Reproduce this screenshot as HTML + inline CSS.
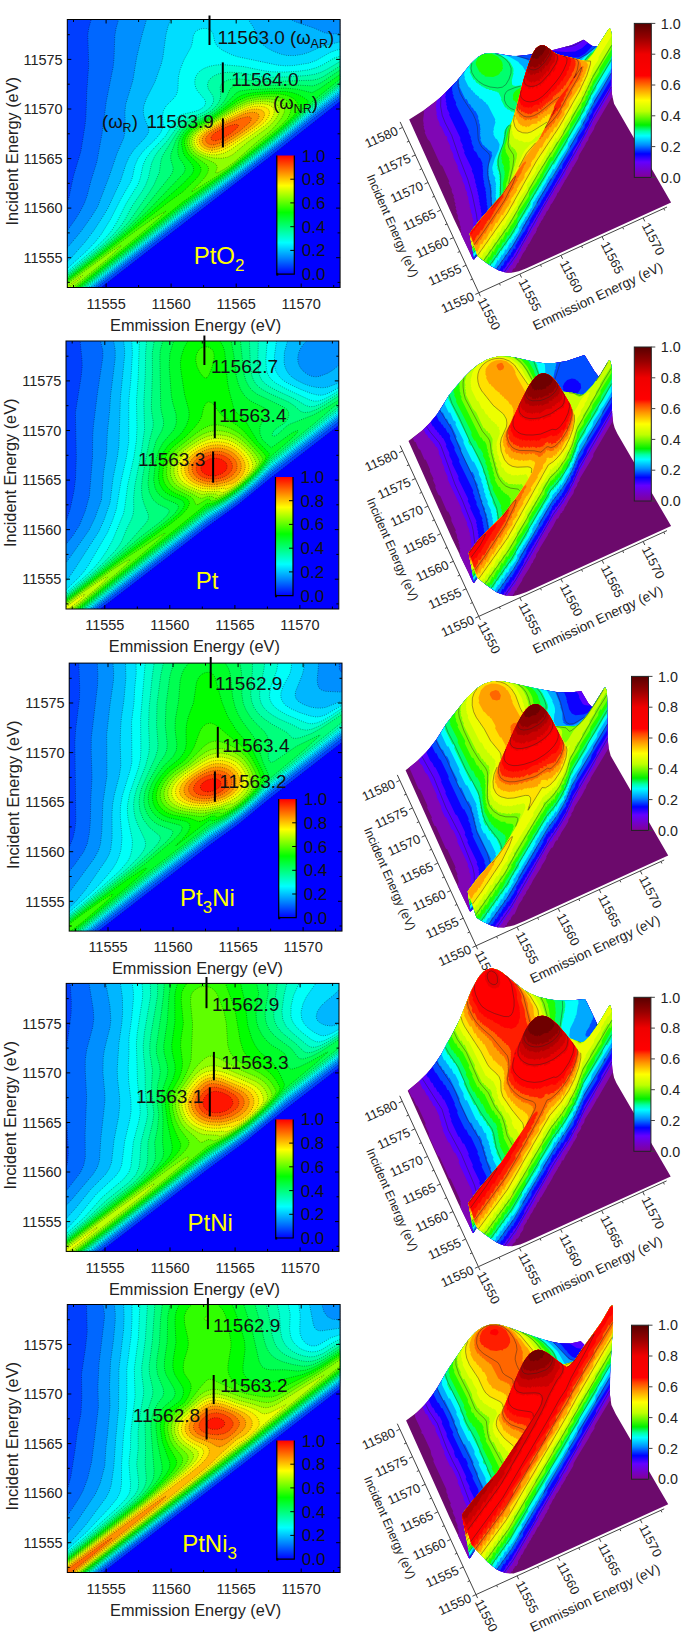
<!DOCTYPE html><html><head><meta charset="utf-8"><style>
html,body{margin:0;padding:0;background:#fff;width:685px;height:1638px;overflow:hidden}
svg{position:absolute;left:0;top:0}
text{font-family:"Liberation Sans",sans-serif}
.k{stroke:#000;stroke-opacity:.55;stroke-width:.7;stroke-dasharray:1 1.3}
</style></head><body>
<svg width="685" height="1638" viewBox="0 0 685 1638">
<clipPath id="c2_0"><rect x="67.3" y="19.5" width="272.8" height="268.0"/></clipPath>
<g clip-path="url(#c2_0)">
<rect x="67.3" y="19.5" width="272.8" height="268.0" fill="#0000ff"/>
<path class="k" fill="#003eff" d="M101 288.3l-34.5-0.1 0-269.4 274.1-0.1 0 83.1-1 0-68 53.7-126 97.3-44.2 34.4z"/>
<path class="k" fill="#0067ff" d="M97 288.3l-30.5-0.1 0.1-86.5 1 0 1.4-4.5 4.4-21 7.5-25 4.1-25.7 0.9-8.7 0.9-25.6 1.9-26-0.9-30.4 0.9-6.6 2.7-9.4 249.2-0.1 0 79.7-1 0-27.5 21.4-38.1 30.7-43.4 33.9-48 36.4-85.1 66.4 0 1z"/>
<path class="k" fill="#008fff" d="M94.6 288.3l-28.1-0.1 0.1-58 1 0 7.8-11 4.9-8 4.1-8 2.7-7.4 4-15.6 5.8-18.4 5.2-28.6 4.2-32 6.8-34 0.9-8.4 0.8-23 1.3-7.6 2.7-9.4 221.8-0.1 0 77.2-1 0-27.6 21.4-32 26.2-46 36-51.4 39-37.5 29.3-50.4 39.4z"/>
<path class="k" fill="#00b6ff" d="M92 288.3l-25.5-0.1 0.1-40.7 1 0 13.5-16.3 10-14 6.5-10.4 11.8-31 7.6-22.4 6.8-15.6 1.5-8-0.4-17.6 0.8-8 7.1-23.4 3.9-23.6 5-21 5-17.4 144.6 0 0 1 5.3 2.4 17 5.7 11 4.9 7.4 1.2 8.6-0.6 0 60.3-1 0-27.6 21.5-38 31.3-43.4 34-48 36.1-90.2 70.6 0 1z"/>
<path class="k" fill="#00ddff" d="M90 288.3l-23.5-0.1 0.1-26.7 1 0 3.6-3.7 14.1-16 8.3-11 9.4-14.4 4.9-8.2 12.7-27.4 5.3-16.6 3.3-7.4 4.7-7 10.9-11.6 3.4-5 0.6-2.4-0.3-3-3.6-8.6-1.4-5-0.2-4 0.4-4 2.6-7.4 8.7-17 6.2-17.6 1.6-6.4 3.1-23 2-8 2.9-8 77.7 0 0 1 4.9 7.4 5.1 12 3.8 5 4.5 3.6 6.4 3.4 7.4 2.9 6.4 1.4 7.6 0.1 8.6-1.4 5.8-1.9 14.6-6.6 17-3.9 0 50.1-1 0-27.6 21.5-39.4 32.6-43 33.7-47 35.2-92.2 72.3 0 1z"/>
<path class="k" fill="#00fff9" d="M88.6 288.3l-22 0 0-20 1-0.1 18.8-17 8.6-9 6.3-8 9.3-15.1 10-19.6 10-17.4 1.7-4.3 2.5-12 3.3-7.6 5.1-7 13.2-13 4.6-6 2.2-6.4-0.7-10 0.9-5 2.8-5 8.1-8 2.5-4 1.1-4.6 0.5-12 1.7-7.4 3.9-10 7-12.6 1.2-4 1.2-8 2.2-3.6 3-2 4-1.1 4 0 3.6 1.3 2.7 3.4 2 9 2.3 4 5.1 4 9.4 4.6 6.1 2 40.2 8.4 7.6 0.6 7.4-0.2 15.6-2.4 7.4-2.6 14-8.1 6.6-2.4 4-0.9 0 40.9-1 0-27.6 21.5-32 27-45 35.4-52.4 39.4-37.5 29.4-56.5 44.4z"/>
<path class="k" fill="#00ffd0" d="M86.6 288.3l-20 0 0-16.9 1 0 2-1.6 25.9-22 9.8-9.6 6.2-7.4 5.3-8.6 9.2-18.4 12.1-19.6 2.2-6 2.7-13 3.1-7 5.5-7.4 13.8-14.6 10.8-17.4 2.6-2.6 3.2-1.7 12-2.8 5-1.7 3.1-1.8 2.5-2.4 1-2.6-0.4-3-7.8-9.4-1.6-3-0.9-3.6-0.1-3.4 0.8-3.6 1.5-3 2.6-3 3.9-2.6 5.4-2.2 6.6-1.3 7-0.5 20.4 1.9 20.6 4.2 8 1.1 13 0.3 14.5-0.9 9.7-1.4 7.8-2.2 6.2-2.8 11.2-6.7 6.6-2.1 0 32.4-1 0-27.6 21.6-20.4 17.7-19.6 15.9-42 32.9-47.4 35.4-95.6 75.3 0 1z"/>
<path class="k" fill="#00ffa6" d="M85 288.3l-18.4 0 0-14.8 1 0 3.4-2.7 31.6-26 10.6-10 7.4-8.6 4.6-7 6.8-13 10.2-15 3.4-6 2.8-7.4 3.2-14.6 3.1-7 3.8-5.4 9.1-10.4 12-16.9 3-3 2.4-1.6 13.6-4.4 5.4-2.4 4.2-2.9 3.3-3.4 2-4 0.1-3.6-1.1-3-4.1-6-1-4 1-4 2.7-3.4 3.5-2.3 4.4-1.8 5-1.1 6-0.4 10.6 0.6 18.4 3.6 9 0.9 19-0.4 20-1.4 8-1.3 6.6-2.2 5.6-2.8 12.3-7.4 1.1-0.1 0 24.9-1 0-27.6 21.7-19.3 16.9-20.1 16.7-43 33.7-47 34.9-97.2 76.7z"/>
<path class="k" fill="#00ff7c" d="M83.6 288.3l-17 0 0-13.1 1 0 39-31.4 12.7-11.6 9.3-10 21.1-30.4 4.3-7 5.4-12.6 1.5-11.4 1.5-5 14.1-22.6 5-6.4 4.5-4.1 4-2.2 16-6.4 5.1-3.3 4.3-4 3.1-4 1.6-3.6 0.6-4-0.5-8 0.8-2.4 1.7-2 5.3-2.9 7-1.1 6 0.2 14.2 2.2 8.4 0.6 49-1.6 5-1.1 5.4-2.3 16.6-10.5 1 0 0 18.5-1 0-27.6 21.7-19.2 17.3-19.8 16.4-43 33.8-47.4 35.1-98.8 78.1z"/>
<path class="k" fill="#00ff52" d="M82 288.3l-15.4 0 0-11.6 1 0 44.4-35.5 14.6-13 11-11.4 32.1-40 2.7-4 0.9-4.6-2.6-9 0.1-5 4.9-13.4 4.8-8.6 4.1-4.6 4.4-3.6 18.4-8.2 9.2-6.6 4.6-4.4 3.2-4 2.3-4 2.9-6.8 2-2.6 3.4-1.8 4.6-0.7 20.4 0.9 29.6-1.1 23 1.2 4-1.2 5-2.3 18-12.1 1 0 0 12.3-1 0-27.6 21.9-18 16.7-20.8 17.6-43.2 34-47.4 34.8-100.3 79.6z"/>
<path class="k" fill="#00ff29" d="M80.6 288.3l-14 0 0-10.3 1 0 33.6-26.2 28.3-23.6 18.3-17.4 35.9-37.6 1.3-3 0.1-2.4-1.2-3-4.1-6-1.4-3-0.6-4 0.2-6 1-5 2.2-5 3.2-4.6 4.1-4 5.3-3.4 14.2-6.4 6-3.6 10.4-8.6 11.6-12.1 3.6-2 9.4-1.4 36-1.6 12.2 1.1 14.8 3.5 7.6-4 20-13.9 1 0 0 4.7-1 0-27.6 22.4-14.8 14.9-20.1 17.4-47.1 37.3-47.4 34.6-101.9 81.1z"/>
<path class="k" fill="#01ff00" d="M79 288.3l-12.4 0 0-9 1 0 29.1-22.5 32.6-26 53.3-46.8 9.4-9.8 1.6-3.4-0.1-3.6-1.7-3-7.5-9-1.3-3.4-1.4-7.6 0.4-4 1.9-4.4 2.9-4 3.6-3.6 6.2-3.9 15-7.1 10.1-7 15.9-12.7 4-2.2 5-1.6 8-1.2 15-1.2 16.4 0.2 6.6 1.2 5.4 1.9 5.2 2.6 4.9 3.6-0.2 1.4-1.5 2.6-6.7 7.4-10.4 10-13.3 11.6-46 36.4-47.4 34.1-103.5 82.9z"/>
<path class="k" fill="#30ff00" d="M77 288.3l-10.4 0 0-7.7 1 0 44.4-34.1 55.6-43.8 15-10.7 12.2-11.8 3.9-4.4 2.4-5-0.5-4-2.2-3-9.8-9.2-2-3.4-2-6.4-0.1-3.6 1.2-4 2.5-4 3.4-3.5 6.4-4.3 15.6-7.6 25-17.4 9-3.9 7-1.4 8.4-0.9 9-0.4 7.6 0.3 5.4 0.9 4.6 1.4 4 2.2 2.8 2.6 2.7 5.6 0.2 1.4-0.7 1.6-7.3 8.4-13.7 12.6-48.1 38.4-46.9 32.9-105.2 85.1z"/>
<path class="k" fill="#5fff00" d="M192.6 191.3l-1 0.3-0.1-0.4 9.5-9.4 4.3-5 2.4-4 0.9-3.6-0.5-2.4-1.4-2-13.7-9.8-2.8-3.2-1.8-3.6-1.4-4.4 0.2-4 2-4.6 3.4-4 6.4-4.7 16.3-8.3 22.7-14.8 9.6-4.3 12-2.3 13.4-0.3 9.6 1.7 3.2 1.6 2.6 2 1.7 2.4 0.8 2.6 0 3-0.8 3.4-2.3 5-7.5 8-50.9 41.6-10.9 7.4zM75 288.3l-8.4 0 0-6.3 1 0 72.4-54.3 16-10.9 10-5.8-5.5 5.8-21 18-64.1 52.4z"/>
<path class="k" fill="#8fff00" d="M217.6 172.8l-2.1 0 1.7-5-0.4-2-1.2-1.8-2.7-1.8-14.9-6.8-3.9-3.2-2.5-3.2-1.9-4.2-0.3-4 1.3-4 2.8-4 7.2-5.6 14.3-7.3 23.6-14.4 9-4 10-2.2 11-0.4 8.4 1.3 3 1.4 2.4 1.6 2.2 4-0.3 5-2.9 6-5.4 6.9-6.4 6.7-12.6 10.1-22.4 19.9-9.6 6.9zM72.6 288.3l-6 0 0-4.7 1 0 41.4-30.4 9-6 3-1.6 0.5 0.2-14.4 13.4-34.1 28 0 1z"/>
<path class="k" fill="#beff00" d="M221.6 158.3l-7.6-0.3-7-1.4-6.4-2.6-4.6-3.2-3.3-4.6-1-4.4 1-4.6 3.3-4.4 7-5.2 13-6.8 22-12.9 9-4.1 9-2.1 9-0.5 7.6 1.2 4.9 2.8 1.8 3.6-0.6 5-3 5.4-4.9 5.6-6.2 5.2-17.7 12.8-14.3 11.9-5 2.5zM68.6 288.3l-2 0 0-1.9 1 0 12.4-9.6 2.6-1.3-2.6 3.1-11.3 8.6z"/>
<path class="k" fill="#edff00" d="M217 154.8l-6 0-6-1.3-5-2.4-3.6-3.3-2-4-0.2-4 1.7-4 3.7-4 5.4-3.8 31-17.1 11-4.9 8-2 7.6-0.3 6.2 1.1 4.1 2.4 1.5 3.6-0.8 4.4-3.1 5-5 5-34.5 24.3-7 3.6z"/>
<path class="k" fill="#ffe500" d="M215.6 152.3l-5 0.1-5-1-4.6-2.4-3.1-3.2-1.3-3.6 0.3-3.4 1.8-3.6 3.3-3.3 5.6-3.7 27.4-14.7 11.6-5.2 6.4-1.7 6.6-0.4 5.4 0.9 3.4 2.1 1.2 3-0.8 4-2.9 4.6-4.8 4.4-9.1 6.6-22.4 14.9-7.6 3.8z"/>
<path class="k" fill="#ffba00" d="M212 150.3l-4-0.5-3.8-1.6-3.1-2.4-1.5-2.6-0.5-3 0.9-3 2-2.8 3-2.6 5.6-3.6 17-8.9 18-8.4 6-1.6 5.4-0.3 4.1 0.8 2.8 2 0.8 3-1.5 4-3.5 4-5.5 4.4-16.6 11.5-11 6.8-8 3.5z"/>
<path class="k" fill="#ff9000" d="M213 147.8l-3.4-0.1-3-1.1-2.6-1.8-1.6-2.6-0.3-2.4 0.7-2.6 1.8-2.4 2.8-2.6 17.2-9.5 19-8.6 5-1.4 4.4-0.5 3.4 0.6 2.1 1.4 0.6 2.6-1.8 3.4-3.4 3.6-6.3 5-12.3 8.4-9.3 5.7-7 3.3z"/>
<path class="k" fill="#ff6700" d="M214 144.8l-3 0-2.4-0.8-1.8-1.2-1.1-2-0.1-2 0.8-2 3.9-4 13.4-7.6 15.9-6.6 7.4-1.9 2.6 0.1 1.5 1 0.2 2-1.9 3-10.6 9-14.2 9.1-5.6 2.5z"/>
<path class="k" fill="#ff3e00" d="M216 140.8l-3.4-0.2-1.9-1.8 1-3 3.3-3 6.1-3.6 8.3-3.4 6.1-1.6 2.8 0.6 0 1.4-1.5 2-6.4 5.6-8.4 4.9z"/>
</g>
<rect x="67.3" y="19.5" width="272.8" height="268.0" fill="none" stroke="#000" stroke-width="1"/>
<path d="M73.5 287.5v-2.5M73.5 19.5v2.5M106.1 287.5v-4.0M106.1 19.5v4.0M138.6 287.5v-2.5M138.6 19.5v2.5M171.1 287.5v-4.0M171.1 19.5v4.0M203.6 287.5v-2.5M203.6 19.5v2.5M236.2 287.5v-4.0M236.2 19.5v4.0M268.7 287.5v-2.5M268.7 19.5v2.5M301.2 287.5v-4.0M301.2 19.5v4.0M333.7 287.5v-2.5M333.7 19.5v2.5M67.3 282.4h2.5M340.1 282.4h-2.5M67.3 257.7h4.0M340.1 257.7h-4.0M67.3 232.9h2.5M340.1 232.9h-2.5M67.3 208.1h4.0M340.1 208.1h-4.0M67.3 183.3h2.5M340.1 183.3h-2.5M67.3 158.6h4.0M340.1 158.6h-4.0M67.3 133.8h2.5M340.1 133.8h-2.5M67.3 109.0h4.0M340.1 109.0h-4.0M67.3 84.2h2.5M340.1 84.2h-2.5M67.3 59.4h4.0M340.1 59.4h-4.0M67.3 34.7h2.5M340.1 34.7h-2.5" stroke="#000" stroke-width="1" fill="none"/>
<text x="106.1" y="308.8" font-size="14.5" text-anchor="middle" fill="#222">11555</text>
<text x="171.1" y="308.8" font-size="14.5" text-anchor="middle" fill="#222">11560</text>
<text x="236.2" y="308.8" font-size="14.5" text-anchor="middle" fill="#222">11565</text>
<text x="301.2" y="308.8" font-size="14.5" text-anchor="middle" fill="#222">11570</text>
<text x="62.7" y="262.9" font-size="14.5" text-anchor="end" fill="#222">11555</text>
<text x="62.7" y="213.3" font-size="14.5" text-anchor="end" fill="#222">11560</text>
<text x="62.7" y="163.8" font-size="14.5" text-anchor="end" fill="#222">11565</text>
<text x="62.7" y="114.2" font-size="14.5" text-anchor="end" fill="#222">11570</text>
<text x="62.7" y="64.6" font-size="14.5" text-anchor="end" fill="#222">11575</text>
<text x="110.1" y="330.6" font-size="16.3" fill="#222">Emmission Energy (eV)</text>
<text transform="translate(17.5 151.3) rotate(-90)" font-size="16.3" text-anchor="middle" fill="#222">Incident Energy (eV)</text>
<linearGradient id="g2_0" x1="0" y1="0" x2="0" y2="1"><stop offset="0.000" stop-color="#ff0000"/><stop offset="0.130" stop-color="#ff8000"/><stop offset="0.255" stop-color="#ffff00"/><stop offset="0.480" stop-color="#00ff00"/><stop offset="0.735" stop-color="#00ffff"/><stop offset="0.870" stop-color="#0080ff"/><stop offset="1.000" stop-color="#0000ff"/></linearGradient>
<rect x="276.8" y="155.5" width="17.5" height="118.6" fill="url(#g2_0)"/>
<path d="M276.8 155.5V274.1H294.3V155.5" stroke="#000" stroke-width="1.2" fill="none"/>
<path d="M276.3 274.4h2" stroke="#000" stroke-width="2.5"/>
<path d="M294.3 250.4h-4M294.3 226.7h-4M294.3 202.9h-4M294.3 179.2h-4" stroke="#000" stroke-width="1"/>
<text x="301.8" y="280.1" font-size="17" fill="#111">0.0</text>
<text x="301.8" y="256.4" font-size="17" fill="#111">0.2</text>
<text x="301.8" y="232.7" font-size="17" fill="#111">0.4</text>
<text x="301.8" y="208.9" font-size="17" fill="#111">0.6</text>
<text x="301.8" y="185.2" font-size="17" fill="#111">0.8</text>
<text x="301.8" y="161.5" font-size="17" fill="#111">1.0</text>
<path d="M209.5 15.5V45.0" stroke="#000" stroke-width="2"/>
<path d="M222.8 62.4V92.6" stroke="#000" stroke-width="2"/>
<path d="M222.9 118.3V147.4" stroke="#000" stroke-width="2"/>
<text x="217.6" y="44.0" font-size="19" fill="#111">11563.0</text>
<text x="231.2" y="85.6" font-size="19" fill="#111">11564.0</text>
<text x="146.6" y="127.7" font-size="19" fill="#111">11563.9</text>
<text x="290.0" y="44.0" font-size="18.5" fill="#111">(&#969;<tspan font-size="12.5" dy="4">AR</tspan><tspan dy="-4">)</tspan></text>
<text x="273.0" y="109.0" font-size="18.5" fill="#111">(&#969;<tspan font-size="12.5" dy="4">NR</tspan><tspan dy="-4">)</tspan></text>
<text x="102.0" y="128.0" font-size="18.5" fill="#111">(&#969;<tspan font-size="12.5" dy="4">R</tspan><tspan dy="-4">)</tspan></text>
<text x="193.7" y="263.6" font-size="24" fill="#ffff00">PtO<tspan font-size="17" dy="7">2</tspan></text>
<clipPath id="c2_1"><rect x="66.0" y="341.0" width="272.8" height="268.0"/></clipPath>
<g clip-path="url(#c2_1)">
<rect x="66.0" y="341.0" width="272.8" height="268.0" fill="#0000ff"/>
<path class="k" fill="#003eff" d="M100.2 609.8l-35 0 0-269.6 274 0 0 85.5-1 0-67 51.7-33 27.1-31.7 22.7-105.9 81.6z"/>
<path class="k" fill="#0067ff" d="M96.8 609.8l-31.6 0 0-89.5 1 0 0.5-1.1 3.5-10.4 3.9-18.6 1.4-11.4 0.8-21.6-0.9-44.4 5.8-36.6 1-10-0.2-6.4-2-19.6 259.2 0 0 82-1 0-67 51.8-17 14.8-15 12.2-15 11.1-17.4 11.8-110 84.9z"/>
<path class="k" fill="#008fff" d="M93.8 609.8l-28.6 0 0-65.7 1 0 6.6-8.3 6.7-10.6 5.8-14.4 4.1-15 3.1-38.6 0.2-21 0.7-10.4 3.9-31.6 5.6-37.4-0.1-6.6-2.6-10 239 0 0 79.3-1 0-67 52-17.4 15.6-14.6 11.9-15 11-17.4 11.5-112.7 87.3z"/>
<path class="k" fill="#00b6ff" d="M91.8 609.8l-26.6 0 0-47.4 1 0 4-5.4 18.8-26.8 5.8-11.9 6.7-18.5 2-26.6 3.1-20.4 0.7-19 2.3-22.6 1-16 4.6-37 0-8-1.7-10 192.9 0 0 1-3.7 4-2.8 4.6-1.5 4-0.6 4 0.2 4 1.3 4 2.1 3.4 3.4 3.3 3.4 2.3 4 1.6 3.6 0.4 3.4-0.4 8.6-3.2 5.5-3.4 4.9-4.2 1 0 0 51.7-1 0-67 52.2-17 15.5-15 12.3-15 11-17.4 11.3-115 89.2z"/>
<path class="k" fill="#00ddff" d="M89.8 609.8l-24.6 0 0-28.6 1 0 6.6-9.2 26.2-40.8 5.2-11.8 5.8-16.6 3.1-25 4.4-21.6 1.4-11 1.5-47 4.3-43.4-0.1-5.6-1.1-9 164.3 0-3.4 12-0.3 10 0.7 4 1.6 4 2.3 3.6 2.9 3 5.1 3.4 7.1 3.6 6.4 2.3 6.6 1.3 5.4 0.4 5-0.6 12-4.4 0 32.5-1 0-67 52.3-17 15.8-15 12.5-15 11-17.4 11-116.9 90.9z"/>
<path class="k" fill="#00fff9" d="M87.8 609.8l-22.6 0 0-20.2 1 0 11.9-11.4 5.7-6.4 4.6-6.6 19.3-33 5.3-13 3.3-10 4.6-27.4 5.6-25 2.2-14.6 0.1-41.4 2-20.6 1.6-26.4-0.6-13.6 144.8 0-2.2 16 0.3 10.6 1.1 4 1.8 3.4 2.7 3.6 3.4 3 5.8 3.4 10.7 5 11 4.3 6.6 1.6 4 0.1 4-1 5.4-2.3 7-4.1 1 0 0 25.5-1 0-67 52.6-17 16.2-15.4 12.9-15 10.9-17 10.4-63 48.8-55.7 43.7z"/>
<path class="k" fill="#00ffd0" d="M86.2 609.8l-21 0 0-17.1 1 0 20.7-17.9 8-8 6.2-7.6 6-9 5.5-10 10.9-26.4 1.2-6 3-22.6 6.3-28.4 2.4-16 0.6-12.6-0.5-27.4 1.7-23 1.2-37.6 127.8 0-1.4 20 0.6 9.6 1.2 4 1.9 3.4 2.6 3 3.7 3 10.9 6 22.5 10.5 5 1.5 4-0.2 5-1.5 6.6-3.3 8.4-5.3 1 0 0 20.5-1 0-67 52.8-16.4 16-15.6 13.3-15.4 11.1-17 10.2-120.3 94z"/>
<path class="k" fill="#00ffa6" d="M84.8 609.8l-19.6 0 0-15.1 1 0 27.6-22.9 11.8-11 9.6-10 3.8-5 2.9-5 4.8-12 4.8-9.6 1.6-5 0.7-5.4-0.2-11 1.2-12 6.6-34 3.2-22.6-0.8-26.4 1.4-26 0.5-25 0.9-11.6 111.7 0-0.5 23 1 9.6 1.2 4 1.9 3.4 2.3 2.6 3.9 3 7.7 4.3 18.7 8.7 11.3 6.7 4 1.2 4.4-0.3 6-2.1 8-4.3 10-6.4 1 0 0 15.8-1 0-67 53.1-16.1 16.3-15.3 13.2-16 11.5-17 9.8-63 49-58.8 46.5z"/>
<path class="k" fill="#00ff7c" d="M83.2 609.8l-18 0 0-13.6 1 0 25.5-20.4 28.3-24.6 8.5-8.4 16.4-18.6 2.3-3 1.1-2.4 0.2-2.6-0.5-2.4-4-10-1.6-5.6-0.7-5.4-0.1-6.6 0.8-8.4 3.6-19.6 3.4-17 3.8-15 0-4.4-1.6-10.6-0.2-6 1-32.4-0.1-20 2-12.6 95.1 0 1 25.6 1.5 10 1.7 4.4 2.1 3.6 3.1 3.1 4 2.9 7 3.8 19.2 8.6 5.3 3.6 6 5.4 3.9 1.4 5.6-0.6 7-2.7 9.4-5.2 12-7.9 1 0 0 10.8-1 0-67 53.7-13.7 14.5-13.7 12.5-18.6 13.7-18.4 10.5-63 49-60.3 47.9z"/>
<path class="k" fill="#00ff52" d="M81.8 609.8l-16.6 0 0-12.2 1 0 27-21.4 47-39 20.2-15.4 6-5.6 2.6-4 0-2-1.2-1.4-10-4.8-5-4.6-3.5-7.2-1.3-8.4 0.8-10 2.2-13.6 2.1-9 3-10.4 5.7-10 1.8-6-0.2-5-2.2-9-0.5-4.6-0.8-49 0.4-7 2.7-10 77.4 0 3.4 33 1.9 7 3 6 3.5 4.3 4.9 3.7 26 12.6 3.6 2.4 1.8 2.6 0.3 4-1.6 4.2-3 3.4-7.4 4.7-3 2.7-1.7 3.4 0.1 1.1 1 0.9 2-0.3 2.6-1.6 8.4-7.9 3-2 24-9.4 9-4.9 16-9.8 1 0 0 2.6-1 0-23.4 20.3-43.6 35.6-14.4 16-15.6 13.9-17 12.2-17.4 9.4-63 49.3-61.8 49.2z"/>
<path class="k" fill="#00ff29" d="M80.2 609.8l-15 0 0-11 1 0 71.6-56.2 28.4-21.4 8.4-7.4 3.7-5.6 0-2.4-1.5-1.9-12.6-5.3-5.4-4.3-2.2-3.1-1.6-3.4-1.4-8 1.8-17.6 3.3-11.4 4.2-8 10.6-12.6 1.9-4 1-4-0.3-8-3.4-11.4-1.4-7.6-2.1-29 0.7-13 4-13 57.1 0 2.8 14.6 2.5 21.4 2 7.6 2.5 6 3.4 5.4 4 4.1 4.6 2.9 11.4 5.5 2.5 2.1 1.3 2 0.2 1.4-0.5 2-6 7.6-1.9 4.4 0.2 6.6 2.4 6 8.8 8 21-15.1 5-2.2 0.9 0.3-0.3 1-1.8 2.4-4.6 4.6-20.2 17.3-5.7 7.7-7 8-8.2 8-8.6 7.4-8.9 7-9 6-8.6 4.7-8.4 3.8-63 49.5-63.2 50.6z"/>
<path class="k" fill="#01ff00" d="M78.8 609.8l-13.6 0 0-9.9 1 0 67-51.4 35.7-26.3 9.8-8.4 4.8-6 1-3.6-1.4-3-2.3-1.5-12-5.1-3.5-2.4-2.5-2.6-3.3-5.8-1.1-7 1.4-14.6 1.4-5 2.2-5 4.8-6.9 9.8-8.5 4.5-5 4-6.6 2.2-6.4 0.4-4-0.3-4.6-4.3-16-3.7-24.4-0.4-7 0.8-6 2.8-9 3.7-6.6 0-1 32.5 0 0 1 3.1 5.6 1.5 5.4 2.7 30 1.9 9.6 4.5 17 1.9 3 6.6 6 3.4 3.8 11.7 19.6 11.7 12.2 0.1 1.4-1 2.4-4.3 6.6-6.8 8-8 8-9.3 8-9.1 6.8-9 5.6-8 4.1-7 2.4-63 49.9-64.6 52.2 0 1z"/>
<path class="k" fill="#30ff00" d="M206.8 377.8l-1.6 0.3-1.4-0.8-3.6-4.3-3.1-6.2-1.4-6.6 0.5-5 1.9-4.4 3.1-3 4-1.1 3.6 0.5 3 1.9 1.7 2.7 0.7 3.4-0.4 5.3-2 7.3-3 7.4zM77.2 609.8l-12 0 0-8.7 1 0 54-40.9 51-36.8 10.6-8.6 5.8-6.6 1.8-4.4-0.2-2-1.1-2-3.3-2.5-9-3.9-4.6-2.6-3.5-3-2.9-4-1.5-4-0.6-4.6 1-12 2.4-7 4.1-6.4 4-3.9 10.8-8.7 9.2-9.4 4.8-6 2.5-4.6 2.1-9.4 2.2-4.2 2.4-1.8 3 0.7 3 2.8 4.9 6.9 3.3 3.6 14.8 9.7 6 4.9 11.2 12.8 8.1 8.6 3.4 4.4-0.5 2.6-1.9 3.4-4.5 6-5.9 6.6-14.3 12.8-10 7.3-9 5.2-7.6 3.1-5.4 0.5-129.1 105.1 0 1z"/>
<path class="k" fill="#5fff00" d="M198.2 504.4l-1.4 0.3-1-0.4-2.5-5.1-2.5-2.4-14.6-7.3-3.6-2.7-3-3.6-2.3-5-0.8-5.4 0.5-7 1.7-6 3.3-6 4.6-5 20.2-16 8-5.1 5.4-2.2 5.6-0.7 6.4 0.8 7.6 2.5 9 4.8 8 7 13.5 14.9 2.5 4-0.7 2.4-4.1 6.6-7.6 8.4-9.3 8.6-10.3 7.7-7.6 4.6-6.4 2.9-5 1.1-1.6-0.6-0.5-1.3-2.5-0.2zM75.8 609.8l-10.6 0 0-7.6 1 0 32.6-24.5 30-21.5 28.9-19 5.8-3.4 1.7-0.6-5.5 5.6-29 25-54.7 45z"/>
<path class="k" fill="#8fff00" d="M216.2 498.3l-2-0.1-1.4-1.6-5.6-0.3-4.4 1.8-3 0-7.6-4.3-11.6-5.6-4.7-3.4-3.2-4-2-5-0.5-5.6 0.8-6 2.1-5.4 3.4-5 4.6-4.6 13.7-10.1 7.4-4.7 7.6-2.9 8-0.9 5.4 0.6 5.6 1.4 5.4 2.3 5 3.1 6 5.1 8 8.1 4.2 5.6 2.2 4.4-1.2 3.6-3.8 5.4-5.5 6-7 6.6-6.9 5.4-7.4 5.1-6.6 3.4zM73.8 609.8l-8.6 0 0-6.4 1 0 12.6-9.6 34.5-24.6 11.9-7.5 4-1.9 1 0-3.6 4.4-9.8 9-42.6 35.6 0 1z"/>
<path class="k" fill="#beff00" d="M220.2 495.3l-2.4 0.2-1.6-1.5-9-0.2-3.4 0.7-2.6-0.1-14.4-6.2-5.6-3.3-3.7-3.7-2.3-4-1.3-5 0.2-5.4 1.4-5 2.7-5 4-4.6 8-6.3 10-6.4 7-3.1 6.6-1.4 6-0.1 6 0.9 6 1.9 5.4 3 6.6 5.1 6.7 7 3.8 5.4 2.1 5.6-1.1 3-3.1 4.4-10.3 10.6-12 9-5.4 3zM71.8 609.8l-6.6 0 0-5 1 0 12.6-9.6 18.9-13 7.5-4.5 2.3-0.5-2.8 3.6-6.4 6-19.1 16.4-7.2 5.6z"/>
<path class="k" fill="#edff00" d="M223.8 492.3l-2.6 0.2-1.4-1.2-16.6 0.3-6.4-2-7.6-3.2-5-3.2-3.8-4-2.2-4.4-0.7-5 0.6-5 1.8-4.6 3.1-4.4 4.8-4.6 7-5 7-4 6.4-2.6 6-1.1 6.6 0.1 6.4 1.2 6 2.3 6 3.9 6.4 5.8 4.3 5.4 2.3 5 0.6 3.6-0.3 2-2 3.4-3.8 4.6-5.7 5.4-6.2 5-6.4 4zM68.2 609.8l-3 0 0-2.9 1 0 12.6-9.5 6.1-3.2-1.3 2-4.5 4.6-10.4 8 0 1z"/>
<path class="k" fill="#ffe500" d="M214.8 489.3l-13-0.8-7.6-2.7-5.5-3-4-3.6-2.5-4-1.1-4.4 0.3-5 1.9-5 3.7-5 5.2-4.6 7-4.5 6.6-3 6-1.6 6-0.4 6.4 0.7 5 1.4 5 2.4 5 3.6 4.1 4 3 4 1.9 4 0.9 4-0.4 4-1.8 3.4-4.4 5-5.8 5-5.9 4-4.6 1.9-1.4-0.2-0.6-0.7z"/>
<path class="k" fill="#ffba00" d="M216.8 486.8l-6 0.1-7-0.6-5.6-1.7-5-2.3-4-2.9-2.5-3.2-1.6-3.4-0.5-4.6 0.9-4.4 2.1-4 3.5-4 4.4-3.6 5.7-3.4 6-2.5 5.6-1.2 5.4-0.3 5 0.6 5 1.4 4.6 2.1 4 2.8 3.6 3.5 2.9 4 1.6 4 0.4 3.6-0.8 4-2.1 4.4-2.5 3-4.1 3.6-4.6 2.4-1.4-0.3-6.6 1.9z"/>
<path class="k" fill="#ff9000" d="M217.2 484.3l-5.4 0.2-6-0.5-8.6-2.8-3.9-2.4-2.5-2.7-1.9-3.3-0.7-3.6 0.3-3.4 1.4-3.6 2.3-3.4 3.3-3 4.3-3 5-2.5 5-1.6 5-0.8 4.4 0 4.9 0.9 4.1 1.4 4 2.1 3.7 2.9 2.9 3.6 1.8 3.4 0.7 3.6-0.3 3.4-1.3 3-2.1 3-2.7 2.6-3.9 2.4-4.2 1.9z"/>
<path class="k" fill="#ff6700" d="M216.8 481.8l-9-0.1-4-0.9-4.1-1.6-3.1-2-2.5-2.4-1.4-2.6-0.7-3 0.2-3 1-3 2-3 2.6-2.4 7.4-4.6 8.6-2.1 8 0.4 7.4 2.9 5.5 4.8 1.7 3 0.7 3-0.1 3-0.8 2.6-4.1 5-6.9 3.9z"/>
<path class="k" fill="#ff3e00" d="M213.8 479.3l-8.4-1.1-3.6-1.4-2.6-1.8-2-2.4-1-2.8 0-3 0.8-2.6 2-3 2.8-2.4 3.4-2.1 4-1.5 4.6-0.9 4 0 4 0.7 3.4 1.4 4.1 2.8 2.5 3.6 0.8 4-1 3.4-2.7 3.6-4.1 2.7-5 1.9z"/>
<path class="k" fill="#ff1500" d="M215.8 475.8l-4 0.2-4-0.6-3-1.3-2.6-2.1-1.2-2.2-0.1-3 1.1-2.6 2.3-2.4 5.5-2.9 6-0.8 5.5 1.1 4.2 3 1.2 2 0.4 2-0.2 2-1.1 2.3-4 3.3z"/>
</g>
<rect x="66.0" y="341.0" width="272.8" height="268.0" fill="none" stroke="#000" stroke-width="1"/>
<path d="M72.2 609.0v-2.5M72.2 341.0v2.5M104.8 609.0v-4.0M104.8 341.0v4.0M137.3 609.0v-2.5M137.3 341.0v2.5M169.8 609.0v-4.0M169.8 341.0v4.0M202.3 609.0v-2.5M202.3 341.0v2.5M234.9 609.0v-4.0M234.9 341.0v4.0M267.4 609.0v-2.5M267.4 341.0v2.5M299.9 609.0v-4.0M299.9 341.0v4.0M332.4 609.0v-2.5M332.4 341.0v2.5M66.0 603.9h2.5M338.8 603.9h-2.5M66.0 579.2h4.0M338.8 579.2h-4.0M66.0 554.4h2.5M338.8 554.4h-2.5M66.0 529.6h4.0M338.8 529.6h-4.0M66.0 504.8h2.5M338.8 504.8h-2.5M66.0 480.1h4.0M338.8 480.1h-4.0M66.0 455.3h2.5M338.8 455.3h-2.5M66.0 430.5h4.0M338.8 430.5h-4.0M66.0 405.7h2.5M338.8 405.7h-2.5M66.0 380.9h4.0M338.8 380.9h-4.0M66.0 356.2h2.5M338.8 356.2h-2.5" stroke="#000" stroke-width="1" fill="none"/>
<text x="104.8" y="630.3" font-size="14.5" text-anchor="middle" fill="#222">11555</text>
<text x="169.8" y="630.3" font-size="14.5" text-anchor="middle" fill="#222">11560</text>
<text x="234.9" y="630.3" font-size="14.5" text-anchor="middle" fill="#222">11565</text>
<text x="299.9" y="630.3" font-size="14.5" text-anchor="middle" fill="#222">11570</text>
<text x="61.4" y="584.4" font-size="14.5" text-anchor="end" fill="#222">11555</text>
<text x="61.4" y="534.8" font-size="14.5" text-anchor="end" fill="#222">11560</text>
<text x="61.4" y="485.3" font-size="14.5" text-anchor="end" fill="#222">11565</text>
<text x="61.4" y="435.7" font-size="14.5" text-anchor="end" fill="#222">11570</text>
<text x="61.4" y="386.1" font-size="14.5" text-anchor="end" fill="#222">11575</text>
<text x="108.8" y="652.1" font-size="16.3" fill="#222">Emmission Energy (eV)</text>
<text transform="translate(16.2 472.8) rotate(-90)" font-size="16.3" text-anchor="middle" fill="#222">Incident Energy (eV)</text>
<linearGradient id="g2_1" x1="0" y1="0" x2="0" y2="1"><stop offset="0.000" stop-color="#ff0000"/><stop offset="0.130" stop-color="#ff8000"/><stop offset="0.255" stop-color="#ffff00"/><stop offset="0.480" stop-color="#00ff00"/><stop offset="0.735" stop-color="#00ffff"/><stop offset="0.870" stop-color="#0080ff"/><stop offset="1.000" stop-color="#0000ff"/></linearGradient>
<rect x="275.5" y="477.0" width="17.5" height="118.6" fill="url(#g2_1)"/>
<path d="M275.5 477.0V595.6H293.0V477.0" stroke="#000" stroke-width="1.2" fill="none"/>
<path d="M275.0 595.9h2" stroke="#000" stroke-width="2.5"/>
<path d="M293.0 571.9h-4M293.0 548.2h-4M293.0 524.4h-4M293.0 500.7h-4" stroke="#000" stroke-width="1"/>
<text x="300.5" y="601.6" font-size="17" fill="#111">0.0</text>
<text x="300.5" y="577.9" font-size="17" fill="#111">0.2</text>
<text x="300.5" y="554.2" font-size="17" fill="#111">0.4</text>
<text x="300.5" y="530.4" font-size="17" fill="#111">0.6</text>
<text x="300.5" y="506.7" font-size="17" fill="#111">0.8</text>
<text x="300.5" y="483.0" font-size="17" fill="#111">1.0</text>
<path d="M204.4 335.5V365.0" stroke="#000" stroke-width="2"/>
<path d="M214.8 401.6V438.2" stroke="#000" stroke-width="2"/>
<path d="M213.1 451.5V482.7" stroke="#000" stroke-width="2"/>
<text x="210.9" y="373.3" font-size="19" fill="#111">11562.7</text>
<text x="219.2" y="421.5" font-size="19" fill="#111">11563.4</text>
<text x="138.0" y="466.0" font-size="19" fill="#111">11563.3</text>
<text x="195.8" y="588.8" font-size="24" fill="#ffff00">Pt</text>
<clipPath id="c2_2"><rect x="69.2" y="663.1" width="272.8" height="268.0"/></clipPath>
<g clip-path="url(#c2_2)">
<rect x="69.2" y="663.1" width="272.8" height="268.0" fill="#0000ff"/>
<path class="k" fill="#003eff" d="M98.4 931.9l-30-0.1 0-269.4 274-0.1 0 80.4-1 0-72.4 56.3-30.6 25.2-28.4 20.6-63.1 48.6-48.1 37.4z"/>
<path class="k" fill="#0067ff" d="M94.4 931.9l-26-0.1 0-85.1 1.2-0.3 3.5-9 1.8-8 0.9-8.6-0.9-78.4 0.7-12.6 3.9-31.4 0.2-10.6-0.9-25.4 263.6-0.1 0 76.7-1 0-72.4 56.6-28.6 24.1-30.9 22.1-113.5 88-1.3 1z"/>
<path class="k" fill="#008fff" d="M91.4 931.9l-23-0.1 0-60.7 1 0 5.1-6.3 9.2-13 3.6-8.4 2-10 1-10.6 0.5-24 1.2-21-0.8-26.4 0.1-13.6 6.2-52 0.4-11-0.7-12.4 241.8 0 0.5 7 1.5 2.5 1.4 0.5 0 63.9-1 0-72.4 56.7-15 13.5-13.6 11-13.4 10.1-17.4 11.8-63 48.4-54.9 43z"/>
<path class="k" fill="#00b6ff" d="M89 931.9l-20.6-0.1 0-39.5 1 0 24.8-33.9 4.2-7.6 2.1-7 1.3-12.4 1.1-28.6 4.1-27.4-0.3-41 3.1-28 3.6-25.5 0.3-8.1-0.8-10.4 205.8 0-1.5 18 0.7 5 1.5 3 2.6 1.9 3.4 1 17 0.8 0 41.9-1 0-72.4 56.9-15 13.7-14 11.6-13.6 9.9-16.4 10.9-63 48.5-57.7 45.3z"/>
<path class="k" fill="#00ddff" d="M87 931.9l-18.6-0.1 0-24 1 0 6.5-6.4 9.6-11.6 20.3-29.4 3.2-5.7 1.7-4.9 1.4-12-0.1-24.4 0.6-9 1.7-9.6 5.1-19.4 1.4-9.6-0.6-23.4 0.4-14 0.8-11 2.5-17 2-22.6-0.4-15.4 179.1 0-0.8 6.4-1.5 6-6.7 16.6-0.4 4 0.8 3 2.4 3 5 3 7 2.6 6.6 1.1 4.4 0 4.6-0.8 15.4-6.3 1 0 0 30.9-1 0-72.4 57.1-14.9 13.8-13.7 11.5-13.4 9.9-17 11-63 48.5-59.9 47.1z"/>
<path class="k" fill="#00fff9" d="M85 931.9l-16.6-0.1 0-19.8 1.2-0.2 20.4-18 8.5-8.4 9.3-10.6 5-6.4 3.7-6 2.8-6.6 1.7-6.4 1-11.6-1.7-21 0.1-10 1.9-11 7.7-25 1.9-8.4-0.3-40.6 2.4-19.4 0.6-13 1.6-16-0.2-11 155.7 0-0.5 6-1.1 5-7.1 13-2 6.4-0.2 3.6 0.9 3.4 1.7 3 2.3 2.6 5.3 3.4 8.2 3.6 10.8 3.5 6.4 1.1 4.6-0.6 4.4-1.5 16-9.3 1 0 0 24.3-1 0-72.4 57.3-14.6 13.9-13.4 11.4-14 10.2-17 10.8-63 48.5-61.8 48.8z"/>
<path class="k" fill="#00ffd0" d="M83 931.9l-14.6-0.1 0-17.4 1 0 22.5-18.6 27.3-24.4 8.2-9.6 2.4-4.4 1.4-4.6 1.1-7 0-6-4.3-21.4-0.6-7 0.1-6 2.1-11.6 8.9-26 1.9-8.4 0.5-9.6-0.3-31.4 4.7-56 132.8 0-1.5 8.4-6.1 17-1.1 7.6 0.5 4 1.5 3.4 2.6 3.6 4.1 3.4 8.3 4.9 17 7.1 4.6 1.6 4 0.4 5-0.9 5.4-2.2 7.6-4.3 11.4-7.7 1 0 0 19.2-1 0-72.4 57.5-14.6 14.3-14 11.9-14 10.1-16.4 10.2-63 48.5-63.6 50.4 0 1z"/>
<path class="k" fill="#00ffa6" d="M81.4 931.9l-13-0.1 0-15.5 1 0 20.5-16.5 37.2-31 12.3-12.4 4.1-5.6 1.8-4 0.3-3.4-0.9-4-7.3-15.6-2.2-6-1.3-7-0.3-7 0.8-6.4 2.2-8.6 9-23 3.3-13 0.5-7-0.8-21.4 0.5-16 3-30.6 2.1-15.4 110.5 0-0.7 6.4-4 20-0.4 5.6 0.3 4.4 1.3 4.6 2.4 4 3.8 4 5.6 4.1 6 3.4 13.4 5.9 8.6 4.5 5.4 0.9 5.6-1.1 7-3 9-5.3 13.4-9.2 1 0 0 14-1 0-72.4 58-14 14.2-14 12.1-14.6 10.5-16.4 9.9-63 48.5-65.4 52z"/>
<path class="k" fill="#00ff7c" d="M79.4 931.9l-11-0.1 0-14 1 0 64.6-51.4 18.7-17 4.9-5.6 2.4-4 0.3-2-0.8-2-10.1-8.4-6.1-8-3.3-8.5-1-8.5 0.8-7.6 2.4-8.4 13.1-29 2.3-7.6 0.4-6-1.4-18.4 0.4-21.6 3.8-29 2.8-12.4 88.8 0 0 8.4-1.7 23.6 1 7 2.3 6 4.2 6 5.8 5.4 8 5.4 14.9 8.2 4.5 4.8 1.6 0.9 3 0.3 4.4-0.8 11-4 10-5.5 20-13.4 1 0 0 8-1 0-72.4 58.9-12.3 13.2-12.7 11.5-16 11.9-18 10.4-63 48.5-67.3 53.7z"/>
<path class="k" fill="#00ff52" d="M77.4 931.9l-9-0.1 0-12.5 1 0 77.6-60.5 18.7-16.4 4.6-5 2.2-3.6 0.2-2.4-1.3-1.5-13.4-5.2-4-2.7-3.6-3.5-2.9-4.1-2.1-4.6-1.2-4.4-0.4-5 1.1-8.6 3.2-9 10.9-19.5 5.9-8.5 1.9-5 0.4-6-1.9-18.4 0.7-20.6 3.8-28 1.5-6 3-8.4 65.7 0 1.6 11 0.3 21.4 1.4 8.6 2.6 6.4 4.1 6.6 5 6 9.6 9.4 2.9 4.6 1.1 5.4-0.4 15 1.2 4.8 2 0.8 3-1.1 22-15 22.2-10.9 1.4-0.6 0 0.6-15.1 14-35.9 29.9-12.2 14.1-14.4 13-16 11.5-16.4 8.9-63 48.5-69.1 55.5 0 1z"/>
<path class="k" fill="#00ff29" d="M75.4 931.9l-7-0.1 0-11 1 0 77.6-58.6 25-20.8 5.7-5.6 3.5-4.4 1-3.6-0.5-1.4-1.2-1-18.1-5-5-3-4.4-4.6-3-5-1.5-5-0.3-6 1-6 2.8-7.4 5-8.5 6.4-8.6 9.8-9.9 3.1-6 0.6-6-1.8-15 0.2-9.6 3.2-18.4 1.7-21 1.7-6.6 2.3-5 4.2-5.4 0-1 37.1 0 0 1 3.2 5.4 1.5 5 2.4 23 2.4 10 2.7 6.6 3.9 7 11.8 16 3.3 6 6.1 19.4 5.7 12.6-1.5 4.4-4.5 6.6-6.2 7-7.1 7-8.2 7-16 11.1-7.6 4-7.4 3.1-63 48.4-71.1 57.8 0 1z"/>
<path class="k" fill="#01ff00" d="M176.4 845.4l-0.6 0 7.2-6.9 4.8-6.1 2.1-4.6-0.2-3.4-1.3-1.7-2.4-1.3-17.6-3.8-5-2.2-4-2.7-3.8-4.3-2.4-5-0.9-5.6 0.5-5.4 3-8.6 5.4-8.4 6.2-6.9 12.4-10.1 4.2-6 1.5-4 0.8-4.6-0.3-13.4 0.7-7 1.6-6.6 5.2-14 3.1-21 2.1-4.4 2.8-3 3.9-1.9 4-0.2 3.3 1.5 2.3 3.6 7.2 25.4 5.5 13.6 8.9 14.4 10.4 11.6 5.3 7.4 10.4 21.6 1.6 4.4 0.2 2.6-2.7 5.4-6 7.6-8 8-9.6 8-9.8 6.6-9 4.8-6.4 2.1-1.6-0.1-1.5-1zM73.4 931.9l-5-0.1 0-9.5 1 0 32.5-24.5 26.6-19 13.8-9 3.1-1.5 1.4 0.1-4.9 5.4-13.4 12-34.1 28.6-20.7 16.4z"/>
<path class="k" fill="#30ff00" d="M200 821.4l-2.6-0.3-8-3-16-3-4.4-1.6-4-2.1-4-3.3-3-4.3-1.6-5-0.1-5 2.1-7.4 4.8-8 6.8-7.2 13-9.4 4-4 3.8-5 3.4-6 5.5-15 2.1-4 4.2-3.8 4.4-0.9 3.6 1 4.4 2.8 10.4 8.9 11.6 9.2 6 5.8 5.2 7 6.2 11.6 2.3 6 0.7 5.4-2.6 5.6-6.8 8-8.6 8-9.8 7.4-6.7 4-5.9 2.7-3.4 0.7-1.5-0.4-0.5-1-4.6 0.7-6.4 3.6zM71 931.9l-2.6-0.1 0-7.7 1 0 12.6-9.6 19.4-13.7 8.6-5.4 3-1.1-2.4 3.1-8.1 7.4-20.5 17.7-11 8.3z"/>
<path class="k" fill="#5fff00" d="M204 816.4l-4.6 0.1-19-3-6.4-1.8-5-2.3-4.6-3.6-3-4.4-1.3-5 0.5-5.6 3-7.4 5.5-7 5.9-5.2 12.8-8.8 16.6-16.5 4-2.8 3.6-1.5 4-0.5 4.4 0.6 7.6 2.5 7.4 3.9 6 4.2 5 5 4.9 7.1 4.1 8 1.5 6-0.1 6-2.8 5-6.2 7-7.9 7-8.5 5.9-8.4 4-2.6 0.1-1-1.1-9 1.6z"/>
<path class="k" fill="#8fff00" d="M206 812.9l-6 0.3-15-1.7-7.6-1.9-6-2.7-4.1-3.5-2.7-4.6-0.7-5.4 1.2-5.6 3.7-6.4 5.6-6 15.6-11 10.4-8.7 5.6-3.8 5.4-2.4 6-1.1 6 0.4 6.6 1.9 6 2.8 5 3.5 4 4 3.8 5.4 3 6 1.5 5 0.2 5-1.2 5.4-2.7 4.6-5.2 5.4-6.6 5.6-6.4 4.1-4.4 1.9-1.6 0-1.4-0.8z"/>
<path class="k" fill="#beff00" d="M206 810.4l-8 0-11.6-1.3-7-1.9-5.6-2.8-4-4-1.9-4.6 0-5 2-5.4 3.9-5.6 5.5-5 22.7-15.9 6.4-3.6 6.6-1.9 6.4-0.3 7 1.4 6.6 2.8 4.6 3.1 3.8 3.9 3.6 5.3 2.2 5.2 0.9 4.6-0.2 4.4-1.1 3.6-2.7 5.4-5.5 6-7.2 4.9-1.4 0.4-1.6-0.4-10 3.6z"/>
<path class="k" fill="#edff00" d="M207 807.9l-8 0.2-10-1.1-7-1.9-5.2-2.7-3.4-3.6-1.8-4.4 0.3-5 2.2-5 4.1-5 6-5 18.2-12.2 7-3.6 6.6-1.6 6.4 0.1 7 1.6 6 2.8 3.2 2.3 3.1 3.6 2.5 4 1.8 4 0.7 4 0 3.4-0.9 3.6-1.8 3.4-5.6 6.2-8.4 5.4-10 3.8z"/>
<path class="k" fill="#ffe500" d="M203.4 805.9l-8-0.4-7-1.2-5.4-2.1-4.3-2.8-2.5-3.6-0.8-4.4 1.1-4.6 2.9-4.4 5-5 7-5 12.6-7.9 7.4-3.3 6-0.9 6.6 0.5 6.4 1.9 5 3 5 5.7 1.8 3.4 1 3.6 0.2 3.4-0.5 3-1.5 3.4-2 3-6.2 5.6-8.2 4.4-10 3.1z"/>
<path class="k" fill="#ffba00" d="M207 803.4l-7 0.1-6.6-0.8-5.4-1.6-4.6-2.5-2.8-3.2-1.1-3.6 0.6-4 2-4 4.1-4.4 6.8-5.2 10.4-6.3 7.6-3.4 5-0.9 6 0.2 5.4 1.4 5 2.6 4.6 4.6 2.6 6 0 5.4-2.5 5.6-4.8 5-6.9 4.1-8.4 3.1z"/>
<path class="k" fill="#ff9000" d="M209 800.9l-6 0.3-6-0.5-5.3-1.3-3.9-2-2.5-2.6-1.4-3.4 0.3-3.6 1.9-4 3.7-4 5.9-4.4 7.7-4.5 7-3 5-1 5 0.1 5 1.2 4.4 2.2 4.1 4 2 4.4 0 5-1.9 4.6-4 4.4-5.6 3.6-7.4 2.8z"/>
<path class="k" fill="#ff6700" d="M209.4 798.4l-5 0.3-5-0.4-4.4-1.2-3.3-1.7-2.3-2.6-1-3 0.4-3 1.6-3 3.3-3.4 4.7-3.6 6-3.3 6-2.3 4.6-0.9 4.4 0.1 4.1 1 3.9 2 3 3.1 1.6 3.9-0.2 4-1.9 4-3.5 3.4-4.9 3-5.5 2.2z"/>
<path class="k" fill="#ff3e00" d="M210.4 795.4l-8 0.1-3.4-0.8-2.7-1.3-1.9-1.9-0.8-2.1 0.2-2.6 1.2-2.4 2.4-2.8 3.6-2.8 4.4-2.4 4.6-1.6 7.4-0.8 3.6 0.8 3 1.5 2 2.1 1.3 3-0.1 3-1.4 3-2.4 2.5-3.6 2.5-4.4 1.8z"/>
<path class="k" fill="#ff1500" d="M208 791.9l-4.6-0.7-2.9-2.4 0-3 2.2-3 4.3-2.7 5-1.4 4.6 0.1 3.4 1.9 0.9 1.7 0.1 2-2.1 3.4-4.9 3z"/>
</g>
<rect x="69.2" y="663.1" width="272.8" height="268.0" fill="none" stroke="#000" stroke-width="1"/>
<path d="M75.4 931.1v-2.5M75.4 663.1v2.5M108.0 931.1v-4.0M108.0 663.1v4.0M140.5 931.1v-2.5M140.5 663.1v2.5M173.0 931.1v-4.0M173.0 663.1v4.0M205.5 931.1v-2.5M205.5 663.1v2.5M238.1 931.1v-4.0M238.1 663.1v4.0M270.6 931.1v-2.5M270.6 663.1v2.5M303.1 931.1v-4.0M303.1 663.1v4.0M335.6 931.1v-2.5M335.6 663.1v2.5M69.2 926.0h2.5M342.0 926.0h-2.5M69.2 901.3h4.0M342.0 901.3h-4.0M69.2 876.5h2.5M342.0 876.5h-2.5M69.2 851.7h4.0M342.0 851.7h-4.0M69.2 826.9h2.5M342.0 826.9h-2.5M69.2 802.2h4.0M342.0 802.2h-4.0M69.2 777.4h2.5M342.0 777.4h-2.5M69.2 752.6h4.0M342.0 752.6h-4.0M69.2 727.8h2.5M342.0 727.8h-2.5M69.2 703.0h4.0M342.0 703.0h-4.0M69.2 678.3h2.5M342.0 678.3h-2.5" stroke="#000" stroke-width="1" fill="none"/>
<text x="108.0" y="952.4" font-size="14.5" text-anchor="middle" fill="#222">11555</text>
<text x="173.0" y="952.4" font-size="14.5" text-anchor="middle" fill="#222">11560</text>
<text x="238.1" y="952.4" font-size="14.5" text-anchor="middle" fill="#222">11565</text>
<text x="303.1" y="952.4" font-size="14.5" text-anchor="middle" fill="#222">11570</text>
<text x="64.6" y="906.5" font-size="14.5" text-anchor="end" fill="#222">11555</text>
<text x="64.6" y="856.9" font-size="14.5" text-anchor="end" fill="#222">11560</text>
<text x="64.6" y="807.4" font-size="14.5" text-anchor="end" fill="#222">11565</text>
<text x="64.6" y="757.8" font-size="14.5" text-anchor="end" fill="#222">11570</text>
<text x="64.6" y="708.2" font-size="14.5" text-anchor="end" fill="#222">11575</text>
<text x="112.0" y="974.2" font-size="16.3" fill="#222">Emmission Energy (eV)</text>
<text transform="translate(19.4 794.9) rotate(-90)" font-size="16.3" text-anchor="middle" fill="#222">Incident Energy (eV)</text>
<linearGradient id="g2_2" x1="0" y1="0" x2="0" y2="1"><stop offset="0.000" stop-color="#ff0000"/><stop offset="0.130" stop-color="#ff8000"/><stop offset="0.255" stop-color="#ffff00"/><stop offset="0.480" stop-color="#00ff00"/><stop offset="0.735" stop-color="#00ffff"/><stop offset="0.870" stop-color="#0080ff"/><stop offset="1.000" stop-color="#0000ff"/></linearGradient>
<rect x="278.7" y="799.1" width="17.5" height="118.6" fill="url(#g2_2)"/>
<path d="M278.7 799.1V917.7H296.2V799.1" stroke="#000" stroke-width="1.2" fill="none"/>
<path d="M278.2 918.0h2" stroke="#000" stroke-width="2.5"/>
<path d="M296.2 894.0h-4M296.2 870.3h-4M296.2 846.5h-4M296.2 822.8h-4" stroke="#000" stroke-width="1"/>
<text x="303.7" y="923.7" font-size="17" fill="#111">0.0</text>
<text x="303.7" y="900.0" font-size="17" fill="#111">0.2</text>
<text x="303.7" y="876.3" font-size="17" fill="#111">0.4</text>
<text x="303.7" y="852.5" font-size="17" fill="#111">0.6</text>
<text x="303.7" y="828.8" font-size="17" fill="#111">0.8</text>
<text x="303.7" y="805.1" font-size="17" fill="#111">1.0</text>
<path d="M210.7 657.0V688.2" stroke="#000" stroke-width="2"/>
<path d="M217.8 726.9V757.7" stroke="#000" stroke-width="2"/>
<path d="M214.9 771.4V801.8" stroke="#000" stroke-width="2"/>
<text x="215.1" y="690.3" font-size="19" fill="#111">11562.9</text>
<text x="222.2" y="751.9" font-size="19" fill="#111">11563.4</text>
<text x="219.3" y="788.0" font-size="19" fill="#111">11563.2</text>
<text x="180.1" y="906.0" font-size="24" fill="#ffff00">Pt<tspan font-size="17" dy="7">3</tspan><tspan dy="-7">Ni</tspan></text>
<clipPath id="c2_3"><rect x="66.2" y="983.4" width="272.8" height="268.0"/></clipPath>
<g clip-path="url(#c2_3)">
<rect x="66.2" y="983.4" width="272.8" height="268.0" fill="#0000ff"/>
<path class="k" fill="#003eff" d="M101 1252.2l-35.6 0 0-269.6 274 0 0 85.8-1 0-52.4 40.4-39 31.6-39.2 28.8-106.8 82z"/>
<path class="k" fill="#0067ff" d="M97 1252.2l-31.6 0 0-85.8 1 0 1-3.2 0.9-9.6-1.5-33-0.4-26.5-1 0 0-43.8 1 0 4.8-38.1 0.1-11-1.2-18.6 269.3 0 0 82.4-1 0-52.4 40.5-38 31.4-40.6 29.5-110.2 84.8z"/>
<path class="k" fill="#008fff" d="M94.4 1252.2l-29 0 0-61.9 1 0 1.6-1.7 12.4-16 3.2-7 1.7-8-0.2-24 1.5-37-1.4-26 0.1-11 1.4-10 6-22.4 1.1-8.6-0.6-9.4-4.3-26.6 250.5 0 0 79.8-1 0-52.4 40.6-20 17.3-18 14.6-40.6 29.2-112.9 87.1z"/>
<path class="k" fill="#00b6ff" d="M92 1252.2l-26.6 0 0-47 1 0 5-5.3 21.7-25.7 4.3-7 2.1-7 1.3-21.6 4.2-38.4-0.2-7-1.9-20.6 0.3-15 1.3-8.4 5.5-22 0.8-7-0.8-13.6-4.3-24 233.7 0 0 77.7-1 0-52.4 40.6-21 18.5-18 14.6-39.6 28.2-115.2 89z"/>
<path class="k" fill="#00ddff" d="M90 1252.2l-24.6 0 0-33.8 1 0 9.6-10.7 14.4-17.9 15.3-15.6 3.6-5.6 2.3-6.4 2.4-22 4.5-23 1.2-11-0.1-9-2-18-0.4-10 1.7-25.6 3-21 0.7-10-0.2-15.2-2.1-14.8 219.1 0 0 7.7-1 0-4 4.2-9 7.3-4.4 4.3-3.7 5.5-1.1 5 0.7 3 1.5 2 3 2 3.8 1.6 6.2 0.8 8-1.9 0 34.2-1 0-52.4 40.8-20.6 18.3-17.4 14.4-15.6 11.5-25 17.3-117.1 90.6z"/>
<path class="k" fill="#00fff9" d="M88.4 1252.2l-23 0 0-23 1.1 0 11-11.6 18.7-23.4 19.3-18 4-5.6 2.2-5.4 3-24 5.2-22 1.2-8.6-0.2-10.4-2.3-19.6-0.4-13 0.7-14 0-15 2.7-20 1.8-19.4 0-7-1.3-9.6 183.6 0 0 1-9.3 13.1-3.4 7.1-2 8.4 0.8 7 2.3 4.4 3.9 4.4 6.5 4.6 5.9 2.8 3.6 0.4 3.4-0.7 4.7-1.9 6.3-3.7 1 0 0 27-1 0-52.4 40.9-20.6 18.7-18 14.8-15.4 11.5-24.6 16.7-118.9 92.1z"/>
<path class="k" fill="#00ffd0" d="M86.4 1252.2l-21 0 0-18.6 1 0 17.8-16 18.2-20.5 21-17.8 5.3-6.7 2.2-6 2.4-24.4 5.7-21.6 1.2-7.4-0.2-7-2.5-24.6-1.1-38 0.8-10.4 5.3-35 0.2-6.6-0.7-9 156.9 0 0 1-5.4 12-2.4 10.6-0.2 9.4 0.8 3.6 1.5 3.4 3.7 5 5.3 5 9.2 7 4.6 2.1 3.4 0.2 4.6-1.2 6.4-3.2 8-5 1 0 0 22.2-1 0-52.4 41-19.8 18.5-18.2 15.1-15.6 11.5-25 16.9-120.6 93.5 0 1z"/>
<path class="k" fill="#00ffa6" d="M85 1252.2l-19.6 0 0-16.1 1 0 19-15.9 21-19.9 22.8-18.1 6.7-7.6 3-7 0.9-6 1.2-19.4 5.5-21 1.2-7-2.4-24-0.2-19-1.6-16.6-0.3-9 1.2-13 6.2-36.4-0.3-13.6 136.8 0-3.2 13-2 15.6 0.9 8.4 3.2 6.6 5.6 6 14.8 12.3 3 2 2.6 0.8 4-0.3 5.4-1.8 7.6-4.1 9.4-6.1 1 0 0 17.9-1 0-52.4 41.2-19.6 18.5-18.4 15.6-16 11.8-24.6 16.3-122.1 94.9z"/>
<path class="k" fill="#00ff7c" d="M83.4 1252.2l-18 0 0-14.3 1 0 6-4.7 35.6-30.2 26.4-20.8 8.2-8.6 2.5-4 1.6-4 0.9-6 0.4-17.4 4.5-19 1.4-9.6-2.3-20 0-9 0.9-14.4-2.6-16.6-0.1-9 1.2-10.4 6.6-39 0-12.6 119.8 0-3.6 26 0 8.6 1 4.4 2.1 4.6 2.9 4 4 4 11.9 9.4 7.7 7.5 2 1.2 2.6 0.5 4.4-0.7 6-2.4 8.6-4.8 11.4-7.7 1 0 0 13.7-1 0-52.4 41.5-19.2 18.8-18.8 15.9-16 11.8-24.6 16.1-123.6 96.2z"/>
<path class="k" fill="#00ff52" d="M82 1252.2l-16.6 0 0-12.8 1.4-0.2 42.2-34.4 29.6-23.2 10.9-11 3.2-4.4 2-4.6 0.8-5.4-0.8-14 2.8-14 1.3-13-1.8-14.6 0-8 0.8-8.4 1.9-8 0.5-4.6-0.6-6-3.1-12-0.2-7 4.9-33 2.2-18.4 0.9-12.6 103.6 0 0.3 11-2.6 14-0.5 6 0.4 6 1.5 5.6 2.7 5 3.7 4.4 4.6 4.1 13 9.5 7.4 9.6 2 1 3 0.1 8-2.5 9.6-5 17.4-11.6 1 0 0 8.6-1 0-52.4 42.1-15.7 16.1-17.3 15.5-19 14.4-26.6 17.1-63.4 50-61.7 47.6z"/>
<path class="k" fill="#00ff29" d="M80.4 1252.2l-15 0 0-11.4 1 0 43-34.4 32.6-25.2 8.3-7.6 6.2-6.4 4.2-5.6 2.2-4.4 0.8-4.6-1.1-10.4 0.4-23.6-1.6-21 1.2-8 4.4-13 0.9-6-0.7-6-3.2-12-0.3-7 3.6-24.4 1.7-25.2 1.8-13.4 85.7 0 2.2 10.6-2.1 13-0.6 7.4 0.5 7.6 1.8 6.4 3.7 7.3 5 6.2 4.4 3.8 10.6 6.5 3 2.7 1.3 3.1 1.6 8.4 1.4 2.6 1.1 0.7 2 0.1 6.6-2 11.4-5.5 16.6-9.4 0.8 0.1-12.4 11.4-29.4 24.5-15.5 17.1-20.1 18-18 13.2-25 15.8-63.4 50.2-63.1 48.8 0 1z"/>
<path class="k" fill="#01ff00" d="M79 1252.2l-13.6 0 0-10.2 1 0 80.5-62.8 17.1-16 5-6 2.7-5 0.6-5.6-4.6-23.4-2.2-16.6-0.2-6 1.6-9 6.4-13.4 1.8-7-0.1-6.6-2.9-13-0.4-7 3.2-22.4-0.1-27 0.8-5 2.2-7.6 62.6 0 4.6 19.6 2.7 23 4.1 13.4 3.2 6.6 3.7 5.4 3 3 9.7 7.8 5 6.4 3.8 6.8 4.4 10-1.5 4-5.2 7-8.2 9-10 9.6-10.7 9.1-17.6 12.7-24 14.7-63.4 50.5-64.6 50 0 1z"/>
<path class="k" fill="#30ff00" d="M77.4 1252.2l-12 0 0-9 1 0 82.9-64 20.6-18 6.2-6.6 3.3-4.4 1.3-3.6 0-3-6-13.4-2.5-7-2.6-12-0.8-8.6 0.5-5 1.3-4.4 8.4-15 2.2-6 1.1-5.6 0.1-5.4-1.8-15 0.4-7 2.4-16-2.2-22.6 0.5-8 2-4.4 3.1-4.6 0-1 38.3 0 9.7 26 5.5 32.6 2.9 9.4 2.6 4 3.9 4 15.7 10.4 6.6 5.9 4 5.3 4.1 7.4-0.9 3.6-4.6 6.4-7.3 8-9.4 9-9.9 8.5-17.6 12.5-23 13.3-63.2 50.7-66.3 51.6 0 1z"/>
<path class="k" fill="#5fff00" d="M76 1252.2l-10.6 0 0-7.8 1 0 87.9-67.2 25.4-21 5.5-5.6 2.8-4 1.1-3.4-0.7-3-8.8-11.6-4.5-9.4-2.5-10.6-0.1-8.4 0.9-4 1.6-4 7.1-10.6 4.2-8.4 3.2-7.6 1.6-6 1.5-35.4-2.1-22.6 0.6-6.4 1.3-2.6 2-2.4 5-3.1 6-0.9 5.6 1.5 3.4 2.6 2.8 3.9 6.7 17 2.4 12 1.5 22 1.2 4.4 1.6 3.6 4.2 5 5.6 4.4 20 10.7 6.8 4.9 4.1 4.4 3.2 5 1.6 3.6-0.7 2.4-3.7 5.6-6.7 7.4-8.3 8-9.3 7.8-9 6.8-10 6.5-10.4 5.8-10.6 4.9-52.5 43.2-78.7 61.6z"/>
<path class="k" fill="#8fff00" d="M202.4 1142.2l-1.4 0.2-1.6-0.7-3.9-4.5-9.5-7.9-4.2-5.1-2.9-5.6-2.2-6.4-1.1-6 0.1-5 1.2-5 2.1-4.6 16-23.2 5-5.7 5-4.4 3.4-1.9 3.6-0.4 7 2.5 20 10.7 16 7 5.5 3 4 3 3.5 3.9 2.7 4.5 1.4 4-1 2.6-2.4 3.4-8.6 9.6-11.1 9.9-11.6 8.6-10.2 6.5-9.2 4.4-4.6 1.3-1.4-0.8-4-0.6zM74 1252.2l-8.6 0 0-6.5 1 0 44-33.5 60-44.5 13.6-9.1 3.4-1.6 1.3 0.2-0.9 2-4.6 4.4-23.3 20-16.5 13.6-69 54 0 1z"/>
<path class="k" fill="#beff00" d="M220.4 1136.2l-1.4 0-1-0.9-15-0.8-5-2.1-6-3.6-4.6-3.7-3.8-4.9-2.8-6-1.9-7 0-6 1.7-6 2.9-5 8.5-11.6 4.4-5.2 4.6-3.7 4.4-2.5 5-1.3 6 0 7 1.7 32.6 14 4.4 3 3.4 3.6 2.7 4.4 1.4 4.6-0.9 3-4.1 5.4-6.3 6.6-7.9 7-7.8 6-8.4 5.4-6.5 3.6zM72 1252.2l-6.6 0 0-5 1 0 42.6-32 34.7-25 7.7-5 3-1.4-2.1 2.8-8.3 7.6-71.8 57z"/>
<path class="k" fill="#edff00" d="M226.4 1131.7l-2 0.1-1-0.7-8.4 0.4-9-0.8-8-2.7-5.6-3.3-4-3.8-3-4.4-2.4-5.9-1-4.4 0-4.6 1.1-4.4 2.1-4.6 6.2-8.6 5-5.8 5-4.1 5-2.4 7-1.2 7.6 1 6 2 21.4 8.9 5.4 2.8 4 3 2.9 3.4 2 4 0.8 4-0.4 2.6-2.6 4-5 5.4-7.2 6.6-7.9 6-8 5zM97 1228.1l-0.3-0.5 0.6 0zM68.4 1252.2l-3 0 0-2.8 1 0 25.6-18.8 4-2.5 0.9 0.1-14.5 12.4-13.5 10.6 0 1z"/>
<path class="k" fill="#ffe500" d="M219.4 1128.2l-6.4 0-7-1-5-1.6-4.6-2.2-4-3.1-3.1-3.7-2.4-4.4-1.6-5-0.3-4.6 0.9-4.4 2-4.6 3.3-5 4.9-6 4.3-3.9 4.6-2.7 4.4-1.4 6-0.3 6.6 1.2 25.4 10.6 4.4 2.5 3.3 3 2.3 3.6 1.2 3.4 0 5-1.7 4-5.4 6-7.7 6.6-5.8 4-5.6 2.7-2 0.4-1-0.7z"/>
<path class="k" fill="#ffba00" d="M219.4 1125.2l-5.4 0-5.6-0.6-5-1.3-4.4-2.1-4-2.9-2.9-3.1-2.3-4-1.3-4-0.4-4 0.6-4 1.6-4 2.4-4 4.3-5.4 4-3.9 4-2.6 4-1.4 5.4-0.5 6.6 1.1 21.7 9.1 4.3 2.4 3.2 2.6 2.3 3 1.4 3.6 0 4.4-1.6 4.6-2.8 4.4-5.5 5-5 3-1.6-0.1-10 3.5z"/>
<path class="k" fill="#ff9000" d="M220.4 1122.2l-10-0.2-4.4-1-4-1.6-3.6-2.2-3-2.9-2.1-3.1-1.4-3.6-0.6-3.4 0.3-3.6 2.8-7 3.3-4.4 3.7-4 3.6-2.6 3.4-1.6 4-0.6 4.6 0.3 5 1.3 6 2.4 15 7.4 3.7 3.4 2.2 4 0.4 3.4-1.1 4-2.2 3.6-3.5 3.4-4.5 3.1-5.6 2.6-6 1.9z"/>
<path class="k" fill="#ff6700" d="M221.4 1119.2l-9 0.1-7.4-1.9-3.3-1.8-2.7-2.3-2.1-2.7-1.5-2.9-0.6-6.1 2.3-6.4 5.7-7 3.2-2.6 3-1.5 3.4-0.6 4.6 0.4 5 1.3 6 2.3 11.2 6.1 3.1 3 1.6 3 0.4 3-0.6 3-1.7 3-2.8 3-7.8 4.8z"/>
<path class="k" fill="#ff3e00" d="M220.4 1116.2l-7.4 0.1-6-1.5-4.8-3.2-3-4.4-0.7-5 1.7-5.6 4.2-5.4 5-3.3 3-0.7 3.6-0.1 9 2.5 9.2 5 2.7 2.6 1.5 2.4 0.6 2.6-0.3 2.4-1.2 2.6-2.1 2.4-6.4 4.2z"/>
<path class="k" fill="#ff1500" d="M220 1112.7l-5.6 0.2-4.4-0.9-4-2.4-2.2-3-0.9-4 1-4 2.5-3.6 3.6-2.6 5.4-1.3 6.6 1.3 6.5 3.2 2.3 2 1.6 2.4 0.6 3.6-2.2 4-4.8 3.3z"/>
</g>
<rect x="66.2" y="983.4" width="272.8" height="268.0" fill="none" stroke="#000" stroke-width="1"/>
<path d="M72.4 1251.4v-2.5M72.4 983.4v2.5M105.0 1251.4v-4.0M105.0 983.4v4.0M137.5 1251.4v-2.5M137.5 983.4v2.5M170.0 1251.4v-4.0M170.0 983.4v4.0M202.5 1251.4v-2.5M202.5 983.4v2.5M235.1 1251.4v-4.0M235.1 983.4v4.0M267.6 1251.4v-2.5M267.6 983.4v2.5M300.1 1251.4v-4.0M300.1 983.4v4.0M332.6 1251.4v-2.5M332.6 983.4v2.5M66.2 1246.3h2.5M339.0 1246.3h-2.5M66.2 1221.6h4.0M339.0 1221.6h-4.0M66.2 1196.8h2.5M339.0 1196.8h-2.5M66.2 1172.0h4.0M339.0 1172.0h-4.0M66.2 1147.2h2.5M339.0 1147.2h-2.5M66.2 1122.5h4.0M339.0 1122.5h-4.0M66.2 1097.7h2.5M339.0 1097.7h-2.5M66.2 1072.9h4.0M339.0 1072.9h-4.0M66.2 1048.1h2.5M339.0 1048.1h-2.5M66.2 1023.3h4.0M339.0 1023.3h-4.0M66.2 998.6h2.5M339.0 998.6h-2.5" stroke="#000" stroke-width="1" fill="none"/>
<text x="105.0" y="1272.7" font-size="14.5" text-anchor="middle" fill="#222">11555</text>
<text x="170.0" y="1272.7" font-size="14.5" text-anchor="middle" fill="#222">11560</text>
<text x="235.1" y="1272.7" font-size="14.5" text-anchor="middle" fill="#222">11565</text>
<text x="300.1" y="1272.7" font-size="14.5" text-anchor="middle" fill="#222">11570</text>
<text x="61.6" y="1226.8" font-size="14.5" text-anchor="end" fill="#222">11555</text>
<text x="61.6" y="1177.2" font-size="14.5" text-anchor="end" fill="#222">11560</text>
<text x="61.6" y="1127.7" font-size="14.5" text-anchor="end" fill="#222">11565</text>
<text x="61.6" y="1078.1" font-size="14.5" text-anchor="end" fill="#222">11570</text>
<text x="61.6" y="1028.5" font-size="14.5" text-anchor="end" fill="#222">11575</text>
<text x="109.0" y="1294.5" font-size="16.3" fill="#222">Emmission Energy (eV)</text>
<text transform="translate(16.4 1115.2) rotate(-90)" font-size="16.3" text-anchor="middle" fill="#222">Incident Energy (eV)</text>
<linearGradient id="g2_3" x1="0" y1="0" x2="0" y2="1"><stop offset="0.000" stop-color="#ff0000"/><stop offset="0.130" stop-color="#ff8000"/><stop offset="0.255" stop-color="#ffff00"/><stop offset="0.480" stop-color="#00ff00"/><stop offset="0.735" stop-color="#00ffff"/><stop offset="0.870" stop-color="#0080ff"/><stop offset="1.000" stop-color="#0000ff"/></linearGradient>
<rect x="275.7" y="1119.4" width="17.5" height="118.6" fill="url(#g2_3)"/>
<path d="M275.7 1119.4V1238.0H293.2V1119.4" stroke="#000" stroke-width="1.2" fill="none"/>
<path d="M275.2 1238.3h2" stroke="#000" stroke-width="2.5"/>
<path d="M293.2 1214.3h-4M293.2 1190.6h-4M293.2 1166.8h-4M293.2 1143.1h-4" stroke="#000" stroke-width="1"/>
<text x="300.7" y="1244.0" font-size="17" fill="#111">0.0</text>
<text x="300.7" y="1220.3" font-size="17" fill="#111">0.2</text>
<text x="300.7" y="1196.6" font-size="17" fill="#111">0.4</text>
<text x="300.7" y="1172.8" font-size="17" fill="#111">0.6</text>
<text x="300.7" y="1149.1" font-size="17" fill="#111">0.8</text>
<text x="300.7" y="1125.4" font-size="17" fill="#111">1.0</text>
<path d="M206.5 977.0V1008.2" stroke="#000" stroke-width="2"/>
<path d="M213.9 1051.9V1080.2" stroke="#000" stroke-width="2"/>
<path d="M209.8 1087.3V1116.4" stroke="#000" stroke-width="2"/>
<text x="212.1" y="1011.1" font-size="19" fill="#111">11562.9</text>
<text x="221.3" y="1069.4" font-size="19" fill="#111">11563.3</text>
<text x="136.0" y="1102.6" font-size="19" fill="#111">11563.1</text>
<text x="187.5" y="1230.8" font-size="24" fill="#ffff00">PtNi</text>
<clipPath id="c2_4"><rect x="67.3" y="1304.5" width="272.8" height="268.0"/></clipPath>
<g clip-path="url(#c2_4)">
<rect x="67.3" y="1304.5" width="272.8" height="268.0" fill="#0000ff"/>
<path class="k" fill="#003eff" d="M102.6 1573.3l-36.1-0.1 0.1-236.1 1 0 0.1-6.3-0.1-6.9-1 0 0-11.9 1 0 0.6-8.2 272.4-0.1 0 85.7-1.6 0.4-236 182.4 0 1z"/>
<path class="k" fill="#0067ff" d="M99 1573.3l-32.5-0.1 0.1-85.1 1 0 0.5-1.3 2.8-10.6 4.3-27.4 1.8-15 4-20.6 0.8-15.4-0.3-23.6 4-26.4 1.7-16-0.7-28 254.1-0.1 0 82.7-1.6 0.4-239.5 185.4 0 1z"/>
<path class="k" fill="#008fff" d="M96.6 1573.3l-30.1-0.1 0.1-57.9 1 0 5-7.2 6.6-10.3 3.8-7 4.7-12.6 3.9-16.4 6.8-54.6-0.5-21 1.1-22.4 5.5-46.6-0.1-4-1.7-9.4 237.9-0.1 0 80.5-1.1 0-242.5 188 0 1z"/>
<path class="k" fill="#00b6ff" d="M94.6 1573.3l-28.1-0.1 0.1-39.8 1 0 8.8-11.2 18.9-28 4.9-11 4.6-17.4 1.1-18.6 1.7-13.4 2.4-27.6-0.5-20 1-24 3-22.4 1.7-18.6 0.1-7.4-1-10 207.4 0 2.3 8 3.6 5 5 2.5 8 0.4 0 62.7-1 0-91 71.1-153.6 118.7 0 1z"/>
<path class="k" fill="#00ddff" d="M93 1573.3l-26.5-0.1 0.1-28.5 1 0 7.4-7.5 11.3-13 19.6-26.4 3.2-6 2.1-6.6 2.6-18.4 1.9-28 2.8-28.6 0.4-41 4.7-39.4 0.5-13-0.5-13 185.8 0 3.9 20.4 1.4 3.6 1.8 2 2.5 1 3 0 18.6-2.7 0 52.7-1 0-91 71.3-155.4 120.1z"/>
<path class="k" fill="#00fff9" d="M91.6 1573.3l-25 0 0-24.1 1 0 18.3-16.4 23.2-24.6 7.7-9.4 2.2-4 1.5-4 1-7 0.1-19.6 2-30.4 2.4-20 0.9-14-0.1-31 4.3-32.6 0.9-16.4 0-16 166.6 0 1.6 11-0.4 14 0.3 5 2 5.4 3.9 4.4 5 2.3 5 0 4-1.7 10.7-6.4 9.9-3.2 0 44.8-1 0-90.6 71-157.4 121.8z"/>
<path class="k" fill="#00ffd0" d="M90 1573.3l-23.4 0 0-21.5 1 0 17.3-14.6 33.1-30 7.9-8.4 2.7-4 1.3-3 0.7-7-1.7-22 1.6-14.6 0.3-16 4.3-36-0.8-27.4 4.1-31 1.5-34 148.2 0 2.1 10.4-0.6 14.6 0.9 7 1.2 3.4 1.9 3.3 5.4 5.3 4 2.1 4.6 1.5 4.4 0.5 4.6-0.4 5.4-1.9 11.6-7.4 6-2.8 1 0 0 38.6-1 0-91 71.6-158.4 122.6z"/>
<path class="k" fill="#00ffa6" d="M88.6 1573.3l-22 0 0-19.6 1 0 16.5-13.5 41.5-35.4 9-9.6 2.5-4 1.2-3.4 0.3-6.6-1.9-17 1.5-16-0.1-17 1.3-12.4 4.2-24.6 0-5.4-1.7-13.6-0.2-8 3.7-28 2.1-35.4 129.7 0 2.3 10.4 0.9 16 1.4 7.6 1.7 4 2.1 3.4 3 3.2 4 3 5.4 2.8 6 1.9 5.6 0.8 5-0.3 8.4-3 13-8.5 3.6-2 1 0 0 33.7-1 0-91 71.6-159.8 123.8z"/>
<path class="k" fill="#00ff7c" d="M87.6 1573.2l-21 0.1 0-18 1 0 15-12.1 48.7-40.4 5.7-5.6 4.3-5 2.8-4.4 1.7-4.6 0.5-5-1.1-14 0.4-15.4-0.5-23.6 1.8-12 5.3-16.4 0.7-4-0.3-5-3.1-13.6-0.4-8 3.2-25 2.6-37.4 111.1 0 3 12.4 2.9 18 2 7 2.1 4.6 2.6 3.5 3.4 3.3 4 2.6 6.5 3 7.5 2.4 6 0.9 5.6-0.2 5.4-1.5 5.6-2.5 16.7-11.1 1.3-0.1 0 29.4-1 0-91 71.8-161 124.9z"/>
<path class="k" fill="#00ff52" d="M86 1573.3l-19.4 0 0-16.6 1 0 15-11.9 53.2-43.6 6.7-6.4 5.2-6 3.6-5.6 2.2-5 0.6-7-3.2-43 0.2-6.4 1.2-6 2.4-6.6 2.8-5.4 5.2-7 1.1-4-0.7-4.6-5.5-13.4-1.1-8 0.4-7.6 2.6-16.4 1-23.6 1.9-15.4 92.4 0 4.8 17 5 21 1.8 5.4 2.4 4.6 3.7 4.4 4.3 3 6 2.6 9.8 2.7 10.4 1.7 4.6-0.3 5-1.2 10.4-4.8 16.6-11.2 1 0 0 25.6-1 0-91 72-162.3 125.9z"/>
<path class="k" fill="#00ff29" d="M85 1573.3l-18.4 0 0-15.4 1 0 13.4-10.7 58.3-47 7.8-7.4 6.8-7.6 4.8-6.4 2.7-5.6 0.7-3.4 0-4-4.6-24-1.6-14.6 0.4-6 1.6-5.4 2.7-5 3.4-4.1 8.7-7.5 1.6-2.4 0.8-3-0.3-2.6-1-3-7.7-13.4-1.2-4-0.6-4.6 0.3-6.4 2.6-18 0.5-25 2.5-13 73.3 0 8.5 26 7.1 31.4 2.9 5.5 4 2.4 4.6 0.7 14.4 0 12.6 1.3 8-1 7-2.4 7-3.4 8.2-5.1 11.8-8.3 1 0 0 22.1-1 0-91 72.3-163.5 126.9z"/>
<path class="k" fill="#01ff00" d="M83.6 1573.3l-17 0 0-14.3 1 0 10.5-8.2 63.8-51 10.2-9.6 8.5-9 5.6-7 3-5.4 0.7-3-0.2-3.6-7.3-20-1.9-12.4-0.2-4.6 1.2-6 3-5.4 4.5-4.8 10.7-7.8 2.4-3.4 1.3-4 0-3.6-0.7-3-7.8-12.4-1.4-4-0.7-4.6 0.3-6 2.9-18-1-19.4 0.2-6 1-5.6 2.9-6.4 0-1 52.9 0 0 1 2.4 5 6.1 16.4 4.1 15 0.5 8.6-2.2 17 0.4 6 1.5 3 2.3 2.4 3.1 2 3.8 1.6 7.6 1.3 8.4-0.5 32-7.9 7.6-2.9 8-4 9.4-5.9 12.6-8.9 1 0 0 18.7-1 0-90.6 72.1-165 128.4 0 1z"/>
<path class="k" fill="#30ff00" d="M82.6 1573.3l-16 0 0-13.2 1 0 5.5-4.3 70.7-56 12.2-11 10.5-10.6 6.1-7 3.4-5.4 0.8-3.6-0.8-3.4-7.1-12-2.9-7-1.7-8.6-0.1-6 1.2-5 2.6-4.4 4.6-4.6 11.7-8.4 4-6 2.5-6.6 0.4-3.4-0.5-3-1.7-3.4-4.6-6.6-0.9-3-0.3-4 0.7-5.6 3.8-12.4 0.7-5-0.5-5.6-3.3-14.5-0.3-7.5 2-5.4 2.3-3.1 3.1-2.9 0-1 26.5 0 0 1 4.5 5 2.5 5 2 6.4 3.8 21-0.1 5-2.9 17.6-0.1 5 0.7 4 1.9 4 3.8 4 5.3 3.4 6 2.6 8.4 2.1 10.6 1.2 7.4-0.1 6-1.4 35-17 12-7.3 14.6-10.2 1 0 0 15.2-1 0-77.6 61.6-13.5 11.3-165.7 129z"/>
<path class="k" fill="#5fff00" d="M206.6 1320.3l-1.6-0.2-0.8-1.3 0.4-1.2 1.4-0.8 1.4 0.4 0.5 1-0.3 1.3zM81.6 1573.3l-15 0 0-12.2 1 0 75.7-59.3 26.1-23.6 6.9-7 4.3-5.4 1.9-4 0.1-3.6-1.5-3-7.9-9.4-3.2-6-2.2-9-0.1-4 0.8-4 1.5-3.6 2.6-3.4 3.8-3.6 11.2-8.4 13.4-17.3 5.6-6.1 2.4-1.2 3 0.4 23.7 10.6 10.3 3.6 17 3.2 8.6 0.1 5.4-1.6 6.6-3.3 33-19.2 23-15.7 1 0 0 11.3-1 0-77.6 62.1-13.6 11.5-11.4 8.4-155.3 121.6z"/>
<path class="k" fill="#8fff00" d="M80 1573.3l-13.4 0 0-11.2 1 0 77.4-60.3 30.3-26.6 6.6-6.4 4.4-5.6 1.9-4-0.2-3.4-2-2.9-8.4-7.9-3.7-5.2-2.6-7.6 0.1-7 1.6-4.4 3.4-4.6 12.3-10 11.3-11.2 4-2.8 4-1.8 4.6-1 4.4 0.1 7.6 1.6 18 6.3 19.4 4.6 5 0.6 4.6-0.6 5-1.9 6-3.3 37.4-23.4 19.6-13.3 1 0 0 6.4-1 0-77.6 62.9-13.1 11.4-11.9 8.6-156.5 122.8 0 1z"/>
<path class="k" fill="#beff00" d="M79 1573.3l-12.4 0 0-10.2 1 0 78.5-60.9 33-28 7.4-7 4.7-5.4 2.3-4.6-0.3-3.4-2.2-2.7-9-6.9-4.1-4.4-3-6.6-0.4-6.4 1.7-5 3.2-4.6 20.2-17.6 4.4-3 4.6-1.9 4.4-0.8 5 0 7.6 1.7 13 4.6 15.4 4.2 8 2.8 3.6 0.5 3-0.3 4.4-1.4 5.6-2.8 24.8-16 20-12 0.8 0-14.7 13.6-47.5 39.1-12.2 10.9-12.8 9.3-157.7 124.1z"/>
<path class="k" fill="#edff00" d="M77.6 1573.3l-11 0 0-9.2 1 0 79.7-61.3 36.3-30 7.6-7 4.8-5.6 2.5-5-0.5-3.6-2.1-2.4-9.3-5.7-4.8-4.3-3.2-5.4-0.8-5.6 1.2-5 3.3-5 16.7-14.7 5-3.5 4.6-1.9 5.4-0.9 5.6 0.3 6.4 1.6 10.9 4.1 13.7 4.3 6.4 2.7 5 3.2 2.6 0.4 3-0.4 4-1.4 14.1-7.2-5.5 5.4-18.2 15.7-12.7 11.9-12.3 8.8-37.4 30.2-121.6 95.4 0 1z"/>
<path class="k" fill="#ffe500" d="M76.6 1573.3l-10 0 0-8.1 1 0 82-62.7 38.9-31.3 7.7-7 4.8-5.4 2.6-5.6 0-2-0.8-2-2.8-2.3-8.4-4.3-4.6-3-3.6-3.8-1.8-4-0.2-4.6 1.4-4.4 2.7-4 5.1-5 9.4-7.9 5-3.4 5-1.9 5.6-0.5 9 1.7 20.4 7.4 7 3.5 4.4 3.5 2.6 4.6 0.2 4.4-2.9 4-5.6 5.6-7 5.4-6.7 4.1-37.5 30.9-122.9 97z"/>
<path class="k" fill="#ffba00" d="M75 1573.3l-8.4 0 0-6.9 1 0 121-91.9 11.4-9.3 6.1-6.4 2.2-3.6 1-3-0.1-2.4-1.2-2.5-3.3-2.5-9.5-4-4.3-2.6-3.8-3.4-1.8-3.6-0.3-4 1.2-4 2.6-4 5-5 7.2-5.9 5.6-3.5 4-1.6 5-0.3 8.4 1.6 13.6 5.3 7.4 3.5 4.9 3.9 2.2 4 0.1 4-1.8 4-3.5 4-4.3 3.2-5.6 2.9-17.4 15.5-8.9 9-10.2 8.4-52 42-73.4 58z"/>
<path class="k" fill="#ff9000" d="M219.6 1446.8l-2.6-0.4-6.4-3.6-15-5.8-4.6-3.6-1.9-4.2 0-3 1-3 4.4-6 9.5-7.8 4-2.2 3.6-1.1 4.4-0.2 5 0.8 13 4.8 5.2 2.7 3.3 2.6 2.1 2.4 1.2 3-0.6 4.6-3.3 4.4-14.9 12-4.4 2.7zM73 1573.3l-6.4 0 0-5.6 1 0 42.5-31.9 41.9-30.6 10.9-7.4 2.7-1.6 0.8 0-6.3 6-13.1 11-73.7 59z"/>
<path class="k" fill="#ff6700" d="M221.6 1439.8l-7.6-0.7-11.4-2.8-5.6-2.9-2.9-3.6-0.6-2 0.2-2.6 2.4-5 5.5-5.4 6.4-4.1 3.6-1.2 3.4-0.5 8.6 1.5 5.4 2.2 4.7 2.5 3.1 2.6 2.2 3 0.5 2.4-0.4 2.6-4.1 6-7 5.7-3.4 1.6zM111.6 1538.7l-0.5-0.5 0.5-0.1 0.4 0.1zM70.6 1573.3l-4 0 0-3.7 1 0 35.9-26.4 7.5-4.9 0.5 0.5-17.9 15.4-22.7 18z"/>
<path class="k" fill="#ff3e00" d="M217.6 1434.8l-7-0.5-5.6-1.4-3.7-2.1-2.3-3.1 0.1-3.9 2.4-4 4.5-4 5-2.4 6-0.7 7 1.8 6.4 3.7 2.6 4 0.2 2-0.7 2.6-3.5 4.2-5 2.7z"/>
<path class="k" fill="#ff1500" d="M217.6 1429.3l-5.6 0-4.2-1.5-1.7-2.6 0-1.4 0.9-2 3-2.7 4-1.4 4.6 0.2 4 1.8 2 2.5-0.2 3-2.5 2.6z"/>
</g>
<rect x="67.3" y="1304.5" width="272.8" height="268.0" fill="none" stroke="#000" stroke-width="1"/>
<path d="M73.5 1572.5v-2.5M73.5 1304.5v2.5M106.1 1572.5v-4.0M106.1 1304.5v4.0M138.6 1572.5v-2.5M138.6 1304.5v2.5M171.1 1572.5v-4.0M171.1 1304.5v4.0M203.6 1572.5v-2.5M203.6 1304.5v2.5M236.2 1572.5v-4.0M236.2 1304.5v4.0M268.7 1572.5v-2.5M268.7 1304.5v2.5M301.2 1572.5v-4.0M301.2 1304.5v4.0M333.7 1572.5v-2.5M333.7 1304.5v2.5M67.3 1567.4h2.5M340.1 1567.4h-2.5M67.3 1542.7h4.0M340.1 1542.7h-4.0M67.3 1517.9h2.5M340.1 1517.9h-2.5M67.3 1493.1h4.0M340.1 1493.1h-4.0M67.3 1468.3h2.5M340.1 1468.3h-2.5M67.3 1443.6h4.0M340.1 1443.6h-4.0M67.3 1418.8h2.5M340.1 1418.8h-2.5M67.3 1394.0h4.0M340.1 1394.0h-4.0M67.3 1369.2h2.5M340.1 1369.2h-2.5M67.3 1344.4h4.0M340.1 1344.4h-4.0M67.3 1319.7h2.5M340.1 1319.7h-2.5" stroke="#000" stroke-width="1" fill="none"/>
<text x="106.1" y="1593.8" font-size="14.5" text-anchor="middle" fill="#222">11555</text>
<text x="171.1" y="1593.8" font-size="14.5" text-anchor="middle" fill="#222">11560</text>
<text x="236.2" y="1593.8" font-size="14.5" text-anchor="middle" fill="#222">11565</text>
<text x="301.2" y="1593.8" font-size="14.5" text-anchor="middle" fill="#222">11570</text>
<text x="62.7" y="1547.9" font-size="14.5" text-anchor="end" fill="#222">11555</text>
<text x="62.7" y="1498.3" font-size="14.5" text-anchor="end" fill="#222">11560</text>
<text x="62.7" y="1448.8" font-size="14.5" text-anchor="end" fill="#222">11565</text>
<text x="62.7" y="1399.2" font-size="14.5" text-anchor="end" fill="#222">11570</text>
<text x="62.7" y="1349.6" font-size="14.5" text-anchor="end" fill="#222">11575</text>
<text x="110.1" y="1615.6" font-size="16.3" fill="#222">Emmission Energy (eV)</text>
<text transform="translate(17.5 1436.3) rotate(-90)" font-size="16.3" text-anchor="middle" fill="#222">Incident Energy (eV)</text>
<linearGradient id="g2_4" x1="0" y1="0" x2="0" y2="1"><stop offset="0.000" stop-color="#ff0000"/><stop offset="0.130" stop-color="#ff8000"/><stop offset="0.255" stop-color="#ffff00"/><stop offset="0.480" stop-color="#00ff00"/><stop offset="0.735" stop-color="#00ffff"/><stop offset="0.870" stop-color="#0080ff"/><stop offset="1.000" stop-color="#0000ff"/></linearGradient>
<rect x="276.8" y="1440.5" width="17.5" height="118.6" fill="url(#g2_4)"/>
<path d="M276.8 1440.5V1559.1H294.3V1440.5" stroke="#000" stroke-width="1.2" fill="none"/>
<path d="M276.3 1559.4h2" stroke="#000" stroke-width="2.5"/>
<path d="M294.3 1535.4h-4M294.3 1511.7h-4M294.3 1487.9h-4M294.3 1464.2h-4" stroke="#000" stroke-width="1"/>
<text x="301.8" y="1565.1" font-size="17" fill="#111">0.0</text>
<text x="301.8" y="1541.4" font-size="17" fill="#111">0.2</text>
<text x="301.8" y="1517.7" font-size="17" fill="#111">0.4</text>
<text x="301.8" y="1493.9" font-size="17" fill="#111">0.6</text>
<text x="301.8" y="1470.2" font-size="17" fill="#111">0.8</text>
<text x="301.8" y="1446.5" font-size="17" fill="#111">1.0</text>
<path d="M207.9 1298.0V1329.2" stroke="#000" stroke-width="2"/>
<path d="M213.7 1375.0V1404.1" stroke="#000" stroke-width="2"/>
<path d="M206.6 1408.3V1439.5" stroke="#000" stroke-width="2"/>
<text x="213.1" y="1332.1" font-size="19" fill="#111">11562.9</text>
<text x="220.2" y="1391.6" font-size="19" fill="#111">11563.2</text>
<text x="132.8" y="1422.0" font-size="19" fill="#111">11562.8</text>
<text x="182.2" y="1552.0" font-size="24" fill="#ffff00">PtNi<tspan font-size="17" dy="7">3</tspan></text>
<path fill="#6c0a6c" d="M512.8 272.6l-6 0.1-8.3-2.4-12-7.4-9.3-7.4-3 4.1-1.1-0.4-19.4-40.7-44.5-99 14.6-9.2 16.4-12.6 16.8-16.9 13.5-16.8 7.2-6.8 3.5-2.1 3.3-1.4 5-0.7 6 0.3 16.7 2.7 5.3 0 11.7-1.3 3.4-0.9 3.1-5 4.8-3.4 4.3 0.3 6.4 4.6 1 0 19.3-5 12.3-5.6 7.7 5.9 2.7 1.1 3.3-0.1 10.9-17.1 1.4-1.3 1.1 2 0.8 5.6-0.4 50.7 0.7 8 2.1 9.3 57 98.7-144.6 65.8-7.7 3z"/>
<path fill="#8006b4" d="M511.8 272.5l-7-0.2-6.3-2-12-7.4-9.3-7.4-3.4 4.3-1.4-1.6-11.3-24 0.2-2-0.7-1.7 0.7-0.7-1-1.6 0.6-1-1.2-2.7-0.1-3-1.9-3.3 0.2-2.7-1.7-3.3 0.7-1-1.3-2.7 0.6-1-1.3-2.7 0.7-1-1.3-2.6 0.3-1.7-1.3-2.7 0.6-1-1.8-3.3-0.5-1.7 0.3-1.3-3.3-7 0.7-1-6.7-14.7-0.8-1.4-1-0.2-1.7-3.4-9.2-20.3-2.2-2.3-3-6.7 0.5-1.3-1.6-3.4 0.6-1-1-2 0.6-0.6-0.7-3.7 1.1-10.3 13.1-10 6.5-5.9 13.2-13.5 13.5-16.8 7.2-6.8 3.5-2.1 3.3-1.4 5-0.7 6 0.3 16.7 2.7 5.3 0 11.7-1.3 3.4-0.9 3.1-5 4.8-3.4 4.3 0.3 6.4 4.6 1 0 19.3-5 12.3-5.6 7.7 5.9 2.7 1.1 3.3-0.1 10.9-17.1 1.4-1.3 1.1 2 0.8 5.6-0.4 50.4 1 10.3-17.5 29.7-1 3.3-5 8-0.6 2.7-2.4 3.1-0.3 1.4-0.7 0.1 0 1-5.8 9.4-0.8 3.3-5 8.5-0.7 0.2-0.3 1.6-6.7 11.2-0.7 0.2 0 0.8-6.6 11.7-0.7 0.1-0.9 2.7-4.8 8.2-0.7 0.1-1.9 4.5-1.7 2.7-0.7 0.2-2 4.5-0.7 0.1-0.9 2.7-2.3 3-0.4 1.5-0.7 0.2-0.9 2.6-2.2 3 0.2 1.7-0.6 0.3-0.4 1.7-2.3 3-4.4 8.3-1.4 1-0.2 1.7-1.3 1.3-0.4 1.7-3 4-2.7 5.5-0.7 0.2-0.9 3.6-1.3 0.4-2.4 5-1.3 0.3-0.8 1z"/>
<path fill="#5800ff" d="M506.2 272.3l-1.7 0-6-2-4.3-2.4-13.8-9.4-3.2-3-3.4 4.3-1.4-1.6-1.2-3 1.1-1.7 0.4-4-3-15.7 4.2-6.3-1-4.7 0.7-1-0.9-1.6 0.6-1-1.4-3 0.6-0.7-1.8-3.7 0.5-1.3-1.7-4 0.5-1-1.2-3 0.1-1.7-0.8-1.3 0.2-2-1.5-3.3 0.5-1.4-2.2-4.3-0.2-2.7-2.7-5.6 0.7-1-3.8-7.7-1.6-3.7 0.4-1.3-4.5-9.3-0.1-3-3.4-6.7 0.7-1-3.5-7 0.2-2.3-0.8-1.1-1.1-0.3-3.8-8.6-0.8-1.1-1.1-0.3-0.1-2.6-2.7-5.7 0.6-0.7-1.3-2.6 0.6-0.7-0.8-4 0.6-1-0.8-1.3 1-6.7 7-6.2 13.2-13.5 13.5-16.8 7.2-6.8 3.5-2.1 3.3-1.4 5-0.7 6 0.3 16.7 2.7 5.3 0 11.7-1.3 3.4-0.9 3.1-5 4.8-3.4 4.3 0.3 6.4 4.6 1 0 19.3-5 12.3-5.6 7.7 5.9 2.7 1.1 3.3-0.1 10.9-17.1 1.4-1.3 1.1 2 0.8 5.6 0 54-0.5 1.5-19 31.6 0 2.1-3.9 5.8-0.8 3.3-6.5 9.7 0.2 1.9-3 4.3-5 9.4-1 1.6-0.7 0-4 7.8-1 1.5-0.7 0.1-0.3 2.8-1 2.2-2 3.3-0.7 0.1-2.6 5.6-1-0.5-0.7 1.7-0.7 0.1 0 1.1-1 0.7-3.6 7.5-0.7 0 0 1.1-1.7 1.7-0.3 1.8-0.7 0.1-2.6 5.3-0.7 0.2-0.3 1.8-0.7 0.2-1 2.5-0.7 0.1-1 2.8-0.6 0.1-1 2.6-0.7 0.2-0.3 1.5-1.4 1.2-0.3 3.3-1 0.7-1 2.8-1.7 2.6-0.7 0.2-2.6 5.5-0.7 0.2-1 2.5-1.3 1.2-0.3 1.8-0.7 0.2-1 2.4-2 2.2-0.3 1.8-0.7 0.2-1 2.5-0.7 0.2 0.4 2-1.4 1.3-0.2 1.7-1.5 1-0.9 2.8-1.4 1.2 0.1 1-1.4 0 0 0.8-0.7 0.2 0.1 1-0.8 0.3-0.9 3-1.4 0.2-1.3 3-0.7 0.2-0.3 2-1.7 0z"/>
<path fill="#0d00ff" d="M502.5 271.3l-4-1-7.7-4.4-10.4-7.4-3.2-3-3.1 3.7-4.4-25.4 2.5-4.1 9.7-12.2-0.7-3 0.7-1-0.8-1.3-0.1-2.7-0.7-1.3 0.5-1-1.3-3 0.5-1-0.9-1.7 0.4-1.3-1-2.4 0.5-1-1.2-3 0.1-1.6-0.9-1.7 0.5-1-1.4-3 0.4-1.3-1.4-3 0.2-2-1.2-2.4-0.2-2.6-2.2-4.4 0.6-1.3-8.2-16.7 0.5-1.6-2.3-4.4 0.6-1.3-2.5-4.7-0.1-3-11.2-23 0.5-1.3-2.2-4-0.6-1.7 0.5-1-1.2-2.3 0.5-1.3-1-2 0.6-0.7-1-4 0.6-0.7-0.3-3 11.5-12 15.5-18.8 5.3-4.9 6.7-3.4 7.3-0.7 20.4 3 5.3 0 11.7-1.3 3.4-0.9 3.1-5 1.8-1.7 3.3-1.8 2.7 0 2 0.8 6.7 4.8 13.6 1.1 9.4-0.4 6.6-3.4 5.7-5 5.3 3.1 4.7 0.3 10.9-17.1 1.4-1.3 1.1 2 0.8 5.6-0.7 49.4-17.5 28.7-0.9 3.6-3.2 4.7-0.4 2.6-4.3 6.4-0.1 2.3-11.6 18.3-0.8 4-1 0.8-7 12.1-1 0.4-0.6 2.1-4.1 7.2-0.7 0 0.2 0.8-2.2 3.9-0.6 0 0.1 0.7-1.1 2.3-0.7 0 0.1 0.7-2.1 3.9-0.7 0 0.2 0.8-1.2 1.9-0.6 0-1 3-0.7 0-0.3 1.7-0.7 0-1 3-0.7-0.1-1 2.6-0.6 0.1-1 3-0.7 0-1 2.7-0.7 0-1 2.7-0.6 0-0.7 2.1-1 0.5-1 3-0.7 0-1 2.7-0.6 0 0.1 0.8-1.1 1.8-0.7 0 0 1.1-0.7 0-0.3 2-1.4 0.7-0.9 2.9-0.7 0.1 0.4 2-0.7 0.2-0.4 2.1-0.6 0 0 1-0.7-0.1-1 2.6-0.7 0.1 0 1-0.6 0-0.4 2-1.3 0.8-1 2.9-0.7 0 0 1-0.6 0-1 2.6-0.7 0.2-0.7 1.8-0.6 0-0.2 1.8-0.8 0.3 0 1-0.7 0.1-1 2 0 1.2-0.7 0.1 0 0.8-1.4-0.1 0.1 1.1-1.4 1.2 0.2 1-0.8 0.3-0.3 1.8-1.7-0.1 0.1 1-0.8 0.3-0.3 2.3-1.4 1.1 0.1 1.2-1.5-0.2z"/>
<path fill="#004dff" d="M499.5 270.4l-8.7-4.5-10.4-7.4-3.6-3.5-2 3.3-0.6 0.6-0.2-0.4-4.3-24.7 7.1-10.1 10.7-12.4-0.3-1.1 0.6-1-0.6-2 0.4-1-1.1-2 0.7-1-0.8-1.4 0.4-1.3-0.9-4.7 0.6-0.6-0.9-2 0.6-0.7-1-2.3 0.5-1.4-1.5-3 0.3-1-0.9-2.3 0.7-1-1.1-2 0.3-1-0.7-1.7 0.5-1.3-0.7-1.3 0.7-1-0.6-0.7 0.5-1.3-0.7-3.7 0.5-1-0.9-1.7 0.5-1.3-2.3-5-0.5-0.7-1 0-2.5-5.6-2.2-1.7-0.9-2.3 0.6-0.7-1.7-3.3-0.6-1.7 0.4-1.3-1.4-2.7 0.4-1.3-2.4-5 0.4-1.4-13.2-26.6 0.5-1.4-3-6 0.6-1-1.4-2.3 0.4-1.3-0.7-1.7 0.1-4 20.3-24.5 5.3-4.9 6.7-3.4 7.3-0.7 20.4 3 9.3-0.3 8.3-1.2 1.7 0.4 0.9-0.4 3-5.3 2-2 3.1-1.8 3-0.1 2.7 1.1 6.3 5.2 5 3 14.3 3 7-0.3 6.5-3.8 6.9-7.2 5.4 0.2 10.8-17 1.4-1.3 1.1 2 0.8 5.6-0.5 43-17 28.8-1.4 1.4-0.6 3.5-3.1 4-0.2 2.7-4.1 5.6-0.2 2.7-6.8 9.9-0.6 3.9-14.5 22.9-0.9 4.2-0.6 1-1-1-1.7 3.7-0.7 0 0.2 0.7-1.2 2.3-0.6 0-1 3-1 0.8-1.7 3.8-0.7 0 0.2 0.8-1.2 2.2-0.6 0-1 2.7-0.7 0 0.1 0.8-1.1 2.2-0.7 0-1 2.7-0.6 0 0.1 0.7-1.1 2.3-0.7 0-0.7 2.2-1 0.4-1 3-0.6 0 0 1.1-1 1.6-0.7 0-1 2.7-0.7 0-0.6 2.2-1 0.4 0 1-0.7 0-0.3 2-0.7 0 0 1.1-1 0.8-0.7 1.8-0.6 0-1 2.7-0.7 0 0.3 2.6-0.6 0-0.7 2.3-1 0.4 0 1-0.7 0-0.2 1.8-0.8 0.2 0 1-0.6 0 0.1 0.8-1.1 1.9-0.7 0 0 1-0.7 0 0 1-0.6 0 0 1.2-1 0.4-0.7 2-0.7 0-1 3.1-1.3 0.6-0.3 2-0.7 0 0 1-0.7 0 0 1-0.6 0 0.4 2.4-0.4 1.3-1.7-0.9 0.1 1-0.8 0.2-0.3 2.2-1.4 1.2-0.6 2.6-1.3-0.4 0 1.1-0.7 0 0 1-0.7 0.1-0.3 2.1-0.7 0.2 0 1.2-1.7-0.5 0.2 1-0.8 0.2-1 3.7-0.7 0 0 1-1.6-0.4-0.4 2.3-1.3 1.2z"/>
<path fill="#00a9ff" d="M496.5 268.9l-5.7-3-10.4-7.4-2.9-2.5-0.7-1.7-0.7 0.2-1.9 3.1-0.5-0.8-4-23 2.4-4 7-9 13.4-15.3-0.9-4.3 0.7-1-0.8-1 0.7-1-0.8-1.4 0.4-5.6-0.6-1.7 0.4-1.3-0.8-1.4 0.7-1-1.7-3.3 0.5-1.3-1.2-2 0.1-2-1-2.4 0.7-1-0.7-1 0.6-1-0.6-1.3 0.9-6.7 3.2-8.3-0.8-1.7 0.5-1-0.5-1.1-3-1.7-2.3-2.5-1-0.2-1-1.9-1.4-0.4-2.5-5.2 0.6-1.3-1-4 0.7-0.7-0.7-1.3 0.6-0.7-0.6-1.3 0.6-0.7-0.6-4 0.4-0.6-1.2-2.4 0.2-2-1.2-2 0.2-2.3-2.7-5.3-1.4-0.6-1.4-2.8-1 0-1.5-3.3-1.6-0.7-1.4-3.6-0.8-1.1-1.1 0.1-1.7-3.4-4.5-9.6 0.5-1-0.9-1.7 0.4-5.3 11.3-14.2 4.7-4.7 6-4.2 5.3-1.8 9 0 10 2 10 0.7 9.7 3.1 4.3 2 6.2-12.3 4.8-3.4 3-0.1 2.7 1.1 6.3 5.2 5 3 21.3 4.7 7.4-4.4 9.2-7.4 2.4-1.2 10.6-16.8 1.4-1.3 1.1 2 0.8 5.6-0.5 36.7-7.9 14-9.2 14.3-0.5 3.4-2.8 3.6-0.5 3.4-2.9 3-0.5 3.6-3.8 4.7-0.5 3.7-3.4 4.5-8.4 14.3-1 0.7 0.1 2.8-0.7 1.4-7.7 11.5-5 9.7-0.7 0-1 3-0.6 0-1 3-0.7 0 0 1-0.7 0.8-1-1-0.6 1.8-0.7 0 0.1 0.8-1.1 2.2-0.7 0-1 3.1-1.6 2.6-0.7 0 0.1 0.8-1.1 2.2-0.7 0 0 1-0.6 0-0.4 2-0.6 0 0 1-0.7 0-1 2.7-0.7-0.1-1 2.7-0.6 0 0 1-0.7 0 0.5 2.5-1.2 2.2-0.6 0-1 2.7-0.7 0 0.1 0.7-0.8 0.3-1 2.6-0.6 0 0 1-0.7 0 0 1.3-1 0.4-0.7 2-0.6 0-0.4 2-1.3 0.7 0 1-0.7 0-1 3-1.3 0.6-0.3 2-0.7 0 0 1-0.7 0.1 0.5 2.4-0.8 0.2-0.3 2-0.7 0 0.1 0.8-0.8 0.2 0.2 0.8-1.2 1 0 0.8-0.6 0 0 1.1-0.7 0 0 1-0.7 0 0 1-0.6 0 0 1.2-1 0.4 0.1 0.8-0.8 0.2 0 1-0.7 0 0 1-0.6 0-0.2 1.8-1 0.3 0.3 1-0.9 0.4 0.1 1.2-1.3-0.5 0 0.7-0.7 0 0.1 1.2-0.9 0.4 0.3 1-0.8 0.2-1 3.3-1.7-0.3 0 1-0.7-0.1-0.3 2.7-0.7 0 0 1.1-0.6-0.2 0 1.5-1.7-0.8 0.1 1.2-0.4 1.2-0.9 0.2 0.2 1-0.7 0.1 0.2 1.2-0.8 0.2 0 1-1.7-0.3-0.3 2.2-0.8 0.2z"/>
<path fill="#00fffc" d="M494.2 267.7l-13.8-9.2-3-2.7-0.9-2.7-2.7 3.2-4.1-22.5 7.1-10.1 17.4-20.1 2.1-3.4-0.8-4 0.4-1-0.4-1 0.8-1-0.8-1.4 0.7-1-0.7-1 0.7-1-0.7-1 0.7-1.3-0.7-1 0.7-1-1.4-5 0.8-1.3-2.8-4.7 0.8-1.3-0.9-1-0.5-3.7 2.7-9.3 3.9-8.7 0.8-5-2-4.3-0.8-1.1-1.1-0.3-2.4-4.6 0.5-1-0.7-1.4 0.8-2.3-0.3-1 1.9-6.3-0.6-1.4 0.4-1.3-7.7-15-1.1-0.2-0.9-2.1-1.1-0.2-2.7-2.9-2.4-0.9-0.9-2.1-1-0.1-0.7-1.2-1 0.1-1.3-2.3-0.7 0.1-1.2-2.2-1.4-0.5-1-2.5-1 0.1-0.8-1.1-3.9-8 0.5-1.3-0.8-1.7 0-1.7 0.5-2.3 5.8-7.5 7.3-6.9 6.7-3.4 7-0.7 13.3 2.1 6 2.3 7.7 4.7 0.7 1.2 3.6 3.1 3 5.3 4.3-11.9 3.6-8 3.5-4.5 3.6-2 3 0.1 2.4 1 6.3 5.2 5 3 24 5.5 3.3-3.3 11.5-8.3 12.1-19 1.4-1.3 1.1 2 0.8 5.6-0.4 32.7-18.8 30.2-0.6 3.5-2.1 2.2-0.6 3.2-2.8 3.6-0.6 3.4-4.6 6.1-0.7 3.9-3 3.8-2.7 5.2-1 0.8-1.6 3.6-1 0.7-3 5-0.7 3.9-8 12.1-4.7 8.9-0.6 1-0.7-0.6-1 0.4 0 1.2-3.1 5.6-0.9 0.2-0.9 2.8-0.8 0.2-0.8 2.8-3.5 5.2-0.7 2-1.6 2.7-0.7-0.1 0.1 0.8-1.6 2.7-0.8 0.2-0.6 2.1-1.1 0.6 0.1 0.8-1.6 2.6-0.8 0.2-1.2 5.8-1.5 0.9-1 3.1-1.3 0.6-1 3-1.4 1.7-0.6 0-0.4 2-0.6-0.1 0.1 0.8-1.8 2.9-0.7 0 0.2 0.8-0.8 0.2 0.1 0.8-1.8 2.9-0.7 0 0.5 2.8-0.8 0.2 0 1-0.7 0-0.3 1.9-1.3 0.8-0.7 2-0.7 0-1 3-1.3 0.6 0 1-0.7-0.1-0.3 2.7-1.7-1 0.2 1.2-0.8 0.1 0.1 1.2-0.8 0.3-0.3 2.2-0.8 0.2 0.2 1-0.9 0.3 0.1 1.3-1.6-1.2 0.1 1.3-0.9 0.3 0.2 1-0.4 1.5-0.7 0 0 1.1-0.8 0.1 0.1 1.2-1.6-0.8 0.1 1.2-0.5 1.2-0.7 0.2 0.1 1.1-0.8 0.2 0.1 1.2-0.8 0.1 0.1 1.3-1.6-1.2-0.4 2.7-0.7 0.2 0.1 1-0.8 0.4 0.1 0.7-0.7 0 0.2 1.3-1 0.3z"/>
<path fill="#00ff6e" d="M490.8 265.7l-13.1-9.5-1.9-5.2-1.3 0.7-1 1.9-3.8-19.8 2.4-4 7-9 20.2-23.3-0.1-3 0.6-1-0.6-1 0.6-1.3-0.6-0.7 0.6-1.3-0.6-1 0.6-1-0.3-0.7 0.6-1.3-0.6-0.7 0.7-1.3-0.7-1 0.7-1-0.9-1.4 0.5-1.3-0.6-1.7 0.4-1.6-1.1-1.7 0.7-1-2-4 0.4-1.7-1.1-1.3 0.7-1.3-0.4-2.7 1.4-5.7 4.6-11.6 1-6.7 0.7-1-0.7-1 0.7-1-0.7-1 0.8-3 2.4-4 4.6-4 3.3-9.7-1.1-0.1-0.3-1.2-2 0.3-2-2-1 0.3-0.3-1-1 0.3-0.9-1.9-1.2 0-4-7.7 0.3-1.6-2.9-5.7-1 0-0.3-0.7-2-0.2-0.7-0.7-1.7 0.2-1-1.1-2.6 0.1-0.7-1.2-2 0.2-2-1.5-0.7 0.2-0.6-1.2-0.7 0.2-0.7-0.8-0.6 0.4-0.7-1.4-1 0.1-1-1.7-0.7 0.4-0.6-1.1-1 0-1.3-2.9-1.1 0.1-0.7-1.1-3.4-6.6 0.5-1.4-0.7-3.3 0.9-3.3 7.3-7 6.8-3.5 7.3-0.7 6.7 1.1 8.8 5.1 3 3.3 3 5.7 0.3 3-0.5 1 0.5 1-1.8 7.3 0.3 4 1.1 1.1 2.3 0.3 6.3-0.6 0.8-0.8 3.1-12 6-16.7 3.7-6.6 3.1-2.8 2.3-1.1 3 0.1 2.4 1 6.3 5.2 5 3 24 5.7 2.3 0 4.4-4.9 8.3-7.1 11.9-18.8 1.4-1.3 1.1 2 0.8 5.6-0.4 25.7-14.8 23.9-0.2 3.1-3.1 5.1-2.1 2.2-0.2 3-2.1 1.9-0.2 3.1-3.2 3.7-0.1 3-3.9 4.7-0.6 3.8-4 5.4-8 13.6-1 0.7 0 3.3-1 0.7-1.3 2.9-1.3 1.1-1.7 3.6-1 0.7-0.7 2-2.6 3.7-0.7 2-0.7-0.3 0.1 1.4-2.4 4.2-0.7 0.9-1-1.2-0.6 2-0.7-0.3 0.1 1.4-1 2-1.8 2.2-4 8.1-2.3 3.6-0.7 0 0.2 1.1-1.2 2.3-1.6 1.6-0.7 2.1-1.7 1.6-0.6 2-1.7 1.6-0.7 2.1-3.3 4.4 0.1 3-0.8 1.4-2.6 4.2-0.7-0.1 0.1 0.8-2.2 3.7-0.9 0.2 0 1-5.5 7.8-0.2 3.9-1.3 0.7 0.1 0.7-0.8 0.3-1 3-1.3 1.6-0.7 0-0.3 1.9-0.7 0 0 1-0.6 0.1 0.1 1.1-0.8 0.3 0 1-1.7-0.7 0.2 1.1-0.5 1.1-0.8 0.2 0.1 1.1-0.8 0.3 0.3 1-0.8 0.2 0 1.3-0.7 0 0.2 1.1-1.5-0.5 0 1-0.8 0.2 0.1 1.1-0.6 0.1 0 1-0.8 0.1 0.1 1.3-0.8 0.1 0.1 1.2-1.6-1.1-0.4 2.7-0.7 0.2-0.6 2.5-0.7 0-0.3 2.3-2-0.6-0.3 2.5-0.7 0 0 1-0.7 0 0.2 1.3-1 0.3 0.2 1.2-1.7-0.6z"/>
<path fill="#1eff00" d="M488.8 264l-2.3-1.1-9-6.9-2-6.4-0.7-0.4-1.6 2.4-3.5-17.8 2.4-4 7-9 23.7-27.6 0.5-1.7-0.6-1 0.6-1.3-0.5-5.4 1.7-7.3-0.3-0.7 0.6-1-0.4-1.3 0.4-1-1.3-5 0.7-1-2.4-4.3 0.5-1.4-1.1-2 0.6-1.3-0.7-1 0.1-2 0.6-1-0.3-0.7 1.1-4.3 2.2-5.7 3.3-14.3 3.8-6.7 5.4-17.3-0.6-2-0.9-0.1-1-1.6-1-0.1-1.1-1.9 0.6-1-0.4-2.6 1.1-2.7 2.2-2.2 4.8-2.8 1.3-1.7 1.4-6.6 5.4-16.7 4.6-10.7 3.8-4.7 3-1.7 3-0.1 2.7 1.1 6.3 5.2 5 3 24 5.7 4.7 0.3 10.3-12.3 11.9-18.8 1.4-1.3 1.1 2 0.8 5.6 0 19.7-0.8 2-18.1 28.9-0.5 3.8-0.8 0.2-0.8 1.4-0.1 2.4-1.4 0.9-0.8 1.4-0.2 2.8-2.4 2.2-0.5 4-0.8 0.2-3 4-0.7 3.9-3 3.8-1.3 2.9-7.7 11.4-0.2 3.8-4.1 5.2-5 8-5.7 10.3-0.6 2.4-1-1-2 2.6-2.4 5.1-4 5.9-0.6 2.4-4 6-0.7 2-1 0.8-0.7 1.9-2.3 2.6-4.7 7.5 0.2 2.3-1.2 2.6-1.7 1.7-0.6 2-9 13 0 3.4-4 6.2-0.7-0.1 0 1-2 3.1-0.6 0 0.1 1.1-0.5 1.1-0.8 0.2 0.2 1.1-1.7-1 0 1.4-0.7 0.1 0 1.3-0.6 0 0 1.4-0.7 0 0.1 1.1-0.4 1.4-0.8 0.2 0.1 0.8-1.7-0.7 0 1-0.6 0 0.1 1.3-0.9 0.3 0.2 1-0.4 1.4-0.8 0.3 0.1 1.1-1.7-0.7 0 1-0.6 0 0 1.3-0.7 0 0 1.4-0.7 0.2 0.2 1-0.8 0.2-0.4 2.6-2-0.9-0.3 2.5-0.7 0 0 1.4-0.6 0 0 1-0.7 0 0 1.4-1.7-0.8zM493.2 76.9l-8.4-0.5-0.6-1.6-1 0.3-0.7-0.9-0.7 0.2-0.9-2.2-1.1 0.2-1.4-2.6-2.5-5-0.1-2.3 1.8-4.3 3.6-3.1 3.6-1.4 6.7 0 6.7 3.1 1.2 2 1.5 1 1.4 2.7 0.6 3.3-0.5 1 0.7 1.7-1 1 0.1 1.3-2 1.4-0.5 1.3-1.5 1.4z"/>
<path fill="#77ff00" d="M486.2 262.4l-8.7-6.4-3-9-1.7 2.6-3.1-15.8 2.4-4 7-9 22.4-25.5 4.8-7.1-0.6-1 0.5-3.7 1.6-3.7-0.3-0.6 0.7-1-0.4-0.7 1-2.3-0.3-0.7 1.3-5.7-0.3-5.6 0.4-1.4-1-2 0.7-1-3.9-7 0.1-2-0.6-1.3 0.3-3.7 1.6-5 2.3-12.3 5.5-14.7 10.8-40.3 4.4-12.7 3.6-8 3.8-4.7 3-1.7 3-0.1 2.7 1.1 6.3 5.2 5 3 24 5.7 5.3 0.3 6.8-8.1 14.8-23 1.4-1.3 1.1 2 0.8 5.6-0.1 13.4-12.1 19.5-0.2 3.1-6.5 9.9-1 3.6-1.7 1.9-0.2 2.6-2.1 1.7-0.2 3.3-1.8 1.4-0.6 3.8-3.4 3.5-0.6 4.1-4 5.1-1.3 2.8-5.7 8.5-0.7 4.3-8 11.1-7 13.3-0.7-0.3 0.1 1.4-1.1 1.4-0.6 2.2-1-1-2 2.6-7.7 14.4-0.7 1-0.6-0.3 0 1.4-1 2.3-1.7 1.6-0.7 2-7.6 11.2-0.4 3.8-11.3 16.8 0.1 3-2.4 3.8-0.7-0.1-0.7 2.2-3.6 4.7-0.7 2.2-0.7 0 0 1.4-0.6 0 0 1.3-0.7 0 0 1-1.7-1 0.2 1.1-0.8 0.3-0.4 2.5-0.8 0.2 0.2 1-0.7 0.2 0 1.4-0.7 0 0 1.3-1.6-1 0.1 1.1-0.8 0.3 0 1.3-0.7 0 0.2 1.1-0.5 1.1-0.8 0.2 0.1 1.1-1.6-0.6 0 1-0.8 0.2 0.1 1.1-0.7 0 0 1.4-0.7 0.2 0.2 1-0.8 0.2-0.3 2.5-2-0.8-0.4 2.5-0.8 0.2 0.2 1-0.7 0.1 0 1.4-0.8 0.2 0.1 1.1-1.7-0.8 0.1 1.5-0.7 0 0 1.3-0.8 0.2z"/>
<path fill="#c7ff00" d="M483.8 260.6l-6.4-4.8-3.2-10.4-1.7 2.2-0.4-0.4-2.4-13.4 2.4-4 7-9 22.4-25.5 8.4-13.1 3.6-11.7 0.4-3.3 1.3-2.4-0.4-0.6 1-2.4-0.3-0.6 1-2.4 0.7-5-2.4-4.8-1-0.2-1-1.7-1 0.3-2.7-5.2 0.5-1.4-0.5-1 0.4-3.3-0.4-1 1.4-9.3 5.8-18 9.4-35.7 4.4-12.7 3.6-8 3.8-4.7 3-1.7 3-0.1 2.7 1.1 6.3 5.2 5 3 24 5.7 5.3 0.3 6.1-6.8 15.5-24.3 1.4-1.3 1.1 2 0.8 5.6-0.1 8.7-19.4 31.2 0 2.1-1.4 1 0.1 2.4-1.2 1.3-0.2 2.5-1.4 0.8-0.5 3.7-2.2 2-0.1 2.3-0.7 1.4-2.8 2.6-0.2 3.7-3.4 3.9-1.4 2.9-4.6 6.4-1.2 2.5-0.1 3.3-4.1 5.2-0.3 1.3-1.3 1-0.4 1.3-1.3 1.1-0.6 4.4-2.1 2.6-0.6 1.9-2 3-0.7-0.8-0.7 0.3-2 3.4-0.6 2.2-0.7-0.3 0.1 1.4-2.4 4.6-1-0.8-0.4 0.4-0.6-0.3 0 1.6-2.4 4.1-0.6-0.3 0 1.4-3.4 6.2-0.6 1-0.7-0.3 0.1 1.4-2.4 4.2-0.7 0 0 1.4-9 13.7-1 0.7-0.3 4.3-10.4 15.1 0.2 2.6-1.2 2.1-0.6 0-0.7 2.2-1 0.7-3.3 5.5-0.7-0.1-0.7 2-0.6 0-0.7 2.5-0.7-0.3 0.2 1.4-0.9 0 0.2 1.3-1.3 1.7 0.2 0.8-1.7-0.7 0 1-0.8 0.2 0.1 1.1-0.8 0.3 0.2 1.1-0.7 0.1 0.1 1.1-0.8 0.2 0.2 1.1-0.8 0.3 0 1.3-1.7-1.3 0.1 1.4-1.2 1.7 0.1 0.7-0.8 0.3 0.1 1.1-0.8 0.2 0.2 1.1-0.8 0.2 0.1 1.1-1.7-1 0 1.4-0.6 0 0 1.3-0.7 0 0 1.3-0.7 0 0 1.4-0.6 0.1-0.4 2.5-2-1-0.5 2.6-0.8 0.3-0.3 2.5-0.8 0.2 0.1 1.4-1.7-0.6 0 1-0.8 0.2 0.2 1.1-0.8 0.2 0.1 1.5-0.8 0.2z"/>
<path fill="#ecff00" d="M480.2 257.9l-3.1-2.7-3.5-11.7-0.8-0.4-1 1.9-0.4-0.8-1.4-7.4 0.1-3.6 9-12.4 22.4-25.5 8.8-13.1 3-5 9.3-23 2.7-4.4 3.9-4 0.1-0.6 8.2-4.9 4.7-7.1-0.4-0.4-2.6 1 0 1-1.4 0.6-0.3 1.2-2.3 0.2 0 1-3.7 3.1-3.7 1.5-0.6-0.6-2.7 0.6-3-1.6-2.3 0.3-2-2.2-1 0.5-0.7-1-0.7 0.4-2.6-5.3 0.4-1.7-1.1-1.3 0.6-1.7-0.7-0.6 0.6-1.4-0.5-0.6 0.2-3.4 6.2-20.6 5.2-20.7 6-19 4.6-10.7 3.8-4.7 3-1.7 3-0.1 2.7 1.1 6.3 5.2 5 3 24 5.7 5.3 0.3 2.4-1.6 3.4-4.2 15.8-25.3 1.4-1.3 1.1 2 0.7 5.6-13.1 21.4 0.1 2-0.7 1.3-5.1 7.4-0.9 3.9-0.8 0.4-0.2 2.3-1.1 0.7 0.1 2-1.5 1 0.2 2.3-1.5 1.3-0.2 2.7-2.1 2-0.3 3.1-2.7 2.6-0.2 3.6-3.4 3.9-0.4 1.3-1.3 1-0.7 2-2.6 3.4-1.3 5.8-7.5 10-0.6 4.4-2.6 3.1-4.4 8.2-1-1.4-0.6 0.9-1.4 3.7-0.7-0.3 0.2 1.4-1.1 1.2-1.4 3.7-1.3-1.7-0.7 2.3-0.6-0.3 0.1 1.4-1.1 1.2-0.7 2.1-0.7-0.3 0.2 1.4-1.8 2.2-0.7 2-0.7 1-0.6-0.3 0.1 1.4-1.1 1.2-0.7 2-0.7 0 0 1.4-1.3-1.2-0.7 2.2-1.8 2.1 0.2 2.9-1.1 0.7-0.6 2-1.7 1.7-4 6.6-1 0.7-1.1 2.4 0.1 2.9-7.3 10.1-1.3 2.8-0.8 0.2-0.2 3.9-3 3.7-0.7 1.8-0.7 0 0 1-0.6 0 0 1-1.4 0.7 0 1-3.3 5.1-0.7 0 0.2 1.1-0.8 0.2 0.1 1.1-0.5 1.5-0.8 0.2 0.2 1.1-0.8 0.2 0.1 1.1-1.7-1 0 1.4-0.8 0.2 0.2 1.1-0.7-0.1 0 1.4-0.7-0.2 0.2 1.5-0.8 1.2-0.7 0 0 1.3-1.7-1 0.2 1.1-0.8 0.3 0 1.3-0.7 0 0.1 1.1-0.4 1.4-0.8 0.3 0.1 1.1-0.8 0.2 0.1 1.1-2-0.9-0.3 2.6-0.8 0.2 0.1 1.1-0.8 0.2 0.2 1-0.7 0.1 0 1.4-0.8 0.2 0.1 1.1-1.6-1-0.7 2.7-0.8 0.2 0.1 1.1-0.8 0.2 0.2 1.1-0.8 0.3 0.1 1.5-1.7-1.1 0 1.4-0.7 0.2 0.1 1.4-0.8 0.2-0.2 2.5-2-0.7z"/>
<path fill="#ffe000" d="M480.2 254.3l-2-1 0 1-1.5-0.8-4.2-12.5-1 1.5-1.5-5.7-0.3-3 0.7-1.3 12.4-16.1 18.8-21.2 12.7-19.4 11.1-21.6 3.4-4.7 9.8-10 9-17-3.8 0.3 0.1 2-2.4 0-0.3 1.9-2.4-0.2 0 1.9-2.3 0 0 1.8-3.3 0.2-3.4 1.3-2 1.6-1-0.8-1.6 1.2-0.4-0.6-2 0-0.3-0.6-2 0.3-0.7-1.3-1 0.6-0.6-1.3-1 0.6-1.9-4.6-1.9-2.6 0.5-2-0.8-1 0.3-3.4 9.7-36.3 6-19 4.6-10.7 3.8-4.7 3-1.7 3-0.1 2.7 1.1 6.3 5.2 5 3 24.3 5.7 8.4 0.5 0.8 1.7-0.4 4.3-0.8 0.4-0.2 3.6-1.2 1.4-1.1 4.6-1.2 1-0.2 2.7-1.8 1.3 0.1 2.7-2 1.6-0.6 4.1-3.4 3.8-5.7 8.7-0.7 4.6-7 9.4-0.2 3.8-3.8 4.5-5 9.3-1-1.2-0.6 0.9-1.4 4.1-0.6 1-0.7-0.3-0.7 2.8-1-1.1-0.3 0.9-0.7 0-0.8 3.4-1.5 2.3-0.7 0 0.1 1.1-1.7 3.2-0.7 0 0.1 1.1-0.8 1.2-1-0.8-0.3 0.8-0.7 0 0 1-0.6 0 0 1-0.7 0 0.1 1.1-0.8 0.3-1 3.3-0.6 0 0 1-0.7 0 0 1-0.7 0 0 1-1.6 2.7-0.7-0.1-0.7 2.1-1.3 0.6 0 1-0.7 0 0.5 2.8-0.5 1.3-1.3 1.6-0.7 0 0 1-2.3 3.6-0.7 0 0.2 0.8-1.5 2.3-1.3 0.6 0 1-0.7 0 0.3 3.4-8 11.1 0.4 3-0.7 1.2-4.4 5.4-2.9 4.9-0.7 0 0 1-0.7 0-0.3 2.6-0.7 0 0 1.3-0.8 0.2-0.5 2.6-1.7-1.1 0 1.3-0.6 0 0 1-0.8 0.2 0.1 1.2-0.7 0 0 1.4-0.6 0 0 1.3-0.7 0 0 1.4-0.7 0 0 1.3-1.6-1.1-0.6 2.5-0.8 0.3-0.6 2.6-0.7 0-0.3 2.6-2-1 0 1.3-0.7 0 0 1.4-0.7 0.2 0.2 1-0.8 0.2-0.4 2.5-0.6 0 0 1.4-0.8 0.2 0.1 1.1-2-1-1 4.3-0.8 0.3 0.1 1.1-2.1-0.8 0.2 1.3-0.9 0.4-0.2 2.4-0.7 0.2z"/>
<path fill="#ffa200" d="M477.5 251.9l-1.8-1.4-3.5-11.1-0.7 0-0.3 0.9-0.4-0.5-1.1-5.6 0.7-1.7 12.4-16.1 18.8-21.2 13.3-20.4 9.8-17 13.9-18.3 7.3-13 5.6-12.3-0.2-1.4-0.8-0.3 0 1.7-3.4 0.3 0.1 1.9-2.4-0.6 0 2.3-2.3-0.5-0.3 2.1-1.5-0.2 0.1 2.2-3.3-0.6 0 2.3-5.3 0.7-3.7 2.9-1-0.9-1.3 1.3-1.7-1.3-2 0.5-0.7-1.7-1 0.8-1-2.3-0.6 0.6-0.5-0.5-1.9-4.6-1 1.3-0.4-0.4 0.6-2.3-1.2-1.3 0.3-4.4 8-30.3 6-19 4.6-10.7 2-3 2.8-2.4 2.3-1.1 3 0.1 2.4 1 6.3 5.2 5 3 21.3 4.8 4.7 1.3 3.3 1.7 1.1 2.4-0.6 3.7-0.9 0.3 0.2 1.7-0.9 1-0.1 2-1.2 1.3-0.1 2-1.9 1.7 0.2 2.3-2.2 2 0.2 3-2.8 2.9-0.3 1.3-8 11.7-0.7 4.3-4.4 5.5 0.1 3.1-6.3 8.8-1.4 3.3-0.6-0.3 0 1.5-1.4-1.5 0.2 1.1-0.8 0.2 0 1.4-0.7-0.3 0.1 1.4-1.4 2.5-1.4-1 0.2 1.1-1.8 2.9 0 1-0.7 0 0 1.4-0.7 0 0 1-1.3-0.8-0.7 2.1-0.8 0.1 0.2 1.2-0.7 0-0.7 2-0.8 0.1 0.3 1-1.1 2.3-0.8 0.1 0.1 1.2-1.7-1.1 0.2 1.2-0.8 0.2-0.2 2.1-0.8 0.3 0 1-0.7-0.2 0.1 1.3-0.8 0.2 0 1-0.7 0.1 0.1 1.2-0.7 0 0.1 0.8-1.1 1.9-0.7 0 0 1-1.3 0.7-0.7 2-0.6 0-0.2 3.4-0.7 1.3-1.1 0.6 0.1 0.8-0.8 0.2 0 1-0.7 0 0 1-0.6 0 0 1-1.4 0.7 0 1-0.6 0-0.8 2.4 0.1 2.2-0.7 0 0 1-0.6 0 0 1-0.7 0 0 1.1-1.3 0.6 0 1-0.7 0 0 1-0.7 0 0 1-0.6 0 0 1-0.7 0 0.1 0.8-1.1 1.8-0.7-0.1 0.4 3.2-0.7-0.1-0.7 2.1-1.3 0.6 0.1 0.8-0.8 0.2 0 1-0.6 0 0 1-1.4 0.7 0 1-0.6 0 0 1-0.7 0 0.5 2.8-0.8 0.2 0 1-0.7 0-1 2.9-1.3 0.6 0 1-0.7 0 0 1-0.7 0 0 1.4-0.6 0 0 1.3-0.7 0 0 1-0.8 0.2-0.5 2.6-1.7-1 0 1.2-0.8 0.2 0.1 1.1-0.8 0.3 0.2 1.1-0.8 0.2 0.1 1.1-0.7 0 0 1-0.8 0.2 0.2 1.3-0.7 0 0 1.3-1.8-0.9 0.1 1.1-0.6 0-0.7 2.7-0.8 0.2 0.1 1.1-0.8 0.2 0.2 1.1-0.8 0.3-0.6 2.5-1.6-1.1-0.7 2.7-0.8 0.2 0.1 1.1-0.8 0.2 0.2 1.1-0.8 0.3 0.1 1.1-0.8 0.2 0.1 1.1-0.8 0.2 0.2 1.1-1.7-0.6 0 1-0.8 0.2 0.1 1.1-0.7 0.2 0.1 1.5-0.8 0.2 0.1 1.1-2.1-0.8 0.1 1.5-0.8 0.2-0.2 2.5-0.8 0.2 0.2 1.3-0.7 0.1z"/>
<path fill="#ff6600" d="M540.5 139.2l-1 0.1-0.4-0.8 1.5-1.3-0.1-1 0.7-0.4 0.2-1.3 7.2-13.3 0.5-2.4 4.5-9 0.5-3 2.1-4.3-2.4 0.6 0 1.5-2.3 0-0.3 1.8-1.4-0.5 0 2.2-1.6-0.8 0.1 2.2-1.5-0.2-0.3 2.1-2-1.5-0.3 2.5-1.5-0.6 0.1 2.3-2.6-1.2 0.1 2.6-2.5-0.4 0 2.8-5.3 0.8-2 1.7-0.7-1.5-1.6 1.2-0.7-1.2-1.3 1.7-0.7-0.5-0.7 0.6-0.6-2.2-1 0.8-0.7-2-1 1-0.7-1.6-1 0.6-2-4.9-0.6 1.5-0.5-0.1 0.6-2.3-1.3-1 0-1.7 7.7-29.6 8-23.4 3.7-6.6 1.8-1.9 3.3-1.9 3-0.1 2.7 1.1 9.6 7.5 21.7 5.2 2 1.6 1.4 2.8 0.3 3.8 1.6-1.5 1.2 1.4-1.2 0.5 0.1 3.8-1.5 1.3 0.1 2.2-1.4 1.2 0.1 2.4-3.4 4.5-0.6 0-1 3-1.7 1.8-0.7 1.8-0.6 0-0.2 3.8-5.2 7-1.3 4.5-3.7 4 0.1 3.2-1.7 2.9-2.7 4.2-1.3-1.2-1.6 4.7-0.8 0.3 0 1.3-1.6-1.1 0.1 1.2-1.5 2.9-1.3-0.6-0.7 2.6-1.3 0-0.7 1.9-0.7 0.2 0.1 1.2-1.6 0.1-1.8 4.2-1.7 0.2 0.1 1zM475.5 245.6l-1.8-1.4-2.2-6.9-1 0.5-0.4-0.6-0.4-3.4 0.7-1.3 12.4-16.1 18.7-21.1 17.9-27.1 1.5-1.4 2-3.3 2.6-2.3 0.7 1.6-2.6 3.4 0.2 1.4-0.7 0.2-0.9 2.7-0.6 0.3 0.2 1.8-0.7 0.2 0.1 0.8-0.7 0.2 0 0.8-0.7 0.2-1.3 2.8-1.4 0.9 0.5 2.3-1.5 1-0.6 1.8-0.7 0.1 0 1-0.6 0 0 1-0.7 0 0.3 2.4-0.6 0 0.1 0.7-0.8 0.3 0 1-0.7 0 0 1-0.6-0.1-0.7 1.7-0.7 0 0 1-0.6 0 0.6 2.6-0.7 0.2-0.6 1.8-0.7 0-0.6 2-1.5 0.9-0.5 1.8-0.8 0.2 0.1 1.1-1.4 1.2 0.1 1-0.8 0.3 0.1 0.8-0.8 0.2 0.1 1.2-0.7 0.2 0.1 1.1-0.8 0.2-0.6 2.1-0.7 0.2 0.1 1.2-1.7-0.4 0 0.7-0.8 0.2 0.2 1-0.8 0.3 0.1 1.2-0.8 0.2 0.1 1.1-0.7 0 0 1-0.7 0.2 0.1 1.1-0.8 0.2 0.1 1.2-0.8 0.2 0.1 1.1-0.8 0.2 0.2 1.1-2-1 0.1 1.2-0.9 0.4 0.2 1-0.8 0.2 0.2 1.1-0.8 0.2 0 1-0.7-0.1 0.1 1.2-0.9 0.4 0.3 1-1 0.3 0.3 1-0.9 0.3 0.1 1.3-1.8-0.9-0.5 2.7-0.7 0 0 1.4-0.8 0.2 0.1 1.1-0.7 0.2 0.1 1.2-1.7-0.5 0 1.1-0.8 0.2 0.1 1.5-0.7 0.2 0.1 1.1-0.8 0.2 0.1 1.2-2-0.7z"/>
<path fill="#ff1e00" d="M528.8 114.6l-1-1-0.6 0.5-0.7-1.2-1.7 0.7-0.6-2-1 1-0.7-1.5-1 1.2-1.3-3.2-0.7 1.5-0.3-0.3-1.5-3.1 0.6-2.4-0.9-0.6 8.3-31.7 5-14.3 4.8-9.2 2-1.9 3-1.7 3.3 0 2.4 1 9.6 7.5 17.8 4.3 2.1 3.3-0.4 1 0.6 1.7-0.6 0.3 0.2 1.5-0.8 0.8 0.2 1.4-0.7 0.2-0.4 2.3-2.1 2.8 0.1 1.8-1.7 1.9 0.1 0.8-0.7 0-1.7 3.6-0.7 0.2-1.6 3.8-1.3 0-1.4 3.4-1.7-0.2-0.5 2.7-1.4 0 0 1.2-1.7-0.2 0 1.6-1.4-0.3 0.1 1.6-1.7-0.5 0 1.8-1.3-0.4-1 3.8-1.5-0.6 0.1 1.9-1.3-0.8-0.3 1.8-1.4-1.1 0 2.4-1.6-1.3 0 2.7-1.4-1.2-0.3 2.5-1.5-0.9 0.2 2.6-1.7-1.2 0 3.2-2.3-1.7-1 0 0 3.2-2-0.3-2.4 0.8-3.3 2.3-0.7-1.2zM551.8 116.5l-1 0.3-0.3-1 0.8-0.3-0.2-1 1.4-1.7 0.6-2.6 0.8-0.4 0.1-2.6 1.8-4 3.6-6 9.5-11.7 1.6-3.7 1.9-2.3 1.1-2.7 1.3-1 1-2.5 1 0.1 0.4 0.9-0.7 0.2 0 0.8-1 1.7-0.7 0.2 0 0.8-0.7 0.2 0.1 0.8-0.7 0.2-0.3 1.8-0.7 0.2 0 0.8-4.1 5.8-0.2 2.5-0.7 0.2 0 0.8-0.7 0.1-1 1.6 0 2.2-1 0.5 0 1.1-1.1 1 0.1 2-2.8 3.4 0.3 2-1.1 2.2-1.4 0.7 0.2 0.7-0.8 0.3-0.7 2.3-1.4-0.9 0.2 1-0.8 0.3 0.1 1-0.8 0.3 0 1-1.3 0 0 1.1-1.8 0.3zM474.2 241.7l-1.4-0.5-1.5-4.7-0.5-0.7-0.6 0.3-0.5-2.3 1.7-3 11.4-14.4 16-18.4 3.6-3.5 1.1-0.3 0.4 0.6-0.6 0.7 0.2 1.7-2 2.3 0 0.8-0.9 0.2-0.5 2-0.8 0.3-0.7 1.7-0.8 0.3 0.1 1-2.1 2.4 0 1.2-0.7 0.1-0.6 1.8-0.7 0.2-0.6 2.6-0.7 0 0 1-0.7 0.1 0 1.2-0.6 0 0 1-0.7 0.1 0 1.2-0.8 0.1 0.1 1.3-1.9-0.6 0.3 1.1-1.6 1.2 0.3 1-0.8 0.4 0.1 0.8-1.1 0.2 0.2 1-0.8 0.3 0 1.2-0.7-0.1 0.2 1.2-0.8 0.3 0 1-0.7 0.1 0 1.2-1.8-0.2-0.5 2.4-0.9 0.2 0.2 1.2-0.9 0.2 0.2 1.1-2-0.1 0.2 1-0.9 0.3 0.2 1-0.8 0.3-0.5 2.4-1 0.3z"/>
<path fill="#ff0000" d="M528.8 108.3l-0.6-1.1-0.7 0.5-0.3-0.9-1 0.8-0.7-0.5-0.7 0.8-0.6-2-1 1.4-1-2.9-0.7 1.2-0.3-0.3-1.3-3.5-1.1-1 0.2-3.3 4.7-18.3 5.4-16.7 2.6-6.7 3.8-6.8 2-1.9 3-1.7 3.3 0 2.4 1 9.6 7.5 14 3.5 1.4 2.4-0.5 0.7 0.5 1.3-0.5 0.4-0.5 3.8-1.4 0.8 0.4 1.9-1 1.7-1.4 0.6-0.2 3.2-1.1 1.9-0.7 0 0 1-0.6 0 0 1-0.7 0 0.1 0.7-1.4 2.6-1.4-1.1 0.2 1.2-2.2 4.2-1.3-1.1 0.1 1.6-0.8 0.2-0.6 3-1.4-1.1 0.2 1.5-1 0.4 0.3 1.3-1.5-0.6-0.3 1.7-1.3-1.5 0.1 2.1-0.9 0.3 0.2 1.7-1.8-1.5 0.2 2.1-0.9 0 0.1 2.3-1.4-1.4-0.3 2.2-1.3-1.5 0 2.7-1.7-1.7 0.1 2.8-1.4-0.8-0.4 3-2.3-1.9 0 3.6-3.3-0.7-2.2 0.8-2.8 2.8-1-1.7zM471.5 234.3l-1 0.1-0.4-1.2 2.2-3.7 1.6-1 1.9-3.5 2.1-1.5 1.3-2.7 1-0.6 0.7 1.6-1.4 1.4-0.6 2.3-2 0.3 0.2 1-1.6 1.4-0.6 2.3-1.8 0.3 0.1 1-0.7 0.4 0 1z"/>
<path fill="#ff0000" d="M530.5 102.6l-1-1.6-0.7 0.6-0.3-0.9-0.7 0.6-0.3-0.8-1 0.8-0.7-0.6-0.6 1.2-1-3.8-1 1.5-2-5.1-1-0.2 0.2-2.5 5.3-19.3 4.4-12.7 3.6-8 2-3 2.8-2.4 2.3-1.1 3 0.1 2.4 1 9.6 7.5 8.8 2.3 2.3 4-0.7 3.3-0.7 0.3-0.2 2.7-2.3 2.3 0.2 2.3-1.7 2.3-0.7 0 0.2 0.8-2.5 3.4-0.7 2.5-0.6-0.3 0 1.6-1.4-1.3-1.6 4.2-1.4-1.5 0.2 1.7-0.8-0.1 0.1 1.8-0.9 0.3 0.1 1.9-1.3-1.7-1 3.6-1.4-1.9 0.2 2.4-0.9 0 0.1 2.3-1.4-1.7-0.3 2.2-1.3-1.9-1 5.6-2.4-2.4 0 3.2-3.3-1.3-0.3 3.8-2.4 0.5-1.3 1-1-2.4z"/>
<path fill="#ff0000" d="M533.2 95.3l-1-2-1.7 2.1-0.3-1.4-0.4-0.3-0.6 0.6-0.4-0.8-1 0.8-0.6-0.8-0.7 1.1-0.7-2.2-0.6 1.1-0.5-0.7-0.5-2.3-0.7 1.8-0.7 0-1.1-1.8 1-7.7 6.4-20.3 4.6-10.7 2-3 2.8-2.4 2.3-1.1 3 0.1 2.4 1 9.6 7.5 5 1.8 1.7 3.5-0.8 2 0.2 1.3-0.8 1 0.1 1.6-1.2 1.1 0.2 1.9-1.7 1.6-3.3 6-0.7-0.3-0.7 3.2-1.3-2.2 0.1 1.8-0.8 0 0 1.7-0.7-0.4 0.1 2.1-0.7-0.4 0 2.1-1.3-1.9-1.7 5.5-1.3-2.2 0 2.7-1.7-2 0.1 2.4-0.9 0.4 0.1 2.5-1.6-2 0 3-2.4-1.8-0.3 3.2-3.3-0.4z"/>
<path fill="#e80000" d="M529.8 89.6l-0.3-1.1-1 0.8-0.7-3-1 1.3-0.6-1.9-1 1.6-0.9-2.5-1.2-1 0.3-3.3 2.3-8 5-14.3 4.7-9 2-2 3.1-1.8 3.3 0 2.4 1 11.8 8.8 0.9 4-0.5 0.6 0.2 1.4-1.1 0.5 0 2.3-2 1.8 0.1 3-2.1 3.6-1.3-1.7-2 5.6-0.7-0.5 0 1.9-1.7-2.3 0.1 2.1-0.7-0.4 0 2.1-0.7-0.5-0.1 0.5 0.1 2.1-1.3-1.9-0.4 2.2-0.7-0.4 0.1 2.7-1.4-1.8-0.3 2.5-1.4-1.4 0.1 3.2-2.4-1.7-1.4 0.1 0.1 3.8-0.7-0.1-1-3.4-3.3 3.8-1-1.9z"/>
<path fill="#ca0000" d="M531.5 82.9l-0.7-1.3-0.6 0.7-0.7-0.8-0.7 0.8-0.6-2.6-1 1.6-1.3-3.8-1.1-0.7 4.3-14.3 2.6-6.7 4-7 4.8-3.4 4.3 0.3 9.5 7.1 1 2.4-0.7 6.6-2.1 1.8-1.7 3-0.6-0.5 0 1.7-2 4.5-1.4-2.5 0.1 2-0.7-0.4 0 2.1-0.7-0.4-0.1 0.4 0.1 2.1-1.7-2.2 0.2 2.1-1 0.3 0.2 2.3-1.7-2 0 3-1.8-0.9 0.1 2.9-2.6-0.7-3.4 2.3-0.6-2z"/>
<path fill="#ad0000" d="M531.8 75.6l-0.3-1.1-1 0.8-0.7-2.7-1 1.3-2.1-3.7 5-14.4 3.7-6.6 2-2 3.4-1.9 4 0.4 5.7 4 2.1 3.1-0.3 3.4-1.3 1.3 0.2 2.3-1.7 1.8-1 2.3-0.7-0.5 0.2 1.4-0.2 0.5-0.7-0.5 0.1 1.8-1.7-2.2 0 1.9-0.7-0.5 0.2 2-0.9 0 0.1 2.1-1.7-2.2 0.1 2.5-0.8 0 0 2.5-2.6-2.4 0 2.8-2.7 0-2.3 2-0.7-1.8z"/>
<path fill="#8e0000" d="M534.8 68l-1-1.3-0.6 0.4-0.4-1-1 0.8-0.6-0.5-0.7 0.9-1.7-2.8 2.9-8.7 3.7-6.6 2-2 3.4-1.9 4 0.4 3.8 2.5 0.7 1-0.4 4.6-1.7 1.6-1.4 3-0.6-0.3-1.7 4.5-1.3-1.5-1 4.3-2.7-1.6 0 2.6-1.7 0z"/>
<path fill="#6f0000" d="M535.8 59l-1-1.1-2 0.9-1-2 0.6-2.3 3-5.3 2-2 3.1-1.8 4.3 0.3 1.1 2.1-0.5 0.7 0.2 1.3-1.4 0.9-0.7 2-0.7 0 0.2 1.1-1 0.4 0.2 1.5-1.7-1.1 0 1.8-1.7-0.2 0 2z"/>
<path fill="none" stroke="#222" stroke-opacity="0.6" stroke-width="0.7" d="M504.3 272.0l11.5-16.4 27.1-48.2 21.4-36.1 17.6-31.3 11.6-22.3 17.8-30.8M440.9 97.1l-0.3 9.1 1.6 9 2.9 7.4 6.6 12.8 7.8 22.7 8.1 20.8 4.7 16 4.2 19.9 0.9 7.3M582.6 40.3l-4.2 3-3.6 1.9-3.9 1.2-5.5 0.8M496.5 269.0l16.9-24 27.8-49.2 22.2-36.9 17.9-31.7 11.6-22.8 18.2-31.2M458.1 79.5l0 6.7 2.1 7.1 3.6 6.5 9.3 14.3 2.6 6 1.7 6.9 0.8 12 1.3 4 2.4 4.3 6.4 5.8 1.4 2.2 0.2 2.5-1.9 8.9-0.4 6.2 0.6 5.3 2.2 10 1 17.8M475.9 254.9l-1.9 3.1M595.6 46.9l-8.4 7-8.6 5M529.4 59.4l-12.3-3.4M490.0 265.1l21.3-30.2 28.5-50.4 23-37.3 18.2-32.3 11.7-23.6 18.6-31.7M591.5 53.0l-3.2 3-3.2 4.1M520.8 86.0l-6.1 1.7-6.7 2.7-2.1 1.9-1.4 3.1-0.1 4.6 1.8 4.4 3.8 3.7 4.7 2M509.4 125.0l-2 2.1-1.4 2.4-2.3 13.1-4.2 11.3-1.3 5.4 0 5.6 2.5 10.9-0.3 19.4M475.3 250.4l-2 3M471.9 62.8l-0.9 5.3 0.9 4.6 2.6 4.5 4.4 4.5 4.9 3.1 6.2 2.2 7.6 0.9 4.7-0.7 3.6-2.7 3.2-5.5 1.9-5.9 0.1-4.9-2-4.8-3.5-4.2-4.3-3.1-6-2.5M483.7 260.6l25.7-36.1 29.1-51.6 23.8-37.6 19.2-34.3 11-23.4 19.1-32.2M510.9 124.9l-1.6 6.9-1.3 12.4 1 3.8 4.4 6.7 0.5 4.1-1.1 8.4-4.2 16.6M473.7 245.9l-1.3 2.2M477.4 255.7l29.8-42.2 29.3-52.6 22.9-34.3 19.5-34.3 7.9-16.8 3.7-11.7 0.1-2.7-6.1-0.3M514.5 114.7l-1 6.4 1.5 5.8 2.8 3.8 4.9 2.1 4.6 0.2 3.9-1.1 16-9.9M535.6 142.8l-9.1 10.4-7.6 13.9M472.2 240.9l-0.9 1.4M474.1 244.8l9-12.4 21.3-31.7 8.4-16.8 2.9-7.6-0.6 0.1-2.3 2.6-11 16.4-10.4 13.2M544.9 128.0l0.5-0.3-0.5 0.3M517.5 104.1l-0.3 4.5 0.9 2.6 1.3 1.6 4.4 3.4 2.7 0.7 3.4-0.1 3.9-1.1 5.3-2.9 15-12.3 4.9-3.4M556.2 107.8l-2.9 4.8 0.3 0.6-8.1 13.8 0.3 0.5 7.4-7.6 5.3-7.1 11.5-21.6 7-11.9 3.1-6.5 1.5-4.8-0.9 0.2-6.7 9.9 3.4-8.4 1.1-6.7-0.5-1.9-1.2-1.6-4-1.2M581.3 67.3l0.3 0.6 0.1-0.6-0.4 0M521.5 89.9l-1.1 3.6 0.5 3.5 2.3 2.8 3.2 1.6 3.8 0.5 4.2-0.8 3.8-1.7 4.2-3 6.1-6 7.3-8.4 4.6-6.3 3.2-5.6 3-7 0.5-3.8-1.1-2.4-3.3-0.8M525.2 76.3l-1.1 2.7 0 3 1.4 2.4 2.1 1.4 3.1 0.7 3.5-0.3 3-1.1 3.6-2.2 8.2-8.8 6.7-10.2 1.6-4.3 0.3-3.1-0.8-1.9-1.7-0.8M530.8 60.3l-2.4 4.6 0.2 2.3 0.7 1.2 1.5 1.1 2.8 0.4 2.2-0.4 3-1.4 5.6-5.5 5-7.6 0.9-2.7 0-2.2-1-1.2-1.6-0.3"/>
<path d="M400.1 121.9L478.8 292.8L667.0 207.0" stroke="#444" stroke-width="1" fill="none"/>
<path d="M478.8 292.8L475.3 294.4M472.4 279.0L470.4 279.9M466.1 265.2L462.6 266.8M459.8 251.5L457.7 252.4M453.4 237.7L449.9 239.2M447.1 223.9L445.0 224.8M440.7 210.1L437.2 211.7M434.4 196.3L432.3 197.2M428.0 182.5L424.5 184.1M421.7 168.8L419.6 169.7M415.3 155.0L411.8 156.6M409.0 141.2L406.9 142.1M402.6 127.4L399.1 129.0M478.8 292.8L480.4 296.3M499.4 283.4L500.3 285.4M519.9 274.1L521.5 277.5M540.5 264.7L541.4 266.7M561.0 255.4L562.6 258.8M581.6 246.0L582.5 248.0M602.1 236.6L603.7 240.1M622.7 227.3L623.6 229.3M643.2 217.9L644.8 221.4M663.8 208.5L664.7 210.5" stroke="#444" stroke-width="1" fill="none"/>
<text transform="translate(473.3 295.3) rotate(-24)" font-size="12.8" text-anchor="end" fill="#222" dy="0.36em">11550</text>
<text transform="translate(460.6 267.7) rotate(-24)" font-size="12.8" text-anchor="end" fill="#222" dy="0.36em">11555</text>
<text transform="translate(447.9 240.2) rotate(-24)" font-size="12.8" text-anchor="end" fill="#222" dy="0.36em">11560</text>
<text transform="translate(435.2 212.6) rotate(-24)" font-size="12.8" text-anchor="end" fill="#222" dy="0.36em">11565</text>
<text transform="translate(422.5 185.0) rotate(-24)" font-size="12.8" text-anchor="end" fill="#222" dy="0.36em">11570</text>
<text transform="translate(409.8 157.5) rotate(-24)" font-size="12.8" text-anchor="end" fill="#222" dy="0.36em">11575</text>
<text transform="translate(397.1 129.9) rotate(-24)" font-size="12.8" text-anchor="end" fill="#222" dy="0.36em">11580</text>
<text transform="translate(481.3 298.2) rotate(63)" font-size="12.8" fill="#222" dy="0.36em">11550</text>
<text transform="translate(522.4 279.5) rotate(63)" font-size="12.8" fill="#222" dy="0.36em">11555</text>
<text transform="translate(563.5 260.8) rotate(63)" font-size="12.8" fill="#222" dy="0.36em">11560</text>
<text transform="translate(604.6 242.1) rotate(63)" font-size="12.8" fill="#222" dy="0.36em">11565</text>
<text transform="translate(645.7 223.3) rotate(63)" font-size="12.8" fill="#222" dy="0.36em">11570</text>
<text transform="translate(366.5 176.5) rotate(66.3)" font-size="12.2" fill="#222">Incident Energy (eV)</text>
<text transform="translate(535.5 330.5) rotate(-25.2)" font-size="13.5" fill="#222">Emmission Energy (eV)</text>
<linearGradient id="g3_0" x1="0" y1="0" x2="0" y2="1"><stop offset="0.000" stop-color="#580000"/><stop offset="0.093" stop-color="#960000"/><stop offset="0.200" stop-color="#f00000"/><stop offset="0.340" stop-color="#ff0000"/><stop offset="0.370" stop-color="#ff4000"/><stop offset="0.425" stop-color="#ff9600"/><stop offset="0.500" stop-color="#ffff00"/><stop offset="0.570" stop-color="#beff00"/><stop offset="0.660" stop-color="#00f000"/><stop offset="0.700" stop-color="#00ffaa"/><stop offset="0.730" stop-color="#00ffff"/><stop offset="0.790" stop-color="#008cff"/><stop offset="0.847" stop-color="#0000ff"/><stop offset="0.900" stop-color="#6400ff"/><stop offset="1.000" stop-color="#820096"/></linearGradient>
<rect x="634.3" y="23.4" width="17.0" height="154.0" fill="url(#g3_0)" stroke="#222" stroke-width="1"/>
<path d="M651.3 177.4h4M651.3 146.6h4M651.3 115.8h4M651.3 85.0h4M651.3 54.2h4M651.3 23.4h4" stroke="#444" stroke-width="1"/>
<text x="660.8" y="182.6" font-size="14.3" fill="#222">0.0</text>
<text x="660.8" y="151.8" font-size="14.3" fill="#222">0.2</text>
<text x="660.8" y="121.0" font-size="14.3" fill="#222">0.4</text>
<text x="660.8" y="90.2" font-size="14.3" fill="#222">0.6</text>
<text x="660.8" y="59.4" font-size="14.3" fill="#222">0.8</text>
<text x="660.8" y="28.6" font-size="14.3" fill="#222">1.0</text>
<path fill="#6c0a6c" d="M513.5 595.9l-8-0.4-9.3-3.6-10.2-7.1-8.5-7.1-3.3 5.2-0.8 0.2-21.7-45.3-43.2-96.7 13.7-10.5 8.5-8.5 6.6-8 12.2-19.5 15-17.6 6.5-6.6 6.7-5.3 8.5-5.1 5.3-2 6.3-1.4 8-0.3 11.7 1.7 18.7 4.3 8 1 9.3 0 13.3-2.4 17.7-6 9.6 15.9 4.4 5.7 2.1-2.1 7.8-13.3 1.4-1.1 1.1 3.1 0.8 6 0.3 43.7 1.3 10.3 1.4 5 2.7 5.7 53.7 92.3-144.6 65.8-7 2.6z"/>
<path fill="#8006b4" d="M512.5 595.8l-7-0.3-9.3-3.6-10.2-7.1-8.5-7.1-3.3 5.2-0.8 0.2-13.7-28 0.6-3.7-0.7-1.6 0.6-0.7-1-2.7 0.4-1.3-1.3-2.7 0.6-1-1.8-3.6-0.2-3-1.7-3.4 0.7-1-4.5-9.3-0.1-3-3.1-6.7-1 0.1-0.8-1.4-6.1-14-1.9-1.3-2-4.4-1.1-3 0.3-1.6-2.7-5.7 0.7-1-3.9-8 0.4-1.3-3.8-8.7-0.8-1.4-1.1-0.3-4.1-9.3-1.9-1.7-2.8-6.3-1.2-0.3-1.6-3.7 9.4-7.5 8.6-8.7 6.5-7.8 12.2-19.5 15-17.6 6.5-6.6 6.7-5.3 8.5-5.1 3.3-1.3 8.3-2.1 8-0.3 11.7 1.7 18.7 4.3 8 1 9.3 0 13.3-2.4 17.7-6 9.6 15.9 4.4 5.7 2.1-2.1 7.8-13.3 1.4-1.1 1.1 3.1 0.8 6 0 37.3 1.1 14.7-19.3 32.7-0.3 2.6-13.5 22.4-0.2 2-2 2.5-0.3 2.3-3 4.3-0.7 3.4-4.7 7-3 5.9-0.7 0.2-0.9 2.7-1 1.8-0.7 0.2-0.3 1.7-1.3 0.3-2.7 5.5-1.3 0.2-0.6 1-3.1 6.3-4.4 7.2-0.7 0.1-0.2 1.7-8.3 13.3-0.4 1.7-2.9 4-0.4 2.7-2.6 4-0.4 1.6-1.2 1-2.2 4.7-6.9 10.7-0.4 1.6-5.3 8.4-0.4 1.6-1.6 0.4-0.4 2z"/>
<path fill="#5800ff" d="M507.2 595.6l-7.7-2.1-3.3-1.6-10.2-7.1-8.5-7.1-3.5 5.4-1.6-1.7-2.8-6 0.6-0.6-0.3-1.4 0.6-0.3-0.3-1 0.7-0.7-0.6-1.6 0.6-0.4-0.5-1.3 0.5-3.3-2.2-11.4 2.9-4.6-0.4-1.7 0.7-1-0.8-1.3 0.5-1.4-0.8-1.6 0.5-1.4-1-1.6 0.5-1-1.2-3 0.7-1-1.4-2.7 0.5-1.3-2.6-5.4 0.5-1.3-6.2-13 0.4-1.3-0.6-1.7-13.2-27.7-0.1-3-3.2-6.6-0.1-2.7-2.2-4.3-0.2-2.7-3.2-6.7 0.2-1.6-1-2.7-1-2-1.4-0.5-1.3-3.2-1-0.2-1-2.2-1.4-0.4-1-2.3-1.4-0.5-1.2-3-1.4-0.6-1.5-3.8-1.2-0.6 4.9-4.7 9.2-10.9 12.3-19.6 15-17.6 6.5-6.6 6.7-5.3 8.5-5.1 3.3-1.3 8.3-2.1 8-0.3 11.7 1.7 18.7 4.3 8 1 9.3 0 13.3-2.4 17.7-6 9.6 15.9 4.4 5.7 2.1-2.1 7.8-13.3 1.4-1.1 1.1 3.1 0.8 6 0 37 0.6 8-0.5 1.8-26.6 44.6-1.4 4.4-0.6 0.1-0.4 1.6-0.6 0-0.4 1.6-0.6 0.1-2.8 5.1 0.1 1.5-1.5 1.9-0.5 2.3-2.1 3.3 0.1 1.5-3.5 5.2 0.2 1.3-0.7 1.4-1 0.5 0 1.1-2 2.5-2 4.3-0.7 0.1 0.2 0.8-1.8 2.9-1-0.1-3 5.8-1-0.2-0.7 2.2-0.7 0.1-0.3 1.8-1.3 0 0 1.1-0.7 0.1-0.7 2-1 0.6-1 2.9-1.7 1.8-0.9 2.5-0.7 0.2-0.3 1.8-0.7 0-1 2.6-0.7 0.2-1 2.5-0.7 0.2-0.3 1.8-0.7 0.2-2.3 4.7-1 0.6-1 2.8-0.7 0.2 0.4 1.8-0.7 0.2-0.3 1.8-1.4 1.2-0.3 1.6-1.3 1.1-0.3 1.8-1.4 1.2-0.3 1.5-1.4 1.2-0.3 1.8-1.3 1.2-0.3 1.8-1.4 0.8-1 2.8-0.7 0.2-0.9 2.6-1.4 1.1-0.3 1.8-0.7 0.2-1.6 3.5-1.4 1.2-0.3 1.8-2 2.2-0.3 1.8-1.4 1.2-0.3 2-2 2.3 0 1-1.4 0-1.6 4.1-0.7 0.2 0.1 1-1.4 0.2z"/>
<path fill="#0d00ff" d="M503.5 594.6l-4-1.1-3.3-1.6-10.2-7.1-8.5-7.1-3.8 5.4 0-3.7-5-26.3 9.9-13.3 0.2-2-0.6-1.7 0.5-1.3-1-1.7 0.6-1.3-1.1-2.4 0.5-1-1-1.6 0.2-2.4-1-2 0.7-1-6.5-13.3 0.5-1.7-2.9-5.3 0.6-1.7-0.7-1.6-8.9-18-0.5-1.7 0.4-1.3-6.5-13.4 0.3-1.6-3-6-0.1-3-3.5-6.7 0.7-1-1.6-3.7-1.7-3.1-1.1-0.5-1.2-2.7-1.1 0.1-1.2-2.8-1.1-0.1-1-2.3-1.4-0.6-1.2-3-1.1 0-1.7-3.3 0-1.7 6.2-7.3 12.1-19.3 10.4-12.8 11.2-11.6 6.7-5.3 8.5-5.1 3.3-1.3 8.3-2.1 8-0.3 11.7 1.7 18.7 4.3 8 1 9.3 0 13.3-2.4 17.7-6 9.6 15.9 4.4 5.7 2.1-2.1 7.8-13.3 1.4-1.1 1.1 3.1 0.8 6 0.3 40-24.8 41.1-0.9 3.9-7.3 11.3-0.7 3.4-1.9 2 0.2 1.6-1.2 1.7-0.1 2-1.9 2-0.5 3-2.7 3.5-0.6 2.8-3.1 5.6-1 0.8-1.7 3.9-1.3-0.7 0.1 0.8-1.1 2.2-0.7 0-1 3-1.3-0.3 0.1 0.7-1.1 2.6-0.7 0 0 1-1.3-0.3-1 3.2-1.3 0 0 0.7-0.7 0-1 3.1-1.1 1.1 0.1 2.3-1 0.5-1 3.1-0.7-0.1-1 2.7-0.6 0-1 2.7-0.7 0-0.3 2-0.7 0-1 2.7-0.7 0 0 1-1 1.5-0.6 0.1-0.9 2.8-0.8 0.2-1 2.7-0.7 0 0 1-0.6 0-0.4 1.6-1.3 1-0.2 1.8-0.8 0.3 0 1-0.7-0.1-1 2.7-0.6 0-1 3-1.4 0.8-0.3 1.8-0.7 0.1 0 1-0.6 0-0.4 2-0.6 0 0 1-1.4 0.8-0.2 1.6-0.8 0.4 0.4 2-0.7 0.3-1 2.9-0.7 0-1 2.6-0.6 0.1-0.7 1.9-0.7 0-0.3 2.1-0.7 0 0 1-0.6 0 0 1-0.7-0.1-0.3 1.6-1.4 1.2 0.2 1-0.9 0.4-0.3 1.8-1.7-0.2 0.2 1-1.2 1.4 0.1 1.2-1.4 1.1 0 1.2-1.3-0.2 0 0.8-0.7 0.2 0.2 1-0.9 0.3-1 2 0.1 1.3-1.7-0.3z"/>
<path fill="#004dff" d="M500.5 593.7l-6.3-3.2-8.2-5.7-8.5-7.1-3.7 4.7-5.1-29.3 8.5-11.8 7.1-7.2 0.4-1.7-1.1-2.3 0.7-1-1.1-2 0.4-1.7-1.1-1.6 0.7-1-1.4-2.7 0.8-1.3-3-5.7 0.3-2-3.5-6.7 0.2-2.3-2.4-4.7 0.6-1-2.1-4 0.6-1.6-14.2-29 0.3-2-5-10 0.2-2.4-4.2-8-0.6-1.6 0.5-1.7-1.5-2.8-0.6-0.7-0.7 0.2-2.3-5-1 0.1-1.7-3.5-1 0.1-1.3-2.9-1.1-0.2-2.7-6.3 7.5-11 5.6-9.5 15-17.6 6.5-6.6 6.8-5.4 8.4-5 5.3-2 9-1.7 5.3 0 11.7 1.7 18.7 4.3 8 1 9.3 0 13.3-2.4 17.7-6 9.6 15.9 4.4 5.7 2.1-2.1 7.8-13.3 1.4-1.1 1.1 3.1 0.8 6-0.1 33.3-10.4 17.1-0.7 3.5-16.7 27-0.5 3.1-5.5 8.3 0.1 2-1.2 1.7-0.1 2-1.8 1.3 0.1 2-1.5 1.7 0.1 2.1-2.3 2.4-0.6 3.5-4.4 6.2-3.4 6.7-0.6 0-1 3.3-1.4-0.6 0.2 0.7-1.8 3.6-1.4-0.4-1.3 3.7-1-0.4-0.7 2.1-0.7 0.1 0.1 1.2-1.4-0.6 0.4 2.6-0.7 0-1 2.7-0.7 0-1 3-1 1.7-0.6 0-1 2.6-0.7 0-0.7 2.3-1 0.4-0.8 2.8-1.8 2.9-0.7 0-0.7 2.2-1 0.4 0 1-0.6 0-0.2 1.8-0.8 0.2 0.1 0.8-1.1 1.9-0.7 0 0 1-0.7 0-0.6 2.3-1 0.4 0 1-0.7 0-0.3 2-0.7 0 0 1-0.7 0 0 1.2-1 0.4-0.6 2-0.7 0-0.2 1.8-0.8 0.2 0 1.1-1.1 1-0.1 3-0.8 0.3 0 1-0.7 0-0.3 2-0.7 0 0.2 0.7-0.8 0.9-0.7 0-0.2 1.8-0.8 0.2 0 1-0.7 0 0.2 0.8-1.2 1.9-0.6 0 0 1-0.7 0 0 1-0.7 0-1 3-1.3 0.7 0 1-0.7 0-0.2 1.7-0.9 0.4 0.1 1.2-0.6 0 0 1-0.8 0.1-0.2 2.2-1.7-0.3-0.9 3.1-0.8 0.3 0 1.3-0.6 0 0 1-1.4-0.2 0 0.7-0.7 0.2 0.1 1.3-0.7-0.2 0.1 1.3-0.8 0.2-1 3.3-1.6-0.3zM576.7 393.8l1.6-1.4 2.9-4.3-0.6-4.7-1.4-0.6-1.3-2-1.1-0.2-1.6-1.7-3.4-0.5-4.6 1.6-2.8 3.1-1.7 3.7 0.6 1.3-0.2 1.3 1 2z"/>
<path fill="#00a9ff" d="M497.5 592.2l-1.3-0.3-10.2-7.1-6.5-5.2-2.3-2.6-3.4 4.4-5.1-28.3 10.1-13.8 10.5-10.2-0.8-1.7 0.7-1-1-2.3 0.4-1-1.1-2 0.8-1.3-1.8-3.4 0.4-1.6-2.4-4.4 0.8-1.3-3.5-6.3 0.8-1.4-2.2-3.6 0.2-2.4-1.6-3 0.5-1.3-2-4.3 0.4-1.7-3.5-6.3 0.4-1.7-0.9-2.3-1.4-2.7-1 0.1-0.8-1.1-9.6-20 0.2-2.3-5.2-10.4 0.5-1.6-6-12.7-1.5-0.3-2.2-5-1.1 0.3-2.9-6.7-1.1 0.4-1.4-3.4 9.1-14.8 10.3-12.6 6.7-7.1 11.3-9.9 8.4-5 5.3-2 9-1.7 5.3 0 11.4 1.6 23.6 5 15.7 0.2-1.1 4.3 0.4 1.4-0.9 1-1.7 8.6 4.1 4.7 5.5 8.7 7.4 0.5 10.3 2.6 4.5-1.5 7.8-8.2 7.8-10.8 7.8-13.3 1.4-1.1 1.1 3.1 0.8 6-0.1 27.3-9.1 14.9-0.7 3.6-14.3 22.6-1 4.4-8.1 12.5-0.5 3.4-1.2 1-0.1 2-1.2 0.6-0.1 2.7-1.2 0.7 0.1 2.3-1.4 0.9-0.5 3.4-1.9 1.7-0.5 3.7-2.4 2.5-1.7 3.6-1 0.7-3 6.4-1-1-2 4.7-1-0.8-1.3 3.8-1.3-0.4 0 1-0.7-0.1 0.1 1.2-0.8 1.6-1.3-0.8 0.1 1.2-1.1 2.6-1 0.8-2.3 4.5-0.7 0 0.1 1.1-1.1 0.6 0 1-0.7 0-0.8 2.4-0.8 0.3-1 3-1 0.8-0.7 1.8-0.7 0-1 2.7-0.6 0 0 1-0.7 0 0.5 2.4-1.2 2.3-0.6 0 0.1 0.7-0.8 0.3 0.1 1.1-1.1 0.5 0 1-0.7 0-1 3-0.6 0-1 2.7-0.7 0 0 1-0.7 0-1 3-1.3 0.7-0.2 1.7-0.8 0.3 0 1-0.7 0 0 1-0.6 0-0.4 2-1.3 0.6 0 1-0.7 0-0.3 2-0.7 0 0 1.1-1.3 0.6 0 1-0.7 0-0.2 1.8-0.8 0.2-0.4 1.4 0.2 2-0.8 0.3-0.3 2-1.3 0.6 0 1-0.7 0-0.3 1.9-0.7 0.1 0 1-0.7 0 0 1-0.6 0-1 3-0.8 0.1 0.1 1.3-1.7-0.7-0.3 2.2-0.8 0.2 0.3 1-0.8 0.3 0 1-0.8 0.1 0.1 1.2-1.3-0.5-0.7 2.2-0.8 0.1 0.1 1.2-0.8 0.1-0.2 2.1-0.8 0.2 0.2 1.3-1.7-0.8 0.1 1.2-0.8 0.2-0.3 2.3-0.8 0.2-0.5 2.2-1.7-0.3 0 1-0.7-0.2z"/>
<path fill="#00fffc" d="M495.2 591l-15.5-11.2-3.2-3.7-1.4 1-1.3 2.3-0.4-0.6-4.7-25.7 10.1-13.8 14.5-14.2-0.5-2 0.5-1.7-1.1-1.6 0.7-1.4-1.1-2 0.1-2.3-1.2-1.7 0.2-2.3-3.5-6.7 0.5-2-2.7-5.3 0.4-1.7-1.8-3 0.5-2-1.5-2.6 0.1-2-1.7-3.4 0.4-1.6-2.8-5.4 0.1-2.3-4.6-9.7-0.8-0.9-0.7 0.2-1.1-1.6-5.6-11.7-2.6-5.6 0.1-2.4-8.1-16 0.4-2-1.1-1.7-1.1 0.1-3.5-8.2-1.4 0.2-4.1-8.7 0-1.7 4.8-7.8 10.3-12.6 11.2-11.6 9.5-7.1 5.7-3.3 5.3-2 9-1.7 9 0.3 26.7 5.7 7.3 0.7 1.4 1.4 0.5 9 3.8 1.6 3.6 3 4.5 5.1 5.5 8.7 7.4 0.5 10.3 2.6 4.5-1.5 7.8-8.2 7.8-10.8 7.8-13.3 1.4-1.1 1.1 3.1 0.8 6-0.1 23-8.1 13.8-2.7 3.4-1 2.6-6.3 9.4-1.2 4.8-13.1 20.2-0.6 4.1-1.1 1.4-0.7-0.1 0.1 2.1-0.8 1-0.2 2-1.1 0.6 0.2 1.7-0.9 1.3-0.2 2.4-1.7 1.2 0 2.6-2.4 2.2-0.2 3.3-3.4 4.2-3.4 6.7-0.6-0.3 0 1.4-0.7 1.1-1-1.2-0.7 2.7-0.7-0.3-0.6 2.8-1-1-1.3 4.1-1.4-0.6 0.2 1.1-1 0.3 0.2 1.2-1.4-0.3 0.2 1.1-1 0.3 0.3 1-1.1 2.3-0.7-0.1-1 3.1-1.7 1.6-0.6 1.7-0.7 0-1 3-1 0.8-3.8 7-0.9 0.2 0 1-0.6 0-1 3-1.4 0.6-0.3 2.1-1.3 1.6-0.7 0-0.2 1.8-0.8 0.2 0 1-1.1 1.1-0.2 4-1.4 0.6-1 3-0.6 0 0.1 0.8-1.8 2.9-0.7 0 0 1-0.6 0 0 1-0.7 0-0.3 2-0.7-0.1 0 1.1-1.3 0.6-0.4 1.9-0.6 0.1-0.7 2.1-1.3 0.6-0.4 1.9-1.3 2.1-1.3 0.7 0 4-0.7 0 0.1 0.7-0.8 0.2 0.2 0.8-1.2 1.8-0.6 0.1 0 1-0.7 0 0 1-0.7 0 0 1-0.6 0 0 1.4-1.4-0.9-0.6 2.5-0.7 0 0 1-0.8 0.1 0.3 1-0.5 1.5-0.8 0.2 0.1 0.8-1.6-0.7 0.1 1.2-0.8 0.3 0 1.3-0.7 0-0.3 2.2-0.8 0.2 0.1 1.3-1.6-0.7 0 1-0.7-0.1-0.3 2.7-0.8 0.2-0.6 2.2-0.6-0.1 0 1.4-1.7-0.8 0.1 1.3-0.4 1.1-0.8 0.2 0.1 1.1-0.8 0.2 0.1 1.1-0.8 0.3z"/>
<path fill="#00ff6e" d="M491.8 588.5l-12.3-8.9-2.1-2.2-1.6-3.1-2.3 3.4-0.3-0.5-4.5-24.1 10.1-13.8 18.8-18.5-0.8-3 0.7-1-1-1.7 0.8-1.3-1.2-1.7 0.5-1.7-3.9-7.3-0.4-4.3-2.9-4.7 0.5-2-2.2-3.7 0.2-2.3-1.5-2.7 0.5-2-1.8-3 0.5-1.6-2.7-5 0-2.7-10.3-21.3-1.4-2.6-1.1 0.2-2-3.6 0.5-2-1-2.4-19.4-39 0.5-2.6 15.8-18.8 6.5-6.6 6.7-5.3 8.5-5.1 3.3-1.3 11.3-2.4 11 0.6 23.7 5.1 2.1 3.8-0.3 1 2.4 7.3 4.8-0.8 5.8 2.5 6.9 7.2 5.6 8.8 7.4 0.5 11.3 2.6 3.5-1.5 7.8-8.2 7.8-10.8 7.8-13.3 1.4-1.1 1.1 3.1 0.8 6-0.1 16.7-1.8 2.2-6.2 11.4-4.8 6.9-0.6 3.6-12 18.4-0.7 3.9-8 12.4 0.1 2.2-0.9 1-0.8 4.3-1.1 0.7-0.2 2.3-0.8 0 0 2.8-1.4 0.5 0.1 2.8-2.4 1.9-0.2 3-4.4 5.5-4.7 9.6-1.3-1.5 0.1 1.4-2.1 4.6-1-0.8-0.7 2.8-1.3-0.8-0.7 3.1-1.3-0.7 0 1.4-1.3-0.5-0.7 2.2-1.1 0.7 0.2 2.7-0.7 1.6-5.4 7.9-0.7 2.1-1.6 1.6-0.7 2-1 0.8-7.7 13.2-1.3 0.6 0.1 0.8-1.6 2.7 0.2 2.6-0.7 0 0 1-0.7-0.1-1 3.1-2.3 3.6-0.7 0 0 1-3.6 5.7-1.4 0.7-0.3 1.9-2.5 3.2 0.2 3-1 0.5 0 1-0.7 0 0 1-2.3 3.7-0.7-0.1 0.1 1.2-0.8 0.2 0 1.4-1.6-1 0.1 1.1-0.8 0.2-0.3 2.6-0.7 0 0 1.1-0.8 0.1 0.1 1.2-1.6-1.1 0.1 1.2-0.9 0.3 0.2 1-0.4 1.5-0.8 0.2 0.1 1.1-0.7 0.1 0 1.4-0.6 0 0 1-1.7-0.7 0.1 1.1-0.4 1.1-0.8 0.2 0.1 1.1-0.8 0.3 0.3 1-0.8 0.2 0 1.3-1.7-1.1 0.1 1.2-0.9 0.4 0.3 1-0.5 1.4-0.8 0.2 0.1 1.1-0.8 0.3 0.2 1.1-0.7 0.1 0 1-1.7-0.8z"/>
<path fill="#1eff00" d="M489.5 586.9l-3.5-2.1-8.2-6.9-2.3-5.1-2.3 3.1-4.5-22.8 10.1-13.8 22.8-22.5 0.7-1.7-0.8-1.7 0.7-1-1-1.6 0.6-1-1.1-2 0.6-1.7-8.6-16.7 0.2-2.6-2.7-5 0.4-2-1.2-1.7 0.2-2.3-1.4-2.4 0.6-1.3-2-3.7 0.7-1.3-2.3-4.3 0.7-1.4-3.1-5.6 0.5-1.7-3.1-5.7-1.1 0-3.2-7-0.7-0.9-0.7 0.2-1.4-2.3-1.7-3.3 0.2-2.3-0.7-1.7-14.8-29.3 0.2-2.4-2.1-4 0.4-1.3-1.1-2 0.2-2.7 12.8-14.5 11.3-9.9 8.4-5 5.3-2 9-1.7 5.3 0 11.7 1.7 10.7 2.7 5.7 9.7 0.5 2.7 1.8 3.3 3-2.1 3-1 5 0.7 3.1 1.8 5.4 5.3 7.1 10.7 7.4 0.5 11 2.6 3.8-1.5 7.8-8.2 7.8-10.8 7.8-13.3 1.4-1.1 1.1 3.1 0.8 6-0.1 10-10.4 16.9-0.7 3.9-9.3 13.7-0.3 3.2-11.1 16.8-0.6 3.8-1.7 2.8-0.7 0.2 0.1 2-0.8 0.7-0.9 4.3-0.7-0.3 0 2.7-0.8 0.6-0.1 2.4-1.2 0.6-0.2 2.7-0.7 0-0.4 1-0.2 2.7-2.4 1.6-0.6 4.4-3.1 3.8-2 4.3-0.6-0.8-0.7 0.3-2.3 5.1-1-1.2-0.7 3-1.5-0.5-0.5 2.9-1.3-0.8-0.7 3.1-1.3-0.5-0.4 1.5-1-0.5-3 5.9-1 0.7 0 3.3-18.3 28.7 0 3.3-2.3 3.6-0.7 0 0 1-4.7 6.8-0.6 1.8-3.7 5.3-0.7 0 0.4 3.5-1.7 1.7-0.7 1.8-0.6 0 0 1-2 2.8-0.7 0-0.7 2.6-1.3-0.8 0 1-0.7 0-0.6 2.5-0.7 0 0.1 1.1-0.8 0.2-0.3 2.6-1.7-0.7 0 1-0.6 0 0 1.4-0.7 0 0 1.1-0.7 0 0 1.3-0.6 0-0.4 2.5-1.6-0.6 0 1-0.7 0 0 1.3-0.7 0 0 1.4-0.7 0.2 0.2 1-0.8 0.2-0.3 2.5-2-0.8-0.4 2.5-0.6 0 0 1.3-0.7 0 0 1-0.7 0 0 1.5-1.6-0.8z"/>
<path fill="#77ff00" d="M487.2 585.2l-9.5-7.4-1.3-2-1.2-4.3-0.7-0.4-1.7 2.8-4.1-20.8 10.1-13.8 24.7-24.7 5.1-6.8 1.6-3.7 0.1-2.7 0.6-0.6-0.7-1.4 0.7-1-1.4-0.8-1.3-2.5-1 0.1-0.7-1.5-1 0.2-1-1.4-0.7 0.2-1.3-2.3-1 0-1.6-3.3-1.2 0-3.9-7.3 0.7-1.4-2-3.6 0.7-1.4-1.7-3.3 0.4-1.7-1.7-3 0.4-1.6-1.9-3 0.6-1.7-1.9-3.3 0.5-1.7-1.4-2.7 0.5-1.3-0.9-1.3-0.5-3.7-1.8-3.8-1.3-0.1-2-3.8-1.1 0-19.2-38.6 0.4-2-1.4-2.4 0.4-1.3-1.1-2 0.5-1.3-0.6-1 0.4-1.4-0.6-3 0.5-2.3 11.3-11.7 6.8-5.4 8.4-5 5.3-2 6.3-1.4 11.7 0 11.3 2.4 6.5 7.4 6.5 12.3 5.4-4.4 3.3-1 4.7 0.7 3.1 1.8 5.4 5.3 7.1 10.7 7.4 0.5 11 2.6 3.8-1.5 7.8-8.2 7.8-10.8 7.8-13.3 1.4-1.1 1.2 3.4 0.6 9.4-11.1 17.8 0 2.6-8 11.8-0.7 3.6-7.6 11.4-0.6 3.8-6.1 8.8-0.9 5.2-0.7 2.3-0.7-0.3 0 2.3-0.8 0.3-0.9 4.7-0.8 0.7-0.2 2.6-0.7-0.3-0.4 0.7-0.2 3.1-1.7 0.5-0.2 3.7-1.8 1.5-4 6-2.7 5.9-1-1.4-0.5 2.7-0.8 0 0 1.7-1.3-1.5 0.1 1.4-0.9 0.4 0.1 1.5-1.5-0.9 0.3 1.7-0.9 0.3 0.1 1.6-1.3-0.8 0 1.8-1.4-0.5-0.3 1.5-1.3-0.3 0 1.2-5.1 7.5-0.9 5-1.7 1.6-0.7 2-1.6 1.6-0.7 2.1-1.7 1.7-0.6 2-2.4 2.6-0.6 2-2.4 2.6-0.6 2.1-2.4 3.1-0.3 3.9-5.3 7.7-1.4 3-3.8 4.7-1.6 3 0.2 2.3-5.1 8-1 0.7-0.7 2.1-0.6 0-0.7 2.8-0.7-0.2 0 1.5-1.6-1.3 0.1 1.1-0.8 0.2-0.3 2.6-0.7 0 0 1.3-0.8 0.2-0.5 2.6-1.7-1.5-0.5 2.6-0.9 0.3-0.3 2.5-0.6 0 0 1.3-0.8 0.2 0.1 1.1-1.7-1 0 1.4-0.6 0 0 1.3-0.7 0 0 1.4-0.7 0 0.2 1.2-0.8 0.2-0.4 2.5-2-1.1-0.3 2.8-0.7-0.1 0 1.4-0.6 0 0 1.4-0.8 0.2 0.1 1.1-1.7-1 0 1.3-0.8-0.1z"/>
<path fill="#c7ff00" d="M484.8 583.2l-5.1-3.4-2.2-2.2-3.3-8.9-1 0.7-0.7 2.3-0.4-0.6-3.4-18 10.1-13.8 24.7-24.7 12.8-17.2 6.9-10.6-1.4-2.7-3 0.6-0.6-0.6-1.4 0.6-2-0.8-1.3 0.8-0.7-0.6-4.3-0.1-2-1.9-1 0.3-1.3-2.2-1-0.3-1.4-2.7-1.1 0.2-3-6 0.6-2-2.5-4 0.8-1.6-2.1-3.4 0.4-2-1.2-1.6 0.2-2.4-1.4-2.3 0.7-1.3-1.1-1.7 0.5-10-3.1-6-1 0.1-1-2.1-1 0.1-1.7-3-0.6 0.2-0.8-0.6-7.1-15.4-3.6-4-6.9-14 0.5-1.3-0.9-1.3 0.5-1.7-1.1-1.7 0.7-1-0.7-1 0.7-1-0.7-3.3 1.9-7.3 11-9.7 8.5-5.1 5.3-2 6.3-1.4 12 0.1 4 1.3 7.7 6.3 3.8 5.1 6.5 11.6 3.7-4.1 3.7-2.6 3.3-1 4.7 0.7 3.1 1.8 5.4 5.3 7.1 10.7 9.4 0.9 3.1 1.7 1.2 1.4 2.7 1.1 2.1-0.8 3.7-2.7 7.8-8.2 7.8-10.8 7.8-13.3 1.4-1.1 1.4 5.9-10.9 17.5-0.5 2.7-3.8 5.7-0.5 2.9-5.5 8.1-0.1 2.3-7.1 10.4 0 2.5-5.6 8.4-0.2 2.7-0.7 1-0.7 4.7-1.2 2.6-0.6 4-0.7 0.7-0.2 2.3-1.1-0.3-0.2 3.3-1.2 0.7-0.2 3-2.4 1.3-0.6 4.7-2 2.3-2 4.1-1-2-2.7 6.7-1-1.2-1 3.2-1-1.2-1 3.7-1.3-1.2 0 2.2-1.4-0.8-0.3 1.8-1.3-0.6 0 1.9-1.4 0 0 1.4-1.6 1.6-0.7 2-1.7 1.6-3.3 5.5 0 3.3-3.7 5.6-1 0.6-0.6 2.1-2.4 2.6-0.6 2.1-2.4 2.6-0.6 2-4 5.8 0 3.2-10.4 15.2 0.4 3-0.7 0.1-5.7 8.9-0.6 0-0.7 2-0.7-0.1 0 1.5-0.6 1.1-0.7 0 0 1.3-0.7 0-0.3 2.5-0.8 0.3 0.1 1.1-1.6-0.6 0 0.6-0.7 0 0 1.3-0.8 0.2 0.1 1.2-0.6 0 0 1.4-0.7 0 0 1.3-0.7 0 0 1.4-1.6-1.3 0.1 1.4-0.8 0-0.3 2.7-0.7 0 0 1.4-0.7-0.1 0 1.4-0.8 0.2 0.2 1.1-1.7-1.3 0 1.3-0.7 0 0 1.4-0.6 0 0 1.3-0.7 0 0 1.4-0.7 0-0.3 2.6-2-1 0 1.3-0.7 0 0 1.4-0.7 0.2-0.3 2.8-0.8 0.2 0.2 1.1-2-1z"/>
<path fill="#ecff00" d="M482.2 581.2l-2.7-1.6-2.8-3.2-3.2-9.4-0.7-0.3-1 2.2-3.1-15.8 10.1-13.8 24.7-24.7 18.1-24.8 5.3-8.4 1.4-3.3-1.7-3.3-1.4-0.7-1.7 0.9-0.7-0.6-1.3 0.9-0.7-0.9-3.6 1.3-0.4-0.6-1 0.2-0.6-0.6-1.4 1-0.6-0.6-1.7 0.3-1-1.6-2 0.5-0.3-1.2-1 0.3-1-1.7-0.9 0.1-2.1-4.3-1.1 0.3-1.3-2.4 0.8-1.6-3.1-5 0.7-1.7-2.1-3.3 0.5-1.7-1.1-1.7 0.7-1.3-0.7-1 0.7-1.3-0.8-1 0.4-3.7 3.1-8.7-0.4-1.3 0.4-1.3-1.3-2.4 0.7-1-0.5-0.7-1 0.2-1.6-3.2-1 0.2-1-1.8-1-0.2-0.7-1.2-1 0.1-1.3-2.7-1.1 0-1.9-3.7-1.4-0.2-2.3-4.9-1.8-0.9-3.2-7.1-1.4-0.2-5.9-12 0.4-1.3-0.9-1.4 0.5-1.3-0.7-1.3 0.4-1-0.4-1 0.7-1-0.7-1 1.7-5-0.3-0.7 2.5-5 2.9-3.7 8.9-5.4 3.3-1.3 8.3-2.1 5 0 2.7 0.4 5.7 2.3 6.6 5.3 1.7 2.6 2.1 1.9 4.1 7.7 4.5 6.3 5.3-6.2 3.7-2.6 5.3-1 5.8 2.5 6.9 7.2 7.7 11.4 5.7 10.7 2.9 7.4 3.8-5.7 3.1-6.4 3.2-4 4.2-4.1 1.7-0.3 0.2 1.4-1.2 1.4 0.3 1.5-1.5 1.8 0.2 1.5-2 3-0.7 0.2-0.3 2.8-3.7 5-0.2 2.8-3.9 5.4 0.2 1.6-1.2 3.4-0.9 8-0.7 0-1.1 6.3-0.8 0-0.3 3.3-1.1-0.3-0.2 3.3-0.8 0-0.3 0.7-0.7-0.3 0 4-2.6 1.9-0.3 1.4-0.7 0.3-4 8.1-1-1.4-1.4 4.6-1.3-1.4-1 3.7-1-0.8-0.3 1.5-1.4-0.8 0.2 1.9-1.5-0.3-0.3 2.2-2.4-0.6 0.2 1.7-1.2 2.9-1.6 1.6-3.7 6.4-2.3 2.6-0.7 2.1-2.3 2.6 0.1 3.4-3.5 4.2-0.6 2.1-2.4 2.7-0.6 2-6 8.7 0 3.3-1 0.7-1.4 2.9-4.3 6.3-0.7-0.1 0 1-0.8 0.2 0.2 0.9-1.2 1.1 0.2 3-2.4 2.7-0.6 1.8-1.4 0.6 0 1-0.6 0 0 1-0.7 0 0 1.1-0.7 0-1.3 2.7-0.7-0.3 0.2 1.4-0.8 0 0 1.6-0.7-0.2 0.1 1.3-1.2 1.7 0.1 0.7-0.8 0.3 0.1 1.1-0.8 0.2 0.2 1.1-1.7-1.1 0 1.4-0.7 0 0 1-0.6 0-0.6 2.6-0.8 0.2 0 1.4-0.6 0-0.4 2.5-2-1.1 0 1.4-0.7-0.1 0.2 1.4-0.8 0-0.3 2.7-0.7 0 0 1.4-0.7-0.1 0 1.4-0.8 0.2 0.2 1.1-1.7-1 0 1-0.8 0.3 0.1 1.1-0.8 0.2 0.2 1.1-0.8-0.1 0.1 1.7-0.7 0 0 1.4-0.6-0.1 0 1.4-1.8-1.4 0.1 1.7-0.8 0.3 0.1 1.1-0.8-0.1 0.2 1.7-0.8 0.3 0.1 1.1-1.7-1 0 1.3-0.8-0.1z"/>
<path fill="#ffe000" d="M479.5 579.2l-3.1-3.4-1.8-6.7-2.1-5-1 2.3-0.4-0.6-2.4-12.4 0.4-1 9.7-13.1 22.5-22.2 5.5-6.9 9.5-12.8 12-18 3.7-9.3-1.5-2.7-1 0.6-1.3-0.9-1 0.2-0.7-0.9-1.7 1.3-0.6-0.7-1.4 0.7-0.6-0.9-1 1.1-1-0.8-1.7 1.2-0.3-0.6-1 0.3-1.4-1-1 0.3-0.3-0.6-3.3 0.3-0.7-1.3-1.2 0.1-0.5-1.9-1 0.8-1-2.4-0.3-0.4-0.7 0.7-0.4-0.5-3.3-6.3 0.5-2-2.2-3.4 0.5-2-1.1-1.6 0.5-1.4-0.6-1 0.9-2.6-0.4-0.7 2.3-6.3 3.3-6.4 0.9-4.6-0.5-1 0.6-1-0.5-3.7-2.4-4.3-1.1 0.1-2.6-3.2-1 0.3-0.7-1.6-1 0.3-3-3.6-1 0.1-1.3-2.4-1.1 0-1.9-4-1.4 0-1.6-3.7-1.1 0-1.9-4-1.4 0.1-3.4-6.8 0.4-1.3-1.6-3 0.6-1-0.6-3.7 1-4.3 1.2-3 3.1-4.4 4-3 6-2.7 4-0.7 5.7 0 6.3 2 5.7 4 3.7 4.8 2.9 5.5 1.8 1.5 3.5 6.3 2.7 3.1 6.2-8.1 4.2-3.1 5.3-1 5.8 2.5 7 7.3 11 17.7 6 13.6 0.9 6-1.1 4-0.6 6-0.7-0.6 0 2.6-0.7 0.4-0.2 2.3-0.7-0.3-0.2 0.6 0.2 2.4-1.4 0-0.2 3.6-1.8 0.7-0.2 4.3-1.4 1-3 5.8-1-1.8-2.4 5.5-1.3-1.5-0.7 3.6-1.3-1.3 0 2.3-1.3-0.8-0.4 1.8-1.3-0.6 0 2.3-2.3-0.3-0.4 2.1-2.3 0.3 0.1 1.3-1.1 1.9-0.7 0 0.2 0.8-0.8 0.9-0.7 0-1 3-1.3 0.6 0 1-0.7 0-0.3 3.8-1 1.9-0.7 0 0 1-1.3 0.7-1 3-1.4 1.6-0.6 0 0.1 0.8-0.8 0.2-0.8 2.5-0.9 0.2-0.6 2-0.7 0-0.3 4-1.7 2.7-0.7 0 0 1-0.6 0 0 1-0.7-0.1 0 1.1-2.3 3.7-0.7-0.1 0 1-0.7 0 0 1-0.6 0 0.1 0.8-2.1 3.3-1.4 0.6 0.7 3.2-6.4 8.2 0.4 3.1-0.7 0 0 1.1-6.3 8.2 0.3 3.1-0.6 0-0.4 1-1.6-1.2 0.1 1.1-0.8 0.2-0.3 2.5-0.7 0 0 1.4-0.7 0 0 1-0.8 0.2 0.2 1-0.8 0.3-0.6 2.6-1.6-1.1 0 1-0.8 0.2 0.1 1.1-0.8 0.2 0.1 1.1-0.8 0.3 0.2 1.1-0.7 0.1 0.1 1.1-0.8 0.2 0.2 1.1-0.8 0.3 0 1.3-1.7-1.2 0 1.4-0.7-0.1 0 1.4-0.8 0.3 0.2 1.1-0.7-0.1 0.1 1.3-0.8 0 0.2 1.3-0.5 1.5-0.8 0.2 0.1 1.1-2-1.3-0.6 2.6-0.8 0.3 0.1 1.1-0.8 0.2-0.2 2.8-2-1.1 0 1.4-0.8-0.1 0.1 1.8-0.8 0.2-0.2 2.4-2.1-1.1 0.1 1.8-0.8 0.2 0.2 1.1-0.8-0.1z"/>
<path fill="#ffa200" d="M477.5 575.2l-1.8-1.8-3.1-11-0.8-0.9-1 1.9-0.4-0.6-1.7-9.4 0.7-1.6 9.4-12.5 22.5-22.2 9.5-12.2 11.5-16.1 10.3-16.7 2.6-9-1.4-2.3-1 0.9-0.6-1.5-0.7 0.3-0.7-0.7-0.6 0.5-0.7-0.9-1.7 1.6-0.3-0.9-1.7 0.9-0.6-0.9-1.7 1.2-1.7-1.5-1.6 1.2-0.4-0.6-1 0.3-1.3-1-1 0.3-0.3-0.6-2 0.5-0.7-1.8-2.3 0.9-1-2-0.7 0.6-0.3-0.4-1.4-3.5-1.3 0.8-1.9-3.7 0.7-2.4-2.2-3.3 0.5-1.7-0.9-1 0.7-5.6 1.8-4.7 3.7-5.7 2-4.3 2.6-8.3-0.4-3.4 0.4-1-2.2-4.6-1.5-0.6-1.9-3.4-1.1-0.2-1-1.9-1 0.3-1.2-2.6-1.2 0-0.8-1.6-1.4-0.2-1-2.5-1 0.1-1.4-1.7-0.8-0.1-3.2-4-1 0.1-1.3-2.4-1 0.1-3.4-6.1 0.5-1.7-1.4-2.3 0.6-1-0.6-1.3 0.6-0.7-0.4-1 0.9-2.3 3.2-4.1 2.3-1.7 4.4-1.7 5-0.4 5.3 1.4 5.7 4.8 2.4 4 1 2.3-0.2 1.4 2 4 8.1 14.2 7.3-12 2.7-3.1 3.7-2.6 5.3-1 5.8 2.5 5.4 5.3 3.2 4.3 11.4 19 3.6 9.4 0.1 7.6-0.9 2-0.9 5.9-0.7-0.5 0 2.6-1.3-0.3 0 3.3-1.4 0.4-0.2 4-1.4 0.3-0.4 1.1-1.3 0.9-3.7 6.7-0.6 2.7-1.4-1.8-1 3.5-1-1.1-1 3.6-1.3-1.2 0 2.5-2.3-0.8-0.4 2.3-3.6 0.8-0.4-0.8-2.3 0.6 0.3 2.1-0.6 0.1-0.4 1.6-2.7 2.9-0.5 4-1.5 1-0.6 1.9-0.7 0 0 1-0.6-0.1-0.4 1.6-0.6 0.1 0 1-0.7 0 0.3 2.7-1.3 0.7 0 1-0.7 0 0 1-0.6 0 0 1.2-1 0.4 0.1 0.8-0.8 0.2 0 1-0.7 0 0 1-0.6 0 0 1.1-1.4 0.6 0.4 3-1 1.7-0.7 0 0 1-0.7 0 0 1-0.6 0 0 1-0.7 0 0 1-1.3 0.6-0.7 2-0.7 0-0.3 2-0.7 0 0 1-0.7 0.1 0.4 2.6-0.7 0 0 1-0.6 0 0 1-0.7 0 0 1-0.7 0 0 1-0.6 0 0 1-0.7 0 0 1-0.7 0 0 1-1 1.6-0.6 0 0.3 3.1-1.3 0.6 0.1 0.8-0.8 0.9-0.7 0-0.6 2-1.4 0.6-0.3 4.1-1.3 1.6-0.7 0 0 1-3.7 4.8 0.4 2.8-2-0.9-0.4 2.5-0.6 0 0 1-0.7 0-0.7 2.7-0.8 0.2 0.2 1.1-0.7 0 0 1-0.8 0.3-0.5 2.5-1.7-1.1-0.7 2.7-0.6 0 0 1-0.7 0-0.7 2.6-0.8 0.3 0.2 1.1-0.8 0.2-0.6 2.6-1.6-1.2-0.7 2.7-0.7 0 0 1-0.6 0 0 1.3-0.8-0.1 0.1 1.7-0.7 0 0 1.4-0.6 0 0 1.4-2-1.5 0.1 1.4-0.5 1.4-0.8-0.1 0.2 1.7-0.7 0-0.7 2.7-2.1-1.1 0.2 1.7-0.9 0.3-0.8 4.1-2.2-1.1 0.2 1.7-0.7 0.1z"/>
<path fill="#ff6600" d="M500.2 370.5l-1.8-0.4-2-4 1.2-2 3.6-1.3 1.3 0.5 1.7 3.5-1 2.4zM540.8 456.8l-2.3 0.2-1-1.8-0.7 0.4-0.6-1.2-1 0.6-0.7-1.7-1 0.4-0.7-0.9-1.3 1.7-0.7-0.7-0.6 0.2-0.7-1.2-1.3 1.4-1-0.5-1.4 1-2-1.6-1.6 1.6-1.4-1.4-1 0.4-0.6-0.9-0.7 0.5-0.3-0.6-2 0.5-0.7-1.8-2.3 1-1-2.1-0.7 0.6-0.3-0.3-1.4-3.3-1.2 0.8-2.2-4.3 0.5-2-1.4-2 0.8-1.7-0.8-1 0.1-1.7 0.6-3.3 1.5-3.7 5.2-9.6 7.2-16 9.6-18.4 6-7.6 3.5-2.5 5.3-1 5.8 2.5 5.4 5.3 3.2 4.3 11.4 19 2.3 5.7 0.7 4-0.8 7-0.7 0-0.6 4.3-0.7-0.3 0.1 2-0.9 1.3-0.2 2.7-1.3 0.3-0.7 4.1-2.7 2.6-2 4.4-1-1.7-1.6 4.4-1.4-1.9 0.2 2.1-0.9 0 0.1 2.3-1.4-0.8-0.3 1.8-2.3-0.7 0 2.2-3.7 1.1-0.7-0.8-0.6 0.5-0.7-1.1-1 0.8-0.7-0.9-1-0.1 0.2 1.7-0.8 0.3 0 1-0.7 0 0 1-1.3-0.5-0.7 2.2-1.7 0.3zM476.8 572.9l-1.7-1.8-3.5-11.3-0.4-0.7-1 1.4-0.5-1.1-1-6 0.7-1.6 9.4-12.5 23.4-23.2 14.6-19.2 7-10.3 2.7-2.1-0.5 0.9 0.5 1.7-2.6 3.3 0.3 1.5-2.1 2.2-0.2 1.7-0.6 0.3 0.2 1.8-0.7 0.2 0 0.8-0.7 0.2 0.1 0.8-0.7 0.2 0 0.8-0.7 0.2-1.3 2.8-0.7 0.1 0.5 2.1-1.5 0.9 0 1-0.6 0-0.4 3.3-0.6 0 0.1 0.8-0.8 0.9-0.7 0 0 1-0.6 0-0.5 1.8 0.5 1.8-1.4 0.6-0.6 2-0.8-0.1-0.2 0.9-0.7 0 0 1-0.7 0 0.7 2.9-1.3 0.6-0.7 2.1-1.4 0.8 0.1 1.1-0.7 0 0 1.1-0.8 0.2 0.1 1.1-0.6 0-0.7 2.3-0.7 0 0 1.3-0.6 0-0.7 2.4-2-1 0.1 1.2-0.8 0.2-0.3 2.6-0.7 0 0 1-0.6 0-0.7 2.6-0.8 0.3 0.1 1.1-0.8 0.2 0.2 1.1-0.7 0 0 1-0.8 0.2 0.1 1.1-2-1-0.6 2.7-0.8 0.2 0.1 1.1-0.8 0.3 0.1 1.1-0.8 0.2 0.2 1.1-0.8 0.2 0.1 1.2-0.7 1.1-0.6 0-0.4 2.5-2-1 0 1.4-0.7 0.2 0.1 1.4-0.7 0 0 1.4-0.8 0.2 0.1 1.4-2-1 0 1.4-0.7 0.2 0.4 1.4-0.7 0 0 1.4-0.7 0.2 0.1 1.3-0.8 0.3 0.1 1.1-0.7 0z"/>
<path fill="#ff1e00" d="M536.5 448.2l-2.3-1.4-0.7 0.5-0.7-1.1-1.3 1.5-0.7-1.2-1.6 1.8-0.4-1-1 0-0.6-1.1-1.7 1.8-1.7-1.8-1.6 1.8-0.7-0.8-0.7 0.5-0.6-0.6-0.7 0.6-0.7-2.2-2 0.8-0.6-1.8-1 0.8-0.7-1.4-1 0.8-1.3-2.9-0.7 0.8-0.3-0.3-2.7-4.9 0.8-2-1.2-1.3 0-2.7 1.3-5.6 10.3-22.4 10-19 6-7.6 3.5-2.5 5.3-1 5.8 2.5 5.4 5.3 3.2 4.3 11.7 19.7 1.3 4 0.4 3.7-1.3 5 0.2 1.6-0.8 0.4-0.2 2-0.7-0.3 0 2.9-1.3 0.1-0.3 3.9-2.1 1-3 5-0.6 2.6-0.7-0.2 0 1.9-1.3-1.7-1 3.3-1.4-1.1 0.2 1.9-1.5-0.2-0.3 2.1-2.4 0-2.3 1.7-0.7-2.2-2 1.2-1-2-3 1.7 0 1.6-1.3-0.2 0 1.4-2.7 0.5-1.3 1-0.3-0.7-1 0.3-0.4-0.6zM475.5 567.9l-1.7-0.8-2.5-8.3-1.1-1.7-0.4 0.8-0.4-0.8-0.7-3.7 0.7-1.6 9.4-12.5 22.5-22.2 5.9-7.2 1.6-0.7 0.7 1.6-1.2 1.3 0.2 1.3-1.2 1.4 0.2 1.8-1.4 1.2 0.1 0.8-0.8 0.2 0.4 2.2-0.6 0 0 1-1.6 0.8 0.2 1.1-1.4 1.2 0.1 0.8-0.9 0.2 0.2 1.1-1.4 1.2 0.1 0.8-0.8 0.2 0.1 1.2-1.4 1.2 0.1 1.1-1 0.1 0 1-0.7-0.1 0.2 1.2-0.8 0.1 0.1 1.2-0.8 0.3 0 1-0.7-0.2 0.2 1.3-0.8 0.2 0 1-0.7-0.1 0 1.4-1.8-0.9 0.1 1.2-0.7 0.2 0.1 1.1-0.8 0.2 0.1 1.1-0.7 0 0 1-0.7 0.2-0.6 2.5-0.8 0.2 0.1 1.1-0.6 0 0 1-0.7 0-0.7 2.7-0.8 0.2 0.2 1.1-0.8 0.2 0.1 1.1-2-1 0 1.4-0.8 0.2 0.1 1.4-0.6 0 0 1.4-0.8 0.2 0.1 1.1-2.1-0.4-0.9 4.1-0.8 0.2 0.1 1.1-0.7 0.2 0.1 1.4-0.7 0.1z"/>
<path fill="#ff0000" d="M536.5 441.5l-1-1.2-0.7 0.4-0.6-1.2-1.7 1.5-0.7-1.2-1.3 1.7-0.7-1.2-0.6 0.4-0.7-1.2-1.7 1.8-0.3-1-1 0.4-0.7-1-0.6 0.6-0.7-0.9-1.3 1.8-0.7-2.1-1 0.6-0.7-0.6-0.6 0.6-0.7-1.8-1 0.8-0.7-1.5-1 0.8-1-1.9-0.6 0.8-0.5-0.5-1.4-3.6-1.8-2.4 0.8-1.6-1.1-1 1-5 1.9-4.7 7-15.3 9.6-18.4 6-7.6 3.5-2.5 5.3-1 5.8 2.5 7 7.3 13 21.3 0.7 5.7-0.8 5.7-0.8 0.3-0.2 2.3-0.7-0.3-0.3 3.3-1.4 0.3-0.4 1.1-0.2 3.3-3 4.8-1.4-2.5 0.2 1.7-0.9 0 0.2 1.7-0.8 0 0 1.9-1.3-1.2-0.4 1.8-1.3-0.9 0 2.3-2.3-0.1-1.7 0.7-1 0-1-1.3-6.3 3.2-3.7 0.1-3 2.7-0.7-1.2zM473.5 561.5l-1.4-0.7-1.9-5.5-0.4-0.3-0.3 0.7-0.4-0.6-0.4-2 0.7-1.3 9.4-12.5 12.4-12.3 5-4.2 0.7 1.3-1.3 1.7 0.3 1.6-4.3 5.4 0.2 1.1-1 0.1 0.2 0.8-1.5 1.3 0.1 1-0.8 0.2 0 1-0.6 0 0 1-0.9 0.1 0.2 1.2-1.6 1.2 0.3 1-0.8 0.3 0.1 0.8-0.9 0.2 0.2 1.1-1 0 0.2 1.2-0.8 0.3 0 1-0.7-0.2 0.1 1.3-0.9 0.3 0.3 1-1 0.3 0.3 1-0.9 0.4 0.1 1.2-1.9-0.6 0.3 1.4-0.8 0.3 0.1 1.1-0.8 0.2 0.1 1.2-0.8 0.2 0.1 1.1-2.1-0.1 0.2 1-0.8 0.3 0.1 1.1-0.8 0.2z"/>
<path fill="#ff0000" d="M529.5 434.9l-0.7-1.1-0.6 0.5-0.4-1-1 0.4-0.3-1-1.7 2.2-0.6-0.8-1 0.6-0.7-2.3-2.3 0.9-0.7-1.6-0.7 0.6-0.3-0.4-0.7-1.9-1 0.9-0.3-0.3-1.9-4.8-1.8-2 0.8-1.7-0.7-0.7 0.9-4.6 9.9-21.4 6-11 3.1-4.4 2.7-3.1 3.7-2.6 3.3-1 3.7 0.4 4.1 2.1 5.5 5.5 11.1 17.1 2.7 5 0.4 3.4-1 5.6-0.8-0.3 0 3-1 0-0.7 3.7-2 2.2-1.7 3.2-1.3-2.2 0.1 1.8-0.8 0 0.2 1.6-1 0.4 0.2 1.5-2-1-0.5 0.5 0.1 1.7-2 0.2-0.3-0.7-1 0.3-0.3-0.4-1 1-0.7-1.5-1-0.1-1.1 0.5-0.2 2.3-1.7 1.1-0.7-0.1-0.6-2-0.7-0.1-2.3 1.5-2 0.5-3.4 2.9-1-1.4-1.6 1.5-0.7-1.4-1.3 1.6-1-1.3-1.4 1.6-1-1.2zM471.2 554.8l-1.2 0-1.1-1.7 0.5-1.3 9.4-12.5 3.4-2.1 0.7 1.9-3.1 3.3-0.6 2.4-0.9 0.3 0.1 1-1.5 1.3 0.3 1.2-2.1 0.2-0.6 2.3-0.9 0.3 0.1 1-0.8 0.4 0.2 1-1.6 0.2z"/>
<path fill="#ff0000" d="M532.2 428.5l-1-1.2-0.7 0.4-0.7-1.2-1.3 2-0.7-1-0.6 0.5-0.7-0.6-0.7 0.6-0.6-0.9-0.7 0.6-0.7-2.3-1 0.8-0.6-0.5-0.7 0.8-1-3-1 1.1-0.3-0.4-2.3-5.4-1.7-1.7 0.6-1.7-0.2-2.3 8.1-17.7 8.1-14.1 3.7-4.4 3.7-2.6 3.3-1 2.3 0 5.7 2.6 5.2 5.2 3.2 4.3 8.7 14.4 0.1 7.3-0.9 0.3 0 2.5-1.7 0.9 0.1 3.1-1.7 1.7-0.3 1.3-1.4-1.6 0.2 1.1-1 0.4 0.2 1.5-1.7-0.5 0 1.9-1.7 0-1.3 1-0.3-1.7-2.7 0.4 0 2.4-5.3 0.9-8 4.5-1-1.4-2.4 2.1-1-1.3-1.6 1.7-0.7-1.4z"/>
<path fill="#e80000" d="M531.2 421.5l-0.7-0.8-1 0.6-0.7-1.1-0.6 0.5-0.7-0.6-0.7 0.6-0.3-1-1 0.8-0.7-2.1-1 0.8-0.6-1.7-1 1-1-2.1-0.7 0.9-0.3-0.4-2.1-3.8 0.6-7.3 8.4-16.7 5.9-9.3 2.5-2.9 3.7-2.6 3.3-1 3.7 0.4 3 1.3 3.4 2.8 7.7 9.6 5 9 0.6 2.7-0.5 0.7 0.2 3.6-1.3 1-0.3 2.7-0.8 1.2-1.4-0.6 0 1.1-1.6 0.2-1.4 1.2-1.6-0.1 0 1.9-2.4-0.3-0.3 2.3-3.3 0 0 2.5-4.7 1.2-3.3 2-1-2.4-4 3.6-1-1.6-1.7 1.7-0.7-1.7-1.3 1.9-1-1.3z"/>
<path fill="#ca0000" d="M532.5 414.2l-1-1-0.7 0.5-0.3-1-1 0.6-0.3-0.9-2.4 0.9-0.6-2.1-1 1-1-2.7-1 1.1-0.4-0.4-2.4-4.1 1.3-6.7 8-15 5.5-7.1 4-3 3-1 5 0.7 5.6 4 7.5 9.4 2.6 5-0.9 4.4 0.3 1.3-1.1 1.9-0.7-0.1 0.1 1.2-0.8 0.2 0 1.4-1.6-1.2 0 1.8-1.7-0.5 0 1.9-1.7-0.5 0 2.1-2.7-0.2 0.1 2.4-5.7 0.5-7.3 4.7-0.7-1.5-1.7 1.1-0.6-1.4-1.7 1.8-0.7-1.4z"/>
<path fill="#ad0000" d="M533.8 406.5l-0.6-0.8-1 0.6-0.4-0.9-1 0.6-0.6-0.6-0.7 0.6-0.6-2.2-1.1 0.7-0.6-1.5-1 1.3-0.4-0.4-1.2-3.5-1.1-1 0.5-1.6-0.5-0.7 0.9-2.7 5.3-10 5.8-7.5 3.7-2.6 3-1 5 0.7 5.4 3.8 6 7.3 1.3 4.3-0.6 4.4-1.1 0.5 0 1-0.7-0.1 0 1.5-1.7-0.8 0 1.8-1.6-0.8 0 2.1-1.7-0.6 0 2.3-3.7 0 0 2.5-3.6 0.8-3.4 2-0.6-1.8-3 2.1-0.4-1.8-2 1.8-0.6-1.4z"/>
<path fill="#8e0000" d="M535.2 399.5l-1-1-0.7 0.5-0.7-0.6-0.6 0.6-0.7-2.5-1 0.8-0.7-1.4-1 1-0.4-0.5-1.6-3.3 0.8-1.7-0.5-0.6 0.3-2 1-2 6.6-9.4 4.2-3.1 5.3-1 4.7 1.7 6.1 5.8 1.2 3-0.5 0.6 0.5 2.2-2.3 2.6-1 2.8-1.4-0.5-0.3 1.8-2.7-0.2 0 2.1-3.6 0.5-4.4 2.6-1-1.7-2.3 2.4-0.7-1.5z"/>
<path fill="#6f0000" d="M536.5 390.5l-1-0.7-1 0.9-0.7-2.2-1 0.9-1.2-3.3-1-1 1.5-4 3.4-4.2 3.7-2.6 5-1 5 1.7 2.5 2.1 1.2 2.7-1.1 2.9-0.6 0 0 1-0.8 0.1 0.1 1.2-1.7-0.3 0 1.6-2.6 0.1 0 2.1-3 0.5-2.4 1.3-0.6-1.2-1.7 1.2-0.7-1.2z"/>
<path fill="none" stroke="#222" stroke-opacity="0.6" stroke-width="0.7" d="M504.9 595.3l11.1-15.7 37.5-65.8 7.6-10.5 5.5-8.7 6.4-12.1 6.2-14.1 32.7-57M426.5 426.5l4.2 6.1 8.4 9.9 2.1 4.1 14 38.2 7.5 16.4 9 22.9 1.5 6.6 1.6 12.6M497.3 592.2l16.3-23.1 38.3-67.2 8.1-10.3 5.7-8.7 6.3-12.2 6.2-15.3 33.3-57.9M439.8 410.4l12 19.1 10 24.4 12.8 26.6 11 34.7 2.7 14.3M476.4 577.3l-2.5 4M554.8 379.6l5.5-17.2M491.1 588.2l20.5-29.2 39.2-68.8 7.9-9.1 6.5-9.6 6.5-12.8 5.9-16 34-59.1M449.2 395.4l2.8 8.2 6.5 12.4 11.5 25.5 8.7 16.3 3.3 7.3 3.9 11.3 4.6 16 6.2 15.7 1.8 10.7M475.1 573.6l-1.9 3.1M538.5 374.0l-4.5-12.1M485.1 583.6l24.6-34.9 40.1-70.6 8.4-8.6 7.3-10.6 6.6-13.8 4.8-15.9 26.6-48 7.8-12.7M464.0 377.8l-0.9 4.7 0 4.4 0.7 6 1.5 5.8 17.1 32.4 5.4 6.5 1.7 2.7 0.8 3.1 1 9.1 5.1 19.5 2.1 5.5 3.3 5 4 3.6 4.7 2 7.7 1.1 1.5 1.6M473.7 568.8l-1.5 2.5M607.7 362.6l-11.5 18.4M583.5 394.4l-3.6 1.1-6.4-2.2-4.6-0.6M532.0 379.7l-4.7-8.8-3.7-5.4-4-4.6-4.5-3.2M478.9 578.6l28.7-40.7 40.7-73 5-3.3 3.7-3.5 4.1-4.8 4.2-6.5 4.3-8.4 3.3-9.2 1.7-8.4-0.3-6.2M528.4 385.2l-14.1-20.4-4.9-3.8-5.7-2.2-4.4-0.5-4.1 0.3-3.7 0.9-4.2 1.9-3.6 2.6-2.6 3-1.9 3.1-1.2 3.8-0.4 4.1 0.5 4.3 1.2 4.1 2.3 4.3 11.6 14.7 10.3 8.7 2.8 4.9 0.6 4-0.5 3.9-5.1 11.4-1 5.5 0.9 7.4 3.4 8.6 3.6 4.3 4.6 2.4 4.3 0.7 10.7-0.4 2.3 0.5 1.2 0.9 0.4 1.3-0.4 3.5M472.1 563.8l-1 1.6M474.9 570.0l9.2-12.7 20.9-31.7 9-18.6 1.9-5.6 0-1.6-2.4 1.8-2.2 2.8-8.5 12.2M509.6 425.5l-2.3 5.8-0.4 5.2 2 6.4 3.4 4.5 2.9 1.7 4 1.3 15 0.4 6.4 1.4 1.8-1.1 3.7-3.8 1.9-0.7 2.9 1.2 3.8-1.5 3.9-3.4 3.4-4.1 4.8-7.9 3.5-8.3 1.9-8-0.4-5.6M471.0 557.5l9.3-12.6 3.6-6.7 1.6-4-2 0.8-5.2 5.6-9.3 12.6M514.5 415.6l-1.5 4.6 0.1 5.1 1.6 3.8 3.2 3.2 3.3 1.6 4.9 1 6.7 0.1 7.8-0.9 11.5-4.8 3.8 0.4 2.7-1.6 2.2-2.3 4-5.6 3.3-7.1 1.5-6.5-0.7-4.2M521.0 401.6l-1.6 3.6-0.5 4 0.9 3.5 2.2 2.9 2.9 1.8 4.2 1.1 5 0.1 5.6-0.7 11.1-4.2 11.4-7.7 1.7-3.3 0.8-5.3-0.5-2.9-1.8-2.9M528.7 386.8l-2 3.2-0.9 3.5 0.1 2.2 1.4 2.6 2 1.5 3.2 1 7.4-0.2 4.3-1.3 4.9-2.3 3.6-2.6 2.7-2.9 1.7-3 0.5-2.9-0.6-2.4-2.1-2.3"/>
<path d="M400.1 445.5L478.8 616.4L667.0 530.6" stroke="#444" stroke-width="1" fill="none"/>
<path d="M478.8 616.4L475.3 618.0M472.4 602.6L470.4 603.5M466.1 588.8L462.6 590.4M459.8 575.1L457.7 576.0M453.4 561.3L449.9 562.8M447.1 547.5L445.0 548.4M440.7 533.7L437.2 535.3M434.4 519.9L432.3 520.8M428.0 506.1L424.5 507.7M421.7 492.4L419.6 493.3M415.3 478.6L411.8 480.2M409.0 464.8L406.9 465.7M402.6 451.0L399.1 452.6M478.8 616.4L480.4 619.9M499.4 607.0L500.3 609.0M519.9 597.7L521.5 601.1M540.5 588.3L541.4 590.3M561.0 579.0L562.6 582.4M581.6 569.6L582.5 571.6M602.1 560.2L603.7 563.7M622.7 550.9L623.6 552.9M643.2 541.5L644.8 545.0M663.8 532.1L664.7 534.1" stroke="#444" stroke-width="1" fill="none"/>
<text transform="translate(473.3 618.9) rotate(-24)" font-size="12.8" text-anchor="end" fill="#222" dy="0.36em">11550</text>
<text transform="translate(460.6 591.3) rotate(-24)" font-size="12.8" text-anchor="end" fill="#222" dy="0.36em">11555</text>
<text transform="translate(447.9 563.8) rotate(-24)" font-size="12.8" text-anchor="end" fill="#222" dy="0.36em">11560</text>
<text transform="translate(435.2 536.2) rotate(-24)" font-size="12.8" text-anchor="end" fill="#222" dy="0.36em">11565</text>
<text transform="translate(422.5 508.6) rotate(-24)" font-size="12.8" text-anchor="end" fill="#222" dy="0.36em">11570</text>
<text transform="translate(409.8 481.1) rotate(-24)" font-size="12.8" text-anchor="end" fill="#222" dy="0.36em">11575</text>
<text transform="translate(397.1 453.5) rotate(-24)" font-size="12.8" text-anchor="end" fill="#222" dy="0.36em">11580</text>
<text transform="translate(481.3 621.8) rotate(63)" font-size="12.8" fill="#222" dy="0.36em">11550</text>
<text transform="translate(522.4 603.1) rotate(63)" font-size="12.8" fill="#222" dy="0.36em">11555</text>
<text transform="translate(563.5 584.4) rotate(63)" font-size="12.8" fill="#222" dy="0.36em">11560</text>
<text transform="translate(604.6 565.7) rotate(63)" font-size="12.8" fill="#222" dy="0.36em">11565</text>
<text transform="translate(645.7 546.9) rotate(63)" font-size="12.8" fill="#222" dy="0.36em">11570</text>
<text transform="translate(366.5 500.1) rotate(66.3)" font-size="12.2" fill="#222">Incident Energy (eV)</text>
<text transform="translate(535.5 654.1) rotate(-25.2)" font-size="13.5" fill="#222">Emmission Energy (eV)</text>
<linearGradient id="g3_1" x1="0" y1="0" x2="0" y2="1"><stop offset="0.000" stop-color="#580000"/><stop offset="0.093" stop-color="#960000"/><stop offset="0.200" stop-color="#f00000"/><stop offset="0.340" stop-color="#ff0000"/><stop offset="0.370" stop-color="#ff4000"/><stop offset="0.425" stop-color="#ff9600"/><stop offset="0.500" stop-color="#ffff00"/><stop offset="0.570" stop-color="#beff00"/><stop offset="0.660" stop-color="#00f000"/><stop offset="0.700" stop-color="#00ffaa"/><stop offset="0.730" stop-color="#00ffff"/><stop offset="0.790" stop-color="#008cff"/><stop offset="0.847" stop-color="#0000ff"/><stop offset="0.900" stop-color="#6400ff"/><stop offset="1.000" stop-color="#820096"/></linearGradient>
<rect x="634.3" y="347.0" width="17.0" height="154.0" fill="url(#g3_1)" stroke="#222" stroke-width="1"/>
<path d="M651.3 501.0h4M651.3 470.2h4M651.3 439.4h4M651.3 408.6h4M651.3 377.8h4M651.3 347.0h4" stroke="#444" stroke-width="1"/>
<text x="660.8" y="506.2" font-size="14.3" fill="#222">0.0</text>
<text x="660.8" y="475.4" font-size="14.3" fill="#222">0.2</text>
<text x="660.8" y="444.6" font-size="14.3" fill="#222">0.4</text>
<text x="660.8" y="413.8" font-size="14.3" fill="#222">0.6</text>
<text x="660.8" y="383.0" font-size="14.3" fill="#222">0.8</text>
<text x="660.8" y="352.2" font-size="14.3" fill="#222">1.0</text>
<path fill="#6c0a6c" d="M503.8 927.6l-6.3-0.3-6.3-1.7-12-6-2.8-2.1-2.9-9.4-2.7 3.5-1.1-0.4-15-31.4-49.1-109.6 10.2-7.9 10.5-10.1 10-12.4 10.2-16.4 18-22.7 11.3-11.4 8-5.2 7-2.4 8.4-0.7 16 2.7 23 5.3 17.6 3 16.7 0.3 8.7-1.2 7.2 12.1 3.8 4 12.2-19.4 0.8-0.4 1.5 3.4 0.6 9.4 0.4 39.6 1 8.4 2 7.6 57.5 99.7-143.7 65.4-10.3 4.4z"/>
<path fill="#8006b4" d="M503.8 927.6l-6.3-0.3-6.3-1.7-12-6-2.8-2.1-2.9-9.4-2.7 3.5-1.1-0.4-12-25 1-5-1.8-6 0.7-1-2.7-5.7 0.7-0.7-0.7-2-7.7-16.6-1-0.2-0.8-1.2-9.1-20.6-0.8-1.1-1.1-0.3-3.1-7.3 0.6-1-4.8-10 0.4-1.3-0.6-1.7-6.3-14-0.8-1-1.1-0.3-9.5-21.7 10-8.2 10.6-11.3 6.5-8.2 10.2-16.4 20.3-25.4 9.2-8.8 7.8-5.1 7-2.4 8.4-0.7 16 2.7 23 5.3 17.6 3 16.7 0.3 8.7-1.2 7.2 12.1 3.8 4 12.2-19.4 0.8-0.4 1.4 3.1 0.4 3 0.3 38.3 1.3 16.4-18.1 30.1 0 0.9-3.8 6-0.9 3.3-1 0.7 0 1-1 0.6 0 1-2.2 4-7.1 11.2-1.3 4-1.9 2.5 0.2 1.5-3 4.3-0.3 2.4-3 5.1-3.7 5.5-2 4.3-0.7 0.2-0.9 2.7-0.7 1.1-1 0-1.3 1.9-2 4.7-1.8 1-1.2 2-3.6 6.3 0.2 1.3-1.6 3-3.2 4.7-0.5 1.7-8.3 13.3-2 4.3-1.3 1.4-0.4 1.6-2.9 4-0.4 1.7-3 4-0.4 1.7-3.6 5-4 9.3-0.7 1-1.3 0.3-0.7 1.7-0.7 0.3-1 3-1.4 0.4-0.6 1.6-1.4 1.4-0.2 2-1.6 0.3-0.4 1.7z"/>
<path fill="#5800ff" d="M499.2 927.2l-2 0.1-6-1.7-8.7-4-6.1-4.1-2.9-9.4-3 3.7-1.8-2.6 1-4.7-2-13 2.6-3.7 0.4-4-0.5-1.3 0.6-0.7-0.6-1.3 0.6-0.7-0.4-1.3 0.5-1-0.7-2 0.4-1.3-1.3-2 0.3-2.4-2-4 0.7-1-10.2-21.3-0.9-2.3 0.5-1-2.8-6.4-2-4-1.1 0-5.6-12.6-1.1 0-3.7-7.7-0.1-3-4.7-9.7 0.3-1.6-9.3-20.4-2.5-2.6-2.8-6.7-2.2-2-1.5-3.7 7.7-7.6 7.9-9.6 12.2-19.1 20.4-25.5 10.9-10.2 6.1-3.7 3.4-1.4 8.3-1.7 7.3 0.3 35 7.6 21 3.4 13.7 0 8.7-1.2 7.2 12.1 3.8 4 12.2-19.4 0.8-0.4 1.4 3.1 0.4 3 0.8 47.2-11.3 18.9-2 5.6-16.7 27.1 0 2.2-5.8 9.3 0.2 1.4-1.8 2.6 0.1 1.5-2.5 3.2 0.2 1.8-4 6.4-0.7 0-3 5.9-0.7 0.2-0.8 2.7-1.9 2-1.6 3.9-1-0.1-3 6.1-1-0.1-0.7 1.7-0.7 0.2-0.9 2.4-0.7 0.2-0.3 1.8-0.7 0.1-3.3 6.5-1.1 0.6-0.9 2.9-1.7 1.8 0 0.8-0.7 0.2-0.3 1.8-0.7 0.1-1 2.6-0.7 0.2 0.4 1.6-0.7 0.4-0.3 1.8-0.7 0.2-1 2.5-1.3 1.1-0.3 1.8-0.7 0.2-1 2.5-1.4 1.2-0.3 1.8-0.7 0.2-0.9 2.5-1.4 1.2-0.3 1.8-1.4 1.2-0.9 2.4-1.4 1.2-0.3 1.9-1.3 1.1-0.4 1.5-0.7 0.2 0.1 0.8-0.7 0.2-1 2.8-1.4 0.9-0.3 1.8-2 2.2 0 2.8-0.7 0.2 0.1 0.8-1.4 0.2-2.3 5.1-0.7 0.2 0.1 1-1.4 0.2 0 0.6-0.7 0.2 0.1 1-1.4 1.3-0.3 2.1-1.7-0.1-1 3-1.4 1.4 0.1 1-1.4 0z"/>
<path fill="#0d00ff" d="M495.2 926.6l-4-1-8.7-4-5.8-3.8-3.2-9.7-2.7 3.2-3.1-19.8 11.6-15.3-0.5-1.4 0.5-1-0.7-1.6 0.6-0.7-0.9-1.7 0.6-1.3-2.3-4.7 0.7-1.3-9.9-20.3 0.5-1.7-3.2-6 0.6-1.3-0.4-1.4-7.6-16-1.9-1.6-10-21 0.3-1.7-4.6-9.7 0.4-1.3-2.2-5.3-3.8-7.7-1.3-0.5-1.6-3.8-2.5-2.7-3.7-8.3 9.9-12.4 10.2-16.4 20.3-25.4 10.9-10.2 6.1-3.7 3.4-1.4 8.3-1.7 7.3 0.3 31.7 7 21.3 3.7 16.4 0.3 4.3-0.6 1.8 2.5 1 2-0.2 1.3 3.7 6.5 1.7 0.9 4 0.7 1.7-0.4 2 2 12.2-19.4 0.8-0.4 1.4 3.1 0.4 3 0.6 41-11.1 18.4 0.1 1.9-0.7 1.4-17.1 27.7-0.5 3.3-5.9 9.3-0.5 2.7-1.9 2 0.2 1.5-1.8 2.5 0.2 1.6-2.6 3.4 0.2 1.9-2 2.5-5.4 9.5-0.6 0 0.1 0.7-1.8 3.3-1-0.5-2.3 5.1-2.1 0.8-0.9 3.2-1.4-0.3-0.6 2.1-1 0.5-0.4 3.3-1 2.1-0.6 0-0.4 1.6-0.7 0.2-0.9 2.9-0.7-0.1-1 2.7-0.7 0 0 1.1-1 1.5-0.6 0.1-0.4 2-1.3 0.8-0.3 1.8-0.7 0-1 2.7-1.3 1-0.2 1.8-0.8 0.2 0 1-0.7 0-0.3 1.6-1.4 1.1-0.3 2-1.4 0.8-0.3 1.8-1.3 1-1 3.1-1.4 0.7-0.3 1.8-1.3 1.1-0.3 2-0.7 0 0 1-1.4 0.8-0.3 1.8-0.6 0.1 0 1-0.7 0 0 1.1-1 0.7-0.7 1.8-0.6 0 0 3.3-0.7 0.1 0 1-0.7 0 0 1-0.6 0-0.4 1.6-2 2.2-0.2 1.6-0.8 0.3 0 1-0.6 0 0 0.7-0.7 0.4-0.3 1.8-1.7-0.2 0.1 1-1.1 1.4 0 1-1.4 1.3 0.1 0.8-1.4-0.1 0.2 1-1.5 1.3-1 3.1-1.7 0.2-1 3.3-1.3 1.1 0 1-1.3 0.2 0 0.6-0.7 0.2 0.1 1-0.8 0.3z"/>
<path fill="#004dff" d="M491.2 925.4l-8.7-3.8-5.8-3.8-3.5-10.2-2.4 3.2-2.8-15.3-0.2-4.3 9.6-13 8.6-9.4-0.8-2 0.7-1-1.7-3.3 0.6-1-1.2-3-11.1-22.7 0.8-1.3-1.9-3.3 0.2-2-1.4-3.4 0.4-1-2.4-4.6 0.6-1-0.9-2.4-3.7-7.6-1 0-1.5-2.4-13.3-28.3 0.3-1.7-0.8-2-7-14.6-2.2-2-2.2-5-1.1 0-3.6-7.7 0.3-0.7 4.2-5 10.2-16.4 20.3-25.4 10.9-10.2 6.1-3.7 4.4-1.7 7.3-1.4 7.3 0.3 42.4 9 10.6 1.7 8.4 0.4 2.4 5.8-0.3 1 0.9 1.6-0.4 1 1.1 2.4 1.2 5 2.7 4.4 3.7 1.7 7.7-0.7 5.6-2 15.6-24.8 0.8-0.4 1.5 3.4 0.6 9.4-0.3 30-15.2 24.7-1 4.2-15.3 24.8-0.5 2.9-3.5 4.9-0.6 2.8-1.2 1.3-0.1 2-1.2 1 0.1 2.2-2.4 2.5 0.1 2.5-3 3.7-2.7 5-0.7 0-1 3.1-3.3 5.2 0 1.1-1.3-1.2 0.1 1.3-1.1 1.5 0 1-0.7 0-0.7 2.4-1-0.5-1.3 3.1-1.3-0.3-0.7 2.3-1 0.4-1 3-1 0.8-0.7 1.8-0.6 0 0.3 2.7-0.7 0-1 2.7-0.6 0-0.4 2-1.3 0.6-0.3 2-0.7 0-0.7 2.3-1 0.4 0 1-0.6 0-0.2 1.8-0.8 0.2 0.1 0.8-1.8 2.9-0.7 0-0.6 2.2-1 0.4-1 3-0.7 0 0 1-0.7 0 0 1.3-1 0.4 0 1-0.6 0-1 3-0.7 0 0 1-0.7 0 0 1.3-1 0.4 0 1-0.6 0-1 3-0.7 0 0 1-0.7 0 0 1.2-1 0.4-0.6 2-0.7 0-0.3 2.1-1.4 0.6 0 1-0.6 0 0.1 3.4-1.5 0.9-1 3-0.6 0 0.1 0.8-0.8 0.2 0 1-0.7 0-1 2.7-0.6 0 0 1-0.7 0.1-0.3 2.1-1.7-0.2 0 1-0.7 0.1-0.5 1 0.2 1.1-1.4 1.2 0.1 1.3-1.7-0.4-0.3 2.3-0.7 0-0.7 2.4-0.6 0 0.1 0.8-0.6 0.3 0.1 1.1-1.7-0.4 0.2 1-0.8 0.2-0.3 2.2-1.4 1.2 0 1.3-1.6-0.4-0.4 2.3-1.3 1.2 0 1.2-0.7 0.1 0 0.8-1.6-0.2z"/>
<path fill="#00a9ff" d="M488.2 924.1l-5.7-2.5-6-4-3.7-10.9-2 2.9-0.3-0.3-2.8-17.8 9.7-13.3 13.8-15.4 0.3-0.6-1.2-2 0.5-1.4-14.4-30 0.2-2.3-1.2-2 0.1-2-1.1-2.3 0.5-1.7-1.7-3 0.6-1-1.7-3.3-0.2-3.4-3.4-6.6-0.7 0.2-0.7-0.6-5.8-13-1.5-0.2-0.4-0.8-2.3-4.6 0.4-1.7-0.6-1.7-6.8-13.3-0.5-4-2.3-4.7-1.9-1.3-2.1-5-2.2-2-4.4-9 0.4-1 9.3-15 20.4-25.5 10.9-10.2 6.1-3.7 4.4-1.7 7.3-1.4 7.3 0.3 35 7.6 17.4 2.9 4.7 11.4-0.3 1 1 1.6-0.2 1.4 1.9 5.3 0.3 7.3 1 1.7-0.5 1 3.4 2.4 2.3 0.4 3.4 0 4.6-2 9.2-6.8 9.6-14 8.8-14.7 0.8-0.4 1.4 3.1 0.4 3 0.3 30.3-14.1 22.8-0.3 2.9-15.7 25.2-0.6 3.5-5.1 7.5-0.6 2.8-1.1 1 0 2.1-1.4 0.9 0.2 2-1.6 1.7 0.2 2.1-2.4 2.5 0 2.5-4 5.4-4 8.1-0.6 0.9-1-0.8-1.4 3.5-0.6 1-1-0.5-1.4 3.5-1.3-0.4 0 1.1-0.7-0.2 0.2 1.3-1 2.3-0.8 0.2-1 2.7-0.7 0-1 3-1 0.8-0.7 1.9-0.6 0-1 2.6-0.7 0-1 3.1-1.3 0.6-0.2 1.8-0.8 0.2 0 1-0.7 0-1 2.7-0.7 0-1 3-1.3 0.6-0.3 2-0.7 0 0.1 0.8-0.8 0.2-0.6 2.3-1 0.4 0 1-0.7 0-0.2 1.8-0.8 0.2 0 1-0.7 0 0.2 0.8-1.2 1.9-0.6 0 0 1-0.7 0-0.3 2-0.7 0 0 1-0.7 0 0 1-0.6 0-0.4 2-0.6 0 0.1 0.7-0.8 0.9-0.7 0-0.3 2-0.7 0 0 1-0.7 0.1 0.5 2.4-0.8 0.2 0.1 1.1-1.1 0.6 0.2 0.7-0.8 0.3 0 1-0.7 0 0 1-0.7 0 0.1 1.1-1.1 0.5-0.6 2-0.7 0-1 3.1-1.3 0.6 0 1-0.7 0-0.3 1.9-0.7 0.1-0.7 2.3-0.6 0 0.1 0.8-0.6 0.3 0.1 1.1-0.8 0.3 0.2 1.2-1.7-0.7-1 3.6-0.7 0.1 0 1-0.8 0.1 0.2 1.2-1.7-0.8 0.1 1.3-0.4 1.1-0.8 0.2 0.2 1-0.8 0.2 0 1-0.7 0.1-0.3 2.2-1.6-0.3-0.7 2.4-0.8 0.1-0.2 2.1-0.9 0.2 0.2 1.1-1.7-0.4 0.2 1-0.8 0.1 0.1 1.2-0.8 0.2 0.2 0.8-0.7 0.3 0.2 1.2-0.7 0 0 1.1-1.6-0.3z"/>
<path fill="#00fffc" d="M486.2 923l-3.7-1.4-6-4-4-12.5-2 3.5-2.8-17.1 9.7-13.3 18.4-20.6 0.5-1.4-1.1-1.7 0.7-1.3-6-12.4-0.7-1-1.1 0-2.8-6.3-1.6-0.3-3-6.4 0.6-1.6-2.2-4 0.5-1.7-1.4-2.3 0.6-1.4-1.3-2.3 0.5-1.7-1.2-2.3 0.5-1.3-1.2-2 0.5-1.7-9.4-19.3-1 0.3-1.1-1.7-6-12.6 0.5-1.7-11-22.7-0.4-0.6-1.1 0.3-6-12.7 0-1.6 5.4-8.8 20.3-25.4 10.9-10.2 6.1-3.7 4.4-1.7 7.3-1.4 7.3 0.3 44 9.1 5.8 10.1-0.3 1 1.8 3.7 0.8 3 0.2 4-0.8 2-0.5 7 2 4.1 1.7 0.7 15.7 0.3 4.3-1 2-1.4 9.1-10.7 15.8-25.4 0.8-0.4 1.4 3.1 0.4 3 0.3 24-9.8 15.9-0.7 3.6-14.3 22.4-1.2 4.8-10.1 15.5 0 2.5-0.8 0.6-0.1 2-1.2 0.7 0.1 2-1.4 1 0 2.5-1.4 0.8 0.2 2.4-2.5 2.6 0.1 2.8-3.7 4.4-4 8.3-1.3-1.2 0 1.1-1.2 1.6-0.5 2.3-1-0.6-0.3 0.9-0.7 0 0.1 1.1-0.8 1.6-1-0.5-1.3 3.8-1-0.3-1 0.6-1 3.1-1 0.8-0.7 1.8-0.6 0 0.1 0.8-1.1 1.9-0.7 0 0 1-0.7 0-0.8 2.4-0.8 0.2 0.1 0.8-1.1 2.2-0.7 0-0.8 2.5-0.9 0.2 0 1-0.6 0 0.4 2.8-0.8 0.2-1 2.7-0.6 0-1 3-0.7 0 0.1 0.7-0.8 0.3-1 2.6-0.6 0 0 1-0.7 0-0.2 1.8-0.8 0.2 0 1-0.7 0 0 1-0.6 0 0 1.3-1 0.4-0.7 2-0.7 0-0.2 1.8-0.8 0.2 0 1-0.6 0 0 1-0.7 0-0.3 2-0.7 0 0.1 0.8-0.8 0.9-0.6 0-1 3-1.4 0.6 0 1-0.6 0-0.4 2-0.6 0 0 1.1-1.4 0.6 0 1-0.6 0 0.6 2.9-1.3 0.8 0 1-0.7 0 0 1-0.6 0-0.4 1.9-1.3 0.7-0.7 2-0.6 0-1 3.4-1.7-0.8 0.1 1.2-0.8 0.2-0.3 2.3-0.8 0.2-0.5 2.2-0.8 0.1 0.1 1.2-1.7-0.6-0.3 2.2-0.8 0.2 0.3 1-0.8 0.2 0 1-0.8 0.1-0.2 2.5-1.7-0.4 0 0.7-0.8 0.2 0.2 1-0.9 0.4 0.3 1-0.8 0.2-0.3 2.2-1.7-0.4 0 1.1-1.4 1.2 0.1 1.2-0.8 0.1 0.2 1-0.4 1.5-0.8 0.2 0.1 0.8-1.8-0.5 0.1 1.2-0.7 0.2 0.1 1.1-0.8 0.2z"/>
<path fill="#00ff6e" d="M482.5 921.4l-6.1-3.9-4.2-14.1-0.4-0.3-1.6 2.7-0.5-0.6-2-13.7 9.7-13.3 21.8-24.6 1.7-3.1-1.1-2.3 0.7-1-4.6-9.7-1.1 0.1-2-3.7-1 0.1-1.3-3.4-1.2 0.6-2.5-5.8-1.3 0.1-0.4-0.7-1.7-3.6 0.2-2.4-1.5-2.6 0.2-2.4-1.5-2.3 0.7-1.7-1.4-2 0.6-1.6-1-1.4 0.6-1.6-1.1-2 0.4-1.4-1.2-2 0.5-1.6-7-14.7-0.4-0.4-1 0.4-0.4-0.7-15-30.6-0.9-2 0.5-1.7-0.8-1.7-0.7-0.6-0.7 0.3-7.1-14.3-0.6-1.4 0.3-3.3 19.4-24.8 8-8.4 5.2-4.5 6.1-3.7 7-2.4 4.7-0.7 7.3 0.3 36.4 7.8 3.4 4.1 5 11 0.5 3.3-0.8 2.7 0.1 2.6 2.5 3.4 5.6 9.8 18.7 0.3 3.8-1.1 5.7-5.7 4.9-6.3 15.8-25.4 0.8-0.4 1.4 3.1 0.4 3 0.3 19.7-3.5 4.8-7.3 13-6.7 9.7-2 3.5-1.2 4.6-13.1 20.6-0.3 2.8-2.8 4 0.2 1.6-0.9 1-0.7 4.4-1.3 1-0.1 2.3-1.2 1-0.1 2.3-1.9 1.4-0.1 3-5.1 6.8-3 6.3-1.4-1.5 0.1 1.4-1.7 4.2-1-0.5-0.4 0.8-0.6 0-0.7 3-1.3-1.1 0.1 1.6-0.8 1.5-1.3-0.8 0.1 1.3-1.1 2.6-3.4 4.4-0.6 1.9-0.7-0.1-0.8 2.5-0.9 0.2 0 1-0.6 0-0.4 2.1-2.3 3.6-0.7 0 0 1-0.6 0-1 3-1.4 0.7-0.2 1.7-0.8 0.3 0 1-0.6 0 0 1-0.7-0.1-0.3 2.1-1.4 1.6-0.6 0-0.2 1.8-0.8 0.2 0 1-0.7 0 0 1-0.7 0-0.3 2-0.7 0-0.6 2.1-1.4 0.6-0.3 2-0.7 0 0 1-0.6 0 0 1-0.7 0-0.3 2-0.7 0 0 1-0.7 0 0.4 3-0.7 0 0.1 0.8-1.1 1.9-0.7 0 0 1-0.6-0.1 0 1.1-1.4 0.6-1 3-1.3 0.7 0 1-0.7 0-1 3-1.3 0.7 0.5 2.7-0.8 0.3-0.4 1.9-0.6-0.1-0.7 1.8-0.7-0.1 0 1.5-1.6-0.7-0.4 2.2-0.7 0.2 0.1 1.2-0.7 0 0 1.1-0.7-0.2 0 1.5-0.8 0.1 0.2 1.2-1.7-1.1-0.3 2.7-0.8 0.2 0.2 1-0.8 0.2 0 1-0.8 0.1-0.2 2.5-1.6-0.8 0 1.1-0.8 0.2 0.1 1.1-0.8 0.3 0.1 1.2-0.6 0 0 1-0.8 0.1 0.1 1.2-1.7-0.8 0.2 1.3-0.5 1.1-0.8 0.2 0.1 1.1-0.8 0.2 0.3 1-0.8 0.3-0.3 2.2-2-0.7-0.4 2.7-0.7 0.2 0.1 1.1-0.8 0.2 0.1 1.1-0.8 0.3 0.1 1.2-1.6-0.8 0.1 1.2-0.9 0.4z"/>
<path fill="#1eff00" d="M479.2 919.3l-2.8-1.8-4.9-15.7-1.7 2.3-0.4-0.6-1.6-12.3 9.6-13 18.3-20.4 6.9-9 2.2-4 0-2.3 1-2.7-0.6-1.3 0.7-1-1.4-3-1.1 0-1.2-1.9-0.7 0.2-2.3-2.3-1 0.3-1-2.5-1 0.5-1-1.7-0.7 0.6-1.7-3.3-0.6 0.6-0.4-0.3-1.3-3-1.3 0-0.9-2.9-4.2-7.6 0.5-1.7-1.3-2.3 0.6-1.7-1.1-1.7 0.5-1.3-1-1.7 0.6-1.6-0.7-1.4 0.4-3.3-0.8-1.3 0.5-1.4-0.9-1.3 0.5-1.7-1.7-3 0.5-1.6-3.5-7-0.7 0.2-0.8-0.6-2.5-6.1-1.5-0.2-14-28 0.2-2.3-0.6-1.7-7.2-14 0.4-1.3-1-2 0.6-2.4 16.7-20.8 10.9-10.2 6.1-3.7 4.4-1.7 4.6-1.1 6.4-0.3 16 2.7 16 3.7 4 4 2.7 4.4 0.8 3.4 1.2 2 0.5 4.3 6.5 6.3 8.3 14.1 19.6 0.4 3-1 1.7-1.4 5.7-6.3 7.4-10.4 9.5-15.7 3.1-4.1 1.4 3.1 0.4 3 0.2 12.7-10.7 18.4-5.3 7.4-1 4.6-1 0.8-5.4 9.2-5 7.1-1 4.6-1 0.7-5.6 9.4-0.7 3.4-0.7-0.1 0.1 1.8-0.8 0.7-0.9 4.6-0.8 0-0.1 2.7-1.2 0.3-0.2 3-1.8 1 0.1 3.2-4.7 5.7-4.3 8.9-1-1.2-1.4 4-1.3-0.7-0.7 2.7-1.3-0.7 0.1 1.1-0.9 0.4 0.1 1.5-1.3-0.3 0 1-0.7-0.1 0.2 1.5-0.8 0.3 0 1.1-1 1.9-0.7 0 0 1-0.7-0.1-1 3.1-1 0.8-2.8 5.3-0.8 0.2 0 1-0.7 0-0.3 2-2.4 3.7-0.6 0 0 1-0.7 0 0 1-0.7-0.1-0.3 2.1-2.3 3.6-0.7 0 0 1-0.7 0 0 1-0.6 0 0.1 0.8-1.1 2.2-0.7 0 0.1 0.8-1.6 2.7-0.8 0.2 0.1 0.8-0.8 0.2 0 1-0.7 0 0 1-0.6 0-0.2 1.8-0.8 0.2 0 1-0.7 0 0 1-0.7 0 0 1-0.6 0-0.4 2-0.6 0 0 1-0.7 0 0 1-1.3 0.7-0.8 2.4 0.1 2.6-1.3 0.6-1 2.9-1.4 0.8 0.2 0.8-0.8 0.2 0 1-0.7 0 0 1-1.3 0.7 0.1 0.7-0.5 1.2-0.6-0.1 0 1.1-0.7 0 0 1.1-1.3 0.6 0 1-0.7-0.1-0.3 2.7-0.7 0 0 1-0.8 0.2 0.3 1-0.8 0.2 0 1.4-0.7 0-0.3 2.2-1.7-0.3 0 0.6-0.8 0.2-0.5 2.6-0.7 0 0 1-0.8 0.1-0.2 2.5-1.7-0.3 0 0.6-0.7 0.2-0.6 2.5-0.7 0 0 1.1-0.6-0.2 0 1.5-0.8 0.1 0.1 1.2-1.7-0.6-0.3 2.2-0.8 0.2 0.1 1.1-0.7 0.2 0.1 1.2-0.7 0 0.1 1.2-0.8 0.2 0 1-1.7-0.6-0.9 3.8-0.8 0.2 0.1 1.2-1.7-0.5 0 1.1-0.7 0.2 0.1 1.2-0.8 0.2 0.1 1.1-0.8 0.2 0.1 1.2-1.6-0.6z"/>
<path fill="#77ff00" d="M477.2 916.4l-1.5-1.6-4.1-13.3-1.1-1.1-1 1.8-0.4-0.7-1.3-10.3 9.6-13 18.3-20.4 6.9-9 7.3-11.6 1.9-5.7 1.4-2-0.4-0.7 1-2.6-1.3-2.3-5.7-0.5-1-0.3-0.6-1.3-4.7-0.1-0.3-1.2-1 0.3-0.7-0.9-0.7 0.2-0.6-1.3-1 0.3-0.7-0.9-0.7 0.2-1-1.8-1 0.5-1.3-3.2-1.1 0.6-4-8 0.5-2.3-1.4-2 0.5-1.4-0.8-1.3 0.6-1.3-0.7-1 0.5-1.4-0.5-3.3 0.5-7.7-0.8-1.3 0.7-1-0.6-3.7-0.7-1 0.7-1.3-3.4-6.7-1.3 0.2-2-4.3-1.5-0.5-3.1-7-1.9-0.7-7-14.3 0.6-1.7-0.7-1.7-7.1-13.3 0.7-1.3-2.4-4.4 0.5-1.3-1.1-2.3 0.2-5 11.4-14.2 11-10.3 6-3.6 4.4-1.7 7.3-1.4 7.3 0.3 21 4.5 4 3.6 2.8 4.4 1.7 3.4 1.4 6.6 2.8 0.3 3.7 1.3 5.5 4.8 4.2 6 5.3 9.7 12 0.1 6.6 1 4.2-1.8 7.2-7.6 7.4-10.4 9.5-15.7 3.1-4.1 1.5 3.4 0.6 9.4-5.8 9.9-1-0.8-2 3.3-0.2 2.6-7.8 11.8-0.7 3.4-7.6 11.5-2.5 4.3-0.2 2.4-9.3 14.4-0.2 4.2-0.8-0.1-0.5 2.4 0.2 1.7-0.8 0.6-0.9 4.4-1.1 0.6-0.3 2.4-1.4 0.6 0.1 3.2-3.1 2.8 0.1 3.5-1 0.7-2 3.6-1-1.5-0.7 2.2-1.7 2.5-0.6 2.9-1-0.8-0.3 0.8-0.7-0.1 0 1.8-1.3-0.8-0.7 2.8-1.3-0.5-0.4 1.5-1.3-0.8 0.1 1.6-0.8 1.9-1.3-0.8 0.1 1.2-1.1 2.3-2.3 3.6-0.7 0 0 1-0.7 0-1 3-1.6 1.8-0.7 1.9-0.7 0 0 1-0.6-0.1-1 3.1-1.4 0.6-1 3-0.6 0 0 1-0.7 0 0 1-0.7 0 0 1-0.6 0-0.4 2.1-2.3 2.8 0 3.3-1 0.5 0.1 0.8-0.8 0.2 0 1-0.6 0 0 1-0.7 0-0.3 2-0.7 0 0 1-0.7 0 0 1-0.6 0 0 1-0.7 0-0.2 1.8-0.8 0.2 0 1-0.7 0 0 1-0.6 0 0 1-0.7 0-1 3-1.3 0.7 0 1-0.7 0 0 1-0.7-0.1 0.2 0.8-1.2 1.8-0.6 0.1-0.7 2.1-1.3 0.6 0.4 2.8-0.8 0.2-0.3 1.9-1.3 0.8-0.7 2-0.7-0.1-0.6 2.1-1.4 0.6-0.3 1.9-0.8 0.2 0.1 1.2-0.6 0 0 1.1-0.7-0.2 0 1.5-0.7 0 0 1.3-0.6 0 0 1-1.7-0.6-0.3 2.2-0.8 0.2 0.1 1.1-0.7 0.1 0.2 1.1-0.8 0.3 0 1-0.7-0.2 0 1.5-0.8 0.1 0.1 1.2-1.6-1.1-0.4 2.7-0.6 0 0 1.3-0.7 0 0 1-0.7 0 0.2 1.2-1 0.4 0.2 1.2-1.8-0.9 0.1 1-0.8 0.3 0.1 1.3-0.6 0-0.4 2.5-0.6 0 0 1-0.8 0.2 0.1 1.2-0.8 0.2 0.1 1.1-1.6-0.7 0 1-0.8 0.2 0.1 1.2-0.8 0.2 0.1 1.1-0.8 0.2 0.2 1.6-1.8-0.9-0.9 4.1-0.8 0.2 0.1 1.1-2-0.7 0.2 1.3-0.8 0.2z"/>
<path fill="#c7ff00" d="M476.2 912.3l-1.8-1.5-3.8-12-0.4-0.4-1 1.8-0.5-0.7-0.9-8.3 9.6-13 18.3-20.4 6.9-9 11.3-18.3 4.4-8.7 2.3-7.6-0.8-1-2 0.2-0.6-0.7-1.4 0.7-0.6-0.6-1.7 0.9-0.7-0.6-2.3 1.3-1.7-1.2-1.6 0.9-3.7-1-2.3 0.3-0.7-1.1-2 0.1-0.7-1.1-0.6 0.1-1-1.9-1 0.6-1-1.8-0.7 0.5-0.3-0.5-1.7-3.6-1.1 0.5-1-2.4 0.5-1.6-1.8-3 0.5-2-0.9-1 0.6-1.4-0.6-1 0.6-3.3-0.6-1 1.3-8.3-0.5-1 0.3-3.7 1-2.7-0.6-1 0.6-1-1-2 0.5-1.6-1.1-2.1-1.1 0.1-1.9-3.4-1.1 0-1.2-3-1.1 0.3-3-6.2-1.1 0.3-14.3-28.4 0.5-1.6-1.8-3 0.2-2.4-1.4-2.3 0.3-1.3-0.7-1.7 0.7-1-0.8-1 0.7-5.3 5.7-7.2 9-8.7 8-5.2 3.4-1.4 5.6-1.4 6.4-0.3 16 2.7 4.8 3.1 3.9 5 2.7 5.4-0.4 0.6 1.4 2.7 1.2 5.9 5.4-2.3 2.3 0 4.7 2 4.6 4.3 4.1 5.8 5.9 11 3.4 0.9 2.4 1.7 0.6 3-0.5 3 0.6 1-0.6 1 3.1 4.8 1.2-0.4 2.2-2.7 5.6-9.3 9.4-10 5.3-6.9 7.8-11.5 8.1-14 0.8-0.4 1.4 3.1 0.2 2.8-1.3-0.3-2 4.3-1.7 1.9-2 4.5-5.1 7.5 0.1 1.8-5 7.2-0.6 3.3-7 10.4 0 2.5-3.7 5.7-0.7-0.1-2 4-0.6 0-1.2 5.2-4 5.6-0.8 5.7-0.8 0.3-0.3 1.4-0.3 4.3-0.7 0.7-0.2 2-0.7-0.3 0 2.6-1.4 0.3 0 3.1-2.3 1.6-0.2 3.7-1.5 1.2-4.3 7.9-1-1.4-1.3 4.2-1.4-1 0.2 1.1-1 0.3 0.2 1.6-1.5-0.6-0.5 2.9-1.4-0.5-0.3 1.5-1.4-0.2 0.1 1.5-1.4-0.1-0.3 1.5-1-0.2-0.7 0.7-1 4.8-0.6 0 0.1 0.8-0.8 0.2-0.8 2.4-0.9 0.3-0.6 2-0.7 0-0.3 2-0.7 0 0.1 0.7-0.8 0.3 0 1-0.6 0-1 2.6-0.7 0 0 1-0.7 0 0 1-0.6 0-0.2 1.8-0.8 0.2 0 1-0.7 0 0 1-0.7 0 0 1-0.6 0-0.4 2-0.6 0 0 1.1-1.4 0.6 0 1-0.6 0-0.4 2-0.6 0 0 1-0.7 0 0 1-0.7 0 0 1-0.6 0 0 1-0.7 0-0.3 2-0.7 0 0 1-0.7 0 0 1-0.6 0 0 1-0.7 0-1 3-0.7 0 0 1-0.6 0 0 1-0.7 0 0 1-0.7 0 0 1-0.6 0-0.4 2-1.3 0.7 0 1-0.7 0 0.4 3-1.4 0.6-1 2.9-1.3 0.8 0.1 0.8-0.8 0.2 0 1-0.6 0 0 1-1.4 0.7 0 1-0.6 0 0.6 2.8-0.6 0 0 1.1-1.4 0.7 0.2 0.8-0.8 0.2 0 1-0.7 0 0 1-0.7 0 0 1-0.6-0.1 0.1 1.2-0.9 0.4 0.1 1.2-1.7-1.1-0.3 2.3-0.8 0.2 0.1 1.2-0.7 0.2-0.6 2.5-0.7 0 0 1-0.8 0.1 0.2 1.3-1.7-1.2 0.1 1.3-0.9 0.3 0.3 1-0.8 0.2 0.1 1.1-0.5 1.2-0.7 0.2 0.1 1.1-0.8 0.2 0.1 1.1-0.8 0.2 0.1 1.1-1.7-0.7-0.6 2.4-0.7 0 0 1-0.6 0 0.1 1.2-0.9 0.4 0.1 1.2-0.8 0.1-0.2 2.4-2-1 0.1 1.3-0.8 0.2-0.3 2.4-0.8 0.4 0.1 1.1-0.7 0.2 0.1 1.1-1.7-0.4 0 1.1-0.8 0.2 0.1 1.1-0.7 0.2 0.1 1.2-0.8 0.2 0.1 1.1-1.7-0.6z"/>
<path fill="#ecff00" d="M474.8 908l-1.7-1.2-2.8-9.3-0.5-0.6-1 1.4-0.4-0.8-0.6-6.3 9.6-13 18.3-20.4 6.9-9 14-22.6 6.3-12 2.6-6.7-0.6-3.3-1.7-1-4.7 1.5-0.7-0.6-3 1.6-0.6-0.9-2.7 1.6-0.3-0.6-1.7 0.6-0.3-0.6-1 0.3-0.4-0.5-1.6 0.8-0.7-0.6-1.7 0.3-0.3-0.6-1 0.6-0.7-1.6-2 0.4-0.6-1.4-1 0.6-1-2.2-0.7 0.4-1-1.6-0.7 0.6-0.3-0.3-4-7.8 0.7-1.7-1-1 0.7-3.7-0.5-3 2.4-12.3 2.7-6 0.1-2-0.8-1 0.8-1.3-1.8-2.7-1.1 0-1.2-3-1.3 0.1-1-2.8-1.4 0.2-1.6-3.8-1.1 0.3-2.8-6-0.8-1-1 0.1-0.8-1.1-12-24 0.5-1.7-1.7-3 0.4-1.3-0.8-1.3 0.4-1.4-0.7-1.3 0.5-1-0.5-1 0.7-1-0.7-1 1.7-5-0.3-0.7 8.6-8.5 8-5.2 4.4-1.7 7.3-1.4 7.3 0.3 6 1.4 4.8 2.8 1.1 1.7 1.2 0.6 5.7 10 1 2.4-0.2 1.3 1.5 2.7-0.3 1 1.9 4.1 6-4.2 4.7-1.1 4 1.4 5.6 5 4.1 5.8 16.5 30.3 1.4 0.4 1.4-1.9 0.4 0.2 0.1 1.6-1.1 1.7 0.3 1.3-0.5 0.7 0.5 2.3-0.8 2.4 0.2 3-1 2.3-0.1 3-0.8 0.3-0.2 2-0.7-0.3 0 2.7-0.8 0.6-0.1 2.7-1.2 0.7-0.2 2.6-3.7 4.2-2.4 4.2-1.3 3.9-1-1.1-0.3 1.1-0.7-0.3 0 1.6-1.3-0.8-0.7 3.1-1.3-0.4-0.3 1.4-1.4-0.6 0 2-1.3-0.2-0.3 1.7-2.4 0.2 0 1.6-1.3-0.3 0 1-1.3 0.6-1 3-0.7 0 0 1-0.7 0 0 1-0.6 0-0.4 2-0.6 0 0 1-0.7 0 0 1-0.7 0 0 1.1-1 1.5-0.6 0.1 0 1-0.7 0 0 1-0.7 0 0 1-0.6 0 0.4 2.4-1.1 2.3-0.7 0 0.2 0.7-0.8 0.3 0 1-0.7 0-1 3-0.7 0 0 1-0.6 0 0 1-0.7 0 0 1-0.7 0-0.3 2-0.7 0 0 1-0.6 0 0 1-0.7 0 0 1-0.7 0 0 1-0.6 0 0 1-0.7 0-0.3 2-0.7 0 0 1-0.7 0 0 1-0.6 0 0 1-0.7 0 0 1-0.7 0-0.3 2-0.7 0 0 1-0.6 0 0 1-0.7 0 0 1-0.7 0 0 1-0.6 0 0 1-0.7 0 0 1-0.7-0.1-0.3 1.6-0.7 0.1 0 1-0.6 0 0.3 2.7-1.3 0.7-0.7 2-1.3 0.6 0 1-0.7 0 0 1-0.7 0 0.2 3.5-0.8 0.2 0.1 0.8-0.8 0.9-0.7 0 0 1-0.6 0 0 1-0.7 0 0 1-1.3 0.6 0 1-0.7-0.1 0.1 1.2-0.8 0.3 0 1-0.8 0.1 0.3 1-0.5 1.1-0.7 0.2 0.1 1.1-0.8 0.2-0.6 2.3-0.8 0.1 0.2 1.2-1.7-0.7 0 1-0.7-0.1 0.2 1.2-0.8 0.3 0 1-0.8 0.1 0.2 1-0.9 0.3 0.3 1-0.8 0.2-0.4 2.3-0.7 0.2 0.1 1.1-2-0.6 0 1-0.8 0.1-0.2 2.5-0.7 0 0 1-0.8 0.2 0.1 1.1-0.7 0.2 0.1 1.1-0.7 0-0.7 2.5-1.7-0.6 0.1 1.1-0.7 0 0 1.1-0.8 0.2 0.1 1.1-0.7 0.2 0.1 1.1-0.8 0.2 0.1 1.3-1.9-0.6 0.3 1.3-0.8 0.4 0.1 1.1-0.8 0.2 0.1 1.1-0.8 0.2 0.1 1.3-1.6-0.7 0 1.2-0.8 0.2 0.1 1-0.8 0.4z"/>
<path fill="#ffe000" d="M528.8 808.6l-0.5-0.4 0.7-0.4-0.1-2 1.3-2 0-2.3 0.7-0.7-0.7-1.3 0.7-1.3-1.4-2.3-1 0.5-0.7-1.1-1.6 0.8-0.7-0.9-1.3 0.9-0.7-0.9-4 2.4-1.3-0.9-3 2-0.7-1.1-1.7 0.8-0.6-0.6-1.4 0.9-0.6-0.9-1.7 1.3-1.7-1.3-1.6 1.6-0.7-1.8-0.7 0.1-0.3-0.6-2.3 0.7-0.7-1.2-1 0-0.3-1-1 0.8-1.4-3-0.6 0.6-0.5-0.5-2.9-5.7 0.7-1.6-0.9-1 0.6-1.7-0.6-0.7 0.9-7 2.7-7.6 4.6-8.7 0.5-3.3-1.1-2 0.6-1-1-2-1.1 0.3-1.8-3.7-1.1 0.1-1.3-2.7-1 0.1-2-4.1-1.4 0-7.2-14.7-0.7-1-1 0.1-2.7-5.6-0.3-0.4-1 0.3-1.1-1.7-3-6 0.5-1.7-1.8-3 0.7-1-0.7-1.3 0.5-1.4-0.8-1.3 0.7-1-0.6-0.7 1.3-6 3.3-5.6 7.6-5.1 4.4-1.7 7.3-1.4 6.3 1.1 4 1.6 5.5 4.5 5.6 9.6 0.8 3.7 1.6 2.7 0 2.3 3.5 6.4 6.2-6.4 5.2-2.4 4.6 0.6 3.8 2.5 3.2 3.2 4.1 5.8 17.4 32.3-0.1 5-2 9.7-0.7-0.3-0.3 2.9-0.7-0.3-0.4 1-0.2 2.7-3.1 2.8-2.3 3.7-2 5.2-1.3-1.5 0.1 1.8-0.9 0.3 0.2 1.3-1.4-0.5-1 3.1-2-0.6-0.4 1.8-2.3 0.1-3 2-0.7-0.9-1 0.6-3.1 5.8-2.6 3.3-0.4 1.7-2.6 3.3-0.4 1.7-1.3 2-1.7 0.3zM473.5 904.4l-1.8-2.2-2.4-7.4-0.5-0.6-0.6 0.6-0.4-3.6 9.6-13 20.4-22.9 11.9-16.8 2.1-1.6 0.6 0.9-0.5 0.7 0.3 1.7-1.3 1 0.3 1.6-1.7 2.2 0.3 1.6-1.3 1.2 0 0.8-1.4 0.9 0.1 0.8-0.7 0.2 0.4 2-1.4 1.2 0 1-1.4 0.8 0.1 0.8-0.7 0.2 0.3 2.1-0.7 0.2-0.6 1.9-0.7 0 0 1-0.6 0 0 1-1.3 1.1 0.3 1.2-1.4 1.2 0.2 1-0.8 0.2 0 1-0.7 0.1 0.1 1-0.8 0.2 0 1-0.6 0 0 1-1.7-0.3 0 1-0.7 0.1 0 1.2-0.6 0 0 1-0.7 0.1 0.1 1-0.8 0.3 0 1-0.7 0.1 0.2 1-0.8 0.2 0 1-0.7 0.1 0 1.2-0.8 0.1 0.3 1-0.8 0.3-0.3 2.2-2-0.7 0 1.5-0.7 0 0 1-0.7-0.2 0.2 1.3-0.8 0.2 0 1-0.7 0.1 0 1.2-0.8 0.1 0.3 1-0.5 1.5-0.8 0.2 0.1 0.8-2-0.4 0.2 1.3-1 0.3 0.3 1-0.9 0.3-0.2 2.5-2.3-0.5 0.3 1.2-0.7 0.2 0 1.2-0.7 0.1 0 1.2-0.7 0.1 0.1 1.3-0.8 0.1z"/>
<path fill="#ffa200" d="M509.8 792.3l-5.6-1.5-1 0.6-0.7-1.6-1 0.6-0.7-1.3-0.6 0.6-1-2.1-1 0.8-1.9-4.6-1.5-1.6 0.8-1.7-0.8-1 0-2.3 1.3-6.7 9.8-21.7-0.5-1.3 0.5-1.3-4.7-9-1 0.2-5.1-9.2 0.5-1.4-0.3-1.3-4.1-7.3-1-0.2-1-1.9-1 0.2-3.3-4.1-1.4-0.6-5-9.4 0.7-1-0.7-3.4 2.4-7.6 4.3-4.5 6-2.2 5.3 0.2 2.7 0.7 4.3 2 2 1.6 1 1.9 1.1 0.3 3.3 6 0.2 2.3 1.5 2.7-0.3 1 1.1 2.6 6.4 11.1 1.5 0.3 4.4-6.4 3.3-3.3 3.2-1.8 4.3-0.6 3.7 1.3 2.4 1.8 3.2 3.2 4.1 5.8 16.1 31 0.2 3.3-1.2 7-0.8 0-0.2 0.7 0.2 2-1.4 0.3 0.1 2.7-2.1 1.5-0.2 3.8-1.4 1.2-1.4 3.2-1-1.2-0.3 0.7-0.7-0.3 0.2 1.7-0.8 0 0 1.6-1.4-1 0.2 1.1-1 0.3 0.2 1.9-1.4-0.8-0.3 1.8-1.7-0.4-1.6 0.5-0.4 1.9-2.3-0.9-4.3 0.3 0.1 1.4-0.9 0.3 0.2 1-0.6 1.4-1.5-0.4-0.7 2.8-2.3 0.1-2.3 1.1-0.7-0.6-1.3 1.2-0.7-0.9-1.7 1.2-0.6-1.1-2.4 1.5-0.6-1.2-4 2.7-1-1.4-3 2.1-1-1.1-2 1.8-1-0.8-1.7 0.9-0.7-0.9zM471.8 899.1l-1.4-1.3-2.7-5.3 0.1-1.3 9.6-13 14.4-16 2.7-2 0.6 1.3-1.2 1.3 0.3 1.7-2.1 2.3 0.1 0.8-0.7 0.2 0 1-2 2.4 0 0.8-0.7 0.2 0 0.8-0.7 0.2 0.1 1-2.1 2.3 0.1 1-0.9 0.3-1.4 2 0.3 1.2-1.6 1.2 0.2 1.1-1.5 1.2 0.2 1-0.8 0.3 0.1 0.8-0.9 0.2 0.3 1.2-2-0.2-0.4 2.5-0.9 0.2 0.3 1.1-0.9 0.2-0.1 0.8-1.7 0.2 0 1-1.4 1.4 0.1 1.2-0.7 0.1 0 1.2-0.7 0.1z"/>
<path fill="#ff6600" d="M496.8 700.6l-4.4-1.1-2.7-4.7 0.4-2 1.3-1.3 4.4-1.6 2.7 1 2.4 4.3-1 4.3zM510.2 785.6l-2-1.4-0.7 0.5-0.3-0.6-2 0.5-0.7-1.8-1 0.6-0.7-1.5-1 0.9-1-2.1-0.6 0.6-0.4-0.3-2.4-4.5 0.4-2-0.7-1 0-2.3 2-7.4 12.4-28-0.7-1 0.7-1-1-1.6 0.7-1-1-1.7 0.7-0.7-0.7-1.6 0.6-0.7-0.2-0.7 2.9-2.7 4.1-0.3 5.8-10 5.6-6.3 5.5-2.5 4.3 0.7 3.8 2.5 3.1 3 4.2 6 14 26.3 0.8 3-0.6 2.3 0.5 3-0.9 0.4-0.5 4-0.8 0 0.2 2.6-2.1 1.2 0.1 3.2-1.8 1.8-0.6 2.1-1-1.1-0.4 0.7-0.6-0.3 0.1 1.4-0.8 0 0 1.6-1.3-0.8-1 3.1-2.4-0.2 0 1.7-1.6 0.5-0.4-0.6-1.6 0-0.7 0.6-0.7-1.2-0.3 1.9-3.3 0 0 2.2-2.4-0.7 0.2 1.6-1.8 0 0 1.6-3 0.3-4 2.6-1-1.1-4 2.7-1-1.4-4 2.8-1-1.4-3.4 2.5-0.6-1.2-1.7 1.2-0.7-1.3-1.6 1.3-0.7-0.9z"/>
<path fill="#ff1e00" d="M512.2 778.6l-0.7-1-0.7 0.5-0.6-0.9-0.7 0.5-0.3-0.6-1 0.3-0.4-0.6-2 0.5-0.6-1.4-1 0.8-0.7-1.4-1 0.8-0.4-0.6-2.6-5.7 0.7-1.6-0.9-0.7 1.8-8 13-29.7 9.3-17 2.3-3 4.5-4.1 4.3-1.7 4.3 0.7 3.8 2.5 3.1 3 4.2 6 12 22.6 1.3 5-0.8 1.7-0.4 5-1 0.7 0.3 2-1.8 1.2-3 4.8-1 2.9-1.3-1 0 1.6-2 0-1.7 1.1-0.7-0.4-1.6 1.1-1.4-0.4 0 2.3-3.3-0.5-0.3 2.3-3.4-0.1 0 2.3-1.7-0.6 0.1 2.1-4.4 0.8-5 3-1-1.7-5 3.4-0.6-1.5-3 2.4-1-1.4-1.7 1.2-0.7-1.3-1.6 1.3-0.7-0.9z"/>
<path fill="#ff0000" d="M513.5 772.3l-0.7-0.9-1 0.3-0.6-0.8-0.7 0.5-0.3-0.6-2 0.5-0.7-1.6-1 0.6-0.7-1.7-1 1.1-0.4-0.5-0.8-2.7-1.9-3 1.4-8.3 11-25.4 9.3-17 2.3-3 4.5-4.1 4.3-1.7 4.3 0.7 4 2.6 4.1 4.5 3 4.4 9.7 18.3 1.1 5.7-0.7 1.6 0.5 1.7-1.2 2.7 0 2-1.1 0.5 0.1 0.8-0.8 0.9-0.7 0.1 0.2 1-0.8 0.2 0 1-5 1.6-0.4 1.8-1.3-0.8 0.1 1.9-1.8-0.3 0 2.2-2.3-0.5-0.3 2.1-3.4-0.3 0 2.5-3.3-0.4 0 2.2-2.3 0-3.4 1-7.3 4.9-1-1.7-3.3 2.4-1-1.4-2.4 2.1-1-1.2-1.3 1.3-0.7-1.3z"/>
<path fill="#ff0000" d="M519.2 765.3l-1-1.3-1.7 1.4-0.3-1-1 0.3-0.7-1.1-1.7 1.8-1.6-1.1-0.7 0.6-0.7-2-1 0.8-0.6-1.4-1 0.8-1.6-3.9-1.8-2 1.3-6.7 9-20.7 9.3-17 2.3-3 4.5-4.1 4.3-1.7 3.3 0.4 5 2.9 3 3.1 4.1 5.8 7.7 14.3 1 4.3-0.9 1.7-0.1 3.3-2.8 3.2-1.6 3.7-1.4-1.1 0.2 1.6-1 0.3 0.2 1.6-1.4-0.5-0.3 1.5-1.3-0.6-0.4 2.2-1.3-0.5 0 2.2-2.7-0.9 0 2.6-2.3-0.3-0.3 2.4-4.4-0.4 0 2.8-2.6 0.1-7 3.7-1-1.7-3.7 2.9-1-1.4z"/>
<path fill="#ff0000" d="M516.5 757.9l-0.3-0.8-1 0.3-0.4-0.7-1 0.4-0.3-0.6-2.3 0.9-0.7-1.8-1 0.8-0.3-0.4-1.3-3.5-1.4-1.7 0.9-5.6 10.3-22.7 7.8-12.5 3.5-3.5 3.2-1.8 3-0.7 3.6 0.7 3.8 2.5 3.2 3.2 4.1 5.8 3.7 6.6 2.4 6 0.3 4.4-1.3 1 0.3 1.6-1.8 1.6-2 3.6 0 1.4-1.7-1.1 0 1.8-1.6-0.8 0.1 1.5-1.5-0.2-0.3 2.1-1.3-0.8-0.4 2.5-2.3-0.9 0 2.6-2.7-0.3 0 2.6-5.3 0-0.3 2.8-2.7 1.4-1 0.1-0.7-2.1-5.3 3.7-1-1.7-2.3 2-1-1.4-1.7 1.5-0.7-1.4z"/>
<path fill="#e80000" d="M517.8 751.3l-0.6-0.8-1 0.6-0.4-1-1 0.6-0.6-2.1-1 0.8-0.7-1.5-1 0.9-2.3-4.3 1.2-6.3 3.7-8.4 7-13.3 4.7-6.8 3.2-3.2 3.2-1.8 3-0.7 3.6 0.7 3.8 2.5 3.1 3 5.9 9 2.3 5.6-0.3 4-1.2 1 0.2 2-1.4 0.9-0.7 2.4-1.3-1 0.1 1.1-0.9 0.3 0.1 1.6-1.7-1.2 0.2 1.9-1 0.4 0.2 1.9-2.7-1.3 0 2.3-1.7-0.3 0 2.4-3.3-0.4-0.3 2.6-6.4 1-6 3.9-1-1.7-2.6 2.1-0.7-1.4-1.7 1.4-0.6-1.1z"/>
<path fill="#ca0000" d="M523.8 744l-1-1.4-1.6 1.5-0.4-1-1 0.3-0.6-1.2-0.7 0.5-0.3-0.6-1 0.6-0.4-0.4-1 0.8-1-2.7-1.3 0.3-1.4-2.2 1.3-7 6.3-12.7 6-9 3.3-3.3 3.2-1.8 3-0.7 3.6 0.7 3.8 2.5 3.1 3 4.2 6 1.7 5.3-0.9 2 0.3 1.3-2.2 1.3 0.2 0.7-2.2 4.3-1.3-0.8 0.1 1.5-0.9 0.4-0.2 1.9-1.3-0.8 0 2.1-2.7-0.6 0 2.3-3.7-0.3 0 2.8-4.6 0.8-4.4 2.3-0.2-1.2-0.8-0.5z"/>
<path fill="#ad0000" d="M523.8 736l-1-1.2-1 0.6-0.6-0.8-0.7 0.5-0.7-0.6-0.6 0.6-0.7-0.6-0.7 0.6-1.5-3.9-1.1-1 0.6-3.4 1.9-4.3 5.7-9.7 5.6-6.3 5.5-2.5 2 0.1 3.7 1.3 5.5 4.8 1.9 3 1.3 4-0.4 1.9-1.1 0.7 0.1 1.9-0.7 0 0 1-0.6 0 0 1.4-1.7-1 0.1 1.1-0.9 0.3 0.1 1.6-1.7-0.6 0.1 1.9-1.7-0.5 0 2.2-2.7-0.3 0 2.4-5.3 0.5-5.3 3.6-1.4-1.3z"/>
<path fill="#8e0000" d="M527.2 727.6l-1-1.1-1 0.2-0.7-0.9-1.7 1.6-0.6-1.9-1 0.6-0.9-2.3-1.4-1.3 2.2-6 4.4-6.5 4.7-4.3 4.3-1.7 2 0.1 3.7 1.3 3.5 2.8 1.2 2.3 0.3 3.3-1.2 1 0.2 2.3-0.7 0 0 1-1.7-1.2 0.2 1.6-1 0.3 0.2 1.3-1.7-0.3 0 1.6-1.7 0.1 0 2.1-2.3-0.3-3.3 0.8z"/>
<path fill="#6f0000" d="M528.8 717.7l-1-0.9-2.3 0.3-1.7-2.9 2.4-4.8 2.8-2.9 3.2-1.8 3.6-0.7 3 0.8 1.6 2.7 0.1 2.3-1.4 1 0.1 1.3-1.1 0.1 0.1 1.2-1.7-0.3 0 1.8-4.3 0.5z"/>
<path fill="none" stroke="#222" stroke-opacity="0.6" stroke-width="0.7" d="M497.0 927.0l14.7-21 37.6-65.5 11.8-17.7 5.9-10.8 6-13.4 34.6-60.3M422.0 756.6l11.9 21.2 12.1 30.1 13.6 26.2 13.1 32.8 1.5 7 0.1 7.6M488.6 924.3l20.6-29.2 38.4-66.8 7.9-10.5 5.1-7.9 5.9-11.3 5.3-13 35.4-61.3M435.9 740.3l2.6 5.6 8.1 13.4 11.7 26.8 11.8 21.9 2.3 6.3 4.6 18.4 10.2 20.5 3 10M472.5 906.8l-1.8 3M584.6 717.2l-10.8 6.4-4.1 0.5-2.9-1.3-1.6-2.4-4.6-18-3.9-10.3M481.4 920.7l25.6-36.2 11.7-21 27.7-47.1 7.7-9.4 5.9-8.7 5.9-11.7 5.1-13.9 36.2-62.4M445.4 725.2l2.5 7 6.8 13 10.9 23.8 12.4 22.7 1.6 5.4 3.1 17.1 2.1 6.1 3.9 6.8 9.9 12.7 2.2 4.8 1 4.3M471.3 903.2l-1.3 2.1M546.0 709.4l0.1-4-1.7-5.5-3.7-7-3.3-4.1M475.8 914.8l28.9-41.2 11.9-21.8 28.4-47.9 8.4-8.8 6.1-8.7 6.4-13.3 4.2-14.2 28.8-51.3 7.9-12.5M458.9 708.1l-0.2 5.1 0.6 4.1 4.4 12.9 8.1 17.5 7.1 11.7 6.7 8.7 1.6 3.4 0.5 3.9-0.4 21.6 0.7 4.6 1.5 4.3 4.1 5.4 6.1 3.9 6.1 1.6 8.8 0.1 2.5 0.5 0.6 0.9 0 2.2-2.1 6M470.0 898.6l-0.9 1.5M603.6 689.7l-8.3 13.5-8.8 13-5.6 6.4-6.9 6-2.9 2.2-1.8 0.5-3.3-3.5-9.8-1.2M530.3 704.9l-1.7-6.9-2.3-5.3-3.1-4.3-4.8-3.7M472.5 904.1l8.9-12.3 20.4-30.8 7.5-15.3 3.3-9.1-1.6 0.7-2.2 2.7-10 14.8-6.6 8.2M523.8 817.4l0 0M524.4 816.4l0 0M525.0 815.4l0 0M525.6 814.4l0 0M526.2 813.3l0 0M526.8 812.3l0 0M527.4 811.3l0 0M527.7 809.7l0.4 0.6 0.6-0.9-1 0.3M528.3 808.5l0.4 0.8 0.6-0.9-1 0.1M528.8 807.3l-0.2 0.6 0.7 0.4 0.6-1-1.1 0M477.1 688.6l-3 4.4-1.7 5-0.2 7.2 1.4 6.5 2.6 5.5 8.2 12 6.2 11.6 9.2 11.2 1.2 3 0 3.5M497.0 767.0l-2.9 7.3-1.1 7.1 0.4 6.3 2.6 5.4 2.1 2 2.9 1.7 6.4 1.6 6.5-0.4 11.3-2.6 3.2 0.1 1.7 1.4 0.6 2-0.4 3.9-1.4 4.2 1 0.3 12.1-19.7 3.5 0.2 4.2-2.6 5-5.1 4.9-7.2 3.7-7.4 2.7-8 1-7.5-0.8-3.8M522.5 712.6l-2.5-5-4.5-12.4-3.9-6.2-3.3-3.1-3.6-2.4-4.3-1.5-4.6-0.7M500.2 762.0l-1.6 5.4 0 5.8 1.9 4.4 3.7 2.9 5 1.3 5.7-0.1 6.3-1.2 13-3.7 2.7-1.3 10-7 0.9-0.4 1.5 0.7 2-0.6 5.2-5.1 4.1-6.9 2.7-7.5 0.3-4.5-1.4-4.4M506.0 749.1l-1.8 5.1-0.1 4.5 1.3 3.2 3.1 2.5 4.5 1.2 4.7-0.1 6.4-1.2 8.1-2.6 4.7-2.2 7.8-5 5-4.1 4.3-4.6 2.7-4.2 1.5-4.3 0.1-3.7-1.3-3.9M512.6 734.0l-1.9 4.5-0.5 4 0.8 2.7 2.3 2.2 3.7 1.1 4.8 0 5.4-1.2 5.1-1.8 4.8-2.3 6.2-4.1 4.1-3.6 2.9-3.5 1.9-3.5 0.7-3.4-0.4-3.5-1.7-3.1M521.7 716.4l-3.5 6-0.4 3.3 0.7 2.1 1.9 1.5 3 0.7 3.6-0.3 4.3-1.2 7.7-4.2 3.3-2.9 2.2-2.7 1.4-2.8 0.3-2.4-0.7-2.8-2-2.2"/>
<path d="M397.3 774.9L476.0 945.8L664.2 860.0" stroke="#444" stroke-width="1" fill="none"/>
<path d="M476.0 945.8L472.5 947.4M469.6 932.0L467.6 932.9M463.3 918.2L459.8 919.8M456.9 904.5L454.9 905.4M450.6 890.7L447.1 892.2M444.2 876.9L442.2 877.8M437.9 863.1L434.4 864.7M431.6 849.3L429.5 850.2M425.2 835.5L421.7 837.1M418.9 821.8L416.8 822.7M412.5 808.0L409.0 809.6M406.1 794.2L404.1 795.1M399.8 780.4L396.3 782.0M476.0 945.8L477.6 949.3M496.6 936.4L497.5 938.4M517.1 927.1L518.7 930.5M537.6 917.7L538.6 919.7M558.2 908.3L559.8 911.8M578.8 899.0L579.7 901.0M599.3 889.6L600.9 893.1M619.9 880.3L620.8 882.3M640.4 870.9L642.0 874.4M661.0 861.5L661.9 863.5" stroke="#444" stroke-width="1" fill="none"/>
<text transform="translate(470.5 948.3) rotate(-24)" font-size="12.8" text-anchor="end" fill="#222" dy="0.36em">11550</text>
<text transform="translate(457.8 920.7) rotate(-24)" font-size="12.8" text-anchor="end" fill="#222" dy="0.36em">11555</text>
<text transform="translate(445.1 893.2) rotate(-24)" font-size="12.8" text-anchor="end" fill="#222" dy="0.36em">11560</text>
<text transform="translate(432.4 865.6) rotate(-24)" font-size="12.8" text-anchor="end" fill="#222" dy="0.36em">11565</text>
<text transform="translate(419.7 838.0) rotate(-24)" font-size="12.8" text-anchor="end" fill="#222" dy="0.36em">11570</text>
<text transform="translate(407.0 810.5) rotate(-24)" font-size="12.8" text-anchor="end" fill="#222" dy="0.36em">11575</text>
<text transform="translate(394.3 782.9) rotate(-24)" font-size="12.8" text-anchor="end" fill="#222" dy="0.36em">11580</text>
<text transform="translate(478.5 951.2) rotate(63)" font-size="12.8" fill="#222" dy="0.36em">11550</text>
<text transform="translate(519.6 932.5) rotate(63)" font-size="12.8" fill="#222" dy="0.36em">11555</text>
<text transform="translate(560.7 913.8) rotate(63)" font-size="12.8" fill="#222" dy="0.36em">11560</text>
<text transform="translate(601.8 895.1) rotate(63)" font-size="12.8" fill="#222" dy="0.36em">11565</text>
<text transform="translate(642.9 876.3) rotate(63)" font-size="12.8" fill="#222" dy="0.36em">11570</text>
<text transform="translate(363.7 829.5) rotate(66.3)" font-size="12.2" fill="#222">Incident Energy (eV)</text>
<text transform="translate(532.7 983.5) rotate(-25.2)" font-size="13.5" fill="#222">Emmission Energy (eV)</text>
<linearGradient id="g3_2" x1="0" y1="0" x2="0" y2="1"><stop offset="0.000" stop-color="#580000"/><stop offset="0.093" stop-color="#960000"/><stop offset="0.200" stop-color="#f00000"/><stop offset="0.340" stop-color="#ff0000"/><stop offset="0.370" stop-color="#ff4000"/><stop offset="0.425" stop-color="#ff9600"/><stop offset="0.500" stop-color="#ffff00"/><stop offset="0.570" stop-color="#beff00"/><stop offset="0.660" stop-color="#00f000"/><stop offset="0.700" stop-color="#00ffaa"/><stop offset="0.730" stop-color="#00ffff"/><stop offset="0.790" stop-color="#008cff"/><stop offset="0.847" stop-color="#0000ff"/><stop offset="0.900" stop-color="#6400ff"/><stop offset="1.000" stop-color="#820096"/></linearGradient>
<rect x="631.5" y="676.4" width="17.0" height="154.0" fill="url(#g3_2)" stroke="#222" stroke-width="1"/>
<path d="M648.5 830.4h4M648.5 799.6h4M648.5 768.8h4M648.5 738.0h4M648.5 707.2h4M648.5 676.4h4" stroke="#444" stroke-width="1"/>
<text x="658.0" y="835.6" font-size="14.3" fill="#222">0.0</text>
<text x="658.0" y="804.8" font-size="14.3" fill="#222">0.2</text>
<text x="658.0" y="774.0" font-size="14.3" fill="#222">0.4</text>
<text x="658.0" y="743.2" font-size="14.3" fill="#222">0.6</text>
<text x="658.0" y="712.4" font-size="14.3" fill="#222">0.8</text>
<text x="658.0" y="681.6" font-size="14.3" fill="#222">1.0</text>
<path fill="#6c0a6c" d="M512.2 1246.2l-8.4-0.7-7-3-12.4-8.4-7.6-6.6-3.3 5.4-0.8-0.2-14.3-29.3-50.7-112.7 11.6-9.6 7.7-7.7 8.6-10.3 7.3-11.4 16.4-31 11.4-28.6 5.4-10.7 3.1-4.8 4.3-4.7 4-2.6 3.3-0.7 6 1 5 2.7 21.7 17.5 7 4 7.3 3 11.7 2.8 8.7 1 13.3 0 13.3-1.5 1.8 2.6 10.9 23 4.1-5.6 7.5-13 1.1-0.6 1.5 4.9 0.3 4.7-0.3 45.6 0.6 8.4 1.8 8.6 2.3 5.4 54.3 93.3-143.9 65.4-6.6 2.7z"/>
<path fill="#8006b4" d="M512.2 1246.1l-4 0.1-4.4-0.7-7-3-12.4-8.4-7.6-6.6-3.3 5.4-0.7 0-0.7-1.2-11.7-24 0.6-3.6-0.8-1.7 0.6-0.7-1.9-4.6-8-17.7-0.7-1-1.1-0.3-9.5-21.4-1.9-1.3-9-20 0.2-2.3-3.8-8 0.5-1-0.3-1.4-6.4-14-1.1-2.1-1.7-1.5-2.8-6.7-1.9-1.7-2.9-6.6 10.8-9 7.7-7.7 8.6-10.3 7.3-11.4 16.4-31 11.4-28.6 5.4-10.7 3.1-4.8 4.3-4.7 4-2.6 3.3-0.7 6 1 5 2.7 21.7 17.5 7 4 7.3 3 11.7 2.8 8.7 1 13.3 0 13.3-1.5 1.8 2.6 10.9 23 1.8-2 8.1-14 2.4-3.1 1.1 1.1 0.8 3.7 0 50.3 1.1 11.2-15.3 26.5-1 0.7 0 1-5.7 9.8-6 9.3-0.6 3.2-3 4.2 0 1.8-4.4 6.5 0.4 1.6-3 5.1-0.7 0.1 0 0.9-5 8.6-0.7 0.2-0.2 1.7-1.8 2.1-2 4.4-0.6 0.8-1.4 0-0.3 1.8-2.7 4.7-0.7 0.2 0.1 0.8-5.2 8.5-0.5 1.7-4.3 7.1-0.7 0.2-0.3 1.7-6 10.1-0.7 0.2-1 2.7-1 1.8-0.7 0.2-2.6 5.5-0.7 0.1-2.7 5.5-0.7 0.2-2.6 5.7-1.4 1-0.2 1.6-3 4.4-0.7 3.6-2.9 4-0.4 1.7-2 3-1.3 0.3-0.8 1-0.3 2-2.7 2.4z"/>
<path fill="#5800ff" d="M506.8 1245.8l-3-0.3-7-3-12.4-8.4-7.6-6.6-3.3 5.4-0.7 0-0.7-1.2-2.8-6 1-2 0.4-1.6-0.5-1.4 0.8-2.3-2.7-15 4.9-7.3-1.4-3.4 0.5-1.3-11.9-25-1.8-4.3 0.7-1-2-4.4-2-4-1.1-0.3-0.8-1.3-3.9-8.7-1 0-5.1-10.7-0.7-1.6 0.4-1.4-2-4.3 0.2-2-2-4.3 0.3-1.4-3.3-7.3-1.7-3.3-1.1 0-2.3-5.4-1.5-0.6-1.8-4.7-1.1 0-2.6-5.7-1.5-0.6-2.8-6.7-1.3-0.7 8.4-8.3 6.5-7.5 9.4-14.2 16.7-31.6 11.1-28 7-13.4 6-7 3.8-2.4 3.3-0.7 6 1 5 2.7 21.7 17.5 7 4 7.3 3 11.7 2.8 8.7 1 13.3 0 13.3-1.5 1.8 2.6 10.9 23 4.1-5.6 7.5-13 1.1-0.6 1.5 4.9 0.3 4.7 0 49-0.5 1.5-14.3 23.9-2.5 4.6 0.2 1.3-0.7 1.3-11 18.1 0 1.8-2.5 3.1 0.3 1.7-2.8 3.7 0 2.1-4.4 6.6 0 1.8-3 5.4-0.6-0.1-1 2.8-2 3.2-0.7 0.2-1 2.8-1-0.4-0.7 1.7-0.7 0.2-3.6 7.8-1 0.1-1.3 2.7-0.7 0-1 3-0.7-0.1-1.6 3.9-1.1 0.6-0.3 1.8-0.7 0.2-0.9 2.5-0.7 0.2-1 2.4-0.7 0.2-0.3 1.8-0.7 0.1-1 2.6-0.7 0.2-0.9 2.5-0.7 0.2-0.3 1.8-0.7 0-1 2.6-0.7 0.2-1 2.5-0.7 0.2-0.9 2.8-0.7 0.1-1 2.6-0.7 0.2-0.6 3.8-1.4 1.2-0.3 1.8-0.7 0.2-1 2.4-1.3 1.2-0.3 1.8-0.7 0.2-1 2.5-1.4 1.2-2.6 5.5-1.4 1.2-0.3 1.8-2 2.2-0.3 1.8-1.4 1.2-0.3 1.8-2 1.8-0.3 2-1.4 1.4 0.1 0.8-1.4 0.2-1.6 4.1-1.7 0.2-0.3 2-1.4 1.3 0 0.8-1.3 0.2z"/>
<path fill="#0d00ff" d="M503.2 1244.9l-3-0.7-7.7-4.4-8.1-5.7-7.6-6.6-3.2 5.2-0.7 0 0.4-1-0.3-2.6-4.7-25.7 3.9-5.8 8.4-10.5 0.2-0.7-1.6-3.7 0.7-1-7.5-15.3 0.5-1.3-4.7-10 0.7-1-4.6-10-0.5-0.7-1 0-3.2-6.7-1.1 0-7.4-15.6 0.4-1.4-1.9-4.3 0.7-1-1.6-2.7 0.2-2-4.3-9.3-0.4-0.8-1.1-0.2-1.8-4-1.3-0.7-1.5-3-1.1 0-1.9-4.3-1.1 0-1.8-4.3-1.5-0.7-2.2-5-1.1 0-1.5-3 7.2-8.5 7.4-10.8 6.2-12 5.2-8.4 7.3-14.6 11.1-28 5.4-10.7 3.1-4.8 4.3-4.7 4-2.6 3.3-0.7 6 1 5 2.7 21.7 17.5 7 4 7.3 3 11.7 2.8 8.7 1 13.3 0 13.3-1.5 1.8 2.6 10.9 23 4.1-5.6 7.5-13 1.1-0.6 1.5 4.9 0.3 4.7-0.4 43.6-10.4 17.4 0 2.2-17.7 29 0.1 1.8-1.6 2-0.7 3.3-1.9 2 0.1 1.9-2.5 3.1-0.4 3-4.9 7 0.1 2.3-2 2.4-2.6 5.5-0.7 0 0 1-1-0.8-3.3 6.8-0.7 0-1 3-1.3-0.8 0.1 1.3-1.1 2.2-0.7 0-1 3-0.7 0.1 0 0.8-1 0-2 4-1 0.4-0.6 2.3-1 0.4-0.4 2-0.6 0-1 2.7-0.7 0 0.4 2.1-0.7 0.2-1 3-0.7 0-0.2 1.4-0.8 0.3 0 1-0.7 0-0.3 1.7-0.7-0.1-1 3.1-1 0.8-0.6 1.8-0.7 0 0 1-1 1.7-0.7 0 0.2 0.7-1.2 1.9-0.6 0 0 1-0.7 0-0.3 2-0.7 0 0 1-0.7 0-0.3 1.7-0.7 0 0 1-0.6 0-0.4 2-1.3 0.8-1 2.9-0.7 0-1 2.6-1.3 1-1 3-0.7 0 0 1-0.6 0 0 3.3-1.4 1 0 1.1-0.6 0-0.2 1.7-0.8 0.3 0 1-0.7 0-0.3 2-0.7-0.1-0.7 1.6-0.7 0.2-0.3 1.8-2 2.2-0.3 1.8-1.7-0.1 0.2 1-0.8 0.2-1 3.4-1.7-0.3-0.2 2-0.8 0.4 0.1 1-0.8 0.3-0.4 2-1.6 0 0 0.8-0.7 0.2 0.2 1-1.2 1.3 0.1 1.3-1.7-0.3z"/>
<path fill="#004dff" d="M500.2 1243.8l-3.4-1.3-8.6-5.7-11.4-9.3-3.3 4.9-5.1-29.3 9.4-12.8 8.4-9.9 0.4-4-5-10 0.7-1.3-2.6-4.7-0.1-3-2.2-4 0.5-1.7-7-15-2.2-1.6-2.5-5.7-1.1 0-6.4-13-1.5-3.7 0.4-1.6-3.1-6.4 0.4-1.3-6-12.7-0.4-0.7-1.1 0.1-1.8-4.4-0.8-1-1 0-1.6-3.6-1.4-0.6-4.3-7.3-1.3-0.6-2.6-5.9 8.3-11.6 6.2-12 5.2-8.4 7.3-14.6 11.1-28 5.4-10.7 3.1-4.8 4.3-4.7 4-2.6 3.3-0.7 6 1 5 2.7 21.7 17.5 7 4 7.3 3 11.7 2.8 8.7 1 13.3 0 13.3-1.5 1.8 2.6 10.9 23 4.1-5.6 7.5-13 1.1-0.6 1.5 4.9 0.3 4.7-0.4 37.6-14.1 23.6 0 2.7-14.3 22.9 0 2.2-1.4 1.3-0.5 3-1.6 2-0.1 2-2.2 2.7-0.2 2.3-2.8 3.3-0.9 4.2-5.7 8.2-5 9.9-1-0.8-3 6.4-1.3-1.1 0.1 1.2-1.1 2.3-0.8 0.1 0.3 1-1.2 2.2-0.6 0 0 1-1.4-0.7-1 3.1-1.1 1 0.1 2.6-1 1.7-0.6 0 0.1 1.1-1.1 0.5-0.8 2.5-0.9 0.2-1 3-1 0.8-0.7 1.9-0.6 0 0.1 0.7-1.1 1.9-0.7 0-1 2.7-0.7 0-1 3-1.3 0.7-0.2 1.7-0.8 0.3 0.1 0.7-1.1 1.9-0.7 0 0 1-0.6 0-0.7 2.3-1 0.4 0 1-0.7 0-0.5 4.4-0.8 0.3 0.1 0.7-1.1 1.9-0.7 0 0 1-0.6 0-0.4 2-0.6 0 0.1 0.8-0.8 0.9-0.7 0-0.2 1.8-0.8 0.2 0 1-0.6 0 0 1-0.7 0-0.3 2-0.7 0 0 1-0.7 0 0 1-0.6 0 0 1.3-1 0.4-0.7 2-0.7 0-0.2 1.7-0.8 0.3 0 1-0.6 0 0 1-0.7 0-0.2 1.7-0.8 0.3 0 1-0.7 0 0 1-0.6 0-1 3.3-1.7-0.3-0.2 2.1-0.8 0.2 0 1-0.7 0.1 0 1.2-1.3-0.1 0 0.7-0.7 0.2 0.2 1-0.8 0.1 0.1 1.2-0.8 0.3 0.1 0.7-0.6 0.4 0.2 1.1-1.7-0.5 0.1 1-0.8 0.4 0.2 1-0.5 1.1-0.7 0.2 0 1.2-1.6-0.3 0 1-0.7 0.1z"/>
<path fill="#00a9ff" d="M496.8 1242.3l-12.4-8.2-7.9-7.1-2.3 3.4-0.7 0.8-0.4-0.5-4.7-27.6 9.4-12.8 13-15.4 1.1-1.5 0-1-1.4-2.7 0.4-1.6-4.1-8.4 0.5-1.6-2.1-4 0.6-1-1.9-3.7 0.7-1.3-2.5-4.4-0.2-3.3-2.4-4.7-0.7 0.3-0.7-0.6-2.6-6-0.7 0.3-0.7-0.6-2.2-5.4-0.7-1-1 0.1-0.8-1.1-9.9-21 0.1-2.3-9.7-20-0.4-0.7-1.1 0-1.5-3.6-1.2 0-1.8-4-1.2-0.4-1.8-4-1.1 0.4-2.3-5.7 5.4-8.7 4.2-8.6 3.2-4.7 9.3-18.3 11.1-28 5.4-10.7 3.1-4.8 4.3-4.7 4-2.6 3.3-0.7 6 1 5 2.7 21.7 17.5 7 4 7.3 3 11.7 2.8 8.7 1 13.3 0 13.3-1.5 1.8 2.6 7 15-0.9 1.4 0.2 1-1.4 2 0.1 1-1.8 2.6-0.2 1.7-3.5 5.3 0.2 1-0.9 1.4 0.4 2.3 2.7 0.4 1.3-0.9 9.5-13.2 9.8-16.6 1.1-0.6 1.5 4.9 0.3 4.7-0.3 33-0.8 2-4.7 8.1-0.7 0.5-0.7-0.7-1 1.6-0.2 3.1-19.8 31.9-0.5 3.5-1.2 1.3-0.2 2-1.5 1.7-0.1 2.3-1.9 1.3 0.2 2.7-2.5 2.3 0.1 2.7-2.4 2.5-0.6 3.6-6.7 10.1-1.7 4.1-0.6 0.9-1-1-0.7 1-2.3 5.7-0.7 1-1-0.8-0.7 2.1-0.6 0 0.1 1.1-1.8 3.6-1.3-1 0.1 1.1-1.8 2.5 0 1.1-1 0.8-1.7 3.5-0.6 0-0.8 2.4-0.9 0.2-0.8 2.5-0.9 0.2-0.8 2.5-0.8 0.2 0 1-0.7 0-0.8 2.8 0.1 1.9-0.6 0 0 1-0.7-0.1 0.1 1.2-1.1 0.5 0 1-0.7 0-1 2.7-0.6 0-1 3-1.7 2.7-0.7 0 0 1-0.6-0.1-1 2.7-0.7 0 0 1-0.7 0-0.3 2.1-1.3 0.6 0 1-0.7 0-0.3 2-0.7 0 0 1-1.3 0.7-0.2 1.7-0.8 0.3 0 1-0.7 0 0 1-0.7-0.1-0.3 2.1-1.3 0.6 0 1-0.7 0 0.1 3.8-0.8 0.2 0 1-0.6 0 0 1-0.7 0-0.2 1.8-0.8 0.2 0 1-0.7 0 0.2 0.8-1.2 1.9-0.6 0 0 1-0.7 0 0 1-0.7 0-1 3-0.6 0-0.7 2-1.3-0.5 0 1-0.8 0.3 0.1 1.2-0.7 0 0 1-0.8 0.1-0.2 2.4-1.6-0.6 0.1 1.2-0.9 0.3 0.2 1-0.8 0.3-0.3 2.2-1.7-0.7 0.2 1.2-0.8 0.1 0.1 1.3-0.9 0.3-0.2 2.1-0.8 0.2 0.1 1.3-1.7-0.8 0.2 1.2-1 0.3-0.2 2.5-0.6 0.1 0 1-1.7-0.3z"/>
<path fill="#00fffc" d="M494.8 1240.8l-2.3-1-8.1-5.7-5.2-4.2-3.7-4.3-2.3 3.4-4.9-25.6 9.5-13.1 19.1-23.2-4.1-8 0.8-1.4-2.8-5.3 0.5-1.3-1.6-3 0.5-1.4-1.7-3.3 0.7-1-2.5-4.3-0.4-4-0.8-1.4-1 0.4-2.9-6.7-0.4-0.6-1.1 0.3-2.9-6-1.1 0-8.8-19-0.8-1-1.1 0.3-1.9-4.3 0.1-2.4-4.9-9.3 0.2-2.3-4-8.4-0.7 0.3-0.8-0.6-1.9-4.8-1.4-0.2-1.9-4-1.1-0.3-1.9-4-1.1 0.3-2.6-6.3 5.6-11 5.2-8.4 7.3-14.6 11.1-28 5.4-10.7 3.1-4.8 4.5-4.9 3.8-2.4 3.7-0.7 5.6 1 5 2.7 21.7 17.5 7 4 7.3 3 11.7 2.8 8.7 1 20.1-0.5 0.2 3.6-0.7 1.7-1.4 9.7-1 1 0.2 1.3-1.3 1.7 0.1 1-4.3 8.6-0.9 7 1.3 2.8 9 3.7 2 0.4 2.3-0.8 6-5.9 9.5-13.2 9.8-16.6 1.1-0.6 1.5 4.9 0.3 5-0.4 27.3-19.8 32.2-1.2 4.8-7.9 12.4-0.1 2.3-1.1 0.6-0.2 2.7-1.6 1.4-0.1 2.3-0.8 0.2-0.4 1.1-0.1 2.4-1.9 1.3-0.5 3.7-2.8 2.6-0.2 3.4-4.4 5.8-5.3 10.3-0.7-0.6-1.3 1.3-0.6 2.5-1.4 2.4-1-1-0.6 2.3-2.1 3.7-1-1-2.3 5.9-11.7 18-1 5-1.3 0.6-1 3-3.4 4.5-2.1 4.3-0.9 0.2 0.2 0.8-1.8 3.2-1.4 0.6-1 3.1-1.3 2-1.3 0.6-0.4 2.1-4 6-0.3 3.8-0.7 0.1 0.2 0.8-3.2 5.3-2.3 3.5-0.7 0.1 0 1-1.6-0.8 0.1 1.2-0.8 0.3-0.3 2.5-0.7 0.1 0.1 1.1-0.8 0.3 0 1-1.6-0.8 0.1 1.2-0.5 1.4-0.8 0.3 0.2 1.2-0.7 0 0 1.3-1.7-1.1 0.2 1.2-0.5 1.5-0.8 0.2 0.1 1.1-0.8 0.2 0.2 1.3-1.7-0.7 0.1 1.1-0.8 0.2-0.3 2.3-0.8 0.2 0.1 1.1-0.8 0.2 0.2 1.2-1.7-0.8 0.1 1.3-0.9 0.3 0.3 1-0.5 1.5-0.8 0.2z"/>
<path fill="#00ff6e" d="M491.5 1238.8l-12.3-8.9-2.1-2.2-1.6-3-1 0.2-1.7 2.8-0.3-0.5-4.2-23.8 9.5-13.1 23.5-28.2-4.9-9 0.2-2.7-2.1-4 0.4-1.3-1.7-3 0.6-1.4-1-2.3 0.1-2-1.1-1.7 0.7-1-0.9-2.3-2.8-5.5-1.4-0.2-2.2-5-1.1 0-2.3-4.8-1.4-0.2-4.5-10-0.7-0.9-1.1 0.3-10.4-21.4 0.6-2-9.3-18.6-1.3 0-1.9-4.3-1.1 0.3-1.8-4.4-1.1 0.4-3.1-6.7 2.4-5.3 5.2-8.4 7.3-14.6 11.1-28 5.4-10.7 3.1-4.8 4.5-4.9 3.8-2.4 4.7-0.7 4.6 1 5 2.7 16.6 13.8 5.1 3.7 7 4 7.3 3 11.4 2.7 15.3 1.2 0.8 3-0.1 3.7-0.6 1.3 0.5 1.7-0.5 0.3-0.2 2.4-0.8 1-0.2 3.6-0.5 0.4-1.6 9.3 1 2.7 6.9 8.1 12 4.4 2.6-0.8 1.5-1.1 4.5-4.8 6.8-9.2 12.5-20.6 1.1-0.6 1.5 4.9 0.3 4.7 0 18.3-0.4 4.7-4.4 7.4-0.7-0.8-0.7 0.2-3 5.2-0.2 3.3-19.2 30.3-0.1 3-1.2 1-0.2 2.4-1.1 0.6 0.1 2.4-1.1 1-0.2 2.3-1.2 1.3-0.2 2-1.8 1.7-0.1 3-2.9 2.3 0.1 3.2-4.7 6-3.3 6.6-1.7 2.1-1.3 3.6-1-1.4-3 7.5-1-0.9-0.3 0.9-0.7-0.3 0.1 1.4-1.4 2.6-1-1-2.6 6.4-10.1 15.9-1 0.6-1.1 2.5 0.1 2.9-1 0.6-0.7 2.1-1.6 1.6-0.7 2.1-1.7 1.6-0.6 2-1.7 1.6-0.7 2.1-7 10.4-1.8 3.3 0.2 2.6-10.7 17.2 0 1-1.7-1-0.5 2.6-0.8 0.3-0.3 2.4-1.7-0.6 0 1-0.8 0.2 0.1 1.1-0.6 0.1 0.1 1.1-0.8 0.3-0.3 2.5-1.7-0.7 0 1.1-0.8 0.2 0.1 1.1-0.8 0.2 0.2 1.2-0.8 0.1 0.1 1.3-1.7-0.7-0.3 2.5-0.8 0.3 0.2 1-0.7 0.2 0 1.3-0.7 0 0 1.4-1.7-1.2-0.3 2.6-0.8 0.3 0.1 1.2-0.7 0.2 0.1 1.1-1.7-0.7z"/>
<path fill="#1eff00" d="M489.2 1237.2l-10.2-7.5-2.6-3-1.6-3.8-0.6 0.1-1.7 2.8-4.1-22.7 9.4-12.8 23.4-27.8 3.7-5.8 0-1-5.1-10 0.8-1.3-1.9-2.7 0.6-1.6-0.8-1.7 0.1-2-0.8-1 0.8-1.3-1.2-1.7 0.4-1.3-1.3-2.7 0.7-1.3-1.6-3.7-0.8-1-1.1 0-2.2-4.3-1.1 0-2.2-4.7-0.7 0.3-0.8-0.6-4.2-9.4-1 0.3-2.7-5.8-0.3-0.4-1 0.4-2.9-6.1-0.4-0.5-0.7 0.4-0.8-1.3-3.6-7.3 0.2-2.3-3.5-6.4 0.5-2-7.7-15.3-0.4-0.6-1 0.4-1.7-3.8-1.3-0.2-1.3-3.1-1.1 0.3-3.7-8.3 11.5-22 11.1-28 5.4-10.7 3.1-4.8 4.5-4.9 3.8-2.4 4.7-0.7 4.6 1 5 2.7 16.6 13.8 9.4 6.4 10 4.3 16.5 3.6-0.2 0.7 1.2 2-0.2 3 0.6 3.3-0.4 0.3 0.6 3.4-0.7 1.6 0.4 1.4-0.6 2 0.1 4 14.1 16.1 12 4.4 2.6-0.8 1.5-1.1 4.5-4.8 6.8-9.2 12.5-20.6 1.1-0.6 1.5 4.9 0.3 19.3-10.4 18.4-6.4 9.5-0.7 3.9-11.7 18.4 0.1 2.5-1.2 1-1.1 5-1.1 0-0.2 3-1.1 0.3 0 2.7-1.4 0.7-0.2 3.6-2.1 1.3-0.2 3.4-3.9 4.3-0.6 4.5-1 0.7-3 5.6-1-1.5-3.6 8.2-1-1.4-0.7 1.1-2 5.3-1.3-1.5 0 1.4-1.1 1.6-0.6 2.6-1-0.5-1 1.8-0.7 0 0.2 1.1-1.2 2.6-1.6 1.6-7 11.8-1 0.6-1.2 2.4 0.2 3-1.7 1.6-2.3 4.7-2.4 2.6-0.6 2.1-7.7 11 0.3 3.2-3.6 6.1-2.4 2.7-3.6 6.8-0.7 0 0 1-3.7 6-0.6 0-0.7 2.5-0.7 0 0 1.3-1.6-1 0.1 1.1-0.5 1.4-0.8 0.3 0.2 1.1-0.7 0.1 0 1.3-1.7-1 0.2 1.1-0.8 0.3-0.3 2.7-0.7 0.1 0 1.4-0.8 0.2 0.1 1.1-1.7-1-0.5 2.6-0.8 0.3-0.3 2.4-1.7-0.6 0 1-0.8 0.2 0.1 1.1-0.7 0.2-0.5 2.7-0.8 0.2 0 1.4-1.6-1 0.1 1.1-0.5 1.4-0.8 0.2 0.2 1.1-0.8 0.3 0.1 1.1-1.7-0.7z"/>
<path fill="#77ff00" d="M486.8 1235.5l-9.5-7.4-3.5-7-1.6 2.7-3.8-20.7 9.4-12.8 23.4-27.8 8.5-13.1-6-11.7 0.1-2-1-2.3 0.7-1-1.3-2 0.6-1.3-1.3-2.7 0.1-2.3-1.5-2 0.2-2.7-0.5-0.6-1.1 0.3-1.9-4.6-1 0.8-2.3-4.8-1.1 0.2-8.2-17-1 0.1-1.4-3-1 0.8-2-4.5-1.1 0.3-5.5-11.3 0.4-1.7-3.9-7 0.6-2-6.4-12.7-1.1-1.6-0.6 0.4-2-3.7-1.1 0.3-1.9-4.9-1.1 0.5-3.6-7.6 8.1-16 11.1-28 5.4-10.7 3.1-4.8 4.5-4.9 3.8-2.4 5-0.7 4.3 1 5 2.7 16.6 13.8 9.4 6.4 10 4.3 8 1.9 0.9 3.4 1.6 2.6-0.4 0.7 1.1 4 1.1 9 7.6 6.3 11.5 13.5 12 4.4 2.6-0.8 1.5-1.1 4.5-4.8 6.8-9.2 12.5-20.6 1.1-0.6 1.5 4.9 0.3 14.7-0.8 2.1-1 1-0.7-0.9-2.7 4.3-5 8.8-0.2 3-3.4 4.5-1.3 2.8-10.1 15.7-0.6 3.3-2 3.8-1.1 0.9-0.9 3.7-0.8 0-0.7 5-1.3 0.6-0.9 5.1-1 0.8-0.7-0.2-0.2 3.3-0.8 0-0.4 1-0.2 3-0.7 0-0.3 1.1-0.7-0.1-1 1-0.2 4-4.1 4.9-4.7 9.6-1-1.8-2.7 6.4-1-1-0.3 1.2-0.7-0.3 0.1 1.4-1.4 3.1-1-1.2-1.3 4.3-1.4-1.3-2.5 6.4-8.5 12.2 0.2 2.8-1.2 2.6-1.6 1.6-5.4 9.1-2.3 2.7-0.7 1.9-2.3 2.8-0.3 4.2-11 16.6-4.4 7.6-0.6 0-0.7 2.2-1.3 1.9-0.7-0.1 0.1 1.6-0.4 1.4-0.8 0.2 0.1 1.1-1.7-1 0 1.4-0.6-0.1 0 1.4-0.7 0.2 0.1 1-0.8 0.3-0.3 2.5-1.7-0.7 0 1-0.8 0.3 0.2 1.1-0.8-0.1 0.1 1.6-0.7-0.1 0.2 1.5-0.8 0.2 0 1.3-1.7-1.3 0.1 1.4-0.8 0.3 0.2 1.1-0.5 1.4-0.8 0.2 0.1 1.1-1.6-0.6 0 1-0.8-0.1 0.1 1.6-0.7 0.1 0 1.4-0.6 0.1-0.4 2.5-2-1-0.3 2.6-0.8 0 0.2 1.7-0.9 0.3 0.2 1.1-1.7-0.7 0 1-0.8-0.1z"/>
<path fill="#c7ff00" d="M484.2 1233.6l-7.1-5.9-3.6-9-1.7 2.7-3.4-18.3 9.4-12.8 23.4-27.8 11.1-16.4 2-4-2.1-4.7-1.4 0.1-3-5.8 0.7-1.3-1.4-2 0.5-2-2.1-3.7 0.7-1.3-3.8-6.7-1.1-3.3-0.5-0.5-0.6 0.7-0.4-0.4-2.9-6.5-1.1 0.6-1.6-2.9 0.7-1.7-3.2-5.3 0.2-2.3-0.6-1.7-1.4-2.3-1.1 0.1-1.3-2.3-0.7 0.4-1.3-2.4-1 0.1-1-2.1-1 0.1-0.4-0.6-7.4-14.7 0.2-2.6-7.8-14.7-2.2-5.3-0.4-0.5-0.7 0.6-0.3-0.3-2-4.4-1 0.6-5.7-11.4 4.8-9.6 11.1-28 5.4-10.7 3.1-4.8 4.5-4.9 3.8-2.4 5-0.7 4.3 1 5 2.7 13.6 11.4 10.8 7.8 12.6 5.7 3.4 6.2-0.3 0.7 4.3 12.1 3.3 1.8 6 4.6 13.7 15.6 11.6 4.4 3-0.8 1.5-1.1 4.5-4.8 6.8-9.2 12.5-20.6 1.1-0.6 1.5 4.9 0.3 8.3-3.2 5.9-1-1-5.6 9.5-1.3 4.6-3.4 4.6-3.7 6.6-1 0.7-2.5 4.5-0.7 3.6-7.1 10.6-1.6 7.1-0.7-0.3-1 5.6-0.7-0.3 0 2.7-0.7 0.7-0.6-0.4 0 3-1.4 0.3-0.2 3.7-1.1 0.3-0.7 3.7-4 4-0.6 5.1-1 0.8-2 3.9-0.7-1.2-0.7 0.3-3.3 7.5-1-1.2-2.3 5.2-1-1.2-1.4 4.4-1.3-1.4-0.5 2.8-0.9 0 0.1 1.9-1-0.9-0.4 0.9-0.6-0.1 0.1 1.5-0.8 0 0 1.5-1 0.7-4.7 8.1-2.4 2.7 0.2 2.7-1.1 2.6-1.7 1.6-3 5.4-2.3 2.7-0.7 2-3 3.6-0.3 4.4-2.3 2.7-1.4 2.9-3 3.8-0.6 1.9-3 3.7-0.7 1.8-0.7 0 0 1-4.3 7-0.7 0 0 1-0.6 0 0 1-0.7 0 0.5 3.6-1.8 3.1-0.7 0-0.7 2-1.8-1.5 0.2 1.7-0.7 0 0 1.4-0.7-0.2 0.2 1.5-0.8 0.2 0 1.3-1.7-1.3 0.1 1.4-0.8 0 0.2 1.4-0.5 1.4-0.8-0.1 0.2 1.7-0.7 0 0 1.4-1.8-1.4 0.1 1.6-0.7 0.1 0 1.4-0.6-0.2 0.1 1.4-0.8 0.2 0 1.4-1.7-1.2-1 4.4-0.6-0.1 0 1.4-0.8 0.2 0.1 1.1-1.7-0.6 0 1-0.8 0.2 0.2 1.1-0.8-0.1 0.1 1.7-0.7 0-0.6 2.9-1.7-1.2 0 1.4-0.8 0.2-0.2 2.8-0.8 0.2 0.1 1.1-2-1 0 1.3-0.8 0.3z"/>
<path fill="#ecff00" d="M481.8 1231.5l-2.6-1.6-2.8-3.2-3.2-9.6-0.7-0.4-1 2.3-0.4-0.6-2.7-15.3 9.4-12.8 23.4-27.8 18-27.4-3-6-1.4-0.2-3.1-5.8 0.6-2-4.4-8.7-1.5 0.3-3.1-7.3-1.5 0.2-2.2-5.2-1.9-2.7 0.6-2-1.8-3 0.7-1.3-1-1.3 0.6-1.4-3.5-7.3-0.5-0.6-1 0.5-1-2.5-1 0.5-0.6-1.6-1 0.6-1.4-2.5-0.6 0.4-0.5-0.5-17.1-34.6-1.4 0.1-2.3-5.1-1.1 0-5.7-11 0.3-2.7 8.7-21.7 9-19.3 3.1-4.8 4.5-4.9 3.8-2.4 5-0.7 4.3 1 5 2.7 16.6 13.8 7.8 5.4 6 3.1 2.7 3.1 4 7 3.9 10.7 6.7 2.6 3.8 2.7 4.4 4 11.1 13.2 4 1.4 5.4 4.9 1.3 0.3 2.1-0.8 2.9-2.1 5.3-5.7 10.8-15.2 8.5-14.6 1.1-0.6 0.7 1.2 0.8 4.7-2.9 4.9-1-0.4-2.6 5-0.7 0.2-1 2.8-2.5 3.5 0.2 1.8-6.9 10.2-0.4 3-8.2 12.7-0.1 2.3-1.1 0.6 0 1-2.4 3.7-0.2 3.4-0.8 0.6-1.2 6-1.5 2.7-0.9 5-1.1 0.7-0.2 2.7-1.4 0.3 0.1 3.3-1.7 1.4-0.7-0.1-0.3 4.1-3 2.9-0.4 1.5-1.3 1.2-3.7 7.8-1-1.8-3 7.1-1-1.4-0.5 2.6-0.8 0 0 1.9-1-0.8-0.3 0.8-0.7-0.3 0.1 1.8-0.8 0 0.2 1.6-1.2-0.6-0.3 1.2-0.7-0.2 0 1.5-1.3-0.8-0.5 2.6-0.9 0.3 0.1 1.3-4 5.3-1.4 2.7-1 0.7-1.1 2.4 0.1 2.9-2.3 2.6-0.3 1.3-2.7 3-0.7 2.1-4.6 6.2 0 3.5-5.4 7.4-0.6 1.9-3.7 4.7-0.7 1.8-0.6-0.2 0 0.9-1.8 2.5 0.1 3.3-1.7 2.9-0.6-0.1 0 1.1-5 7.2-0.7 1.8-0.7-0.1 0 1-0.6 0 0 1-0.7 0 0 1-0.7 0 0 1-0.6 0 0 1.8-1.7-1.5 0 1.4-0.8 0.2 0.3 1.4-0.8-0.1 0 1.6-0.7-0.2-0.3 2.8-2-1.2 0.1 1.4-0.5 1.4-0.8 0.3 0.2 1.1-0.8-0.1 0.1 1.6-0.7 0 0 1.6-1.6-1.2 0 1.4-0.7-0.1 0 1.5-0.7 0.2 0.2 1-1 0.3 0.2 1.6-1.7-1.5 0 1.3-0.8-0.1 0.1 1.8-0.7-0.1-0.3 2.8-0.8-0.1 0.2 1.7-2-1.3-0.4 3-0.6-0.1-0.7 2.8-0.8-0.1 0.1 1.7-1.6-1-0.7 2.7-0.8-0.1 0.2 1.7-0.9 0.3 0.2 1.1-1.7-0.7 0 1-0.8-0.1z"/>
<path fill="#ffe000" d="M479.2 1229.5l-3.1-3.4-3.2-10.4-1.1-1.6-1 2.1-2.4-13.1 9.4-12.8 23.5-27.9 21.3-31.7 0.9-3.6-0.7-1.7 0.5-2-1.1-2-1.4 0.1-1.6-3.1-1.1 0-1.6-3.3-1 0.4-2-4.6-1.3 0-2.4-4.9-1.3 0.2-2.7-5.9-1 0.9-0.3-0.3-3.1-6.2 0.4-2.3-1.3-1.7 0.6-1.6-0.6-1 0.5-5.7-0.8-1.3 0.6-1.4-2.6-5.3-1.4 0.5-3-3.9-0.6 0.3-1.4-2.3-0.6 0.3-1.3-2.2-1.2 0-8.8-17.7-1.1-1.6-1.1 0.3-3-7-1.2 0.3-1.1-1.7-2.9-6.9-1 0.9-5.6-11.6-2.2-3.4 0.4-2.6 9.6-24 7-13.4 6.1-7.1 3.7-2.3 5-0.7 4.3 1 5 2.7 13.6 11.4 12.3 9 3.6 4.4 7 12.6 0.5 6.2 4.4-0.2 3.6 0.9 5.2 3.1 5.5 4.9 12 14 10 13.6 1.4 0.9 0.4 5.6-3 13-0.8 0.1 0.1 1.9-0.9 1.4-0.2 2.6-0.7-0.3-0.4 0.7-0.2 2.7-1.7 0.6-0.3 4-1.4 0.3-0.3 1.1-0.7-0.1-0.6 5.1-1 0.6-0.7 1.7-1.7 1.8-0.6 2.1-1-2.2-3.4 8-1.3-2.1 0.1 1.7-1.4 3.1-1.4-1.5 0.2 1.7-0.9 0 0.2 1.7-0.8 0 0 1.8-1.3-1.5 0.1 1.7-0.8 0 0 1.9-1.3-1.1-0.7 3.1-1.3-0.8-2 5.5-7.7 10.3 0.1 2.8-0.7 1.6-2.7 3.2-0.7 2.1-2 2.7-1 0.6-1.8 3.4 0.1 3-10.3 14.7 0 3.6-2.3 3.5-0.7 0-0.7 2.2-5 7-0.6 1.8-0.7 0 0 1-0.7 0 0 1-0.6 0 0 1-0.7 0 0 1-0.7-0.1 0 1.4-0.6 0 0 1.1-1.4 2.1-0.6-0.3 0.1 1.4-0.8-0.1 0.1 1.4-0.8 0.2 0 1.4-1.6-1.3 0.1 1.4-0.8 0.2-0.3 2.8-0.7 0 0 1.4-0.7-0.1 0 1.4-1.6-0.6 0 1-0.7-0.1-0.7 2.7-0.8-0.1 0.2 1.8-0.7-0.1 0 1.6-1.7-1.2 0 1.4-0.6-0.1 0 1.4-0.7 0 0 1.3-0.8 0.3 0.1 1.5-1.8-1.5 0.2 1.7-0.7 0-0.7 2.7-0.8-0.1 0.2 1.7-0.7 0 0 1.5-1.8-1.5 0.1 1.7-0.6 0-0.7 2.7-0.8-0.1 0.1 1.8-1.6-1.1 0 1.4-0.8-0.1 0.1 1.8-0.7-0.1 0 1.4-0.8 0.2 0.2 1.1-1.8-1.1 0.1 1.8-0.8 0.2 0.1 1.1-0.8-0.1z"/>
<path fill="#ffa200" d="M477.2 1225.5l-1.4-1-1.1-2.1-3.2-11-1 2.3-0.4-0.6-1.7-10 9.4-12.8 23.5-27.9 23.3-34.7 1.7-3 2.2-7.6-1.9-3.7-1.1-0.1-1-1.9-1 0.3-1-1.9-0.7 0.4-0.6-1-1 0.5-1-2-1 0.6-1-2-1.4-0.4-1-2.4-1.2 0.6-1.1-3.3-1 1.1-0.3-0.4-1.7-3.9-0.3-0.3-0.7 0.9-0.4-0.5-2.8-6.6-1.8-2.4 0.7-1.6-0.9-1 0.6-1.4-0.5-1 1.2-4.3-0.5-1 0.5-3.3-0.9-1.4 0.6-2-2.7-5.3-0.4-0.6-1 0.9-1-2.1-1 0.1-1.4-2.5-0.6 0.5-1.4-2.5-1 0.8-2.6-5.6-1 0.4-0.5-0.7-5.2-10.9-0.3-0.4-1.1 0.6-1.2-3.3-0.4-0.6-1 0.8-1.3-3.3-1.4 0.2-2.3-5.1-1 0.7-2.9-7.1-0.4-0.6-1.1 1-6-11.7 0.5-1.7-1.2-1.6 0.3-2.7 7-17.3 5.4-10.7 3.1-4.8 4.5-4.9 3.8-2.4 5-0.7 4.3 1 5.2 2.8 18.8 15.3 4.2 4 5.3 8.4 0.1 1.3 1.9 3 1 2.7 0.7 8.3 1.2 2.4 5.3-1.9 5.3 0.4 3.7 1.7 8.2 6.7 11.8 13.9 9.4 12.8 1.1 3.7-0.1 3.6-0.9 2.4 0.2 1.2-0.7-0.6-0.3 4.7-0.8 0.3-0.9 4.4-0.8 0.6-0.2 2.7-0.7-0.3-0.6 3.7-1.4 0.3-0.4 1-0.2 3.3-3 2.6-0.4 1.5-2 2.2-3.3 7.5-1-2.1-2.3 6.1-1-1.4-1 3-1.4-1.3 0.2 1.9-0.9 0 0.1 1.8-1.5-1.1 0.3 1.6-1 0.4 0.2 1.5-1.4-0.8-0.3 1.8-1.3-1.1 0.1 1.6-0.9 0.3 0.1 1.6-1.3-0.5-0.7 2.5-2.4 2.7-0.9 4.6-6.1 7.8 0.2 2.6-0.7 1.7-7.1 9.7 0 3.2-7.3 10.1-0.7 1.8-0.8 0.2-0.2 4.3-5.7 7.7-0.6 1.8-0.7 0 0 1-0.7 0 0 1-0.6 0 0 1-0.7-0.1 0 1.4-0.7 0 0 1-6 9.1-0.6 0-0.6 2.5-0.9 0.3-0.2 2.8-2-1.4 0.1 1.6-0.8 0 0.2 1.3-0.5 1.5-0.8-0.1 0.2 1.6-0.7 0.1 0 1.4-2-1.4-0.4 3-0.8 0.3-0.5 2.4-0.8-0.1 0.1 1.8-2-1.4 0.2 1.6-0.5 1.4-0.8 0.3 0.1 1.1-0.8-0.1 0.2 1.6-0.7 0.1 0 1.4-2-1.4 0.1 1.6-0.4 1.4-0.8 0.3 0.1 1.1-0.8-0.1 0.2 1.6-0.7 0.1 0 1.4-2-1 0 1.3-0.8 0.2-0.2 2.8-0.8 0.2 0.1 1.1-2.1-1.1 0.1 1.8-0.8 0.2 0.1 1.1-0.8-0.1-0.2 3.1-2.1-1.1 0.2 1.7-0.7 0.1z"/>
<path fill="#ff6600" d="M476.5 1223.2l-2.1-1.8-3.1-11.3-0.5-0.7-1 1.3-0.4-1-1-6.6 9.4-12.8 23.5-27.9 23.3-34.7 5.9-10.3 3-8.3-1-1.7 0.7-1.4-1 0.4-2.4-2-1 0.3-0.6-1.7-1 0.6-0.7-0.6-0.7 0.7-0.6-1.5-2 0.5-0.7-1.3-1 0.6-1-2.4-0.7 0.6-0.6-1.4-1 0.9-1-2.2-1.2 0.6-1.2-2.7-0.6 0.8-0.4-0.3-1.3-3.4-1 1.1-0.3-0.4-2.9-7.1-2.2-3 0.5-1.7-0.5-3 1.8-7.3-0.5-1 0.5-1.7-0.7-0.7 0.6-1.6-1-1.4 0.7-1.3-3.6-7-0.4-0.7-1 0.3-1-2-1.3 0.2-1.3-3.5-1.4 0.2-1.7-3.5-1.3 0.1-3.3-6.9-1.4-0.1-1.3-2.6-1 0.1-1.3-2.4-0.7 0.6-1.3-2.6-0.7 0.6-1.3-2.3-0.7 0.7-1.7-3.3-0.6 0.9-0.4-0.3-1.3-3.3-0.3-0.3-0.7 0.9-0.3-0.3-2.6-6.2-0.4-0.6-1.1 1-4.4-8 0.6-2.7-1.9-2.3 0.4-2-1.1-1.7 5-12.3 5.4-10.7 3.1-4.8 4.5-4.9 3.8-2.4 5-0.7 4.3 1 5.2 2.8 15.3 12.7 4.5 5.2 4.8 9.1-0.2 1 1.3 2.7 0.7 7 3.1 10.9 3.7-3 3.3-1.8 4.7-0.5 6.3 2.3 8.2 6.7 11.8 13.9 7.8 10.5 1.3 2.6 0 2.7-1.2 5-0.1 3.7-0.8-0.3-1 5.3-0.7-0.3-0.3 3.6-1.7 0-0.2 4-2.4 1.3-0.3 4.4-1.4 1.3-2.7 5-1-2.3-0.6 2.4-0.7-0.5 0.1 2.1-0.8-0.4 0.2 1.4-0.8 2.1-1.4-2.2 0.2 1.7-0.8 0 0.1 1.7-0.9 0.3 0.1 1.9-1.3-1.3-0.4 1.7-1.3-1.2 0.1 1.6-0.9 0.3 0.1 1.9-1.3-0.8-0.3 1.8-1.4-0.6 0 1.6-1.3-0.1-0.3 1.8-2.4-0.3 0 1.8-1.6-0.2 0.3 2.1-0.9 2-1.4 0.9 0.1 0.8-0.8 0.9-0.7 0.1 0.4 2.6-0.7 0-1 2.7-1.3 0.6 0 1-1.4 0.7-0.2 3.7-1.1 2-1.3 0.6-0.7 2-1.3 0.7 0 1-0.7-0.1-0.3 4.2-1 0.5-0.7 2.1-1.3 0.6-0.7 2-1.3 0.6-0.9 2.8 0.2 2.3-7.7 10.4 0.4 3.1-0.7 0 0 1.1-10 14.7-0.7-0.3 0 1.7-4 5.9-0.6 0 0.1 1.1-0.8 0.3 0 1.3-0.7 0.1-0.3 2.8-0.8 0.2 0.1 1.1-2-0.9 0.2 1.1-0.8 0.3 0 1.3-0.7 0.1-0.3 2.8-0.8 0.2 0.1 1.1-2-1.2 0.1 1.4-0.8 0.3 0 1.3-0.6 0-0.4 2.5-0.8-0.1 0.2 1.8-2-1-0.7 2.7-0.8 0.2 0.1 1.1-0.8 0.2 0.3 1.4-0.8 0 0 1.5-1.7-1.1-0.6 2.7-0.8-0.1 0.1 1.7-0.7 0 0 1.4-0.8 0.2 0.2 1.1-1.7-0.7 0 1.1-0.8 0.2 0.2 1.3-0.7 0.1 0 1.4-0.8 0.2 0.1 1.4-2-1 0 1.4-0.8 0.2 0.1 1.4-0.8 0.2-0.2 2.8-0.6 0 0 1.3-0.8 0.3z"/>
<path fill="#ff1e00" d="M541.2 1098.6l-3-0.3-0.7-1.3-3.3 0.3-0.4-0.6-4.6-0.2-0.7-1.8-1 0.6-0.7-0.6-0.6 0.6-0.7-0.6-0.7 0.6-0.6-1.8-2 0.8-0.7-1.5-1 0.8-1-2.8-1 1-1-2.1-0.7 0.8-1-2.3-1 1-0.3-0.3-1.3-3.6-1.4 0.3-1.5-3.5-1.9-2.4 0.9-2-1.1-1 0.6-5.3 1.9-7.7-0.4-0.6 0.4-1.7-0.4-0.3 0.6-3-0.4-1 0.7-1.4-0.7-1 0.7-1-0.7-1.3 0.7-1-1.6-3.3-1.7-3-1.4-0.2-0.7-1.9-1.3 0.2-1-2.1-1 0.1-1.3-2.6-1.4-0.1-0.6-1.8-1.4 0.2-1.3-2.7-1 0.1-1.3-2.4-0.7 0.7-1-1.9-1 0.6-1-1.8-0.7 0.4-1-1.8-1 0.1-0.6-1.7-1 0.8-1-2-0.7 0.6-1-1.7-0.7 0.7-1.3-2.9-1 1-1.3-3.1-0.4-0.3-0.6 1-0.5-0.5-2.9-6.9-0.3-0.4-1 1-1.8-3.4 0.6-2.3-3.2-5 0.4-1.7-0.8-1.3 0.5-1.7-0.5-1 1.4-3.7 6-12.3 3-4.7 4.4-4.8 4-2.6 5-0.7 7 2.4 8.5 6.1 8.2 7.5 4.7 9.1 0.8 3-0.3 3.7 3.2 9.3 0.7 7.4 1 2.3-0.4 1 1.9 5.3 4.4-5.1 6-4.3 5-0.6 3.6 0.9 5.2 3.1 5.7 5 11.8 13.9 7.4 10.5 0.3 5-0.9 2.3 0.2 1.4-0.7-0.7-0.2 4.3-0.9 1-0.2 2.7-0.7-0.4-0.4 0.7-0.2 2.7-2 0.6 0 3.7-3.4 3.6-4 8.2-1-1.8-1.6 4.8-1.4-1.7 0.2 1.9-0.9 0 0.1 1.9-1.4-0.8-0.3 1.8-1.3-0.9 0.1 1.7-1.8-0.1 0 1.8-3.3 0.2-2.4 1.7-1-0.1-0.6-1.1-2.4 0.9-0.6 2.3zM474.8 1218.2l-1.4-0.8-2.5-8.3-1.1-1.7-0.3 0.8-0.4-0.8-0.7-4.3 9.4-12.8 23.4-27.8 31.5-47.4 3.3-3.4 1.2-0.2 0.5 0.9-0.2 2.1-1.9 2.2 0.2 1.5-1.3 1.2-0.3 3.3-1 0.6 0 1-1.4 0.8 0 0.8-0.6 0 0.4 2.5-1.4 0.9 0 1-0.7 0 0.1 0.8-0.8 0.9-0.6 0 0 1-0.7 0-0.7 4.7-1.3 0.6 0.1 0.8-0.8 0.2 0 1-0.6 0 0 1-1.4 0.7 0 1-0.6 0 0.3 3-0.7-0.1 0 1.1-1.3 0.6 0.1 0.8-0.8 0.2 0 1-0.6 0-0.7 2.1-1.3 0.6 0 1-0.7 0 0 1-0.7 0 0 1-0.6 0 0.5 2.8-0.5 1.4-0.7 0 0 1-0.7 0 0 1-0.6 0 0 1-0.7 0 0 1-0.7 0 0 1-0.6 0 0 1-0.7 0 0 1-0.7 0 0 1-0.8 0.2 0.2 0.8-1.1-0.1-0.6 2.6-2.7 4-0.6 0 0 1.3-0.7 0 0.1 1.1-0.4 1.4-0.8 0.3 0.1 1.1-2-1 0.1 1.5-0.8 0.3 0.2 1.1-0.8 0.2 0.1 1.1-0.8 0.2-0.7 2.7-1.7-0.9 0.1 1.1-0.8 0.2 0.1 1.2-0.8 0.2 0.1 1.4-0.8 0.2 0.2 1-0.7 0.2 0 1.4-0.7 0 0 1.3-1.7-0.9-0.6 2.8-0.7 0-0.6 2.7-0.8 0.2 0.1 1.1-2.1-0.8 0.1 1.5-0.7 0 0 1.3-0.8 0.2-0.5 2.6-0.8 0.1 0.1 1.6-1.6-1.2 0 1.4-0.8 0.2 0.1 1.4-0.7 0 0 1.4-0.8 0.2 0.2 1.1-2.1-0.4-0.6 2.7-0.7 0 0 1.4-0.7 0.2-0.3 2.8-1-0.4z"/>
<path fill="#ff0000" d="M511.2 1028.9l-2.4-0.8-1.6 0.2-0.7-0.6-2 0.3-0.7-0.9-0.6 0.2-0.7-1.1-1 0.5-0.7-1.1-0.6 0.4-1-2-1 0.3-2-1.6-1 0.3-0.7-1-0.7 0.3-1-2.3-1 0.7-0.6-1.3-1 0.6-0.7-1.2-0.7 0.4-0.6-1-1 0.8-1-2.4-0.7 0.6-0.7-0.9-0.6 0.6-1.4-2.9-1 0.6-1.3-2.5-0.7 0.8-0.3-0.3-2.9-6.5-4.1-6.7 0.8-2-1.8-2 0.2-5.3 7.5-13.5 4.3-4.7 4-2.6 5-0.7 7 2.4 8.7 6.2 6.1 7.2-0.2 1 2.1 4.7 1 5.3-0.4 0.7 0.3 3 2.6 9-0.4 1 0.6 1.3-0.5 0.7 0.8 2-0.5 0.6 0.5 1.4-0.6 0.6 0.6 1.4-1.3 3.3-0.2 2.7-1.9 2-0.6 1.6zM533.8 1089.5l-2-1.1-1 0.2-0.3-0.6-1 0.3-1.7-0.6-0.6 0.6-0.7-0.6-0.7 0.6-0.6-2.1-2.4 1.1-0.6-1.8-1 0.8-0.7-1.3-0.7 0.6-0.3-0.4-0.7-2-1 1-1.3-3.2-1 1.2-0.4-0.5-2.8-7.6-1.9-1.7 0.6-1.7-0.5-0.6 4.6-19.7 4.2-7 7.8-16.3 3.2-4.7 4.9-4.4 3-1.7 5-0.6 6.3 2.3 8.2 6.7 15.6 18.7 2 3.3 0.4 4-0.9 5.7-0.7 0.3-0.3 2.3-0.6-0.6-0.3 3.3-1.2 0.7-0.2 3-2 1.3-0.3 1.2-2.7 3-2 5.1-0.7-0.3 0.2 1.7-0.8 1.6-1.4-1.4-1 3.4-1.3-1.2 0 1.8-1.3-0.4-0.4 1.8-1.3-0.3 0 1.9-3 0.4-0.3-0.6-1.7-0.1-5.3 2.7-1-1.3-5.7 3.2-1-0.8-1.7 1.2-1.6-1.2zM473.2 1211.8l-1.5-0.7-1.8-5-1.2-0.7-0.3-2.3 9.4-12.8 23.4-27.8 13.2-20.1 3.9-5.3 1.9-1.3 0.7 1.9-2 2 0.3 1.7-0.7 0.3 0 0.8-1.4 0.9 0.5 2.3-1.5 1-0.6 2.3-0.7 0 0 1-0.6 0 0 1-0.7 0 0 1-0.7 0 0 1-0.6 0 0 1-0.7 0 0 0.9-0.8 0.2 0.5 2.5-0.7 0 0 1-0.7 0-0.6 2-0.8 0.1 0.1 0.8-0.8 0.2 0.1 0.8-0.7 0.2-0.6 1.8-1 0.1 0.1 0.8-0.8 0.3 0.2 1-0.8 0.3 0 1-0.7 0 0 1-0.7-0.2 0.2 1.3-0.8 0.2 0 1-0.7 0.1-0.7 2.6-0.8 0.1 0.2 1.2-1.7-0.6-0.7 2.6-0.8 0.1 0.3 1-0.9 0.3 0.1 1-0.8 0.4 0.1 1.1-0.7 0.2 0.1 1.1-0.8 0.2 0.1 1.2-2-0.7 0.1 1.2-0.8 0.2 0 1-0.7 0.1 0.2 1-0.8 0.4-0.5 2.3-1 0.3 0.2 1.3-1.9-0.6 0.2 1.1-0.9 0.2 0.3 1-1 0.4 0.3 1.1-0.9 0.2 0.2 1.3-0.8 0.4 0.1 1.1-2.1-0.5 0.2 1-0.8 0.4 0.1 1.1-0.8 0.2 0.1 1.1-0.8 0.2 0.1 1.2-0.7 0.2 0.1 1.1-2.1-0.5 0.2 1.4-0.9 0.3 0.2 1-0.9 0.3 0.3 1-1 0.4 0.2 1.2-1.8-0.2 0.1 1-0.8 0.3 0.1 1.1-0.7 0.2z"/>
<path fill="#ff0000" d="M506.8 1014.2l-1-0.6-1.3 0.7-3.7-0.3-0.6-0.6-0.7 0.3-0.7-1.3-3.3 0.3-0.7-1.3-2 0.3-0.6-1.3-1 0.6-0.7-1.6-1 0.6-0.7-1.2-0.6 0.4-0.7-1.4-1 0.9-0.7-1.2-1 0-0.6-1.7-1 0.9-1.7-3.6-1 0.6-3.4-6 0.5-2.6-2.6-3.7 0.6-1.3-0.9-1.7 0.7-5.7 5.6-8.3 2.7-2.7 3.8-2.4 3.3-0.7 3.7 0.4 7.3 3.3 6.4 5.6 2.7 5.2-0.2 1 1.2 2.6-0.4 1 0.7 2-0.4 0.7 0.3 2.3 1.4 5.4-0.9 5.3 0.6 2-0.5 0.3 0 1.4-1.1 1 0.1 1.3-1.9 2-0.4 1.7zM534.8 1082.2l-1-1.1-0.6 0.5-0.7-0.8-0.7 0.5-0.6-1.2-0.7 0.5-0.7-0.6-0.6 0.6-0.4-0.9-1 0.6-1.6-0.6-0.7 0.8-0.7-2.1-2.3 1.4-1-3-1 1-1-2.5-1 1.3-1.3-3.2-0.7 1.2-0.3-0.4-1.9-4.5-1.6-1.6 0.9-2-1.2-1 1.7-8 2.6-8.4 10.4-21.6 3.2-4.7 4.9-4.4 3-1.7 5-0.6 6.3 2.3 8.2 6.7 14.9 18 1.3 2.7 0 4-0.9 2.3 0.2 1.4-0.8 0.6-0.2 2.4-0.7 0-0.3 3.3-0.7 0-1.7 2-0.6 4.5-1 0.7-1 2.2-1-1.5-0.4 1-0.6-0.3 0.1 1.4-0.8 0 0 1.9-1.3-1.1-1 3.1-1.4-0.6 0 1.9-2.6 0-1.7 1.6-1-0.5-6.3 2.3-4 2.3-0.7-1.5-4.7 2.8-0.6-0.6-1.4 1-0.6-1.3zM470.8 1205.1l-1.3 0-1-1.7 1.2-2.3 17-21.4 2.1-0.9 0.3 0.6-1 0.3 0.1 1-1.4 1.4 0.1 1-1.4 1.3 0 1-1.4 1.3 0.1 1-0.9 0.4-0.6 2-0.9 0.3 0.1 1-1.4 1.3 0 1.3-1.9 0.1 0.1 1-0.8 0.3 0.2 1-0.8 0.3 0 0.7-0.8 0.3 0 1.3-1.7 0.1 0.1 1-1 0.3-0.5 2.3-0.8 0.4 0.1 1-1.5 0.2z"/>
<path fill="#ff0000" d="M496.8 1001.5l-2-0.8-3 0.3-1-1.5-2 0.5-0.6-1.2-1 0.1-0.7-1.7-1 0.8-2.6-5.9-3.7-6 0.6-1.4-1.1-1.6 0.6-1.4-0.4-2.6 0.8-2.7 4-4.7 4.8-2.7 4-0.4 3.3 0.7 5.5 3.1 3.6 4.3 0.5 3 1.8 3.7-0.4 0.7 1.1 6.3-0.5 0.7-0.1 3.3-1 0.7 0.2 1.3-1.3 2-1.6 0.3-0.1 0.7zM533.5 1074.5l-1-0.7-0.7 0.5-0.3-0.9-1 0.6-0.3-1-1 0.6-0.7-0.6-0.7 0.6-0.6-0.6-0.7 0.6-0.7-2.2-2 1.4-1.3-2.9-0.7 0.9-1-2.5-1 1.3-1.3-3-1 1.3-2.4-4.2 0.8-2.3-1.1-1 0.5-1.7-0.5-0.6 1.6-7.7 2.7-6.7 6.6-14.3 3.4-5.3 7.1-6.8 2.3-1.1 5.7-0.3 5.3 2.1 3.8 2.7 4.4 4 7.8 8.9 5.8 8.1 0.7 2-0.1 5-0.8 0.7-0.2 2-0.8 0.3-0.2 2.7-1.4 0.9-2.7 4.7-0.6 0-0.6 2.4-0.9 0.3 0.1 1.6-1.3-0.8-0.3 1.5-5.7 0.7 0 1.8-4.3 0.5-0.4 2.1-5.6 2.4-1 0.1-0.7-1.5-4.3 3.1-0.7-1.4-1.7 1.2-0.6-1.3-1.7 1.6-0.7-1.2z"/>
<path fill="#e80000" d="M495.8 988.5l-3.6-0.2-0.7-0.8-0.7 0.2-0.6-1.3-1.4 0.1-4-7.4 0.7-1-1-1.7 0.9-3 1-1.7 2.1-1.4 4-0.7 2.7 0.7 1 1.6 1.3 0.7 1.8 3.1 0 2 1.1 2.4-0.5 0.6 0.6 1.7-0.5 0.3 0.2 1-1.7 3.7-1.7 0.2zM534.8 1067.8l-1-1-0.6 0.5-0.4-0.9-1 0.6-0.6-1-0.7 0.6-0.3-0.9-1 0.6-0.7-0.6-0.7 0.8-0.6-0.8-0.7 0.8-0.6-1.8-1.1 0.8-0.6-1.7-1 1-1.4-3.8-1 1.5-1.9-4.8-1.8-2 0-4.6 1-4.7 4.6-11 6.5-11.5 7-6.6 2-1 5-0.6 6.3 2.3 8.2 6.7 9.2 10.7 1.7 3.3 0.6 4.7-0.7 3.1-0.7 0.2-0.2 2.7-1.1 1.9-0.7 0 0 1-0.7 0.1 0.1 1.2-2 0-1.7 0.8 0.1 1.3-1.4 0.1-0.4 1.5-2.3-0.3 0 2-2.7-0.3 0 2.1-4.6 0.5 0 2.5-1.7 0.2-4 2-1-1.7-3.3 2.3-0.7-1.5-2.3 2.4-1-1.1z"/>
<path fill="#ca0000" d="M534.8 1060.2l-1-1.1-0.6 0.5-0.4-0.9-1 0.6-0.3-0.9-1 0.6-0.7-0.6-0.6 0.6-0.7-0.6-0.7 0.8-0.6-2-1 1-0.7-1.7-1 1-1.3-3.5-1 1.6-0.4-0.4-1.2-3.1-1.2-1.4 0.7-2.3-1-0.7 0.6-4 3.4-9 4-7.6 3.2-4.7 4.7-4.3 3.2-1.8 6.3-0.3 5 2 3.8 2.7 9.7 10 2.9 5-0.3 4.4-0.9 0.6 0.1 2-1.3 0.6 0 1-0.8 0.1 0.3 1-0.8 0.2 0 1-1.4-0.4-1 3.1-1.3-0.5-0.3 1.5-1.4-0.3-0.3 2-2.3-0.3 0 2.1-3.7 0.2 0 2.1-6.7 2.8-1-1.8-3.3 2.8-1-1.4-1.7 1.1-0.6-1.1z"/>
<path fill="#ad0000" d="M538.5 1052.8l-1-1.3-1.7 1.5-0.3-1-1 0.3-0.7-0.9-0.6 0.6-0.4-1-1 0.6-0.6-0.6-0.7 0.6-0.7-0.6-0.6 0.8-0.7-2-1 1-1-2.8-1 1.2-2.6-5.1-1.4-1 0.5-1.7-0.6-1 2-6.3 3.7-7 3.2-4.7 5.9-5.1 2-1 5-0.6 6.3 2.3 8.2 6.7 4.6 6 0 5-1.5 1.6-0.6 0-0.7 2-0.7-0.1 0.2 1.2-1 0.3 0.2 1.6-1.4-0.5-0.3 1.5-1.3-0.1-0.4 1.4-1.4 0.1-0.2 1.9-3.4 0.1-0.3 2.1-2.7 0.5-4 2.2-1.3-1.6z"/>
<path fill="#8e0000" d="M536.2 1045.2l-1-1.1-0.7 0.5-0.3-0.9-1 0.6-0.7-0.6-0.7 0.6-0.6-2.1-1 1-0.7-1.7-1 1.1-0.3-0.4-2.3-5.1-1.4-1.4 1.6-6.6 4.2-6.7 5.9-5.1 2-1 3.6-0.6 5 0.9 6.5 4.1 4.3 4 1 2 0.3 3.4-1.2 1.3 0.3 1.7-0.8 0.2 0 1-1.7-0.8 0.1 1.2-0.9 0.4 0.1 1.2-1.7-0.2 0.1 1.5-1.7-0.2 0 2.1-2.7-0.2 0 2.5-3.3 0.5-3.7 2-0.6-1.8-2.7 2.3-1-1.2z"/>
<path fill="#6f0000" d="M537.2 1036.5l-1-1-0.7 0.5-0.7-0.6-0.6 0.6-0.7-1.8-1 0.8-0.7-1.5-1 0.8-3-4.9 1.3-5 1.6-2.3 5.5-4.8 2-1 3.6-0.6 5 0.9 5.4 3.3 2.3 4.5-1 2.9-0.7 0 0 1-0.7 0.1 0.1 1.2-1.7-0.2 0 1.6-1.7 0-0.3 1.8-4.3 0.5-4.7 3-1-1.3z"/>
<path fill="none" stroke="#222" stroke-opacity="0.6" stroke-width="0.7" d="M504.8 1245.5l10.9-15.2 38.1-66.7 15.5-24.1 7.4-13.7 7.8-16.6 27.2-47.1M422.2 1078.4l19.8 31 6.4 20.7 13.1 24.4 13 30.8 1.7 6.2M472.3 1229.3l-0.6 1.3M497.0 1242.5l16.4-22.7 39-68 16.1-24.1 7.3-13.8 7.8-17.7 27.9-47.9M436.4 1061.9l15.6 23.3 3.7 7.3 4.9 12.6 6.6 14.1 12.2 20.1 2.7 7 4.5 15.2 4.6 12M475.9 1227.3l-2.5 4.1M596.3 1026.0l0.3-2.8M490.7 1238.5l20.8-28.6 39.9-69.6 10.4-14.3 6.3-9.8 7.9-15.3 7.2-17.5 28.4-48.7M445.4 1047.1l3 5.6 10.1 14.7 9.7 23.1 7.1 12.8 6 10.2 10.6 15.3 1.7 4.8 2.7 14.2 5.1 12.7M474.7 1223.8l-2 3.1M560.1 1026.5l2.6-18.7-0.3-7M484.7 1233.9l24.9-34.1 40.9-71.3 10.9-14.2 6.5-9.8 8-15.7 6.8-18.9 29.1-49.6M453.9 1031.9l3.4 7.4 9.1 13 12.5 29 2.6 3.6 6.9 8 6.4 13.8 7 9.6 2.6 7.4 2.7 11.7 5 9.4M473.2 1219.2l-1.4 2.3M580.7 1042.5l-2.9-0.9M547.3 1016.2l-3.3-12.4-3-6.1M478.5 1228.9l29.2-39.7 41.7-73.3 11.6-13.7 7.9-11.9 5.8-11.7 4.2-11.6 1.9-9.1 0-4.1-0.6-1.1M538.7 1015.6l-0.7-5.5-1.7-3.9-6.1-10.2-4.2-4.7M460.9 1016.7l1.5 5.2 2.3 4.8 16 24.5 6.9 13.3 2.3 3.2 6.8 6.1 2.5 3.1 1.5 4.3 0.4 9.6 1.7 5.6 9.1 13.4 10.6 13 0.9 2.6 0 3M471.6 1214.1l-0.9 1.5M474.5 1220.3l31-42.6 12.9-22.3 14.6-26.7 8.2-15.7 5.8-12.9 3.8-1.5 6.2-5.4 5.6-6.5 5.1-7.4 4.4-8.3 3.6-9.2 1.8-7.8 0.1-2.9-0.5-1.9M529.8 1022.1l-6.5-26.5-3.6-7-4.3-4.8M467.3 1001.2l0.7 4.9 1.7 4.5 3 6.1 3.4 5.3 4.8 5.4 10.7 9.3 15.8 19.1 1.2 4.4 0.4 6.2-1.6 13.5 1 3.9 1.9 3.6 4.1 4.8 4.8 3.9 5.4 2.8 8.2 2.6 2.4 2 0.5 2.8-1 3.4-8 14.8M470.6 1207.8l16-22.3 10.4-16.2-0.9-0.4-5.6 6.5-12.7 15.6-9.2 12.5M497.1 1168.2l-0.9 0.6 1.1-0.2-0.2-0.4M515.4 1052.5l-0.5 1.9M514.2 1057.4l-1.4 6.4 0 4.3 1.5 3.9 3.1 3.9 4.4 3.4 5.5 2.2 7.1 0.9 6.8-0.7 12.7-4.7 1.5 0.4 1.9-0.6 2.5-1.8 3.7-4 5.6-8.7 3.9-9.2 1.1-7-2-3.6M474.6 984.6l-0.1 5.3 1.2 4.8 3 6.9 3.2 4.8 5.1 3.7 7.5 3.4 9.5 3 4.5 0.1 2.6-1.5 1.7-3 1.3-6.1 0-6-2.6-15.8-2.8-5.5-3.2-3.3M520.3 1041.7l-1.9 5.8-0.5 4.7 0.6 3.5 2.2 3.7 3.7 3 4.3 1.9 5.3 0.7 5.8-0.5 6.3-1.7 6.7-3.2 5.2-3.6 7.2-6.4 1.7-3.4 1.1-6-0.7-3.5-2.2-2.8M491.4 970.9l-2 0.5-1.5 1.5-0.7 2.8 0.4 2.9 1.3 2.9 1.8 2 2.4 1.1 2.2-0.1 1.6-1.3 0.6-1.1-0.2-5.2-0.9-2.4-1.6-2-3.4-1.6M526.5 1028.8l-1.8 3.7-0.8 3.4 0.3 3.7 1.3 2.6 2.1 2.2 3.3 1.8 3.8 0.7 3.9-0.1 4.4-0.9 5-2.1 4.6-2.9 4.1-3.8 2.1-3 1.1-3.5-0.6-3.6-2.2-2.2"/>
<path d="M399.7 1095.8L478.4 1266.7L666.6 1180.9" stroke="#444" stroke-width="1" fill="none"/>
<path d="M478.4 1266.7L474.9 1268.3M472.1 1252.9L470.0 1253.8M465.7 1239.1L462.2 1240.7M459.4 1225.4L457.3 1226.3M453.0 1211.6L449.5 1213.1M446.7 1197.8L444.6 1198.7M440.3 1184.0L436.8 1185.6M434.0 1170.2L431.9 1171.1M427.6 1156.4L424.1 1158.0M421.3 1142.7L419.2 1143.6M414.9 1128.9L411.4 1130.5M408.6 1115.1L406.5 1116.0M402.2 1101.3L398.7 1102.9M478.4 1266.7L480.0 1270.2M499.0 1257.3L499.9 1259.3M519.5 1248.0L521.1 1251.4M540.1 1238.6L541.0 1240.6M560.6 1229.2L562.2 1232.7M581.2 1219.9L582.1 1221.9M601.7 1210.5L603.3 1214.0M622.2 1201.2L623.2 1203.2M642.8 1191.8L644.4 1195.3M663.4 1182.4L664.3 1184.4" stroke="#444" stroke-width="1" fill="none"/>
<text transform="translate(472.9 1269.2) rotate(-24)" font-size="12.8" text-anchor="end" fill="#222" dy="0.36em">11550</text>
<text transform="translate(460.2 1241.6) rotate(-24)" font-size="12.8" text-anchor="end" fill="#222" dy="0.36em">11555</text>
<text transform="translate(447.5 1214.1) rotate(-24)" font-size="12.8" text-anchor="end" fill="#222" dy="0.36em">11560</text>
<text transform="translate(434.8 1186.5) rotate(-24)" font-size="12.8" text-anchor="end" fill="#222" dy="0.36em">11565</text>
<text transform="translate(422.1 1158.9) rotate(-24)" font-size="12.8" text-anchor="end" fill="#222" dy="0.36em">11570</text>
<text transform="translate(409.4 1131.4) rotate(-24)" font-size="12.8" text-anchor="end" fill="#222" dy="0.36em">11575</text>
<text transform="translate(396.7 1103.8) rotate(-24)" font-size="12.8" text-anchor="end" fill="#222" dy="0.36em">11580</text>
<text transform="translate(480.9 1272.1) rotate(63)" font-size="12.8" fill="#222" dy="0.36em">11550</text>
<text transform="translate(522.0 1253.4) rotate(63)" font-size="12.8" fill="#222" dy="0.36em">11555</text>
<text transform="translate(563.1 1234.7) rotate(63)" font-size="12.8" fill="#222" dy="0.36em">11560</text>
<text transform="translate(604.2 1216.0) rotate(63)" font-size="12.8" fill="#222" dy="0.36em">11565</text>
<text transform="translate(645.3 1197.2) rotate(63)" font-size="12.8" fill="#222" dy="0.36em">11570</text>
<text transform="translate(366.1 1150.4) rotate(66.3)" font-size="12.2" fill="#222">Incident Energy (eV)</text>
<text transform="translate(535.1 1304.4) rotate(-25.2)" font-size="13.5" fill="#222">Emmission Energy (eV)</text>
<linearGradient id="g3_3" x1="0" y1="0" x2="0" y2="1"><stop offset="0.000" stop-color="#580000"/><stop offset="0.093" stop-color="#960000"/><stop offset="0.200" stop-color="#f00000"/><stop offset="0.340" stop-color="#ff0000"/><stop offset="0.370" stop-color="#ff4000"/><stop offset="0.425" stop-color="#ff9600"/><stop offset="0.500" stop-color="#ffff00"/><stop offset="0.570" stop-color="#beff00"/><stop offset="0.660" stop-color="#00f000"/><stop offset="0.700" stop-color="#00ffaa"/><stop offset="0.730" stop-color="#00ffff"/><stop offset="0.790" stop-color="#008cff"/><stop offset="0.847" stop-color="#0000ff"/><stop offset="0.900" stop-color="#6400ff"/><stop offset="1.000" stop-color="#820096"/></linearGradient>
<rect x="633.9" y="997.3" width="17.0" height="154.0" fill="url(#g3_3)" stroke="#222" stroke-width="1"/>
<path d="M650.9 1151.3h4M650.9 1120.5h4M650.9 1089.7h4M650.9 1058.9h4M650.9 1028.1h4M650.9 997.3h4" stroke="#444" stroke-width="1"/>
<text x="660.4" y="1156.5" font-size="14.3" fill="#222">0.0</text>
<text x="660.4" y="1125.7" font-size="14.3" fill="#222">0.2</text>
<text x="660.4" y="1094.9" font-size="14.3" fill="#222">0.4</text>
<text x="660.4" y="1064.1" font-size="14.3" fill="#222">0.6</text>
<text x="660.4" y="1033.3" font-size="14.3" fill="#222">0.8</text>
<text x="660.4" y="1002.5" font-size="14.3" fill="#222">1.0</text>
<path fill="#6c0a6c" d="M513.5 1573.4l-8.3-0.3-8-3.4-9-7.2-12.7-12.9-5.3 8.5-0.7 0.5-0.8-0.6-19.3-41-43.3-96.4 10.7-8.1 10-10.1 10.8-14.8 8.1-14.6 20.1-29.8 9.6-10.9 7.1-5.1 8.3-2.7 9 0.3 9.4 2.7 27 9.9 14.6 4.3 10.4 1.8 9.3 0 10.3-2.2 4 4 16.1-22.3 9.2-15.7 2.1-2 0.8 3.3 0 16-3 49.4 0 21 1.4 10 4.3 9 52.5 90.3-143.7 65.4z"/>
<path fill="#8006b4" d="M510.8 1573.3l-5.6-0.2-9-4-8-6.6-12.7-12.9-5.3 8.5-0.7 0.5-0.8-0.6-10.8-22.7 1-2.7-0.7-2 0.4-1-1.3-2.3 0.3-2-2.4-5.3 0.4-1.4-2.9-6 0.5-1.3-2.5-5-0.5-1.7 0.7-1-3.3-7 0.3-1.3-1.5-3-0.1-3-12.9-27.7 0.2-2.3-2.2-4.3-0.8-4.4-7.7-16.6-1.5-0.7 0.2-2.3-6.5-13.7-0.3-3 9.9-9.3 8.2-10.4 15.8-26.3 19.1-27.8 7.6-8.2 7.1-5.1 8.3-2.7 9 0.3 9.4 2.7 27 9.9 14.6 4.3 10.4 1.8 9.3 0 10.3-2.2 4 4 16.1-22.3 9.2-15.7 2.1-2 0.8 3.3 0 16-3 49 0 21.4 0.5 4.5-15.3 25.6-0.8 1.9 0.1 1.5-4 6-0.3 1.3-0.7 0.2 0 1-13.3 21.8-2.5 4.5-0.5 2.7-6.4 10.8-0.7 0.2-0.3 1.8-3.6 6-0.7 0.2-0.3 1.6-3.7 6.2-0.7 0.2-3 6.1-0.7 0.2-1.9 4.3-1.7 2.2-0.3 2.7-1.7 1.8-0.3 1.7-2.2 3-0.5 1.6-3.3 5.5-0.7 0.2-0.3 1.7-1.7 2.8-0.7 0.2-3.6 7.3-1.4 1-0.3 1.8-1.2 1.2-0.4 1.7-1.4 1-0.3 1.8-1.3 1.2-2.1 4.4-0.7 0.2-2.6 5.7-1.4 1-0.9 2.8-2.3 3.2 0.3 1.7-1.7 3-1.6 0.3-0.4 1.7-1.4 1.3-0.2 2-1.6 0.3z"/>
<path fill="#5800ff" d="M506.2 1573l-5.7-1.6-4.5-2.4-7.8-6.5-12.7-12.9-5.3 8.5-0.7 0.5-0.8-0.6-0.5-1.7 1-2.7-1.2-7.6-5.9-30.7 1.7-3.3 2.8-3.4 0.3-2-3.5-7.3 0.5-1.3-3.3-7 0.6-1-3.1-6.4-0.5-1.6 0.6-0.7-0.9-2.3-5.7-12-1.5-0.7-6-13 0.5-1.3-4.5-9.4 0.2-2-4.6-9.3-0.1-3-1.7-3.3-1.1-0.2-0.7-1.2-1.5-3.6-1.1 0-2.2-5.4-1.6-0.6-3-7 10.2-12.4 6.7-10.3 6.1-11.3 20.1-29.8 9.6-10.9 7.1-5.1 8.3-2.7 9 0.3 9.4 2.7 27 9.9 14.6 4.3 10.4 1.8 9.3 0 10.3-2.2 4 4 16.1-22.3 9.2-15.7 2.1-2 0.8 3.3 0 16-2.7 40.7-0.4 29.3-28.4 47.4 0 2.1-11 18.8-2 2.5 0 2.1-2 3.7-1 1.6-0.7 0 0 1.1-1-0.5-2 5.8-1 1.6-0.6 0 0.1 0.8-2.1 3.6-0.7 0 0 1.1-1 0.7-2 4.5-0.7 0-1 2.7-1.7 1.8-1.9 4.5-0.7 0-1 2.6-0.7 0.1 0 1.1-1 0.7-2.6 5.5-0.7 0 0 1.1-1.7 1.6-0.2 1.8-0.8 0.2-0.8 2.1-0.5 2.8-0.7 0.1 0 1.1-1.7 1.7-0.3 1.8-0.6 0 0 1.1-0.7-0.1-0.3 1.6-1.4 1.2-0.3 1.9-1.4 0.8-0.3 1.8-1.3 1.2-0.3 1.9-1.4 0.8-0.3 1.8-0.7 0.2-1.6 3.5-1.4 1.1-0.3 1.8-1.4 1.2-0.3 1.8-0.6 0.1 0 1-0.7 0-1 2.6-1.4 1.2-0.3 1.8-0.7 0.2-0.6 1.8-0.7 0.1-0.3 2-1.4 0.8-0.3 2.1-1.3 1.2-0.7 2.1-1.3-0.1 0.1 1-0.8 0.3-1 3.2-1.7-0.2 0.2 1-0.5 1.2-0.7 0.2z"/>
<path fill="#0d00ff" d="M502.5 1571.8l-5.3-2.1-4.2-3.1-4.8-4.1-12.7-12.9-5.2 8.4-0.6 0-2-14-2-8-3.6-21 1.7-3 9.8-12.4 0.3-2-4.5-9 0.2-2-3.9-7.6 0.6-1.7-0.7-1.7-8-17-1.9-1-1.5-4 0.1-2-7.6-15.3-0.1-3-4.8-9.7 0.5-1.6-2.8-5.7-1 0.1-1.3-2.9-0.7-0.8-0.7 0.2-2.3-4.9-1.4-0.7-3.3-7.3 8.8-12.4 11.1-19.3 17.1-25.1 9.6-10.9 7.1-5.1 8.3-2.7 9.4 0.4 44.6 15.2 13.4 3 11.6 0.4 6.7 4.6 4.7 0.6 2.3-1.3 10.1-13.8 8.7-12.6 7.8-13.7 2.1-2 0.8 3.3 0 16-2.7 40.7-0.4 22.3-14.1 23.1 0.2 2.3-0.7 1.3-18.3 30-0.4 2.7-1.7 3-6.6 10-3.5 6.5-0.6 0-0.6 2.1-4.6 7.4 0.3 1.6-2.8 5-1 1.6-0.7 0 0.2 0.8-2 3.3-0.8 0.2-0.7 2.3-1 0.4 0.1 0.8-2.1 3.9-0.7 0-1 2.6-0.6 0-1 2.7-0.7 0-0.3 2-1 0.8-0.7 1.9-0.7 0-1 2.6-0.6 0-0.7 2.3-1 0.4-1 3-1.1 1.1-0.9 4.2-0.7 0 0.2 0.8-1.2 1.9-0.6 0-1 3-1 0.8-0.7 1.9-0.7 0 0 1-0.6 0-1 2.6-0.7 0-0.2 1.8-0.8 0.2 0 1-0.7 0-0.6 2.3-1 0.4 0 1-0.7 0-0.3 2-0.7 0 0.1 0.8-0.8 0.2-1 2.6-0.6 0 0 1.1-0.7 0-0.2 1.7-0.8 0.3 0 1-0.7 0 0 1-0.6 0-0.4 2-0.6 0 0.1 0.7-0.8 0.3 0 1-0.7-0.1-1 2.7-0.6 0 0 1-0.7 0.1 0.1 1-0.4 1.3-0.7 0.1 0 1.2-0.7 0.1 0 0.8-1.3-0.1 0.1 1-0.8 0.2 0 1-0.7 0.1-0.3 2.2-1.7-0.2 0.2 1-0.8 0.2-0.3 2.4-0.7 0 0 1-0.7 0.1 0 1.2-1.3-0.1z"/>
<path fill="#004dff" d="M499.5 1570.4l-3.3-1.3-8-6.6-12.7-12.9-5.7 8-7.7-42.6 1.7-3 8.4-10.8 6.4-7.2-0.3-4.7-5.8-11.3 0.4-1.7-5.5-11 0.4-1.7-0.9-2.3-1.7-3.3-0.7 0.2-0.8-0.6-11.2-23.6 0.8-1.4-3.6-6.6-0.4-3.7-6.8-14-1.3-0.2-2.3-5.1-1.1-0.3-0.7-1.1-3.6-7.6 0.2-0.7 5.9-9 6.1-11.3 20.1-29.8 9.6-10.9 7.8-5.4 7.6-2.4 9.4 0.4 9 2.6 27 9.9 14.6 4.3 8.7 1.5 2.3 2 3.7 4.9 1.3 0.7 1 2 3 2.9 1.7 1.4 3 1 2-2 4.6-7.1 11.5-15.4 8.7-12.6 7.8-13.7 2.1-2 0.8 3.3 0 16-2.7 40.7-0.4 18.3-27.1 44.2-1 4.6-9.3 15.3-2.3 2.8 0.1 2.5-6.8 10.7-1.7 3.7-10.6 16.6-1.7 3.5-0.7 0-0.8 2.5-0.8 0.2 0.3 3-0.7 0-1 2.7-0.6 0-1 2.6-0.7 0-0.8 2.5-0.9 0.2-0.3 2-0.7 0-1 2.7-0.6 0 0 1-0.7 0 0 1.2-1 0.4 0 1-0.7 0-1 3.1-1 0.8-0.6 1.8-0.7 0-1 2.7-0.7 0 0 1-0.6 0-0.2 1.7-0.8 0.3 0.1 0.7-1.8 2.9-0.7 0 0 1-0.6 0-0.4 2.1-1.3 0.6 0 1-0.7 0-0.3 2-0.7 0 0 1-0.6 0-0.2 3.4-0.5 1.3-0.7 0 0 1-0.6 0 0.1 1.1-1.1 0.5-0.7 2-0.7 0-0.2 1.8-0.8 0.2 0 1-0.6 0 0 1-0.7 0-1 3.1-1.3 0.6-0.4 1.9-0.6 0.1 0 1-0.7 0 0 1-0.8 0.1 0.1 1.2-1.3-0.3 0 1-0.7 0 0 1-0.7 0.1 0.2 1-0.5 1.5-0.6 0 0 1.1-1.7-0.4-1 3.7-0.7 0 0 1-1.6-0.3-0.4 2.2-0.8 0.2 0.2 1.2-0.7 0 0 1-0.7 0.1 0 1.3-1.4-0.6z"/>
<path fill="#00a9ff" d="M497.2 1569.5l-9-7-13-13.5-5.4 7.4-0.4-0.4-7.3-41 1.7-3 8.4-10.8 11.4-13.6-5.9-11.6 0.2-2.4-4.8-9.3 0.5-1.7-0.7-1.6-8-16.7-1.1 0.3-6.3-13 0.4-2-3.4-6.3 0.4-2-10.4-21.3-1 0.3-0.4-0.7-5-10.3-0.4-2 11-19 19.1-27.8 7.6-8.2 7.8-5.4 7.6-2.4 9.4 0.4 9 2.6 27 9.9 16 4.5 4.1 3.7 12.7 14 4.5 1.2 1.7-1.4 6.9-10.4 11.5-15.4 8.7-12.6 7.8-13.7 2.1-2 0.8 3.3 0 16-3.1 52.4-8.7 14.2-0.6 1.8-3.8 5.2-1.2 5.1-17.4 27.5-1.3 5.2-8.5 12.6 0.1 2.8-1 0.8-6.6 12.1-16.7 26.2-1 5.1-3.2 5-0.8 0.2-1 3.1-1 0.8-2.4 4.5-0.6 0 0.1 0.8-1.6 2.6-0.9 0.3 0 1-0.6-0.1-0.2 1.8-4.2 5.9-0.6 2.1-1.4 0.6-0.2 1.8-1.8 2.3-0.6 1.9-1.4 0.7-0.6 2-0.7-0.1 0.1 3.8-0.8 0.3 0 1-0.6 0 0 1-0.7 0-0.3 2-1.4 1.6-0.6 0-0.4 2-0.6 0 0 1-0.7 0 0 1-0.7 0-1 3-0.8 0.1 0.2 1.3-1.7-1.2 0.1 1.3-0.4 1.4-0.8 0.2 0.1 1.3-0.8 0.1 0.1 1.2-1.6-1.1 0.1 1.2-0.5 1.4-0.8 0.3 0.2 1.2-0.8 0.1-0.2 2.1-1.7-0.4 0 1.1-0.8 0.2 0.1 1.2-0.8 0.1-0.2 2.2-0.7 0.2 0.1 1.1-1.7-0.7 0.1 1.2-0.9 0.4 0.3 1-1 0.3z"/>
<path fill="#00fffc" d="M495.2 1567.9l-7-5.4-13.7-14.3-0.7-0.1-1.3 1.6-0.6 2.3-2.4 3.3-7.4-40.3 1.7-3 8.4-10.8 14.8-17.2-1.5-3.4 0.1-2.3-7-13.7 0.7-1.6-4.9-9 0.2-2.7-5.1-10.3-1 0.3-0.4-0.7-8-16.3-0.5-4-3.4-6.3 0.5-1.4-0.4-1.3-6.4-13-1.1 0.4-0.4-0.7-6.3-13-0.4-4.7 4-7.3 14.4-21.7 11.7-15.5 3.6-3.5 7.1-5.1 8.3-2.7 7 0 6.4 1.4 21.3 7.8 18.3 5.8 2.7 1.4 4 3.3 7.3 7.6 7 12.2 1.4 0.1 7.3-2.7 20.1-27.8 8.7-12.6 7.8-13.7 2.1-2 0.8 3.3 0 16-2.8 47.1-8.7 14.7-0.7 0.2-4.3 7.8-0.7 0.2-0.6 4.5-18 28.4-0.7 4.3-1 0.7-3.3 6.3-3.4 3.8 0 3.2-3.6 5-3.4 7-1 0.7-1.2 2.8-14.1 21.9-1 5-5 7.3-2.3 4.7-1.7 1.6-0.7 2.1-3.3 4.7-0.7 2-1.7 1.7-5.3 9.6-2.3 2.7 0.3 3.2-3 4.8-0.6-0.1 0 1-6 10.1-1.4 0.6-0.3 2.2-1.7-0.5 0 1-0.6-0.2 0.1 1.3-0.9 0.3 0.2 1-0.4 1.5-0.7 0 0 1.4-1.7-1.1 0.2 1.2-1 0.3-0.2 2.5-0.7 0.2 0.1 1.1-0.8 0.2 0.1 1.3-1.7-1.2 0.2 1.3-1 0.3-0.2 2.4-0.8 0.3 0.2 1.2-1.7-0.8-1 3.7-0.8 0.2 0.1 1.1-0.8 0.2z"/>
<path fill="#00ff6e" d="M492.8 1566.2l-4.6-3.7-14.4-15.2-3 2.5-1.6 2.8-0.5-0.6-6.6-37 1.7-3 8.4-10.8 17-19.4 1.1-1.8 0.4-2.4-4.2-8 0.8-1.6-2.1-3.9-1 0.3-1.5-2.4 0.6-2-4.5-8.4 0.5-1.3-0.4-1.3-5.2-9.7-3.4-8-0.5-0.6-1.1 0.3-5.6-11.7 0.5-1.7-3.8-7 0.5-2-8.7-17.6-0.4-0.7-0.7 0.3-0.8-0.6-2.6-5.4 0.2-2.6-2.8-5 0.6-2.7 18-27.3 8.7-11.2 3.6-3.5 7.1-5.1 8.3-2.7 7 0 6.4 1.4 35 12.3 7.3 5.6 0.7 1.3 6 5.5 3.4 6 1.1 4 2.7 2.4 2.8 1.8 8.6-2.7 1.7-0.7 1.7-2 6.9-10.4 11.5-15.4 8.7-12.6 7.8-13.7 2.1-2 0.8 3.3 0 16-2.7 41.7-4.8 7.3-4.3 8.2-0.7 0.1-2.3 4.5-0.7 0.2-0.2 4-18.1 28.2-0.3 3.8-9.1 13.2-0.2 3.5-2.4 2.9-6.3 11.4-10.7 16.2 0 3.6-1 0.8-4 7.4-17 26.7 0 3.6-1.7 1.7-3 6-1 0.7-2 3.9-3 3.9-6.7 11.7-0.6-0.1 0 1-0.7-0.2 0.1 1.5-0.8 0-0.3 2.7-1.7-1 0 1-0.8 0.3 0.2 1.5-0.7-0.2 0.1 1.3-0.8 0-0.3 2.8-1.7-0.7 0 1-0.8 0.3 0.2 1.1-0.7-0.1 0.1 1.3-0.8 0.2-0.3 2.6-1.7-0.7 0 1-0.8 0.2 0.2 1.2-0.7 0 0.1 1.2-0.8 0.2 0 1.3-1.6-1-0.4 2.6-0.6 0 0 1.3-0.8 0.2z"/>
<path fill="#1eff00" d="M490.8 1564.1l-2.6-1.6-15-16-1 0.1-0.4 0.7-0.3-0.4-2.7 3.8-6.7-35.7 1.7-3 8.4-10.8 22.7-26.6-3.3-6 0.7-1.6-9.9-19.4 0.2-2.3-2.8-5.3 0.5-1.7-5.4-10.7-0.7-0.9-1.1-0.1-1.9-4.2-0.7 0.5-0.8-0.9-3.9-8 0.7-1.4-2.7-5 0.5-2-14.9-29.3 0.5-1.7-1.2-2 0.1-4.3 14.3-21.3 8.7-11.2 3.6-3.5 7.1-5.1 8.3-2.7 7 0 6.4 1.4 28 10 5.4 3.4 5.9 4.8 0.8 1.5 4.3 4 2.3 4 0.8 2.7 11 8.3 7.5-1.9 3.3-1.3 1.7-2 6.9-10.4 18.8-26 9.2-15.7 2.1-2 0.8 3.3 0 16-2.5 38.4-1.7 2.2-0.1-0.9-0.9-0.4-3.2 6.7-2.8 4-0.9 4.7-1.7 2-0.3 1.3-0.7 0.3-5.7 9.9-1 0.5-5.3 9.5-1.4 1.1-1.4 3.1-0.2 3.4-1 0.8-10 16.2-1 0.5 0 3.5-6.4 8.4-3 6.3-6.3 9.4 0 3.6-19.3 29.7 0.1 3.2-1.1 2.4-1.7 1.8-5 8.9-2.7 3.3-0.6 2-11.4 17.4-0.3 4.3-0.7 0 0 1-3.3 5.1-1.3-1.2-0.7 2.7-0.7-0.1 0.2 1.4-0.9 0-0.3 2.7-1.6-0.6 0 1-0.8 0.2 0.1 1.1-0.8 0.2 0.1 1.2-0.6 0 0 1.4-1.7-1.3 0.1 1.4-0.8 0-0.3 2.8-0.7 0 0 1.3-0.8 0.2 0.2 1.6-1.7-1.5-0.5 2.6-1 0.3-0.2 2.8-0.6-0.1 0 1.4-1.7-1 0 1.4-0.7-0.1 0 1.4-0.8 0.2z"/>
<path fill="#77ff00" d="M488.2 1562.1l-12.5-12.5-3.5-4.4-1-0.3-1.7 1.7-1 2.1-0.4-0.7-6-33 1.7-3 8.4-10.8 22-25.2 5.4-7.7-10.3-21.3-3.6-6 0.6-2-1.8-3 0.8-1.4-1.5-2.3 0.5-1.3-1.1-2 0.4-1.7-2-4-1.9-1.3-0.7-2-1.2 0.2-1.3-2.9-1.1 0-2.2-4.7-0.7 0.3-0.8-0.6-0.9-2.3 0.5-1.4-3.5-6.6 0.1-2.4-13.8-27.3 0.2-2-1.5-2.7 0.4-5.6 12.6-18.8 9.6-10.9 7.1-5.1 4-1.7 4.3-1 6.7 0 6.7 1.4 22.3 8 4.5 2.7 7.3 6 4.2 5.5 1.3 0.7 2 3.3 17 12.6 7.4-2 3.3-1.3 1.7-2 6.9-10.4 18.8-26 9.2-15.7 2.1-2 0.8 3.3 0 16-2.1 32.4-1.4 1.3-1.3 3.1-0.7 0.2-3.7 7.5-1 0.5-0.2 1.4-0.8 0.3-0.6 1.7-0.4-0.4-0.2 1.4-0.8 0.3-0.2 1.3-0.8 0.3-1.6 3.4-0.4-0.3-1.3 3.1-0.7 0.2-4.3 7.4-0.3-0.4-0.7 2-0.3-0.3-0.9 5.3-0.8 0.3-2.3 4.8-1.4 1.2-2.3 4.5-7.7 11.1-0.2 3.8-5.4 6.8-0.3 3.8-3.1 4.2-2.3 4.9-1-1.8-0.7 0.9-0.2 4.2-4.8 6.5-0.6 1.9-1 0.8-4.7 7.9-1 0.7-0.7 2-1 0.7-1 2.1-0.6 4.5-13.4 20.3-1 2.4-2 2.3-0.6 2-3 3.7-0.4 4.8-9.6 14.5-0.7 2.1-0.7-0.3 0 1.2-3.6 4.9-0.7 1.8-0.7-0.1 0 1-0.6 0 0 1.4-0.7-0.1 0.1 1.6-0.8 0 0 1.6-1.6-1.6 0.1 1.4-0.5 1.4-0.8 0.2 0.3 1.4-0.8 0 0 1.4-0.7-0.1 0 1.6-1.6-1.6 0.1 1.7-1.3 2 0.2 0.7-0.7 0 0 1.4-1.7-1 0.2 1.2-0.8 0-0.7 2.8-0.7-0.1-0.3 3.1-2-1.4 0 1.4-0.7-0.1-0.3 3.1-0.7-0.1 0 1.4-0.8 0.2 0.2 1.1-1.7-1-0.7 2.7-0.8-0.1z"/>
<path fill="#c7ff00" d="M485.8 1559.4l-1.3-0.6-8.8-9.2-4.9-6.7-1.6 1.4-1 2.1-2.5-10.4-3.6-21 1.7-3 8.4-10.8 25-28.8 7.1-10.8-4.4-9.3-0.4-0.6-1.1 0.3-4.5-9.4-0.4-0.6-1.1 0.3-2.6-5 0.8-1.7-1.2-1.6 0.2-2-1.1-1.7 0.7-1.3-0.7-1 0.7-1-0.7-1 1.3-4.4-0.7-1 0.5-1.6-0.7-1.7-0.4-0.7-1.3 0.2-0.7-1.9-1 0.3-1-1.5-0.7 0.2-2.6-2.8-0.7 0.5-1.6-3.3-1.2 0-5.3-10.3-0.5-4-7.3-14.7-0.4-0.6-0.7 0.5-0.7-0.4-1.7-3.5-0.6-1.7 0.4-1.3-3.1-6 0.5-1.7-1.1-1.6 0.4-1.4-0.8-1.3 0.7-1 0-4 10.3-14.8 7.6-8.2 3.3-2.7 3.8-2.4 5-2 3.3-0.7 7 0 11.4 3 13.3 5.4 6.3 4.3 4.4 3.9 7.2 8.9 6.4 2.5 16 12.2 3.4-0.6 7.3-2.7 1.7-2 6.9-10.4 18.8-26 9.2-15.7 2.1-2 0.8 3.3 0 16-1.7 25.7-0.5 0.7-0.3-0.4-1.3 3.5-0.7 0.2-0.3 1-0.4-0.4-3.3 7.2-1 1.2-0.3-0.4-2.3 4.7-0.4 0.5-0.3-0.4-2.3 4.6-0.7 0.3-2 3.3-0.3 4.1-1.1 1.7-1 0.6-0.6 1.7-0.4-0.4-2.3 4.8-1 1.3-0.3-0.4-1.7 3.7-1 0.6-0.7 1.7-0.3-0.3-1.7 3.7-1 0.6-1.2 3-2.4 2.9-0.4 4.1-0.3-0.4-1.3 3.2-1.4 1.1-3 5.2-0.6 0.2-0.7 4.4-0.7 1.1-0.6-0.1-2 3.4-1.4 1.2-2.3 4.8-1.7 2.1-0.6 2.3-5 6.7-0.4 1.3-1.3 1.1-1.1 2.1-0.6 4.8-3.3 4-3 5.6-1 0.8-8 13.2-2 2.4 0.1 3.5-1.3 2.7-5.8 8.1-1.3 3-2.4 2.7-2 4-1.6 1.6-0.7 2.1-0.7-0.3 0 1.2-4.3 6.8-0.7-0.3 0 1.3-0.7-0.2-0.1 4.6-1.2 2.6-0.6-0.3 0.1 1.1-0.8-0.1 0 1.3-0.7-0.3 0 1.2-2.3 3-1 2.4-1.3-1.2-0.7 2.6-0.8 0.1 0.3 1.3-1 0.3 0.2 1.3-1.7-1.5 0.1 1.2-0.8 0.1 0 1.4-0.7-0.1 0.2 1.6-1.3 2 0.2 0.8-2-1.5-0.2 3.1-0.8 0 0 1.4-0.7-0.1 0.1 1.7-0.8-0.1 0 1.6-1.6-1.5 0 1.4-0.8 0.2 0.2 1.4-0.8 0-0.3 2.7-0.8 0.3 0.1 1.5-2-1.5-0.2 3-0.8 0-0.6 2.7-2-1.2 0.3 1.5-0.7 0z"/>
<path fill="#ecff00" d="M484.5 1558.5l-12-12.7-1.1-1.5-1.2-3.8-0.4 0.9-1 0.2-1 2.3-0.4-0.6-5.3-28.3 1.7-3 8.4-10.8 25-28.8 11.8-17.8-1.8-4.3-1 0.6-1.7-3.4-1.3-0.4-1.7-3.4-1.1 0.3-2.8-6.4-1.4 0.2-3.1-6.2 0.5-1.6-1.1-1.7 0.6-1.3-0.6-0.7 0.7-3.3 4-9.4-1.9-4-0.5-0.5-0.6 0.5-0.7-1.2-1 0.5-2-2-1 0.3-0.7-1-0.6 0.4-1-1.9-0.7 0.2-0.7-1-1 0.3-1-1.5-0.6 0.2-1.4-3-1.4 0.1-3.7-7 0.6-2-0.7-1.7-3.2-5.3-1.8-4.7-0.8-0.9-1.1 0.2-7-13.6 0.2-2.4-1.3-2.3 0.3-1.7-0.8-1.3 0.1-4.3 1.2-5 9.4-12.2 8-6.9 3.4-2 5.6-2 9-0.4 11.4 3 8.6 3.7 7.4 5.4 4.7 5 5.9 8.4 2.7-0.2 5 1.1 6.7 4 12.6 9.8 3.4-0.6 7.3-2.7 1.7-2 6.9-10.4 18.8-26 9.2-15.7 2.1-2 0.8 3.3 0 15.7-1.2 18.7-1 0.9-0.3 1.5-0.7 0.2-1.3 3.5-1.3 1.2-0.4 1.5-0.6 0.1-1.4 3.5-1 1.3-0.3-0.4-2.3 4.8-0.7-0.1-0.9 5.6-0.4 0.5-0.4-0.4-1.6 3.7-0.7 0.6-0.3-0.4-0.7 2.1-0.3-0.4-2.4 4.8-1.3 0.8-1.3 3.2-1.4 0.8-2.3 4.9-0.7 0.1-0.3 1.1-0.3-0.4-0.7 5.2-1 0.8-3 5.5-1 1.2-0.3-0.4-0.3 1.4-2.4 3-1.3 2.8-3 3.5-0.7 4.7-0.7 1.1-0.6-0.1-0.4 1.1-1.3 0.6-0.7 5-2 2.3-3 5.8-1-1.9-1.3 2-1.2 6.1-3.8 4.6-2.3 4.5-1.7 1.5-0.7 1.9-5 7-0.2 4.5-7.4 10.6-2 3.9-1 0.7-2 3.9-1 0.7-2 4-2.4 2.7-1.7 3.2 0.1 3.6-1.7 2.2-0.7 2-1 0.6-4.6 8-4.4 5.7-0.6 2.1-0.7-0.3 0 1.3-0.7-0.3 0 1.3-0.6-0.3 0 1.3-0.7-0.3 0 1.2-4.5 6.9 0.2 1.2-0.8 0.1 0.1 1.2-0.8 0.1 0.1 1.3-1.6-1.5 0.1 1.2-0.9 0.4 0.2 1.3-0.8 1.6-0.7-0.3-0.3 3.3-1.6-1.2-1.5 2.9 0.3 1-1 0.4 0.2 1.2-0.8 0.1 0.1 1.6-1.7-1.5 0.2 1.2-1 0.4 0.3 1-0.9 0.3 0.2 1.3-0.9 0.4-0.2 2.9-2-1.9 0.1 1.6-0.9 0.4 0.1 1.2-0.8 0.1-0.2 2.9-2-1.5 0.2 1.3-1 0.3 0.3 1.3-0.9 0.4-0.1 2.6-0.9 0.4z"/>
<path fill="#ffe000" d="M481.8 1555.5l-6.1-5.9-4.3-5.3-1.9-6.4-0.3 0.8-0.4-0.8-1.6 3.4-0.4-0.7-4.7-25.6 1.7-3 8.4-10.8 25-28.8 16.7-25.1-1.1-2.3-0.6 0.5-1-1.9-1 0.6-1-1.8-1 0-0.7-1.7-1 0.9-1.3-2.7-0.7 0.6-0.4-0.5-1.3-3.1-1.3 0.2-3.9-8.8-1.9-2.3 0.5-4 1.2-3.7 5.4-9-0.3-0.7 0.7-1-2.3-4.6-0.4-0.6-1 0.5-0.7-0.9-0.6 0.2-2-2.1-2 0.5-0.7-1.3-1 0.3-0.7-1.1-0.6 0.4-0.7-1.3-1 0.6-3-3.9-1 0.1-10.2-20.4-0.5-0.6-1.1 0.2-6.1-13-1.2-1.3-0.6-1.3 0.5-1.7-0.9-1 0.5-1.7-0.7-1.3 0.4-1-0.4-2.7 2.5-7 7.7-8.3 7.8-5.4 7.6-2.4 7 0 6.4 1.4 8 3 6.6 4.7 5.4 5.6 1.5 2.4 1.2 0.7 6.3 8.4 5-0.9 5.3 1.1 6.7 4 14 10.7 9.3-4.2 1.7-2 6.9-10.4 18.8-26 9.2-15.7 2.1-2 0.8 3.3 0 16-0.7 13-1.4 4.4-1.4 1.3-2.3 4.7-0.4-0.4-1.6 3.9-0.7-1.1-0.6 3.2-0.7 0.3-0.7 1.9-0.3-0.4-0.7 1.9-0.3-0.3-1.4 3.1-1.3 0.8-0.2 1.4-0.5 0.5-0.3-0.4-1.7 3.6-0.6 0.7-0.4-0.4-2.3 4.8-1 1.2-0.3-0.4-1.2 2.4-0.2 3.7-0.3-0.4-0.2 1.4-1.5 2.4-1 0.5-0.3 1.5-0.7 0.2-3 5.1-0.3-0.4-0.2 1.3-2.8 4.5-4 5.2-0.3 4.5-1.4 1.1-2 3.5-1.6 1.2-0.3 4-3.1 3-4.6 7.9-0.7 2.3-1 0.8-0.2 1.4-2.1 1.9-0.4 1.5-0.6 0.2-0.4 1.1-1 0.6-0.3 1.5-1.3 1.1-0.7 5.1-1 0.8-0.7 1.9-1 0.6-3.6 6.5-1.7 1.5-0.3 1.5-2.7 3.1-4.3 7.5-1 0.7 0 4.3-8.7 13.4-1 0.6-3.3 6-1.7 1.7-0.7 2.1-0.6-0.3 0 1.2-3.7 4.7 0.3 4.4-0.6-0.3 0 1.3-0.7-0.3 0 1.3-0.7-0.3 0 1.2-5.6 8-0.5 1.5-0.9 0 0.2 1-0.8 0 0 1.3-0.7-0.3 0 1.3-0.7-0.3 0.2 1-1 0.4 0.3 1.3-0.8 1.6-1.7-1.8 0.2 1.5-1 0.4 0.3 1.3-0.9 0.3 0.1 1.3-0.7-0.3-0.3 3.3-2-1.8 0.1 1.5-1.2 2 0.2 1-0.9 0.4 0.1 1.2-0.8 0.1 0.2 1.6-2-1.8-0.2 2.9-1 0.3 0.3 1.3-0.9 0.4 0.1 1.2-0.8 0.1 0.1 1.6-1.6-1.5 0.1 1.2-0.9 0.4 0.1 1.2-0.7-0.2 0.2 1.6-1 0.4 0.2 1.2-2-1.5 0.1 1.3-0.8 0.3 0.3 1.4-0.8 0.3 0.2 1.2-0.8 0.1 0.1 1.6-0.8 0.1 0.1 1.5-2-1.6 0.4 1.4-1.2 0 0.5 1.7-0.8 0.3z"/>
<path fill="#ffa200" d="M479.2 1552.7l-3.5-3.1-4.3-5.3-2.2-8-1-1.4-1.7 3.4-0.4-0.7-4-22.6 1.7-3 8.4-10.8 25-28.8 21.1-31.4-1.1-2.7-1 0.6-0.7-1.3-1 0.3-2-2-1 0.7-0.7-1.2-0.6 0.4-1-2.2-1 0.6-1-2.1-1 0.8-1-2.8-1 1-0.5-0.5-2.5-6.6-1.3 1 0.7-2-1.9-2.7 0.4-4 7.8-16 0.3-0.7-1-1.3 0.7-1.7-1.7-2.5-0.7 0.5-1-1.9-1 0.5-0.3-1.3-1 0.3-1-1-1.7 0.4-0.7-1.3-1 0.3-2-2-1 0.3-0.6-0.8-0.7 0.5-1.7-3.5-1.4-0.5-2.7-5 0.4-2-2.9-5.5-1.4-0.1-1.9-4.4-1.1 0.1-1.6-3-1 0.4-1.7-3.6-1.4-0.2-3.7-7 0.5-2-1.4-2 0.7-1.3-0.8-1 0.1-4 2.6-7.4 3.1-4.1 3.5-2.9 7.8-4.1 4.3-1 6.4 0 5.6 1 6.4 2.7 5.5 4.1 4.1 5.5 1.4 0.7 5.3 7.6 2 1.7 3 5.1 5-2.7 2.3-0.4 5.7 1.1 6.7 4 6.5 5.4 9.8 6.7 3.3-1.6 5.4-6 6.9-10.4 18.8-26 9.2-15.7 2.1-2 0.8 3.7 0 15.6-0.7 8.7-0.8 0.3-0.2 1.4-2.5 3.3-0.6 2.1-1 0.5-1.3 3.4-1.4 1.3-1.3 3.2-2.4 2.5-0.6 1.7-0.4-0.4-1.3 3.2-1 1.2-0.3-0.4-1.4 3.2-1.3 0.8-1.1 2.4-0.2 3.3-1.6 3-1.4 1-1.4 3.1-1 1.3-0.3-0.4-1.3 2.7-0.4-0.4-1.6 3.8-4.4 5.8-0.6 4.9-2.7 3.2-4.7 7.5-0.6 0.1-0.3 4.1-0.7 0-2.7 2.9-0.3 4.4-2.7 3.3-1.3 3.1-1-2.2-1.6 3.8-1.5 1.3-0.6 5.1-1 0.6-0.3 1.5-2 1.8-0.4 1.5-7.3 9.8-0.6 5.1-1.1 2.1-2.3 2.5-0.3 1.5-3.4 4.1-0.6 1.9-3 3.5-0.7 2.2-1 0.6-5 7.8 0 4.2-2.3 2.7-0.7 2-5.7 7.7-0.6 2.1-0.7-0.3 0 1.3-0.7-0.4 0 1.2-9 12.7 0.4 4.3-4 6.2-1.7-2 0.1 1.4-0.9 0.3 0.3 1.4-1 0.3 0.2 1.2-0.7-0.2 0.1 1.7-0.8 0 0 1.7-1.6-2 0.1 1.6-0.9 0.3 0.2 1.4-1.2 2 0.1 1.2-0.8 0.1 0.1 1.2-2-1.8 0.2 1.6-1 0.3 0.3 1.4-1.3 2 0.2 1.2-0.8 0.1 0.1 1.2-2-1.8 0.1 1.6-0.9 0.3-0.2 2.8-0.8 0.2 0.3 1.4-1 0.3 0.2 1.6-2-1.8 0.1 1.2-0.9 0.3 0.2 1.4-0.9 0.3-0.2 2.8-2.3-2 0.3 1.9-0.8 0.3 0.1 1.6-0.8 0.1 0.2 1.5-0.8 0.1-0.2 2.8-2.4-1.7z"/>
<path fill="#ff6600" d="M477.8 1551.1l-2.1-1.5-4.3-5.3-3.6-12-0.3 0.7-0.7-0.6-1 2.5-3.7-19.9 1.7-3 8.4-10.8 25-28.8 26-39.1-0.4-0.4-0.6 0.7-0.7-1.2-0.7 0.4-0.6-1.5-1 0.6-0.7-1.6-2 0.4-0.7-1.6-1 0.8-0.6-0.6-0.7 0.6-0.7-1.5-1 0.8-0.6-1.7-0.7 0.6-0.3-0.3-0.7-2.1-1 1-1-2.1-0.7 0.9-0.3-0.4-1.3-3.2-1 1.2-0.5-0.5-2.3-5 0.5-1.6-0.7-1 0.4-2.4 1.1-3.6 6.9-15 1.2-4.4-0.6-1 0.6-1-2-4-1 0.4-1-1.6-2 0.2-0.6-1.3-1 0.3-0.7-0.9-2-0.1-1-1.6-1-0.2-7.6-14.8-1.1 0.3-1-2-1 0.3-1-1.5-0.6 0.5-1.2-2.3-0.8 0.2-1-1.8-1 0.5-1-2.5-1 0.9-1.4-3.3-1 0.7-0.4-0.4-2.9-6 0.5-1.3-0.9-1.3 0.5-1.4-0.4-3 1.9-6.3 4.1-5.1 6.6-3.7 4-1 5.4 0 5.6 1 3 1.4 4.7 3.3 3.1 3.4 2.9 4.8 1.4 0.9 4.7 8.7-0.3 1 1.3 2.3 0.3 1.7-0.5 2 0.5 1-0.5 1 0.5 1-0.8 2.6 1.1 2 6.2-8.6 3.8-2.8 5.3-1.4 3 0.4 5.3 2.3 9.9 7.8 9.8 6.7 3-1.2 5.7-6.4 6.9-10.4 18.8-26 9.2-15.7 2.1-2 0.8 3.3 0 16-1.4 4-1.4 1.6-8.4 14.6-1.3 1-1.7 3.3-1 0.5-1.3 2.8-1.3 1.2-0.3 4.4-1.4 0.9-1.3 3.2-1.4 0.8-1.3 3.2-6.3 8.7-0.7 4.6-10.3 14.8-0.3 4.1-1.4 0.6-0.3 0.8-0.7-0.1-0.3 4.4-0.7 0-1 1.8-0.7 0.1-3 4.7-4 8.2-4.3 5.1-0.3 1.5-2 1.9-0.7 5.4-3.3 3.9-4.4 7.5-1 0.7-4 6.6-1.6 1.8 0 4.1-1.7 3.1-4.3 5.4-0.7 2-5 6.6-1.3 3-4.4 5.7 0 4.3-2.3 3-0.7 2-0.6-0.5 0 1.5-0.7-0.5 0 1.3-0.7-0.3 0 1.3-0.6-0.3 0 1.3-0.7-0.3 0 1.3-0.7-0.3 0 1.3-0.6-0.3 0 1.3-0.7-0.3 0 1.3-0.7-0.3 0 1.3-0.6-0.3 0 1.3-0.7-0.3 0 1.3-0.7-0.3 0 1.3-0.6-0.3 0 1.3-0.7-0.3 0 1.3-0.7-0.3 0 1.3-0.6-0.3 0 1.3-0.7-0.3 0 1.3-0.7-0.3 0 1.3-0.6-0.3 0 1.3-0.8 0.1 0.1 1.4-0.7-0.4 0.2 1.7-0.9 0 0.2 1.6-0.8 0 0 1.8-1.7-2 0.2 1.6-1 0.3 0.3 1.3-0.8 0 0 1.6-0.7-0.2-0.3 3.5-2-2.1 0.1 1.6-0.9 0.3 0.3 1.3-1 0.4 0.2 1.2-0.8 0.1-0.2 3.2-2-2 0.1 1.5-0.9 0.3 0.2 1.3-0.9 0.4 0.1 1.2-0.8 0.1 0.2 1.6-0.8 0.1 0.2 1.3-1.8-1.3 0 1.1-0.8 0.2 0.3 1.3-0.9 0.4 0.2 1.3-0.9 0.3 0.1 1.3-0.8 0.1 0.2 1.5-2-1.8 0.1 1.6-0.8 0.1 0.1 1.6-0.8 0.3 0.4 1.4-0.8 0.3 0.1 1.5-2.3-2.1 0.3 1.9-0.8 0.3 0.1 1.6-0.8 0.1z"/>
<path fill="#ff1e00" d="M474.8 1548.1l-3.4-3.8-3.6-12.1-0.3 0.8-0.7-0.6-1 2.5-3.7-19.9 1.7-3 8.4-10.8 25-28.8 29.7-44.8-1.1-2.4-2 0.4-0.6-1.7-1 0.6-0.7-0.8-0.7 0.5-1.6-0.6-0.7 0.6-0.7-0.6-0.6 0.6-0.7-1.9-1 0.6-0.7-0.6-0.6 0.6-0.7-1.7-0.7 0.6-0.6-1.4-1 0.8-0.7-1.5-1 1-1.3-3.1-0.7 0.9-0.4-0.5-3.4-6.7 1-6.3 13.7-32.7 6.3-12.3 4.5-5.8 4-3 4.6-1.4 3.4 0.3 5.6 2.4 17.4 13.2 2.3 1.3 2.7-0.9 6-6.7 6.9-10.4 11.5-15.4 8.7-12.6 7.8-13.7 2.1-2 0.8 3.3 0 11.7-0.5 1.1-1 0.8-2 3.5-0.7-1.5-2.5 5.1-3.5 4.9-0.3 3.5-8.4 11.9-0.6 4.2-5.3 7.4-0.4 1.2-1.3 1.1-2.3 4.3-1 0.7-0.7 4.6-6 8.4-0.3 1.3-3.7 4.4 0.1 3.4-1.4 1.8-0.7-0.1-0.7 4-2.6 2-5.4 8.9-1.3 3.6-4.7 5.7 0 4.2-1.6 1.6-0.7 1.8-1.7 1.5-1.3 2.8-1.7 1.5-1.3 2.9-1.7 1.6 0 4.4-3 3.5-0.3 1.5-3.3 4-1.4 3-1 0.6-2.3 4-1 0.7-2.7 5-1 0.7 0 4.3-4 6-1 0.7-0.6 2.1-0.7-0.3 0 1.3-0.7-0.4 0 1.2-9.6 13.7 0 4.2-8.7 13.3-0.7-0.3-0.3 3.3-2-1.8 0.1 1.5-0.9 0.4 0.1 1.2-0.8 0.1 0.3 1.3-0.8 0 0 1.8-0.7-0.4 0 1.9-1.6-1.8 0.1 1.5-0.9 0.4 0.2 1.3-0.8-0.1 0.2 1.4-1 0.4 0.3 1.3-0.9 0.3 0.1 1.6-1.7-1.8 0.2 1.2-1 0.4 0.3 1.3-0.9 0.3 0.1 1.3-0.8 0.1 0.3 1.3-1 0.3 0.2 1.6-2-1.8 0.1 1.2-0.9 0.4 0.2 1.3-0.9 0.3-0.2 2.8-1.1-0.1 0.4 1.8-2.3-2 0.4 1.9-1.2 0 0.5 1.6-0.8 0.4 0.1 1.2-0.8 0.1 0.1 1.6-2-1.9 0.2 1.6-0.8 0.1 0.1 1.6-0.8 0 0.1 1.7-0.8 0.3 0.4 1.4-2.4-1.2 0.4 1.6-1.1-0.1 0.4 1.4-1.1-0.1zM496.5 1351.1l-6.3-0.9-0.7-0.8-0.7 0.2-0.6-1.3-1 0.3-2-1.6-1 0.6-1-2.6-1.4 0.1-2.3-4.5 0.7-1-0.7-1 0.7-1-0.5-1 2.4-5.6 4.7-4.1 3.7-1.4 6 0 5.3 1.7 4.4 3.3 3.7 7.5 0.3 4.3-2.1 4.3-2.3 1.8-2.6 0.5 0 1.1-0.7 0.4-1.7-0.5z"/>
<path fill="#ff0000" d="M473.2 1546.2l-1.8-1.9-4.2-14.7-0.7 0-1 2.3-0.4-0.6-3-16.3 1.7-3 8.4-10.8 25-28.8 21.1-31.1 12.6-20-1.7-3.7-1 0.6-0.7-0.6-0.7 0.6-0.3-0.6-2 0.1-0.7-0.7-0.6 0.5-0.7-0.8-0.7 0.5-0.6-0.8-0.7 0.5-0.3-0.6-1 0.6-0.4-0.6-2 0.4-1-2.2-2 1.2-0.6-2-1 1-1-2.6-1 1-0.4-0.3-1-3-0.3-0.3-0.7 1.3-0.3-0.4-1-2.1 0.8-2-1.4-1.3 0.8-4.4 7-17.3 4.7-11 6.3-12.3 4.5-5.8 4-3 4.6-1.4 3.4 0.3 5.6 2.4 17.4 13.2 2.3 1.3 2.7-0.9 6-6.7 6.9-10.4 11.5-15.4 8.7-12.6 7.8-13.7 2.1-2 0.8 3.3-0.5 5.2-1.7 2.7-1-0.8-2.3 3.7-2.3 4.8-3.8 5.4 0.1 2.2-5.3 7-0.7 4-7.3 10.4-0.3 3.4-2.1 2.2-5.6 9.4-1.7 1.6 0 3.3-5 6.7-0.3 1.3-1.4 1.1-0.2 3.8-1.8 0.6-0.2 3.7-0.8 0-1.6 1.7-0.3 4-2.7 3.5-0.7 1.9-0.7-0.5 0 1.8-1-1.5-1 2.2-3.3 4.4-0.2 4.2-8.1 10.4 0 4.4-2.4 2.4-1.6 3.2-4.7 6.1-0.3 1.3-4 5 0 4.3-15.4 22 0.4 4.4-0.7-0.3 0 1.2-0.7-0.5 0 1.5-0.6-0.5 0 1.3-0.7-0.3 0 1.3-0.7-0.3 0 1.3-0.6-0.3 0 1.3-0.7-0.3 0 1.3-0.7-0.3 0 1.3-0.6-0.3 0 1.3-0.7-0.3 0 1.3-0.7-0.3 0 1.3-0.6-0.3 0.1 1.1-0.8-0.1 0 1.3-0.7-0.3 0 1.3-0.6-0.3 0 1.3-0.7-0.3 0 1.3-1-1 0 1.9-4 6.1-0.7-0.3 0 1.3-0.6-0.3 0.6 4.6-2-2.4 0.2 1.5-0.8 0.1 0.1 1.6-0.8-0.1 0.1 1.4-0.9 0.4 0.3 1.3-0.9 0 0.1 1.8-1.2-1.8-0.6 0 0.2 1.3-0.8 0.1 0.2 1.6-0.8-0.1 0.1 1.4-0.9 0.4 0.2 1.3-0.9 0.3 0.3 1.4-0.9 0 0.1 1.5-2-1.8 0.1 1.6-0.8 0.1 0.1 1.2-0.8 0.4 0.4 1.4-0.8 0.2 0.2 1.4-0.9 0.3 0.1 1.6-2-2.2 0.2 1.6-1 0.3 0.3 1.4-0.9 0.3 0.2 1.3-0.8-0.1 0.2 1.5-1 0.3 0.2 1.6-2.2-1.6 0.3 1.3-0.8 0.1 0.1 1.3-0.9 0.3 0.3 1.3-1 0.4 0.3 1.3-0.8 0.3 0.3 1.5-2.3-1.6 0.4 1.5-1.1-0.3 0.4 2-1.2-0.1 0.5 1.7-0.8 0.3 0.1 1.6-2.3-2.1 0.4 1.9-1.2 0 0.5 1.6-0.8 0.4 0.2 1.3-0.9 0.3 0.3 1.4-0.8-0.1zM495.8 1335.4l-5.1-1.1-0.8-1.3 1-2.7 3.6-1.3 2.7 0.4 1.5 2.9-1.3 2.3z"/>
<path fill="#ff0000" d="M471.5 1540.1l-1.8-1.8-2.1-8-1.8-4-1 2.3-0.4-0.6-2.1-10 0.1-3.7 9.8-13.1 25.1-28.9 21-31 14.6-23 1.2-2.7-0.5-0.6 0.3-2.4-1.1-1.9-1 0.8-0.6-1.9-1 0.6-0.7-0.6-0.7 0.6-0.6-0.9-1.7 1.6-0.7-0.9-0.6 0.5-0.7-1.1-0.7 0.5-0.6-0.9-0.7 0.5-0.3-0.8-1.7 1.8-0.7-2.2-1 0.6-0.6-1-0.7 0.8-0.7-0.4-0.6 0.6-0.7-2.2-1 1-0.7-1.8-1 1.2-1-2.4-0.6 1.1-2.7-4.8 0.8-1.7-1-1 1.4-5 8.7-21 6.3-12.3 4.5-5.8 4-3 4.6-1.4 3.4 0.3 5.6 2.4 17.4 13.2 2.3 1.3 1-0.3 3.1-1.7 2.9-2.9 11.2-15.8 3.5-3.9 0 2.9-2.2 2.7-0.8 3.4-0.7 0.1-2.7 4.3 0.2 2.2-2.8 4.2-0.7 0 0 1-0.7 0-1 4.4-1 1.6-0.6 0 0 1-3.4 4.4-0.5 3.7-0.9 0.7 0.2 2-1.1 0.2-0.7 3.2-2 1.9 0 3.1-1.6 1.8-2 3.9-1.4-1.9 0.2 1.4-0.8 0 0.1 1.4-0.9 0.3 0.1 1.6-4 5.1 0 3.4-6.7 8.6-0.6 4.4-10.4 14.4 0 4-13.3 19 0 4.3-1 0.7-11 16.7-0.7-0.3 0.2 1.1-0.8-0.1 0 1.3-0.7-0.3 0 1.3-0.7-0.3 0.4 4.6-1.4 2.1-0.6-0.3 0 1.3-0.7-0.3 0 1.3-0.7-0.3 0 1.3-0.6-0.3 0 1.3-0.7-0.3 0 1.3-0.7-0.3 0 1.3-0.6-0.3 0 1.3-1-0.7 0 1.6-0.7 0.9-0.7-0.5 0 1.9-0.7-0.5 0.2 1.7-0.8 0 0 1.9-1.7-1.8 0.2 1.2-0.8 0.1 0.1 1.6-0.9 0.3 0.1 1.3-0.8 0.1 0.3 1.3-1 0.3 0.3 1.4-0.9 0.3 0.1 1.2-2-1.8 0.1 1.6-0.9 0.3 0.3 1.4-1 0.3 0.2 1.2-0.8 0.1 0.1 1.6-0.8 0.1 0.1 1.6-2-1.8 0.2 1.2-0.9 0.3 0.4 1.5-0.8 0.2 0.3 1.3-1 0.4 0.2 1.2-0.8 0.1 0.1 1.6-2-1.8 0.1 1.5-0.9 0.4 0.3 1.3-1 0.3 0.2 1.3-0.8 0.1 0.1 1.5-0.8 0.1 0.1 1.6-2.3-2 0.4 1.4-0.9 0.4 0.2 1.5-0.8 0.1 0.1 1.6-0.8 0.1 0.1 1.6-0.8 0.1 0.2 1.5-2-1.4 0.1 1.5-0.9 0.4 0.2 1.3-0.9 0.3 0.3 1.4-1 0.3 0.2 1.2-2-1.5 0 1.9-1.1-0.6z"/>
<path fill="#ff0000" d="M470.5 1536.9l-1.8-2.3-3.5-11.3-1 2.3-0.4-0.6-1.7-9.7 0.6-1.7 11.1-14.4 23.5-26.9 30-45 8-13 1.6-4.3 0.7-4.7-1.8-2.2-0.6 0.4-0.7-0.6-0.7 0.6-0.6-0.6-0.7 0.6-0.7-0.8-0.6 0.5-0.7-0.9-0.7 0.2-0.6-0.9-1.4 1.5-1-1.1-1.6 1.5-0.7-0.8-0.7 0.5-0.6-1.2-0.7 0.5-0.3-0.6-1 0.3-0.7-0.6-0.7 0.6-0.3-0.9-2 0.8-0.7-1.9-1 0.5-0.6-1.5-1 1.2-1.9-4.8-1.6-1.6 0.7-1.7-0.5-0.3 0.2-1.7 2-5.3 10-22 6.1-8.8 6.3-4 3-0.4 5 1.1 6.7 4 17.1 13.1 1.5 3-0.2 6-1.2 1-0.6 2.8-3.3 4.4-1.7 3.3-1.3-0.8 0.1 1.3-0.8 0.3 0 1.2-0.8 0.1 0.2 1.3-1.7 2.3-1.3 0.7 0.4 2.7-4.1 5.4-0.2 3.3-5.5 6.5 0.1 3.2-1.3 2.3-8.8 12 0 3.5-10.6 15.2 0 3.8-6 8.7-0.7-0.3 0.1 1.1-0.8-0.1 0 1.3-0.6-0.3 0 1.3-0.7-0.3 0 1.3-0.7-0.3 0 1.3-1-0.6 0.1 1.4-1.9 2.7 0.5 3.5-0.7-0.3 0.2 1.1-0.8-0.1 0 1.3-1-0.6 0 1.5-3.4 5.1-0.6-0.3 0 1.3-0.7-0.3 0 1.3-0.7-0.3 0 1.3-0.6-0.3 0 1.3-0.7-0.3 0 1.3-1-0.6 0 1.7-1.3 2.3-0.7-0.3 0 1.3-0.7-0.3 0 1.3-0.8 0.1 0.2 1.2-0.7-0.2 0.1 1.6-0.9 0.4 0.1 1.2-0.6-0.2 0.1 1.6-0.9 0.4 0.1 1.2-2-1.5 0.1 1.3-0.8 0 0.2 1.6-1 0.4 0.2 1.2-0.7-0.2 0.1 1.6-0.9 0.4 0.1 1.2-2-1.5 0.2 1.3-1 0.3 0.3 1.3-0.9 0.4 0.2 1.3-0.9 0.3 0.1 1.3-0.6-0.2 0.1 1.6-0.9 0.3 0.1 1.3-2-1.5 0.1 1.2-0.9 0.4 0.3 1.3-1 0.3-0.2 2.8-1.1-0.1 0.5 1.8-2.4-1.8 0.2 1.7-1 0.3 0.3 1.3-0.8 0.1 0.1 1.3-0.9 0.3 0.3 1.3-0.9 0.4 0.4 1.4-2.3-1.7 0.1 1.6-0.8 0 0.1 1.7-0.8 0.3 0.4 1.4-1.2-0.1 0.5 1.8-2.3-1.4 0.1 1.6-0.8 0.1 0.1 1.6-0.8 0.3 0.4 1.5-1-0.4 0.3 1.9-1-0.4z"/>
<path fill="#e80000" d="M468.8 1530.7l-1.7-1.7-2.6-7.7-0.7-0.1-0.3 1.1-0.4-1-1-6 0.6-1.7 11.1-14.4 23.5-26.9 21-31 18.6-29.3 3-6 1.6-7-2-4.1-2.3 1-0.7-0.9-0.7 0.5-0.6-0.9-0.7 0.3-0.7-0.9-1.6 1.5-0.7-1.2-1.7 1.2-0.6-1.1-1.7 1.5-0.3-1-1 0.3-0.7-1.2-1.7 1.9-0.3-0.7-1 0.3-0.7-0.8-0.6 0.5-0.7-0.6-0.7 0.6-0.6-2.1-1 0.8-0.7-0.4-0.7 0.9-2.2-5.8-1.4-1.3 0.9-4.7 4.3-10.3 4.7-9.3 4.1-6.5 2.2-2.5 6.1-3.8 3-0.4 5 1.1 6.7 4 12.3 9.6 2.4 5.1-0.8 0.4 0.1 3.1-2.1 1.9-0.8 3-0.8 0.3 0 1.2-1.7-0.2-0.6 2.6-0.8 0.1 0.1 1.2-1.3 0.7 0.1 0.7-1.1 1.6-0.7 0-0.2 3.4-1.5 0.9 0.2 0.8-0.8 0.9-0.7 0 0 1-0.7 0 0.4 1.9-0.7 0.2 0 0.8-1.1 1.2-0.2 2.3-1.3 1.4 0.3 1.4-1.4 0.9 0.4 2.1-0.7 0.1 0 1-0.7 0 0 1-1.3 0.8 0 0.8-0.7 0.1-0.6 2-0.7 0 0.3 2.7-0.6 0 0 1-1.4 0.6 0 1-0.6 0-1 3.1-1.4 0.6 0 1-0.6 0 0.3 3-0.7 0 0 1-0.6 0-0.7 2-1.3 0.7 0.1 0.7-0.8 0.3 0 1-0.7 0 0 1-0.6 0 0 1-0.7-0.1 0.1 0.8-1.2 1.7 0.2 2.3-4.1 6.3-1.3 1.5-0.7 0-0.7 2-1-0.2 0.2 1.1-1.3 1.7 0.5 3.1-1-0.5 0 1.6-1.1 0.8-5.6 8.9-0.7-0.2 0 1-0.6 0 0 1-0.8 0.3 0.1 0.7-1-0.2 0.7 3.9-0.7 0 0 1-0.7 0 0 1-1-0.5 0.2 1.4-1.5 2.2-0.7-0.3 0 1.7-0.6 1-0.7-0.2 0 1-0.7 0 0 1-0.8 0.3 0.2 0.7-1-0.5 0 1.7-2 3-0.7-0.2-0.7 2-0.8-0.1 0.2 1.7-0.7 0 0 1.4-0.7 0 0 1.4-0.8-0.1 0.2 1.7-0.7 0 0 1.4-1.1-0.1 0.1 1.9-1.7-1.6-0.6 2.8-0.8-0.1 0.1 1.7-0.7 0 0 1.4-0.8 0.2 0.2 1.6-1-0.5 0 1.8-1.7-1.5 0.1 1.6-0.8 0 0 1.4-1.1-0.1 0.3 1.7-0.8 0 0 1.4-0.7 0 0 1.8-2-1.5 0 1.4-0.8 0.2 0.3 1.4-0.8 0 0 1.4-0.8 0.2 0.2 1.4-0.8 0 0 1.4-0.8 0.2 0.2 1.6-2-1.5 0 1.4-0.8 0.2 0.2 1.3-0.8 0.1 0 1.4-0.8-0.1 0.2 1.6-0.8 0.4 0.1 1.5-2.3-1.5 0.3 1.6-1.1 0.4 0.4 1.4-1.1-0.1 0.5 1.7-0.8 0.3 0.1 1.6-2.3-1.6 0.3 1.7-1-0.3 0.4 1.9-1.1-0.3z"/>
<path fill="#ca0000" d="M530.2 1388.4l-1-1.1-0.7 0.2-0.7-1.1-1.6 1.8-0.4-1-1 0.3-0.6-0.8-0.7 0.5-0.7-0.6-0.6 0.6-0.7-0.6-0.7 0.6-0.6-1.8-1 0.8-1.6-3.9-1.5-1.3 0.6-4 1.7-4.7 4.7-9.3 6.1-8.8 6.3-4 2.7-0.4 3.3 0.4 5.3 2.3 10.7 8.3 2.1 3.8 0.3 3.7-1.1 1.5-0.6 0-0.7 2.1-0.7 0.1 0 1.2-0.6 0 0 1-1.2 1.1 0.3 2-1.5 0.9 0.2 0.8-1.8 3.2-0.7 0 0 1-1.7-0.2 0.2 1-0.9 0.6 0.1 1.1-4 1.2-0.4-0.6-1 0.2-0.6-0.6-1.7 1.3-0.3-0.6-1 0.3-0.7-0.9-1.3 1.1-1-0.8-1.7 1.2-0.7-1.2-1.6 1.2-0.7-1.5zM467.5 1525.4l-1.8-1.1-1.9-5.1-0.3-0.3-0.3 1.2-0.4-0.5-0.7-4.3 0.6-1.7 11.1-14.4 23.4-26.8 18.5-27.8 6.5-7.9 0.7 1.6-2.6 3.3 0.2 1.8-2 2.2 0 0.8-0.7 0.2 0 0.8-0.9 0.2 0.6 2.6-0.8 0.1-0.5 1.8-1 0.1 0 1-0.7 0 0 1-0.7 0 0 1-0.6 0 0 1-0.7 0 0 1-0.7 0 0 1-0.6 0 0.4 2.8-0.8 0.2 0 1-0.7 0.1-0.6 1.8-1 0.1 0 1-0.7-0.1 0.2 1.2-0.8 0.2 0 1-0.7 0 0 1-0.7 0 0 1-0.6-0.1 0 1-1.1-0.1 0.7 3.4-0.6 0 0 1-0.7 0 0 1-1-0.2 0.1 1.1-0.8 1.3-0.6 0 0 1-0.7-0.2 0 1-0.7 0 0 1.1-0.7 0.2 0.1 1.1-1 0 0.1 1.5-0.8 0.3-0.7 2.6-1.6-1.1 0 1.4-1-0.1 0.1 1.3-0.8 0.1 0.1 1.2-0.9 0.3 0.3 1.4-1 0.3-0.5 2.4-2-1 0 1.4-0.8 0.2 0.1 1.1-0.7 0.2 0.1 1.5-0.7 0 0 1.3-0.8 0.2 0.1 1.1-0.8-0.1 0.2 1.7-0.7 0 0 1.4-2.4-1.1 0.2 1.4-0.8 0.2 0.1 1.1-0.9 0 0.1 1.8-0.8 0.2-0.5 2.4-0.8-0.1 0.1 1.8-2.1-1.1 0.2 1.3-0.9 0.4 0.2 1.1-0.8-0.1 0.1 1.8-1-0.1 0.3 1.4-1.1 0.2 0.5 1.5-2.5-1.2 0.1 1.8-0.8 0.2 0.2 1.5-0.8 0.2 0.1 1.1-0.8-0.1 0.1 1.8-2.1-0.8 0.1 1.4-0.8 0.3 0.2 1.4-1.1-0.1z"/>
<path fill="#ad0000" d="M528.8 1380.4l-1-1-0.6 0.5-0.7-0.9-0.7 0.6-0.6-1-1 0.6-0.7-0.6-0.7 0.6-0.6-1.5-1 0.9-2-4 0.6-1.6-0.7-0.7 1-3.3 4.6-9 4.7-6 6.1-3.8 5.7-0.1 5.6 2.4 7.4 5.8 1.3 3.7-0.8 2.3 0.3 1.3-1.5 0.6 0.5 2.1-0.8 0.2 0 1-0.7 0 0 1-0.7 0 0 1-0.6 0 0 1-1.7-0.2 0 1.4-1.7 0.3 0 1.4-2.6 0.5-3 1.9-1-1.4-3.4 2.4-1-1.4-2.6 1.8-0.7-1.2-2.3 2.1-1-1.1zM465.2 1518.9l-1.4-0.6-1.7-3 1.7-3.3 10-12.8 16.8-19.2 2.2-1 0.4 1-0.7 1-1 0.3 0 1-1.4 1.3 0.1 1-0.7 0.4 0 0.8-0.9 0.2 0.1 1-0.9 0.3 0 0.8-0.7 0.2-0.6 2.6-0.9 0.1 0.3 1-1 0.3 0.3 1.1-1 0.1 0 1-1.9-0.2 0.2 1.1-1 0.2 0.1 1-0.8 0.4 0 1.2-0.9 0.1 0.3 1-0.8 0.3 0.1 1.2-0.8 0.2 0.1 1.1-1 0 0.2 1.2-0.9 0.3 0.1 1.2-0.8 0.2 0.1 1.1-2.2-0.5 0.2 1-0.9 0.4 0.2 1.1-0.9 0.2 0.3 1.5-1-0.1 0 1.5-0.9 0.1 0.2 1.5-2.2-0.5 0.2 1.3-0.8 0.4 0.1 1.1-0.9 0.2 0.3 1.1-0.9 0.2 0.2 1.5-2.3-0.5z"/>
<path fill="#8e0000" d="M530.8 1371.4l-2.3-1.3-1 0.4-0.7-0.6-0.6 0.7-0.7-1.5-1 0.8-1.7-2.9 1.3-5.7 5.3-7.3 3.8-2.8 5.3-1.4 5 1.1 6.3 3.9 0.8 1.5 0.2 4.8-2 1.9 0 1.2-1.6 0.1 0 1.2-1.8 0.1 0.1 1.8-5 1.1-4 2.3-1-1.4-2.3 1.7-1-0.8z"/>
<path fill="#6f0000" d="M533.5 1361.4l-1-0.8-2 0.3-2.3-3.9 2-3.5 3-2.3 4.6-1.4 3.7 0.4 2.7 1.4 0.3 2.7-1.4 1.3-0.6 2.4-2.7 0.2 0.1 1.4-2.4 1.1-2-0.8z"/>
<path fill="none" stroke="#222" stroke-opacity="0.6" stroke-width="0.7" d="M504.1 1572.6l9.7-13.5 95.9-168.3M425.6 1403.9l3.4 7.1 8.3 12.4 9.4 24.8 5.6 12.3 6.4 12.2 11.2 29.9M497.0 1569.3l14.6-20.3 98.2-171.5M437.2 1388.5l2.6 6.3 10.2 18.7 8.9 22.5 12.2 24.4 11.1 27.8M474.4 1549.4l-4.6 7.2M573.7 1360.3l-2.8-0.7-3.2-2.3-14.4-15M491.4 1565.0l18.4-25.6 100.6-174.8M445.2 1374.1l2.7 8.2 11.5 23.2 6.8 17.3 9.1 16.1 16 38.7M472.4 1547.1l-3.3 5M556.3 1359.3l-2.4-5.8-3.1-4.3-7.6-7.3-5.9-4.2M486.1 1560.1l22.1-30.4 103-178.5M455.9 1358.1l0 6.8 2.9 9 9.8 19.3 6.3 15.3 2.6 3.6 7.1 6.6 1.8 2.6 1.2 11.8 1.6 6.3 13.2 24.2M470.3 1543.4l-2.1 3.3M541.1 1349.4l-4-5.3-5-4.9-4.7-3.7-5.9-3.2M480.8 1554.7l25.7-35.1 59.6-102.3 11.3-20.8 26.2-45.3 8.5-13.9M467.8 1341.0l-2 5.9-0.2 5.2 1.1 6 2.8 6.7 8.9 13.6 4.9 10.7 2.4 3.8 4.3 3.7 10.6 5.3 2 2.6 0.5 2.6M499.6 1414.1l-2.1 3.7-1 3.2-0.2 3.6 0.8 3.2 1.9 3.5 4.9 6.6 9.7 8.3M468.6 1538.2l-1.6 2.6M571.9 1362.2l-6.8 3M533.0 1350.6l-13.3-16-5.4-4.2-4.9-2.5M475.4 1549.0l29.4-40 55.6-96.1 5.5-8.6 9.7-18.4 28.5-49.5 8.7-14M518.9 1369.8l-2.4-5.3-1.3-4.9 0.1-2.7 1.7-7.3-0.7-5.2-2.6-6.3-4.7-6.7-5.6-4.3-3.8-1.6-3.6-0.7-7.3 0.5-3.5 1.4-3.2 2.1-3.3 4-1.8 4.8-0.3 5.8 1.6 4.7 2.4 3 3.3 2.8 13.9 8.6 1.8 2.7 3.1 7.6 2.6 2.3 6.7 3.7 1 1.7 0.1 3M504.5 1405.8l-1.4 3.5-0.5 3.8 0.9 3.3 2 3.5 2.6 2.6 3.2 2.3 11.3 4.2 2 1.4M467.1 1532.0l-1.4 2.3M470.8 1541.5l32-43.9 44.5-76.5 12.5-22.4 6.3-9.6 5.1-11.5 16.2-29.4 6.5-13.1-0.8 0-2 2.5-17.5 24.2-3.6 3.6-2.6 1.6M510.1 1393.1l-1.4 3.7-0.4 3.1 0.7 3.4 1.9 2.9 2.5 2 4.3 1.7 13.7 2.1 1.6 1.7 0.3 2.9M465.5 1525.8l-1.1 1.7M593.7 1334.3l0.3 0.5 0.2-0.5-0.5 0M594.4 1333.5l0 0M467.6 1530.2l32.9-45.2 32.5-57.1 9.2-17.3 6.6-15.2 8.2-15.4 3.5-4.4 1.9-3.2 0.8-3.4-0.3-2.8-1.6-2.4-2.3-1.3M516.6 1377.4l-1.8 4.5-0.6 3.3 0.8 3.4 1.8 2.3 2.4 1.4 4.1 0.9 11.9-0.4 3.8 0.5 2.7 2 0.9 3.5-1.1 5.1-3 5.9-24.4 39M525.5 1359.7l-2.2 3.4-1.4 3.6-0.2 2.4 0.9 2.7 1.9 1.6 3.6 0.8 8.5-1 9.3-3.4 2.6-1.9 2.2-2.8 1.6-3.7-0.1-3.8-1.9-2.3-2.8-1.2"/>
<path d="M397.3 1423.7L476.0 1594.6L664.2 1508.8" stroke="#444" stroke-width="1" fill="none"/>
<path d="M476.0 1594.6L472.5 1596.2M469.6 1580.8L467.6 1581.7M463.3 1567.0L459.8 1568.6M456.9 1553.3L454.9 1554.2M450.6 1539.5L447.1 1541.0M444.2 1525.7L442.2 1526.6M437.9 1511.9L434.4 1513.5M431.6 1498.1L429.5 1499.0M425.2 1484.3L421.7 1485.9M418.9 1470.6L416.8 1471.5M412.5 1456.8L409.0 1458.4M406.1 1443.0L404.1 1443.9M399.8 1429.2L396.3 1430.8M476.0 1594.6L477.6 1598.1M496.6 1585.2L497.5 1587.2M517.1 1575.9L518.7 1579.3M537.6 1566.5L538.6 1568.5M558.2 1557.1L559.8 1560.6M578.8 1547.8L579.7 1549.8M599.3 1538.4L600.9 1541.9M619.9 1529.1L620.8 1531.1M640.4 1519.7L642.0 1523.2M661.0 1510.3L661.9 1512.3" stroke="#444" stroke-width="1" fill="none"/>
<text transform="translate(470.5 1597.1) rotate(-24)" font-size="12.8" text-anchor="end" fill="#222" dy="0.36em">11550</text>
<text transform="translate(457.8 1569.5) rotate(-24)" font-size="12.8" text-anchor="end" fill="#222" dy="0.36em">11555</text>
<text transform="translate(445.1 1542.0) rotate(-24)" font-size="12.8" text-anchor="end" fill="#222" dy="0.36em">11560</text>
<text transform="translate(432.4 1514.4) rotate(-24)" font-size="12.8" text-anchor="end" fill="#222" dy="0.36em">11565</text>
<text transform="translate(419.7 1486.8) rotate(-24)" font-size="12.8" text-anchor="end" fill="#222" dy="0.36em">11570</text>
<text transform="translate(407.0 1459.3) rotate(-24)" font-size="12.8" text-anchor="end" fill="#222" dy="0.36em">11575</text>
<text transform="translate(394.3 1431.7) rotate(-24)" font-size="12.8" text-anchor="end" fill="#222" dy="0.36em">11580</text>
<text transform="translate(478.5 1600.0) rotate(63)" font-size="12.8" fill="#222" dy="0.36em">11550</text>
<text transform="translate(519.6 1581.3) rotate(63)" font-size="12.8" fill="#222" dy="0.36em">11555</text>
<text transform="translate(560.7 1562.6) rotate(63)" font-size="12.8" fill="#222" dy="0.36em">11560</text>
<text transform="translate(601.8 1543.9) rotate(63)" font-size="12.8" fill="#222" dy="0.36em">11565</text>
<text transform="translate(642.9 1525.1) rotate(63)" font-size="12.8" fill="#222" dy="0.36em">11570</text>
<text transform="translate(363.7 1478.3) rotate(66.3)" font-size="12.2" fill="#222">Incident Energy (eV)</text>
<text transform="translate(532.7 1632.3) rotate(-25.2)" font-size="13.5" fill="#222">Emmission Energy (eV)</text>
<linearGradient id="g3_4" x1="0" y1="0" x2="0" y2="1"><stop offset="0.000" stop-color="#580000"/><stop offset="0.093" stop-color="#960000"/><stop offset="0.200" stop-color="#f00000"/><stop offset="0.340" stop-color="#ff0000"/><stop offset="0.370" stop-color="#ff4000"/><stop offset="0.425" stop-color="#ff9600"/><stop offset="0.500" stop-color="#ffff00"/><stop offset="0.570" stop-color="#beff00"/><stop offset="0.660" stop-color="#00f000"/><stop offset="0.700" stop-color="#00ffaa"/><stop offset="0.730" stop-color="#00ffff"/><stop offset="0.790" stop-color="#008cff"/><stop offset="0.847" stop-color="#0000ff"/><stop offset="0.900" stop-color="#6400ff"/><stop offset="1.000" stop-color="#820096"/></linearGradient>
<rect x="631.5" y="1325.2" width="17.0" height="154.0" fill="url(#g3_4)" stroke="#222" stroke-width="1"/>
<path d="M648.5 1479.2h4M648.5 1448.4h4M648.5 1417.6h4M648.5 1386.8h4M648.5 1356.0h4M648.5 1325.2h4" stroke="#444" stroke-width="1"/>
<text x="658.0" y="1484.4" font-size="14.3" fill="#222">0.0</text>
<text x="658.0" y="1453.6" font-size="14.3" fill="#222">0.2</text>
<text x="658.0" y="1422.8" font-size="14.3" fill="#222">0.4</text>
<text x="658.0" y="1392.0" font-size="14.3" fill="#222">0.6</text>
<text x="658.0" y="1361.2" font-size="14.3" fill="#222">0.8</text>
<text x="658.0" y="1330.4" font-size="14.3" fill="#222">1.0</text>
</svg></body></html>
